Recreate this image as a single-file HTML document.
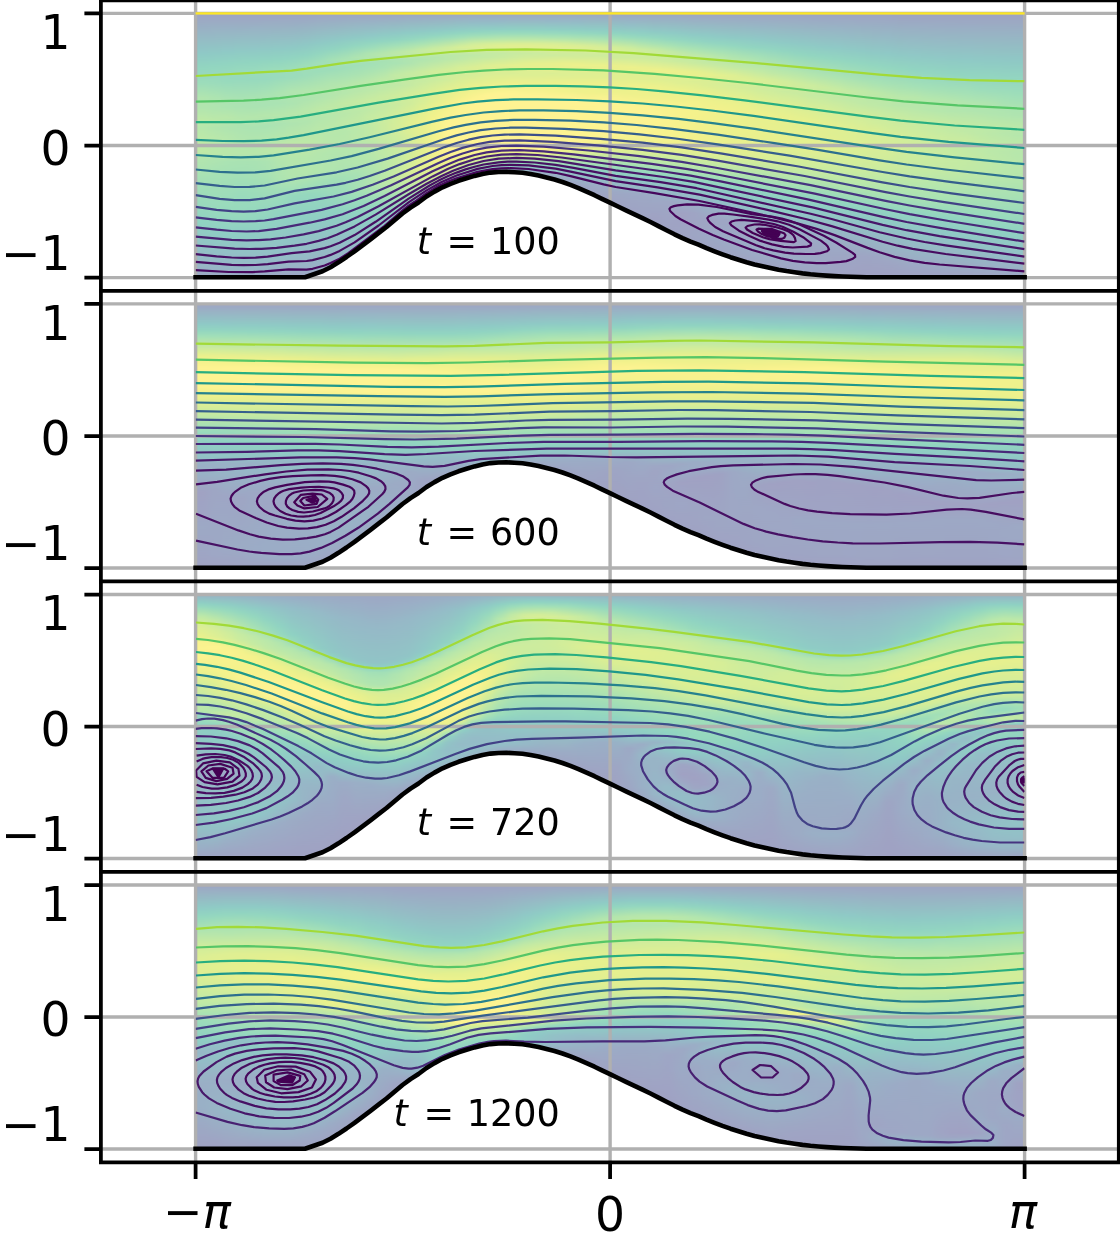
<!DOCTYPE html><html><head><meta charset="utf-8"><title>streamlines</title><style>html,body{margin:0;padding:0;background:#fff}svg{display:block}text{font-family:"DejaVu Sans","Liberation Sans",sans-serif;fill:#000}</style></head><body>
<svg width="1120" height="1240" viewBox="0 0 1120 1240">
<rect width="1120" height="1240" fill="#fff"/>
<defs><clipPath id="c0"><path d="M195.6 13.4 L1024.6 13.4 L1024.6 277.2 L898.5 277.2 L890.5 277.2 L882.5 277.2 L874.5 277.2 L866.5 277.2 L858.5 277 L850.5 276.8 L842.5 276.5 L834.5 276.1 L826.5 275.6 L818.5 275 L810.5 274.3 L802.5 273.4 L794.5 272.3 L786.5 271.1 L778.5 269.7 L770.5 268 L762.5 266.3 L754.5 264.5 L746.5 262.3 L738.5 259.8 L730.5 257.2 L722.5 254.4 L714.5 251.4 L706.5 248.2 L698.5 244.7 L690.5 241.6 L682.5 238.1 L674.5 234.3 L666.5 230.2 L658.5 226.1 L650.5 222 L642.5 218.1 L634.5 214.3 L626.5 210.6 L618.5 206.8 L610.5 202.9 L602.5 199.1 L594.5 195.2 L586.5 191.6 L578.5 188.1 L570.5 184.9 L562.5 182 L554.5 179.5 L546.5 177.6 L538.5 175.6 L530.5 174 L522.5 172.8 L514.5 172.2 L506.5 171.8 L498.5 172 L490.5 172.6 L482.5 173.9 L474.5 175.9 L466.5 178.3 L458.5 180.8 L450.5 183.8 L442.5 187.3 L434.5 191.6 L426.5 196.5 L418.5 202.5 L410.5 207.6 L402.5 213.5 L394.5 220.3 L386.5 227 L378.5 233.2 L370.5 239.3 L362.5 245.3 L354.5 251.3 L346.5 257 L338.5 262.3 L330.5 267.2 L322.5 271.3 L305 277.2 L195.6 277.2Z"/></clipPath><linearGradient id="g0_0" gradientUnits="userSpaceOnUse" x1="0" y1="13.4" x2="0" y2="277.6"><stop offset="0" stop-color="#9fa3c4"/><stop offset=".152" stop-color="#8fc9c6"/><stop offset=".205" stop-color="#92d5c0"/><stop offset=".265" stop-color="#9dddba"/><stop offset=".318" stop-color="#b1e5af"/><stop offset=".356" stop-color="#b1e5af"/><stop offset=".402" stop-color="#bee9a7"/><stop offset=".432" stop-color="#b6e7ac"/><stop offset=".477" stop-color="#bee9a7"/><stop offset=".523" stop-color="#c0e9a6"/><stop offset=".553" stop-color="#b2e5ae"/><stop offset=".591" stop-color="#ade4b1"/><stop offset=".621" stop-color="#a7e1b4"/><stop offset=".788" stop-color="#90d3c2"/><stop offset=".886" stop-color="#92c1c6"/><stop offset=".962" stop-color="#98b4c6"/><stop offset="1" stop-color="#9ea6c4"/></linearGradient><linearGradient id="g0_1" gradientUnits="userSpaceOnUse" x1="0" y1="13.4" x2="0" y2="277.6"><stop offset="0" stop-color="#9fa3c4"/><stop offset=".152" stop-color="#8fc9c6"/><stop offset=".205" stop-color="#92d5c0"/><stop offset=".265" stop-color="#9dddba"/><stop offset=".318" stop-color="#b1e5af"/><stop offset=".356" stop-color="#b1e5af"/><stop offset=".402" stop-color="#bee9a7"/><stop offset=".432" stop-color="#b6e7ac"/><stop offset=".477" stop-color="#bee9a7"/><stop offset=".523" stop-color="#c0e9a6"/><stop offset=".553" stop-color="#b2e5ae"/><stop offset=".591" stop-color="#ade4b1"/><stop offset=".621" stop-color="#a7e1b4"/><stop offset=".788" stop-color="#90d3c2"/><stop offset=".886" stop-color="#92c1c6"/><stop offset=".962" stop-color="#98b4c6"/><stop offset="1" stop-color="#9ea6c4"/></linearGradient><linearGradient id="g0_2" gradientUnits="userSpaceOnUse" x1="0" y1="13.4" x2="0" y2="277.6"><stop offset="0" stop-color="#9fa3c4"/><stop offset=".152" stop-color="#8fc9c6"/><stop offset=".205" stop-color="#92d5c0"/><stop offset=".265" stop-color="#9dddba"/><stop offset=".318" stop-color="#b1e5af"/><stop offset=".356" stop-color="#b1e5af"/><stop offset=".402" stop-color="#bee9a7"/><stop offset=".432" stop-color="#b6e7ac"/><stop offset=".477" stop-color="#bee9a7"/><stop offset=".523" stop-color="#c0e9a6"/><stop offset=".553" stop-color="#b2e5ae"/><stop offset=".591" stop-color="#ade4b1"/><stop offset=".621" stop-color="#a7e1b4"/><stop offset=".788" stop-color="#90d3c2"/><stop offset=".886" stop-color="#92c1c6"/><stop offset=".962" stop-color="#98b4c6"/><stop offset="1" stop-color="#9ea6c4"/></linearGradient><linearGradient id="g0_3" gradientUnits="userSpaceOnUse" x1="0" y1="13.4" x2="0" y2="277.6"><stop offset="0" stop-color="#9fa3c4"/><stop offset=".152" stop-color="#8fcac5"/><stop offset=".197" stop-color="#92d5c1"/><stop offset=".265" stop-color="#9cdcbb"/><stop offset=".318" stop-color="#ade4b1"/><stop offset=".364" stop-color="#b1e5af"/><stop offset=".402" stop-color="#bbe8a9"/><stop offset=".432" stop-color="#b2e5ae"/><stop offset=".477" stop-color="#bae8aa"/><stop offset=".53" stop-color="#bbe8a9"/><stop offset=".553" stop-color="#afe4b0"/><stop offset=".598" stop-color="#a8e2b4"/><stop offset=".735" stop-color="#99dabd"/><stop offset=".826" stop-color="#8fcec4"/><stop offset=".924" stop-color="#94bdc7"/><stop offset=".97" stop-color="#98b3c6"/><stop offset="1" stop-color="#9ea7c5"/></linearGradient><linearGradient id="g0_4" gradientUnits="userSpaceOnUse" x1="0" y1="13.4" x2="0" y2="277.6"><stop offset="0" stop-color="#9fa3c4"/><stop offset=".144" stop-color="#8fc9c6"/><stop offset=".189" stop-color="#91d4c1"/><stop offset=".227" stop-color="#97d9bd"/><stop offset=".258" stop-color="#98dabd"/><stop offset=".326" stop-color="#ace3b2"/><stop offset=".356" stop-color="#ade4b1"/><stop offset=".394" stop-color="#b9e7aa"/><stop offset=".432" stop-color="#afe4b0"/><stop offset=".477" stop-color="#b6e7ac"/><stop offset=".53" stop-color="#b9e7aa"/><stop offset=".561" stop-color="#aae3b3"/><stop offset=".598" stop-color="#a7e1b4"/><stop offset=".705" stop-color="#9bdcbb"/><stop offset=".773" stop-color="#95d8be"/><stop offset=".826" stop-color="#8fcfc4"/><stop offset=".924" stop-color="#94bdc7"/><stop offset=".97" stop-color="#97b5c6"/><stop offset="1" stop-color="#9da8c5"/></linearGradient><linearGradient id="g0_5" gradientUnits="userSpaceOnUse" x1="0" y1="13.4" x2="0" y2="277.6"><stop offset="0" stop-color="#9fa3c4"/><stop offset=".144" stop-color="#8fcac5"/><stop offset=".189" stop-color="#92d5c0"/><stop offset=".22" stop-color="#98dabd"/><stop offset=".25" stop-color="#97d9be"/><stop offset=".326" stop-color="#aae3b3"/><stop offset=".356" stop-color="#ace3b2"/><stop offset=".402" stop-color="#b6e7ac"/><stop offset=".424" stop-color="#ace3b2"/><stop offset=".492" stop-color="#b4e6ad"/><stop offset=".53" stop-color="#b8e7ab"/><stop offset=".561" stop-color="#a9e2b3"/><stop offset=".598" stop-color="#a6e1b5"/><stop offset=".689" stop-color="#9adbbc"/><stop offset=".765" stop-color="#97d9bd"/><stop offset=".818" stop-color="#8fd0c3"/><stop offset=".924" stop-color="#93bec7"/><stop offset=".97" stop-color="#97b6c7"/><stop offset="1" stop-color="#9da9c5"/></linearGradient><linearGradient id="g0_6" gradientUnits="userSpaceOnUse" x1="0" y1="13.4" x2="0" y2="277.6"><stop offset="0" stop-color="#9fa3c4"/><stop offset=".136" stop-color="#90c8c6"/><stop offset=".182" stop-color="#91d4c1"/><stop offset=".22" stop-color="#99dabd"/><stop offset=".25" stop-color="#97d9be"/><stop offset=".318" stop-color="#a9e2b3"/><stop offset=".356" stop-color="#abe3b2"/><stop offset=".394" stop-color="#b5e6ac"/><stop offset=".432" stop-color="#abe3b2"/><stop offset=".53" stop-color="#b8e7ab"/><stop offset=".561" stop-color="#a9e2b3"/><stop offset=".598" stop-color="#a7e1b4"/><stop offset=".689" stop-color="#9bdcbb"/><stop offset=".773" stop-color="#94d7bf"/><stop offset=".833" stop-color="#8fcdc4"/><stop offset=".932" stop-color="#94bdc7"/><stop offset=".97" stop-color="#97b6c7"/><stop offset="1" stop-color="#9da8c5"/></linearGradient><linearGradient id="g0_7" gradientUnits="userSpaceOnUse" x1="0" y1="13.4" x2="0" y2="277.6"><stop offset="0" stop-color="#9fa3c4"/><stop offset=".136" stop-color="#8fc9c5"/><stop offset=".182" stop-color="#92d5c0"/><stop offset=".212" stop-color="#9adbbc"/><stop offset=".25" stop-color="#98dabd"/><stop offset=".311" stop-color="#aae3b3"/><stop offset=".348" stop-color="#aae3b3"/><stop offset=".386" stop-color="#b5e6ac"/><stop offset=".409" stop-color="#b0e4b0"/><stop offset=".424" stop-color="#aae3b3"/><stop offset=".523" stop-color="#bbe8a9"/><stop offset=".561" stop-color="#ace3b2"/><stop offset=".606" stop-color="#a9e2b3"/><stop offset=".788" stop-color="#90d3c2"/><stop offset=".917" stop-color="#93bfc7"/><stop offset=".97" stop-color="#97b4c6"/><stop offset="1" stop-color="#9ea6c5"/></linearGradient><linearGradient id="g0_8" gradientUnits="userSpaceOnUse" x1="0" y1="13.4" x2="0" y2="277.6"><stop offset="0" stop-color="#9fa3c4"/><stop offset=".136" stop-color="#8fcac5"/><stop offset=".174" stop-color="#91d4c1"/><stop offset=".212" stop-color="#9bdcbb"/><stop offset=".242" stop-color="#99dbbc"/><stop offset=".303" stop-color="#ade4b1"/><stop offset=".341" stop-color="#aae3b3"/><stop offset=".386" stop-color="#b6e7ac"/><stop offset=".417" stop-color="#ace3b2"/><stop offset=".455" stop-color="#b2e5ae"/><stop offset=".515" stop-color="#bfe9a7"/><stop offset=".538" stop-color="#b6e7ac"/><stop offset=".561" stop-color="#b2e5ae"/><stop offset=".629" stop-color="#ade4b1"/><stop offset=".689" stop-color="#9cdcbb"/><stop offset=".758" stop-color="#91d4c1"/><stop offset=".871" stop-color="#91c5c6"/><stop offset=".917" stop-color="#93bfc7"/><stop offset=".97" stop-color="#99b1c6"/><stop offset="1" stop-color="#9ea5c4"/></linearGradient><linearGradient id="g0_9" gradientUnits="userSpaceOnUse" x1="0" y1="13.4" x2="0" y2="277.6"><stop offset="0" stop-color="#9fa3c4"/><stop offset=".129" stop-color="#8fc9c5"/><stop offset=".167" stop-color="#91d4c1"/><stop offset=".205" stop-color="#9cdcbb"/><stop offset=".242" stop-color="#9cdcbb"/><stop offset=".295" stop-color="#b1e5af"/><stop offset=".341" stop-color="#ade4b1"/><stop offset=".379" stop-color="#b8e7ab"/><stop offset=".417" stop-color="#afe4b0"/><stop offset=".508" stop-color="#c1e9a5"/><stop offset=".545" stop-color="#b6e7ac"/><stop offset=".621" stop-color="#b2e5ae"/><stop offset=".667" stop-color="#a2dfb8"/><stop offset=".689" stop-color="#96d8be"/><stop offset=".78" stop-color="#8fd0c3"/><stop offset=".856" stop-color="#91c4c6"/><stop offset=".902" stop-color="#92c1c7"/><stop offset=".97" stop-color="#9aafc6"/><stop offset="1" stop-color="#9fa4c4"/></linearGradient><linearGradient id="g0_10" gradientUnits="userSpaceOnUse" x1="0" y1="13.4" x2="0" y2="277.6"><stop offset="0" stop-color="#9fa3c4"/><stop offset=".121" stop-color="#8fc9c5"/><stop offset=".159" stop-color="#91d4c1"/><stop offset=".197" stop-color="#9fdeb9"/><stop offset=".235" stop-color="#9eddba"/><stop offset=".295" stop-color="#b3e6ae"/><stop offset=".326" stop-color="#afe4b0"/><stop offset=".371" stop-color="#bae8aa"/><stop offset=".409" stop-color="#b1e5af"/><stop offset=".5" stop-color="#c0e9a6"/><stop offset=".545" stop-color="#b6e7ac"/><stop offset=".606" stop-color="#b4e6ad"/><stop offset=".659" stop-color="#a1dfb8"/><stop offset=".682" stop-color="#96d8be"/><stop offset=".773" stop-color="#8fd0c3"/><stop offset=".856" stop-color="#92c3c6"/><stop offset=".902" stop-color="#94bdc7"/><stop offset=".97" stop-color="#9aafc6"/><stop offset="1" stop-color="#9fa4c4"/></linearGradient><linearGradient id="g0_11" gradientUnits="userSpaceOnUse" x1="0" y1="13.4" x2="0" y2="277.6"><stop offset="0" stop-color="#9fa4c4"/><stop offset=".114" stop-color="#8fcac5"/><stop offset=".152" stop-color="#93d6c0"/><stop offset=".189" stop-color="#a2dfb8"/><stop offset=".22" stop-color="#9dddba"/><stop offset=".288" stop-color="#b4e6ad"/><stop offset=".318" stop-color="#b1e5af"/><stop offset=".364" stop-color="#bee9a7"/><stop offset=".394" stop-color="#b4e6ad"/><stop offset=".439" stop-color="#bae8aa"/><stop offset=".477" stop-color="#bae8aa"/><stop offset=".5" stop-color="#bce8a8"/><stop offset=".53" stop-color="#b4e6ad"/><stop offset=".598" stop-color="#b3e6ae"/><stop offset=".636" stop-color="#a4e0b6"/><stop offset=".689" stop-color="#95d8be"/><stop offset=".788" stop-color="#8fccc5"/><stop offset=".955" stop-color="#98b2c6"/><stop offset="1" stop-color="#9fa3c4"/></linearGradient><linearGradient id="g0_12" gradientUnits="userSpaceOnUse" x1="0" y1="13.4" x2="0" y2="273.5"><stop offset="0" stop-color="#9fa4c4"/><stop offset=".108" stop-color="#8fcac5"/><stop offset=".138" stop-color="#91d4c1"/><stop offset=".177" stop-color="#a4e0b6"/><stop offset=".2" stop-color="#a2dfb8"/><stop offset=".215" stop-color="#9dddba"/><stop offset=".269" stop-color="#b1e5af"/><stop offset=".292" stop-color="#b5e6ac"/><stop offset=".315" stop-color="#b4e6ad"/><stop offset=".362" stop-color="#c0e9a6"/><stop offset=".392" stop-color="#b6e7ac"/><stop offset=".438" stop-color="#bbe8a9"/><stop offset=".469" stop-color="#b6e7ac"/><stop offset=".5" stop-color="#b9e7aa"/><stop offset=".531" stop-color="#b3e6ae"/><stop offset=".6" stop-color="#b1e5af"/><stop offset=".638" stop-color="#a3e0b7"/><stop offset=".769" stop-color="#8fd1c3"/><stop offset=".954" stop-color="#97b4c6"/><stop offset="1" stop-color="#9ea7c5"/></linearGradient><linearGradient id="g0_13" gradientUnits="userSpaceOnUse" x1="0" y1="13.4" x2="0" y2="265.5"><stop offset="0" stop-color="#9fa4c4"/><stop offset=".103" stop-color="#8fcac5"/><stop offset=".135" stop-color="#92d5c0"/><stop offset=".183" stop-color="#aae3b3"/><stop offset=".214" stop-color="#9fdeb9"/><stop offset=".246" stop-color="#a8e2b4"/><stop offset=".286" stop-color="#b6e7ac"/><stop offset=".317" stop-color="#b6e7ac"/><stop offset=".357" stop-color="#c3eaa4"/><stop offset=".397" stop-color="#b9e7aa"/><stop offset=".437" stop-color="#bfe9a7"/><stop offset=".468" stop-color="#b6e7ac"/><stop offset=".508" stop-color="#b8e7ab"/><stop offset=".54" stop-color="#b4e6ad"/><stop offset=".611" stop-color="#b0e4b0"/><stop offset=".651" stop-color="#a4e0b6"/><stop offset=".738" stop-color="#9adbbc"/><stop offset=".786" stop-color="#90d3c2"/><stop offset=".897" stop-color="#93c0c7"/><stop offset=".96" stop-color="#96b7c7"/><stop offset="1" stop-color="#9badc6"/></linearGradient><linearGradient id="g0_14" gradientUnits="userSpaceOnUse" x1="0" y1="13.4" x2="0" y2="255.5"><stop offset="0" stop-color="#9fa4c4"/><stop offset=".099" stop-color="#8fc9c5"/><stop offset=".132" stop-color="#93d6c0"/><stop offset=".182" stop-color="#afe4b0"/><stop offset=".215" stop-color="#a1dfb8"/><stop offset=".248" stop-color="#a9e2b3"/><stop offset=".289" stop-color="#b9e7aa"/><stop offset=".322" stop-color="#b9e7aa"/><stop offset=".364" stop-color="#c5eaa3"/><stop offset=".405" stop-color="#bce8a8"/><stop offset=".446" stop-color="#c1e9a5"/><stop offset=".479" stop-color="#bae8aa"/><stop offset=".512" stop-color="#bce8a8"/><stop offset=".545" stop-color="#b6e7ac"/><stop offset=".62" stop-color="#b3e6ae"/><stop offset=".669" stop-color="#a7e1b4"/><stop offset=".727" stop-color="#a7e1b4"/><stop offset=".769" stop-color="#9bdcbb"/><stop offset=".826" stop-color="#90d3c2"/><stop offset=".909" stop-color="#91c4c6"/><stop offset=".959" stop-color="#94bcc7"/><stop offset="1" stop-color="#98b2c6"/></linearGradient><linearGradient id="g0_15" gradientUnits="userSpaceOnUse" x1="0" y1="13.4" x2="0" y2="245.5"><stop offset="0" stop-color="#9fa4c4"/><stop offset=".095" stop-color="#90c8c6"/><stop offset=".121" stop-color="#90d3c2"/><stop offset=".147" stop-color="#9cdcbb"/><stop offset=".172" stop-color="#afe4b0"/><stop offset=".19" stop-color="#b2e5ae"/><stop offset=".216" stop-color="#a3e0b7"/><stop offset=".25" stop-color="#abe3b2"/><stop offset=".293" stop-color="#bbe8a9"/><stop offset=".328" stop-color="#bbe8a9"/><stop offset=".371" stop-color="#c8eba1"/><stop offset=".414" stop-color="#c0e9a6"/><stop offset=".448" stop-color="#c6eba2"/><stop offset=".491" stop-color="#c1e9a5"/><stop offset=".526" stop-color="#c1e9a5"/><stop offset=".56" stop-color="#bbe8a9"/><stop offset=".647" stop-color="#b4e6ad"/><stop offset=".69" stop-color="#afe4b0"/><stop offset=".733" stop-color="#b1e5af"/><stop offset=".767" stop-color="#aae3b3"/><stop offset=".81" stop-color="#99dbbc"/><stop offset=".888" stop-color="#8fccc5"/><stop offset=".948" stop-color="#92c2c6"/><stop offset="1" stop-color="#98b3c6"/></linearGradient><linearGradient id="g0_16" gradientUnits="userSpaceOnUse" x1="0" y1="13.4" x2="0" y2="235.5"><stop offset="0" stop-color="#9fa4c4"/><stop offset=".099" stop-color="#8fcbc5"/><stop offset=".126" stop-color="#92d5c0"/><stop offset=".162" stop-color="#a9e2b3"/><stop offset=".18" stop-color="#b5e6ac"/><stop offset=".189" stop-color="#b8e7ab"/><stop offset=".216" stop-color="#a7e1b4"/><stop offset=".243" stop-color="#aae3b3"/><stop offset=".297" stop-color="#bfe9a7"/><stop offset=".333" stop-color="#bee9a7"/><stop offset=".378" stop-color="#caeb9f"/><stop offset=".423" stop-color="#c4eaa3"/><stop offset=".468" stop-color="#cbec9f"/><stop offset=".505" stop-color="#caeb9f"/><stop offset=".532" stop-color="#caeb9f"/><stop offset=".577" stop-color="#c3eaa4"/><stop offset=".703" stop-color="#b9e7aa"/><stop offset=".766" stop-color="#bbe8a9"/><stop offset=".829" stop-color="#a2dfb8"/><stop offset=".901" stop-color="#90d2c2"/><stop offset=".964" stop-color="#93bfc7"/><stop offset="1" stop-color="#97b5c7"/></linearGradient><linearGradient id="g0_17" gradientUnits="userSpaceOnUse" x1="0" y1="13.4" x2="0" y2="225.5"><stop offset="0" stop-color="#9fa4c4"/><stop offset=".094" stop-color="#8fc9c5"/><stop offset=".123" stop-color="#91d4c1"/><stop offset=".151" stop-color="#a2dfb8"/><stop offset=".179" stop-color="#b9e7aa"/><stop offset=".189" stop-color="#bce8a8"/><stop offset=".198" stop-color="#bae8aa"/><stop offset=".217" stop-color="#ace3b2"/><stop offset=".236" stop-color="#aae3b3"/><stop offset=".292" stop-color="#c3eaa4"/><stop offset=".34" stop-color="#c0e9a6"/><stop offset=".387" stop-color="#ceec9d"/><stop offset=".434" stop-color="#c9eba0"/><stop offset=".481" stop-color="#d2ed9a"/><stop offset=".538" stop-color="#d5ed99"/><stop offset=".585" stop-color="#cbec9f"/><stop offset=".708" stop-color="#c5eaa3"/><stop offset=".774" stop-color="#c9eba0"/><stop offset=".811" stop-color="#bbe8a9"/><stop offset=".896" stop-color="#9cdcbb"/><stop offset=".934" stop-color="#8fcfc4"/><stop offset=".991" stop-color="#97b5c7"/><stop offset="1" stop-color="#97b4c6"/></linearGradient><linearGradient id="g0_18" gradientUnits="userSpaceOnUse" x1="0" y1="13.4" x2="0" y2="215.5"><stop offset="0" stop-color="#9ea5c4"/><stop offset=".099" stop-color="#8fccc5"/><stop offset=".129" stop-color="#94d7bf"/><stop offset=".158" stop-color="#a9e2b3"/><stop offset=".188" stop-color="#c0e9a6"/><stop offset=".198" stop-color="#c0e9a6"/><stop offset=".228" stop-color="#afe4b0"/><stop offset=".248" stop-color="#b0e4b0"/><stop offset=".297" stop-color="#c6eba2"/><stop offset=".327" stop-color="#c5eaa3"/><stop offset=".356" stop-color="#c5eaa3"/><stop offset=".396" stop-color="#d2ed9a"/><stop offset=".446" stop-color="#cfec9c"/><stop offset=".505" stop-color="#dbee94"/><stop offset=".545" stop-color="#e1ef91"/><stop offset=".624" stop-color="#d5ed99"/><stop offset=".683" stop-color="#d3ed99"/><stop offset=".762" stop-color="#d6ee98"/><stop offset=".792" stop-color="#d6ee98"/><stop offset=".861" stop-color="#bee9a7"/><stop offset=".891" stop-color="#b3e6ae"/><stop offset=".921" stop-color="#9adbbc"/><stop offset=".941" stop-color="#8fcec4"/><stop offset=".97" stop-color="#94bcc7"/><stop offset="1" stop-color="#96b7c7"/></linearGradient><linearGradient id="g0_19" gradientUnits="userSpaceOnUse" x1="0" y1="13.4" x2="0" y2="207.5"><stop offset="0" stop-color="#9ea5c4"/><stop offset=".093" stop-color="#8fcac5"/><stop offset=".124" stop-color="#93d6c0"/><stop offset=".155" stop-color="#a8e2b4"/><stop offset=".186" stop-color="#c4eaa3"/><stop offset=".196" stop-color="#c6eba2"/><stop offset=".206" stop-color="#c3eaa4"/><stop offset=".227" stop-color="#b4e6ad"/><stop offset=".237" stop-color="#b1e5af"/><stop offset=".268" stop-color="#bbe8a9"/><stop offset=".299" stop-color="#caeb9f"/><stop offset=".32" stop-color="#cbec9f"/><stop offset=".351" stop-color="#c8eba1"/><stop offset=".412" stop-color="#d7ee97"/><stop offset=".454" stop-color="#d7ee97"/><stop offset=".505" stop-color="#e3f08f"/><stop offset=".557" stop-color="#eaf08d"/><stop offset=".608" stop-color="#e5f08f"/><stop offset=".68" stop-color="#e2ef90"/><stop offset=".794" stop-color="#e5f08f"/><stop offset=".825" stop-color="#dbee94"/><stop offset=".887" stop-color="#c6eba2"/><stop offset=".907" stop-color="#b1e5af"/><stop offset=".928" stop-color="#94d7bf"/><stop offset=".938" stop-color="#8fcfc4"/><stop offset=".979" stop-color="#97b5c6"/><stop offset="1" stop-color="#9aafc6"/></linearGradient><linearGradient id="g0_20" gradientUnits="userSpaceOnUse" x1="0" y1="13.4" x2="0" y2="197.5"><stop offset="0" stop-color="#9ea5c4"/><stop offset=".098" stop-color="#8fccc5"/><stop offset=".12" stop-color="#92d5c1"/><stop offset=".152" stop-color="#a7e1b4"/><stop offset=".185" stop-color="#c5eaa3"/><stop offset=".196" stop-color="#cbec9f"/><stop offset=".207" stop-color="#caeb9f"/><stop offset=".228" stop-color="#bae8aa"/><stop offset=".239" stop-color="#b5e6ac"/><stop offset=".261" stop-color="#b9e7aa"/><stop offset=".315" stop-color="#d1ed9b"/><stop offset=".359" stop-color="#cbec9f"/><stop offset=".424" stop-color="#ddef93"/><stop offset=".467" stop-color="#e1ef91"/><stop offset=".522" stop-color="#edf18c"/><stop offset=".576" stop-color="#f3f28c"/><stop offset=".696" stop-color="#f3f28c"/><stop offset=".804" stop-color="#f3f28c"/><stop offset=".848" stop-color="#e3f08f"/><stop offset=".891" stop-color="#d7ee97"/><stop offset=".902" stop-color="#cfec9c"/><stop offset=".913" stop-color="#c3eaa4"/><stop offset=".935" stop-color="#9bdcbb"/><stop offset=".946" stop-color="#8fd1c3"/><stop offset=".967" stop-color="#94bdc7"/><stop offset=".989" stop-color="#97b4c6"/><stop offset="1" stop-color="#98b2c6"/></linearGradient><linearGradient id="g0_21" gradientUnits="userSpaceOnUse" x1="0" y1="13.4" x2="0" y2="191.5"><stop offset="0" stop-color="#9ea5c4"/><stop offset=".09" stop-color="#8fcac5"/><stop offset=".112" stop-color="#91d3c2"/><stop offset=".135" stop-color="#9cdcbb"/><stop offset=".191" stop-color="#ceec9d"/><stop offset=".202" stop-color="#d1ed9b"/><stop offset=".213" stop-color="#cbec9f"/><stop offset=".236" stop-color="#bae8aa"/><stop offset=".258" stop-color="#bbe8a9"/><stop offset=".315" stop-color="#d3ed99"/><stop offset=".337" stop-color="#d3ed99"/><stop offset=".371" stop-color="#d1ed9b"/><stop offset=".427" stop-color="#e2ef90"/><stop offset=".472" stop-color="#e9f08d"/><stop offset=".506" stop-color="#f2f18c"/><stop offset=".629" stop-color="#fef392"/><stop offset=".798" stop-color="#fdf391"/><stop offset=".843" stop-color="#edf18c"/><stop offset=".888" stop-color="#d6ee98"/><stop offset=".899" stop-color="#ceec9d"/><stop offset=".91" stop-color="#c0e9a6"/><stop offset=".933" stop-color="#96d8be"/><stop offset=".944" stop-color="#8fccc5"/><stop offset=".966" stop-color="#96b9c7"/><stop offset="1" stop-color="#9aafc6"/></linearGradient><linearGradient id="g0_22" gradientUnits="userSpaceOnUse" x1="0" y1="13.4" x2="0" y2="187.5"><stop offset="0" stop-color="#9ea5c4"/><stop offset=".092" stop-color="#8fccc5"/><stop offset=".115" stop-color="#93d6c0"/><stop offset=".138" stop-color="#a2dfb8"/><stop offset=".184" stop-color="#cfec9c"/><stop offset=".195" stop-color="#d6ee98"/><stop offset=".207" stop-color="#d3ed99"/><stop offset=".23" stop-color="#c1e9a5"/><stop offset=".241" stop-color="#bce8a8"/><stop offset=".264" stop-color="#c0e9a6"/><stop offset=".31" stop-color="#d6ee98"/><stop offset=".333" stop-color="#d7ee97"/><stop offset=".356" stop-color="#d3ed99"/><stop offset=".402" stop-color="#dfef92"/><stop offset=".46" stop-color="#eef18c"/><stop offset=".506" stop-color="#f8f28e"/><stop offset=".552" stop-color="#fcf390"/><stop offset=".678" stop-color="#fef392"/><stop offset=".805" stop-color="#fef392"/><stop offset=".839" stop-color="#eef18c"/><stop offset=".874" stop-color="#d3ed99"/><stop offset=".897" stop-color="#bee9a7"/><stop offset=".92" stop-color="#9cdcbb"/><stop offset=".931" stop-color="#8fd0c3"/><stop offset=".954" stop-color="#95b9c7"/><stop offset=".977" stop-color="#9badc6"/><stop offset="1" stop-color="#9da9c5"/></linearGradient><linearGradient id="g0_23" gradientUnits="userSpaceOnUse" x1="0" y1="13.4" x2="0" y2="183.5"><stop offset="0" stop-color="#9ea6c4"/><stop offset=".059" stop-color="#93bec7"/><stop offset=".106" stop-color="#90d3c2"/><stop offset=".129" stop-color="#9dddba"/><stop offset=".176" stop-color="#cdec9e"/><stop offset=".188" stop-color="#d6ee98"/><stop offset=".2" stop-color="#daee95"/><stop offset=".212" stop-color="#d5ed99"/><stop offset=".235" stop-color="#c3eaa4"/><stop offset=".247" stop-color="#bfe9a7"/><stop offset=".282" stop-color="#cbec9f"/><stop offset=".318" stop-color="#dbee94"/><stop offset=".365" stop-color="#d6ee98"/><stop offset=".435" stop-color="#edf18c"/><stop offset=".506" stop-color="#fdf391"/><stop offset=".812" stop-color="#fef392"/><stop offset=".835" stop-color="#f0f18c"/><stop offset=".859" stop-color="#ddef93"/><stop offset=".894" stop-color="#b8e7ab"/><stop offset=".918" stop-color="#97d9bd"/><stop offset=".929" stop-color="#8fcec4"/><stop offset=".953" stop-color="#96b8c7"/><stop offset=".988" stop-color="#9cabc5"/><stop offset="1" stop-color="#9da8c5"/></linearGradient><linearGradient id="g0_24" gradientUnits="userSpaceOnUse" x1="0" y1="13.4" x2="0" y2="179.5"><stop offset="0" stop-color="#9ea6c4"/><stop offset=".06" stop-color="#93bec7"/><stop offset=".096" stop-color="#8fcfc4"/><stop offset=".12" stop-color="#97d9bd"/><stop offset=".145" stop-color="#abe3b2"/><stop offset=".181" stop-color="#d3ed99"/><stop offset=".193" stop-color="#dbee94"/><stop offset=".205" stop-color="#ddef93"/><stop offset=".217" stop-color="#d6ee98"/><stop offset=".229" stop-color="#caeb9f"/><stop offset=".241" stop-color="#c4eaa3"/><stop offset=".265" stop-color="#c5eaa3"/><stop offset=".313" stop-color="#ddef93"/><stop offset=".337" stop-color="#deef93"/><stop offset=".361" stop-color="#d9ee96"/><stop offset=".398" stop-color="#e1ef91"/><stop offset=".446" stop-color="#f0f18c"/><stop offset=".494" stop-color="#fef392"/><stop offset=".819" stop-color="#fef392"/><stop offset=".843" stop-color="#f0f18c"/><stop offset=".855" stop-color="#e5f08f"/><stop offset=".904" stop-color="#ade4b1"/><stop offset=".928" stop-color="#91d3c2"/><stop offset=".94" stop-color="#90c7c6"/><stop offset=".964" stop-color="#98b2c6"/><stop offset=".988" stop-color="#9da9c5"/><stop offset="1" stop-color="#9ea7c5"/></linearGradient><linearGradient id="g0_25" gradientUnits="userSpaceOnUse" x1="0" y1="13.4" x2="0" y2="179.5"><stop offset="0" stop-color="#9ea6c4"/><stop offset=".048" stop-color="#95b9c7"/><stop offset=".096" stop-color="#8fcfc4"/><stop offset=".12" stop-color="#99dabd"/><stop offset=".157" stop-color="#bbe8a9"/><stop offset=".181" stop-color="#d6ee98"/><stop offset=".193" stop-color="#dfef92"/><stop offset=".205" stop-color="#dfef92"/><stop offset=".229" stop-color="#cbec9f"/><stop offset=".241" stop-color="#c5eaa3"/><stop offset=".265" stop-color="#c9eba0"/><stop offset=".313" stop-color="#e1ef91"/><stop offset=".337" stop-color="#dfef92"/><stop offset=".361" stop-color="#daee95"/><stop offset=".398" stop-color="#e3f08f"/><stop offset=".446" stop-color="#f3f28c"/><stop offset=".482" stop-color="#fef392"/><stop offset=".819" stop-color="#fef392"/><stop offset=".831" stop-color="#f6f28d"/><stop offset=".843" stop-color="#e9f08d"/><stop offset=".892" stop-color="#ace3b2"/><stop offset=".916" stop-color="#91d4c1"/><stop offset=".928" stop-color="#90c8c6"/><stop offset=".952" stop-color="#99b1c6"/><stop offset=".976" stop-color="#9caac5"/><stop offset=".988" stop-color="#9da8c5"/><stop offset="1" stop-color="#a0a1c3"/></linearGradient><linearGradient id="g0_26" gradientUnits="userSpaceOnUse" x1="0" y1="13.4" x2="0" y2="179.5"><stop offset="0" stop-color="#9ea6c4"/><stop offset=".036" stop-color="#98b4c6"/><stop offset=".096" stop-color="#8fd0c3"/><stop offset=".12" stop-color="#99dbbc"/><stop offset=".157" stop-color="#bce8a8"/><stop offset=".181" stop-color="#d9ee96"/><stop offset=".193" stop-color="#e1ef91"/><stop offset=".205" stop-color="#e1ef91"/><stop offset=".229" stop-color="#cdec9e"/><stop offset=".241" stop-color="#c8eba1"/><stop offset=".265" stop-color="#cdec9e"/><stop offset=".313" stop-color="#e5f08f"/><stop offset=".361" stop-color="#daee95"/><stop offset=".422" stop-color="#eef18c"/><stop offset=".482" stop-color="#fef392"/><stop offset=".819" stop-color="#fef392"/><stop offset=".831" stop-color="#f3f28c"/><stop offset=".843" stop-color="#e5f08f"/><stop offset=".892" stop-color="#a4e0b6"/><stop offset=".904" stop-color="#97d9bd"/><stop offset=".916" stop-color="#8fd0c3"/><stop offset=".952" stop-color="#9aafc6"/><stop offset=".976" stop-color="#9da8c5"/><stop offset="1" stop-color="#a0a1c3"/></linearGradient><linearGradient id="g0_27" gradientUnits="userSpaceOnUse" x1="0" y1="13.4" x2="0" y2="179.5"><stop offset="0" stop-color="#9ea6c4"/><stop offset=".036" stop-color="#98b4c6"/><stop offset=".096" stop-color="#8fd0c3"/><stop offset=".12" stop-color="#99dbbc"/><stop offset=".157" stop-color="#bce8a8"/><stop offset=".181" stop-color="#d9ee96"/><stop offset=".193" stop-color="#e1ef91"/><stop offset=".205" stop-color="#e1ef91"/><stop offset=".229" stop-color="#cfec9c"/><stop offset=".241" stop-color="#caeb9f"/><stop offset=".265" stop-color="#d1ed9b"/><stop offset=".301" stop-color="#e3f08f"/><stop offset=".325" stop-color="#e6f08e"/><stop offset=".349" stop-color="#ddef93"/><stop offset=".373" stop-color="#ddef93"/><stop offset=".434" stop-color="#f0f18c"/><stop offset=".494" stop-color="#fef392"/><stop offset=".819" stop-color="#fef392"/><stop offset=".831" stop-color="#f3f28c"/><stop offset=".843" stop-color="#e5f08f"/><stop offset=".892" stop-color="#a2dfb7"/><stop offset=".904" stop-color="#97d9be"/><stop offset=".916" stop-color="#8fd0c3"/><stop offset=".952" stop-color="#99b0c6"/><stop offset=".976" stop-color="#9ea5c4"/><stop offset="1" stop-color="#9fa2c3"/></linearGradient><linearGradient id="g0_28" gradientUnits="userSpaceOnUse" x1="0" y1="13.4" x2="0" y2="183.5"><stop offset="0" stop-color="#9ea6c4"/><stop offset=".035" stop-color="#98b4c6"/><stop offset=".094" stop-color="#8fd0c3"/><stop offset=".118" stop-color="#99dabd"/><stop offset=".153" stop-color="#bbe8a9"/><stop offset=".176" stop-color="#d7ee97"/><stop offset=".188" stop-color="#dfef92"/><stop offset=".2" stop-color="#e1ef91"/><stop offset=".235" stop-color="#cbec9f"/><stop offset=".259" stop-color="#d2ed9a"/><stop offset=".294" stop-color="#e6f08e"/><stop offset=".318" stop-color="#e7f08e"/><stop offset=".341" stop-color="#ddef93"/><stop offset=".365" stop-color="#ddef93"/><stop offset=".424" stop-color="#eff18c"/><stop offset=".482" stop-color="#fef392"/><stop offset=".8" stop-color="#fdf391"/><stop offset=".812" stop-color="#f3f28c"/><stop offset=".824" stop-color="#e6f08e"/><stop offset=".871" stop-color="#a5e1b6"/><stop offset=".882" stop-color="#99dabd"/><stop offset=".894" stop-color="#90d3c2"/><stop offset=".906" stop-color="#8fcac5"/><stop offset=".941" stop-color="#9aaec6"/><stop offset=".965" stop-color="#9ea5c4"/><stop offset="1" stop-color="#a0a1c3"/></linearGradient><linearGradient id="g0_29" gradientUnits="userSpaceOnUse" x1="0" y1="13.4" x2="0" y2="185.5"><stop offset="0" stop-color="#9ea6c4"/><stop offset=".047" stop-color="#95b9c7"/><stop offset=".093" stop-color="#8fcfc4"/><stop offset=".116" stop-color="#98dabd"/><stop offset=".14" stop-color="#ace3b2"/><stop offset=".174" stop-color="#d5ed99"/><stop offset=".186" stop-color="#deef93"/><stop offset=".198" stop-color="#e1ef91"/><stop offset=".221" stop-color="#d2ed9a"/><stop offset=".244" stop-color="#ceec9d"/><stop offset=".291" stop-color="#e7f08e"/><stop offset=".314" stop-color="#e9f08d"/><stop offset=".349" stop-color="#dbee94"/><stop offset=".384" stop-color="#e5f08f"/><stop offset=".407" stop-color="#edf18c"/><stop offset=".453" stop-color="#f6f28d"/><stop offset=".488" stop-color="#fef392"/><stop offset=".779" stop-color="#fef392"/><stop offset=".802" stop-color="#f0f18c"/><stop offset=".814" stop-color="#e5f08f"/><stop offset=".86" stop-color="#a9e2b3"/><stop offset=".884" stop-color="#94d7bf"/><stop offset=".895" stop-color="#8fcfc4"/><stop offset=".942" stop-color="#9badc6"/><stop offset=".965" stop-color="#9ea5c4"/><stop offset="1" stop-color="#a0a2c3"/></linearGradient><linearGradient id="g0_30" gradientUnits="userSpaceOnUse" x1="0" y1="13.4" x2="0" y2="189.5"><stop offset="0" stop-color="#9ea6c4"/><stop offset=".045" stop-color="#96b9c7"/><stop offset=".091" stop-color="#8fcec4"/><stop offset=".114" stop-color="#97d9be"/><stop offset=".148" stop-color="#b6e7ac"/><stop offset=".17" stop-color="#d2ed9a"/><stop offset=".182" stop-color="#dbee94"/><stop offset=".193" stop-color="#dfef92"/><stop offset=".227" stop-color="#cfec9c"/><stop offset=".239" stop-color="#cfec9c"/><stop offset=".284" stop-color="#e9f08d"/><stop offset=".307" stop-color="#eaf08d"/><stop offset=".33" stop-color="#deef93"/><stop offset=".352" stop-color="#ddef93"/><stop offset=".398" stop-color="#edf18c"/><stop offset=".443" stop-color="#f3f28c"/><stop offset=".477" stop-color="#fef392"/><stop offset=".75" stop-color="#fdf391"/><stop offset=".773" stop-color="#f3f28c"/><stop offset=".795" stop-color="#e1ef91"/><stop offset=".841" stop-color="#ade4b1"/><stop offset=".864" stop-color="#98dabd"/><stop offset=".875" stop-color="#91d4c1"/><stop offset=".898" stop-color="#90c6c6"/><stop offset=".943" stop-color="#9da9c5"/><stop offset="1" stop-color="#a0a2c3"/></linearGradient><linearGradient id="g0_31" gradientUnits="userSpaceOnUse" x1="0" y1="13.4" x2="0" y2="195.5"><stop offset="0" stop-color="#9ea6c4"/><stop offset=".055" stop-color="#93bec7"/><stop offset=".088" stop-color="#8fcec4"/><stop offset=".11" stop-color="#95d8be"/><stop offset=".132" stop-color="#a7e1b4"/><stop offset=".176" stop-color="#d9ee96"/><stop offset=".187" stop-color="#deef93"/><stop offset=".209" stop-color="#d5ed99"/><stop offset=".22" stop-color="#cfec9c"/><stop offset=".242" stop-color="#d3ed99"/><stop offset=".275" stop-color="#e9f08d"/><stop offset=".286" stop-color="#edf18c"/><stop offset=".308" stop-color="#e6f08e"/><stop offset=".33" stop-color="#ddef93"/><stop offset=".352" stop-color="#e1ef91"/><stop offset=".385" stop-color="#edf18c"/><stop offset=".429" stop-color="#f0f18c"/><stop offset=".473" stop-color="#fef392"/><stop offset=".703" stop-color="#fdf391"/><stop offset=".736" stop-color="#f3f28c"/><stop offset=".758" stop-color="#e3f08f"/><stop offset=".802" stop-color="#bbe8a9"/><stop offset=".835" stop-color="#9bdcbb"/><stop offset=".857" stop-color="#90d2c2"/><stop offset=".89" stop-color="#93bfc7"/><stop offset=".923" stop-color="#9cabc6"/><stop offset=".967" stop-color="#9fa2c3"/><stop offset="1" stop-color="#a0a2c3"/></linearGradient><linearGradient id="g0_32" gradientUnits="userSpaceOnUse" x1="0" y1="13.4" x2="0" y2="199.5"><stop offset="0" stop-color="#9ea6c4"/><stop offset=".086" stop-color="#8fccc5"/><stop offset=".108" stop-color="#94d7bf"/><stop offset=".14" stop-color="#b0e4b0"/><stop offset=".172" stop-color="#d5ed99"/><stop offset=".183" stop-color="#dbee94"/><stop offset=".194" stop-color="#dbee94"/><stop offset=".215" stop-color="#d1ed9b"/><stop offset=".226" stop-color="#cfec9c"/><stop offset=".28" stop-color="#ebf18c"/><stop offset=".301" stop-color="#e7f08e"/><stop offset=".323" stop-color="#deef93"/><stop offset=".344" stop-color="#e1ef91"/><stop offset=".376" stop-color="#edf18c"/><stop offset=".43" stop-color="#f2f18c"/><stop offset=".473" stop-color="#fef392"/><stop offset=".677" stop-color="#fcf390"/><stop offset=".72" stop-color="#eef18c"/><stop offset=".763" stop-color="#cdec9e"/><stop offset=".817" stop-color="#9eddba"/><stop offset=".839" stop-color="#91d4c1"/><stop offset=".871" stop-color="#90c6c6"/><stop offset=".925" stop-color="#9caac5"/><stop offset=".978" stop-color="#a0a2c3"/><stop offset="1" stop-color="#a0a1c3"/></linearGradient><linearGradient id="g0_33" gradientUnits="userSpaceOnUse" x1="0" y1="13.4" x2="0" y2="207.5"><stop offset="0" stop-color="#9ea5c4"/><stop offset=".082" stop-color="#8fccc5"/><stop offset=".103" stop-color="#92d5c0"/><stop offset=".134" stop-color="#abe3b2"/><stop offset=".165" stop-color="#cfec9c"/><stop offset=".175" stop-color="#d7ee97"/><stop offset=".186" stop-color="#daee95"/><stop offset=".216" stop-color="#ceec9d"/><stop offset=".237" stop-color="#d7ee97"/><stop offset=".268" stop-color="#ebf18c"/><stop offset=".289" stop-color="#eaf08d"/><stop offset=".309" stop-color="#dfef92"/><stop offset=".33" stop-color="#e1ef91"/><stop offset=".361" stop-color="#edf18c"/><stop offset=".402" stop-color="#eef18c"/><stop offset=".454" stop-color="#fef392"/><stop offset=".619" stop-color="#fef392"/><stop offset=".68" stop-color="#eff18c"/><stop offset=".711" stop-color="#dbee94"/><stop offset=".784" stop-color="#a0deb9"/><stop offset=".814" stop-color="#90d2c2"/><stop offset=".856" stop-color="#92c1c7"/><stop offset=".897" stop-color="#9cabc5"/><stop offset=".959" stop-color="#a0a2c3"/><stop offset="1" stop-color="#a0a1c3"/></linearGradient><linearGradient id="g0_34" gradientUnits="userSpaceOnUse" x1="0" y1="13.4" x2="0" y2="213.5"><stop offset="0" stop-color="#9ea5c4"/><stop offset=".08" stop-color="#8fcac5"/><stop offset=".1" stop-color="#91d4c1"/><stop offset=".13" stop-color="#a6e1b5"/><stop offset=".17" stop-color="#d2ed9a"/><stop offset=".18" stop-color="#d6ee98"/><stop offset=".21" stop-color="#ceec9d"/><stop offset=".22" stop-color="#cfec9c"/><stop offset=".26" stop-color="#eaf08d"/><stop offset=".28" stop-color="#ebf18c"/><stop offset=".3" stop-color="#e1ef91"/><stop offset=".32" stop-color="#e1ef91"/><stop offset=".36" stop-color="#eef18c"/><stop offset=".39" stop-color="#edf18c"/><stop offset=".45" stop-color="#fef392"/><stop offset=".6" stop-color="#fcf390"/><stop offset=".66" stop-color="#edf18c"/><stop offset=".69" stop-color="#daee95"/><stop offset=".76" stop-color="#a2dfb8"/><stop offset=".79" stop-color="#91d4c1"/><stop offset=".82" stop-color="#8fc9c6"/><stop offset=".89" stop-color="#9da9c5"/><stop offset=".98" stop-color="#a0a1c3"/><stop offset="1" stop-color="#a0a1c3"/></linearGradient><linearGradient id="g0_35" gradientUnits="userSpaceOnUse" x1="0" y1="13.4" x2="0" y2="219.5"><stop offset="0" stop-color="#9ea5c4"/><stop offset=".058" stop-color="#93bfc7"/><stop offset=".097" stop-color="#90d2c2"/><stop offset=".117" stop-color="#99dbbc"/><stop offset=".165" stop-color="#cbec9f"/><stop offset=".175" stop-color="#d2ed9a"/><stop offset=".194" stop-color="#d1ed9b"/><stop offset=".214" stop-color="#ceec9d"/><stop offset=".262" stop-color="#edf18c"/><stop offset=".282" stop-color="#e9f08d"/><stop offset=".301" stop-color="#dfef92"/><stop offset=".32" stop-color="#e3f08f"/><stop offset=".35" stop-color="#eef18c"/><stop offset=".388" stop-color="#eef18c"/><stop offset=".447" stop-color="#fdf391"/><stop offset=".573" stop-color="#fdf391"/><stop offset=".641" stop-color="#ebf18c"/><stop offset=".67" stop-color="#dbee94"/><stop offset=".728" stop-color="#abe3b2"/><stop offset=".767" stop-color="#94d7bf"/><stop offset=".796" stop-color="#8fccc5"/><stop offset=".874" stop-color="#9da8c5"/><stop offset="1" stop-color="#a0a1c3"/></linearGradient><linearGradient id="g0_36" gradientUnits="userSpaceOnUse" x1="0" y1="13.4" x2="0" y2="225.5"><stop offset="0" stop-color="#9ea5c4"/><stop offset=".085" stop-color="#8fccc5"/><stop offset=".104" stop-color="#91d4c1"/><stop offset=".132" stop-color="#a4e0b6"/><stop offset=".17" stop-color="#cbec9f"/><stop offset=".189" stop-color="#cfec9c"/><stop offset=".208" stop-color="#cdec9e"/><stop offset=".226" stop-color="#d6ee98"/><stop offset=".255" stop-color="#eaf08d"/><stop offset=".274" stop-color="#ebf18c"/><stop offset=".292" stop-color="#e1ef91"/><stop offset=".311" stop-color="#e1ef91"/><stop offset=".34" stop-color="#edf18c"/><stop offset=".387" stop-color="#eff18c"/><stop offset=".434" stop-color="#fbf38f"/><stop offset=".481" stop-color="#fef392"/><stop offset=".566" stop-color="#fbf38f"/><stop offset=".623" stop-color="#ebf18c"/><stop offset=".66" stop-color="#d5ed99"/><stop offset=".717" stop-color="#a8e2b4"/><stop offset=".755" stop-color="#93d6c0"/><stop offset=".783" stop-color="#8fcbc5"/><stop offset=".83" stop-color="#97b5c6"/><stop offset=".858" stop-color="#9da8c5"/><stop offset="1" stop-color="#a0a1c3"/></linearGradient><linearGradient id="g0_37" gradientUnits="userSpaceOnUse" x1="0" y1="13.4" x2="0" y2="231.5"><stop offset="0" stop-color="#9ea5c4"/><stop offset=".083" stop-color="#8fc9c5"/><stop offset=".11" stop-color="#93d6c0"/><stop offset=".138" stop-color="#a7e1b4"/><stop offset=".165" stop-color="#c4eaa3"/><stop offset=".174" stop-color="#caeb9f"/><stop offset=".211" stop-color="#cdec9e"/><stop offset=".257" stop-color="#edf18c"/><stop offset=".275" stop-color="#e9f08d"/><stop offset=".294" stop-color="#dfef92"/><stop offset=".312" stop-color="#e3f08f"/><stop offset=".339" stop-color="#eef18c"/><stop offset=".376" stop-color="#eef18c"/><stop offset=".413" stop-color="#f8f28e"/><stop offset=".468" stop-color="#fdf391"/><stop offset=".569" stop-color="#f7f28d"/><stop offset=".615" stop-color="#e9f08d"/><stop offset=".661" stop-color="#c9eba0"/><stop offset=".716" stop-color="#a1dfb8"/><stop offset=".752" stop-color="#8fd1c3"/><stop offset=".807" stop-color="#95bac7"/><stop offset=".844" stop-color="#9da9c5"/><stop offset=".936" stop-color="#9fa2c3"/><stop offset="1" stop-color="#a0a1c3"/></linearGradient><linearGradient id="g0_38" gradientUnits="userSpaceOnUse" x1="0" y1="13.4" x2="0" y2="237.5"><stop offset="0" stop-color="#9ea5c4"/><stop offset=".089" stop-color="#8fccc5"/><stop offset=".116" stop-color="#94d7bf"/><stop offset=".143" stop-color="#a9e2b3"/><stop offset=".17" stop-color="#c3eaa4"/><stop offset=".188" stop-color="#c9eba0"/><stop offset=".214" stop-color="#ceec9d"/><stop offset=".25" stop-color="#eaf08d"/><stop offset=".259" stop-color="#edf18c"/><stop offset=".295" stop-color="#deef93"/><stop offset=".339" stop-color="#edf18c"/><stop offset=".375" stop-color="#eff18c"/><stop offset=".402" stop-color="#f7f28d"/><stop offset=".473" stop-color="#f9f28f"/><stop offset=".562" stop-color="#f6f28d"/><stop offset=".598" stop-color="#eaf08d"/><stop offset=".652" stop-color="#c6eba2"/><stop offset=".714" stop-color="#9adbbc"/><stop offset=".741" stop-color="#8fd0c3"/><stop offset=".812" stop-color="#98b3c6"/><stop offset=".839" stop-color="#9ea7c5"/><stop offset="1" stop-color="#a0a1c3"/></linearGradient><linearGradient id="g0_39" gradientUnits="userSpaceOnUse" x1="0" y1="13.4" x2="0" y2="245.5"><stop offset="0" stop-color="#9ea5c4"/><stop offset=".086" stop-color="#8fcac5"/><stop offset=".112" stop-color="#92d5c1"/><stop offset=".138" stop-color="#a2dfb7"/><stop offset=".172" stop-color="#c1e9a5"/><stop offset=".207" stop-color="#caeb9f"/><stop offset=".25" stop-color="#eaf08d"/><stop offset=".259" stop-color="#ebf18c"/><stop offset=".284" stop-color="#deef93"/><stop offset=".302" stop-color="#dfef92"/><stop offset=".328" stop-color="#ebf18c"/><stop offset=".371" stop-color="#f0f18c"/><stop offset=".397" stop-color="#f7f28d"/><stop offset=".543" stop-color="#f4f28c"/><stop offset=".578" stop-color="#ebf18c"/><stop offset=".612" stop-color="#d6ee98"/><stop offset=".681" stop-color="#a4e0b6"/><stop offset=".716" stop-color="#91d4c1"/><stop offset=".75" stop-color="#91c5c6"/><stop offset=".793" stop-color="#97b6c7"/><stop offset=".81" stop-color="#9bacc6"/><stop offset=".862" stop-color="#a0a2c3"/><stop offset=".931" stop-color="#9fa4c4"/><stop offset="1" stop-color="#a0a1c3"/></linearGradient><linearGradient id="g0_40" gradientUnits="userSpaceOnUse" x1="0" y1="13.4" x2="0" y2="249.5"><stop offset="0" stop-color="#9fa4c4"/><stop offset=".093" stop-color="#8fcbc5"/><stop offset=".119" stop-color="#93d6c0"/><stop offset=".153" stop-color="#abe3b2"/><stop offset=".178" stop-color="#c0e9a6"/><stop offset=".212" stop-color="#caeb9f"/><stop offset=".246" stop-color="#e6f08e"/><stop offset=".263" stop-color="#e9f08d"/><stop offset=".288" stop-color="#dbee94"/><stop offset=".339" stop-color="#ebf18c"/><stop offset=".381" stop-color="#f3f28c"/><stop offset=".407" stop-color="#f4f28c"/><stop offset=".542" stop-color="#f2f18c"/><stop offset=".568" stop-color="#edf18c"/><stop offset=".61" stop-color="#d2ed9a"/><stop offset=".661" stop-color="#b1e5af"/><stop offset=".703" stop-color="#95d8bf"/><stop offset=".729" stop-color="#8fcdc4"/><stop offset=".788" stop-color="#96b8c7"/><stop offset=".814" stop-color="#9cabc6"/><stop offset=".847" stop-color="#9fa4c4"/><stop offset=".941" stop-color="#9ea5c4"/><stop offset="1" stop-color="#a0a1c3"/></linearGradient><linearGradient id="g0_41" gradientUnits="userSpaceOnUse" x1="0" y1="13.4" x2="0" y2="255.5"><stop offset="0" stop-color="#9fa4c4"/><stop offset=".091" stop-color="#8fcac5"/><stop offset=".116" stop-color="#91d3c2"/><stop offset=".14" stop-color="#9eddba"/><stop offset=".174" stop-color="#bae8aa"/><stop offset=".207" stop-color="#c5eaa3"/><stop offset=".248" stop-color="#e5f08f"/><stop offset=".256" stop-color="#e7f08e"/><stop offset=".281" stop-color="#daee95"/><stop offset=".298" stop-color="#dbee94"/><stop offset=".331" stop-color="#e9f08d"/><stop offset=".372" stop-color="#f0f18c"/><stop offset=".397" stop-color="#f3f28c"/><stop offset=".421" stop-color="#f2f18c"/><stop offset=".537" stop-color="#eff18c"/><stop offset=".57" stop-color="#e5f08f"/><stop offset=".653" stop-color="#b0e4b0"/><stop offset=".694" stop-color="#95d8bf"/><stop offset=".719" stop-color="#8fcdc4"/><stop offset=".777" stop-color="#95bac7"/><stop offset=".802" stop-color="#9aafc6"/><stop offset=".851" stop-color="#9ea5c4"/><stop offset=".917" stop-color="#9da8c5"/><stop offset="1" stop-color="#a0a1c3"/></linearGradient><linearGradient id="g0_42" gradientUnits="userSpaceOnUse" x1="0" y1="13.4" x2="0" y2="261.5"><stop offset="0" stop-color="#9fa4c4"/><stop offset=".097" stop-color="#8fcbc5"/><stop offset=".121" stop-color="#92d5c1"/><stop offset=".153" stop-color="#a6e1b5"/><stop offset=".177" stop-color="#b8e7ab"/><stop offset=".21" stop-color="#c5eaa3"/><stop offset=".25" stop-color="#e3f08f"/><stop offset=".266" stop-color="#e1ef91"/><stop offset=".282" stop-color="#d7ee97"/><stop offset=".298" stop-color="#daee95"/><stop offset=".339" stop-color="#e9f08d"/><stop offset=".363" stop-color="#edf18c"/><stop offset=".387" stop-color="#f2f18c"/><stop offset=".419" stop-color="#eff18c"/><stop offset=".444" stop-color="#f0f18c"/><stop offset=".548" stop-color="#e9f08d"/><stop offset=".589" stop-color="#d2ed9a"/><stop offset=".661" stop-color="#a3e0b7"/><stop offset=".694" stop-color="#91d4c1"/><stop offset=".726" stop-color="#90c8c6"/><stop offset=".766" stop-color="#94bdc7"/><stop offset=".79" stop-color="#98b3c6"/><stop offset=".831" stop-color="#9ea5c4"/><stop offset=".903" stop-color="#9caac5"/><stop offset=".992" stop-color="#a0a1c3"/><stop offset="1" stop-color="#a0a1c3"/></linearGradient><linearGradient id="g0_43" gradientUnits="userSpaceOnUse" x1="0" y1="13.4" x2="0" y2="265.5"><stop offset="0" stop-color="#9fa4c4"/><stop offset=".095" stop-color="#8fc9c5"/><stop offset=".127" stop-color="#93d6c0"/><stop offset=".167" stop-color="#ace3b2"/><stop offset=".19" stop-color="#b9e7aa"/><stop offset=".214" stop-color="#c4eaa3"/><stop offset=".246" stop-color="#deef93"/><stop offset=".262" stop-color="#dfef92"/><stop offset=".286" stop-color="#d3ed99"/><stop offset=".333" stop-color="#e5f08f"/><stop offset=".365" stop-color="#edf18c"/><stop offset=".389" stop-color="#f0f18c"/><stop offset=".421" stop-color="#edf18c"/><stop offset=".452" stop-color="#eef18c"/><stop offset=".54" stop-color="#e6f08e"/><stop offset=".571" stop-color="#d9ee96"/><stop offset=".659" stop-color="#a2dfb7"/><stop offset=".69" stop-color="#91d4c1"/><stop offset=".73" stop-color="#90c6c6"/><stop offset=".77" stop-color="#94bcc7"/><stop offset=".802" stop-color="#99b1c6"/><stop offset=".825" stop-color="#9ea6c4"/><stop offset=".857" stop-color="#9da8c5"/><stop offset=".905" stop-color="#9cabc5"/><stop offset=".992" stop-color="#a0a1c3"/><stop offset="1" stop-color="#a0a1c3"/></linearGradient><linearGradient id="g0_44" gradientUnits="userSpaceOnUse" x1="0" y1="13.4" x2="0" y2="269.5"><stop offset="0" stop-color="#9fa4c4"/><stop offset=".102" stop-color="#8fcbc5"/><stop offset=".133" stop-color="#93d6c0"/><stop offset=".18" stop-color="#b1e5af"/><stop offset=".211" stop-color="#bee9a7"/><stop offset=".25" stop-color="#dbee94"/><stop offset=".258" stop-color="#deef93"/><stop offset=".289" stop-color="#d2ed9a"/><stop offset=".336" stop-color="#e3f08f"/><stop offset=".367" stop-color="#ebf18c"/><stop offset=".391" stop-color="#eef18c"/><stop offset=".414" stop-color="#eaf08d"/><stop offset=".461" stop-color="#ebf18c"/><stop offset=".492" stop-color="#e9f08d"/><stop offset=".547" stop-color="#e1ef91"/><stop offset=".594" stop-color="#c6eba2"/><stop offset=".664" stop-color="#9dddba"/><stop offset=".688" stop-color="#91d4c1"/><stop offset=".727" stop-color="#90c7c6"/><stop offset=".766" stop-color="#93bec7"/><stop offset=".797" stop-color="#97b6c7"/><stop offset=".82" stop-color="#9da8c5"/><stop offset=".844" stop-color="#9ea5c4"/><stop offset=".898" stop-color="#9badc6"/><stop offset=".992" stop-color="#a0a1c3"/><stop offset="1" stop-color="#a0a1c3"/></linearGradient><linearGradient id="g0_45" gradientUnits="userSpaceOnUse" x1="0" y1="13.4" x2="0" y2="271.5"><stop offset="0" stop-color="#9fa4c4"/><stop offset=".101" stop-color="#8fc9c6"/><stop offset=".132" stop-color="#91d4c1"/><stop offset=".163" stop-color="#a2dfb8"/><stop offset=".194" stop-color="#b3e6ae"/><stop offset=".225" stop-color="#c3eaa4"/><stop offset=".256" stop-color="#d9ee96"/><stop offset=".271" stop-color="#d7ee97"/><stop offset=".287" stop-color="#cfec9c"/><stop offset=".302" stop-color="#d2ed9a"/><stop offset=".341" stop-color="#e1ef91"/><stop offset=".388" stop-color="#edf18c"/><stop offset=".419" stop-color="#e7f08e"/><stop offset=".45" stop-color="#eaf08d"/><stop offset=".496" stop-color="#e7f08e"/><stop offset=".558" stop-color="#daee95"/><stop offset=".659" stop-color="#a1dfb8"/><stop offset=".69" stop-color="#91d4c1"/><stop offset=".729" stop-color="#90c8c6"/><stop offset=".767" stop-color="#92c1c6"/><stop offset=".798" stop-color="#96b9c7"/><stop offset=".829" stop-color="#9fa4c4"/><stop offset=".86" stop-color="#9ea6c4"/><stop offset=".915" stop-color="#9badc6"/><stop offset=".992" stop-color="#a0a1c3"/><stop offset="1" stop-color="#a0a1c3"/></linearGradient><linearGradient id="g0_46" gradientUnits="userSpaceOnUse" x1="0" y1="13.4" x2="0" y2="275.5"><stop offset="0" stop-color="#9fa4c4"/><stop offset=".107" stop-color="#8fcac5"/><stop offset=".137" stop-color="#92d5c1"/><stop offset=".198" stop-color="#b1e5af"/><stop offset=".229" stop-color="#c1e9a5"/><stop offset=".252" stop-color="#d3ed99"/><stop offset=".267" stop-color="#d7ee97"/><stop offset=".29" stop-color="#cdec9e"/><stop offset=".305" stop-color="#d1ed9b"/><stop offset=".344" stop-color="#dfef92"/><stop offset=".389" stop-color="#ebf18c"/><stop offset=".42" stop-color="#e6f08e"/><stop offset=".45" stop-color="#e9f08d"/><stop offset=".489" stop-color="#e7f08e"/><stop offset=".557" stop-color="#d7ee97"/><stop offset=".656" stop-color="#a0deb9"/><stop offset=".695" stop-color="#90d2c2"/><stop offset=".733" stop-color="#90c8c6"/><stop offset=".756" stop-color="#8fc9c6"/><stop offset=".771" stop-color="#95b9c7"/><stop offset=".779" stop-color="#97b6c7"/><stop offset=".794" stop-color="#95b9c7"/><stop offset=".824" stop-color="#9ea6c4"/><stop offset=".855" stop-color="#9ea5c4"/><stop offset=".916" stop-color="#9badc6"/><stop offset=".977" stop-color="#a0a2c3"/><stop offset="1" stop-color="#a0a1c3"/></linearGradient><linearGradient id="g0_47" gradientUnits="userSpaceOnUse" x1="0" y1="13.4" x2="0" y2="277.6"><stop offset="0" stop-color="#9fa4c4"/><stop offset=".114" stop-color="#8fcbc5"/><stop offset=".144" stop-color="#92d5c0"/><stop offset=".197" stop-color="#ace3b2"/><stop offset=".227" stop-color="#bbe8a9"/><stop offset=".258" stop-color="#d1ed9b"/><stop offset=".273" stop-color="#d3ed99"/><stop offset=".295" stop-color="#caeb9f"/><stop offset=".348" stop-color="#deef93"/><stop offset=".394" stop-color="#e9f08d"/><stop offset=".424" stop-color="#e5f08f"/><stop offset=".485" stop-color="#e7f08e"/><stop offset=".568" stop-color="#d2ed9a"/><stop offset=".667" stop-color="#9bdcbb"/><stop offset=".697" stop-color="#90d2c2"/><stop offset=".735" stop-color="#8fc9c6"/><stop offset=".75" stop-color="#8fcdc4"/><stop offset=".758" stop-color="#8fccc5"/><stop offset=".773" stop-color="#96b9c7"/><stop offset=".78" stop-color="#98b3c6"/><stop offset=".803" stop-color="#96b8c7"/><stop offset=".833" stop-color="#9ea5c4"/><stop offset=".856" stop-color="#9fa4c4"/><stop offset=".917" stop-color="#9badc6"/><stop offset=".992" stop-color="#a0a1c3"/><stop offset="1" stop-color="#a0a1c3"/></linearGradient><linearGradient id="g0_48" gradientUnits="userSpaceOnUse" x1="0" y1="13.4" x2="0" y2="277.6"><stop offset="0" stop-color="#9fa4c4"/><stop offset=".114" stop-color="#8fc9c5"/><stop offset=".152" stop-color="#92d5c0"/><stop offset=".212" stop-color="#ade4b1"/><stop offset=".265" stop-color="#ceec9d"/><stop offset=".28" stop-color="#cfec9c"/><stop offset=".303" stop-color="#c9eba0"/><stop offset=".348" stop-color="#daee95"/><stop offset=".402" stop-color="#e7f08e"/><stop offset=".424" stop-color="#e2ef90"/><stop offset=".462" stop-color="#e6f08e"/><stop offset=".5" stop-color="#e3f08f"/><stop offset=".576" stop-color="#cfec9c"/><stop offset=".621" stop-color="#b6e7ac"/><stop offset=".689" stop-color="#94d7bf"/><stop offset=".727" stop-color="#8fcbc5"/><stop offset=".773" stop-color="#91c4c6"/><stop offset=".795" stop-color="#96b8c7"/><stop offset=".818" stop-color="#97b5c6"/><stop offset=".848" stop-color="#9ea6c5"/><stop offset=".879" stop-color="#9ea6c5"/><stop offset=".932" stop-color="#9cabc6"/><stop offset="1" stop-color="#a0a1c3"/></linearGradient><linearGradient id="g0_49" gradientUnits="userSpaceOnUse" x1="0" y1="13.4" x2="0" y2="277.6"><stop offset="0" stop-color="#9fa3c4"/><stop offset=".121" stop-color="#8fcac5"/><stop offset=".159" stop-color="#92d5c0"/><stop offset=".235" stop-color="#b4e6ad"/><stop offset=".273" stop-color="#cdec9e"/><stop offset=".288" stop-color="#cbec9f"/><stop offset=".311" stop-color="#c6eba2"/><stop offset=".364" stop-color="#daee95"/><stop offset=".409" stop-color="#e6f08e"/><stop offset=".432" stop-color="#e1ef91"/><stop offset=".47" stop-color="#e5f08f"/><stop offset=".508" stop-color="#e2ef90"/><stop offset=".583" stop-color="#cdec9e"/><stop offset=".614" stop-color="#bfe9a7"/><stop offset=".689" stop-color="#96d8be"/><stop offset=".727" stop-color="#8fcec4"/><stop offset=".78" stop-color="#93c0c7"/><stop offset=".811" stop-color="#96b8c7"/><stop offset=".856" stop-color="#9caac5"/><stop offset=".879" stop-color="#9ea5c4"/><stop offset=".939" stop-color="#9caac5"/><stop offset="1" stop-color="#a0a2c3"/></linearGradient><linearGradient id="g0_50" gradientUnits="userSpaceOnUse" x1="0" y1="13.4" x2="0" y2="277.6"><stop offset="0" stop-color="#9fa3c4"/><stop offset=".129" stop-color="#8fcac5"/><stop offset=".167" stop-color="#93d6c0"/><stop offset=".235" stop-color="#afe4b0"/><stop offset=".28" stop-color="#caeb9f"/><stop offset=".311" stop-color="#c4eaa3"/><stop offset=".364" stop-color="#d6ee98"/><stop offset=".417" stop-color="#e3f08f"/><stop offset=".447" stop-color="#e1ef91"/><stop offset=".485" stop-color="#e2ef90"/><stop offset=".515" stop-color="#e1ef91"/><stop offset=".606" stop-color="#c5eaa3"/><stop offset=".697" stop-color="#95d8be"/><stop offset=".735" stop-color="#8fcec4"/><stop offset=".841" stop-color="#99b1c6"/><stop offset=".894" stop-color="#9ea5c4"/><stop offset=".955" stop-color="#9da8c5"/><stop offset="1" stop-color="#a0a1c3"/></linearGradient><linearGradient id="g0_51" gradientUnits="userSpaceOnUse" x1="0" y1="13.4" x2="0" y2="277.6"><stop offset="0" stop-color="#9fa3c4"/><stop offset=".129" stop-color="#8fc9c6"/><stop offset=".174" stop-color="#93d6c0"/><stop offset=".242" stop-color="#ade4b1"/><stop offset=".288" stop-color="#c8eba1"/><stop offset=".318" stop-color="#c1e9a5"/><stop offset=".371" stop-color="#d5ed99"/><stop offset=".402" stop-color="#dbee94"/><stop offset=".424" stop-color="#e1ef91"/><stop offset=".455" stop-color="#deef93"/><stop offset=".477" stop-color="#e1ef91"/><stop offset=".523" stop-color="#deef93"/><stop offset=".621" stop-color="#c1e9a5"/><stop offset=".705" stop-color="#95d8be"/><stop offset=".742" stop-color="#8fcec4"/><stop offset=".864" stop-color="#9badc6"/><stop offset=".924" stop-color="#9ea5c4"/><stop offset=".977" stop-color="#9fa4c4"/><stop offset="1" stop-color="#a0a1c3"/></linearGradient><linearGradient id="g0_52" gradientUnits="userSpaceOnUse" x1="0" y1="13.4" x2="0" y2="277.6"><stop offset="0" stop-color="#9fa3c4"/><stop offset=".136" stop-color="#8fc9c5"/><stop offset=".182" stop-color="#93d6c0"/><stop offset=".242" stop-color="#a8e2b4"/><stop offset=".295" stop-color="#c4eaa3"/><stop offset=".326" stop-color="#c0e9a6"/><stop offset=".386" stop-color="#d3ed99"/><stop offset=".432" stop-color="#deef93"/><stop offset=".462" stop-color="#ddef93"/><stop offset=".492" stop-color="#deef93"/><stop offset=".545" stop-color="#d7ee97"/><stop offset=".576" stop-color="#d1ed9b"/><stop offset=".644" stop-color="#b8e7ab"/><stop offset=".72" stop-color="#93d6c0"/><stop offset=".765" stop-color="#8fcac5"/><stop offset=".894" stop-color="#9da8c5"/><stop offset=".939" stop-color="#9ea5c4"/><stop offset="1" stop-color="#a0a2c3"/></linearGradient><linearGradient id="g0_53" gradientUnits="userSpaceOnUse" x1="0" y1="13.4" x2="0" y2="277.6"><stop offset="0" stop-color="#9fa3c4"/><stop offset=".144" stop-color="#8fcac5"/><stop offset=".189" stop-color="#93d6c0"/><stop offset=".25" stop-color="#a7e1b4"/><stop offset=".295" stop-color="#c0e9a6"/><stop offset=".318" stop-color="#bfe9a7"/><stop offset=".341" stop-color="#c0e9a6"/><stop offset=".379" stop-color="#cfec9c"/><stop offset=".417" stop-color="#d6ee98"/><stop offset=".439" stop-color="#dbee94"/><stop offset=".47" stop-color="#daee95"/><stop offset=".492" stop-color="#ddef93"/><stop offset=".53" stop-color="#d7ee97"/><stop offset=".583" stop-color="#ceec9d"/><stop offset=".614" stop-color="#c3eaa4"/><stop offset=".652" stop-color="#b6e7ac"/><stop offset=".727" stop-color="#93d6c0"/><stop offset=".773" stop-color="#8fcac5"/><stop offset=".917" stop-color="#9ea5c4"/><stop offset="1" stop-color="#a0a1c3"/></linearGradient><linearGradient id="g0_54" gradientUnits="userSpaceOnUse" x1="0" y1="13.4" x2="0" y2="277.6"><stop offset="0" stop-color="#9fa3c4"/><stop offset=".152" stop-color="#8fcac5"/><stop offset=".197" stop-color="#93d6c0"/><stop offset=".265" stop-color="#aae3b3"/><stop offset=".303" stop-color="#bee9a7"/><stop offset=".326" stop-color="#bce8a8"/><stop offset=".348" stop-color="#bfe9a7"/><stop offset=".386" stop-color="#cdec9e"/><stop offset=".417" stop-color="#d1ed9b"/><stop offset=".439" stop-color="#d9ee96"/><stop offset=".477" stop-color="#d7ee97"/><stop offset=".5" stop-color="#daee95"/><stop offset=".523" stop-color="#d5ed99"/><stop offset=".568" stop-color="#d1ed9b"/><stop offset=".598" stop-color="#c8eba1"/><stop offset=".667" stop-color="#b1e5af"/><stop offset=".742" stop-color="#91d3c2"/><stop offset=".803" stop-color="#91c4c6"/><stop offset=".924" stop-color="#9ea6c4"/><stop offset="1" stop-color="#a0a1c3"/></linearGradient><linearGradient id="g0_55" gradientUnits="userSpaceOnUse" x1="0" y1="13.4" x2="0" y2="277.6"><stop offset="0" stop-color="#9fa3c4"/><stop offset=".152" stop-color="#8fc9c6"/><stop offset=".205" stop-color="#93d6c0"/><stop offset=".265" stop-color="#a6e1b5"/><stop offset=".311" stop-color="#bce8a8"/><stop offset=".348" stop-color="#bbe8a9"/><stop offset=".394" stop-color="#cbec9f"/><stop offset=".424" stop-color="#cfec9c"/><stop offset=".455" stop-color="#d6ee98"/><stop offset=".485" stop-color="#d5ed99"/><stop offset=".508" stop-color="#d6ee98"/><stop offset=".545" stop-color="#d1ed9b"/><stop offset=".591" stop-color="#caeb9f"/><stop offset=".629" stop-color="#bce8a8"/><stop offset=".674" stop-color="#b0e4b0"/><stop offset=".742" stop-color="#93d6c0"/><stop offset=".788" stop-color="#8fcac5"/><stop offset=".939" stop-color="#9ea6c4"/><stop offset="1" stop-color="#a0a1c3"/></linearGradient><linearGradient id="g0_56" gradientUnits="userSpaceOnUse" x1="0" y1="13.4" x2="0" y2="277.6"><stop offset="0" stop-color="#9fa2c3"/><stop offset=".159" stop-color="#8fc9c5"/><stop offset=".212" stop-color="#93d6c0"/><stop offset=".28" stop-color="#a9e2b3"/><stop offset=".318" stop-color="#bae8aa"/><stop offset=".348" stop-color="#b8e7ab"/><stop offset=".394" stop-color="#c8eba1"/><stop offset=".439" stop-color="#cfec9c"/><stop offset=".462" stop-color="#d3ed99"/><stop offset=".492" stop-color="#d2ed9a"/><stop offset=".515" stop-color="#d3ed99"/><stop offset=".538" stop-color="#ceec9d"/><stop offset=".583" stop-color="#caeb9f"/><stop offset=".614" stop-color="#c1e9a5"/><stop offset=".689" stop-color="#aae3b3"/><stop offset=".758" stop-color="#91d3c2"/><stop offset=".818" stop-color="#91c4c6"/><stop offset=".955" stop-color="#9ea6c4"/><stop offset="1" stop-color="#a0a2c3"/></linearGradient><linearGradient id="g0_57" gradientUnits="userSpaceOnUse" x1="0" y1="13.4" x2="0" y2="277.6"><stop offset="0" stop-color="#9fa2c3"/><stop offset=".159" stop-color="#90c8c6"/><stop offset=".212" stop-color="#91d4c1"/><stop offset=".273" stop-color="#a3e0b7"/><stop offset=".318" stop-color="#b8e7ab"/><stop offset=".356" stop-color="#b8e7ab"/><stop offset=".409" stop-color="#c8eba1"/><stop offset=".439" stop-color="#cbec9f"/><stop offset=".462" stop-color="#d1ed9b"/><stop offset=".492" stop-color="#ceec9d"/><stop offset=".523" stop-color="#cfec9c"/><stop offset=".553" stop-color="#cbec9f"/><stop offset=".614" stop-color="#c1e9a5"/><stop offset=".659" stop-color="#b4e6ad"/><stop offset=".689" stop-color="#ace3b2"/><stop offset=".758" stop-color="#92d5c0"/><stop offset=".811" stop-color="#90c8c6"/><stop offset=".955" stop-color="#9da8c5"/><stop offset="1" stop-color="#a0a2c3"/></linearGradient><linearGradient id="g0_58" gradientUnits="userSpaceOnUse" x1="0" y1="13.4" x2="0" y2="277.6"><stop offset="0" stop-color="#9fa2c3"/><stop offset=".167" stop-color="#8fc9c5"/><stop offset=".22" stop-color="#92d5c1"/><stop offset=".28" stop-color="#a3e0b7"/><stop offset=".326" stop-color="#b6e7ac"/><stop offset=".364" stop-color="#b6e7ac"/><stop offset=".402" stop-color="#c5eaa3"/><stop offset=".439" stop-color="#c8eba1"/><stop offset=".47" stop-color="#ceec9d"/><stop offset=".5" stop-color="#caeb9f"/><stop offset=".53" stop-color="#cbec9f"/><stop offset=".583" stop-color="#c6eba2"/><stop offset=".621" stop-color="#bee9a7"/><stop offset=".659" stop-color="#b3e6ae"/><stop offset=".697" stop-color="#aae3b3"/><stop offset=".765" stop-color="#92d5c1"/><stop offset=".826" stop-color="#90c7c6"/><stop offset=".977" stop-color="#9ea5c4"/><stop offset="1" stop-color="#a0a2c3"/></linearGradient><linearGradient id="g0_59" gradientUnits="userSpaceOnUse" x1="0" y1="13.4" x2="0" y2="277.6"><stop offset="0" stop-color="#9fa2c3"/><stop offset=".167" stop-color="#90c8c6"/><stop offset=".227" stop-color="#92d5c0"/><stop offset=".288" stop-color="#a4e0b6"/><stop offset=".326" stop-color="#b4e6ad"/><stop offset=".371" stop-color="#b6e7ac"/><stop offset=".409" stop-color="#c4eaa3"/><stop offset=".447" stop-color="#c6eba2"/><stop offset=".47" stop-color="#cbec9f"/><stop offset=".508" stop-color="#c8eba1"/><stop offset=".538" stop-color="#c9eba0"/><stop offset=".583" stop-color="#c5eaa3"/><stop offset=".636" stop-color="#b8e7ab"/><stop offset=".705" stop-color="#a8e2b4"/><stop offset=".773" stop-color="#91d4c1"/><stop offset=".833" stop-color="#90c7c6"/><stop offset=".992" stop-color="#9fa3c4"/><stop offset="1" stop-color="#9fa2c3"/></linearGradient><linearGradient id="g0_60" gradientUnits="userSpaceOnUse" x1="0" y1="13.4" x2="0" y2="277.6"><stop offset="0" stop-color="#9fa2c3"/><stop offset=".174" stop-color="#8fc9c5"/><stop offset=".227" stop-color="#91d4c1"/><stop offset=".295" stop-color="#a4e0b6"/><stop offset=".333" stop-color="#b4e6ad"/><stop offset=".371" stop-color="#b4e6ad"/><stop offset=".409" stop-color="#c1e9a5"/><stop offset=".447" stop-color="#c3eaa4"/><stop offset=".477" stop-color="#c9eba0"/><stop offset=".508" stop-color="#c4eaa3"/><stop offset=".538" stop-color="#c6eba2"/><stop offset=".591" stop-color="#c3eaa4"/><stop offset=".689" stop-color="#ace3b2"/><stop offset=".78" stop-color="#91d4c1"/><stop offset=".841" stop-color="#90c8c6"/><stop offset="1" stop-color="#9fa2c3"/></linearGradient><linearGradient id="g0_61" gradientUnits="userSpaceOnUse" x1="0" y1="13.4" x2="0" y2="277.6"><stop offset="0" stop-color="#9fa2c3"/><stop offset=".174" stop-color="#8fc9c6"/><stop offset=".235" stop-color="#92d5c0"/><stop offset=".303" stop-color="#a5e1b6"/><stop offset=".341" stop-color="#b3e6ae"/><stop offset=".364" stop-color="#b1e5af"/><stop offset=".417" stop-color="#c1e9a5"/><stop offset=".447" stop-color="#c0e9a6"/><stop offset=".477" stop-color="#c8eba1"/><stop offset=".508" stop-color="#c0e9a6"/><stop offset=".545" stop-color="#c4eaa3"/><stop offset=".591" stop-color="#c1e9a5"/><stop offset=".727" stop-color="#a2dfb7"/><stop offset=".788" stop-color="#91d4c1"/><stop offset=".856" stop-color="#90c6c6"/><stop offset="1" stop-color="#9fa2c3"/></linearGradient><linearGradient id="g0_62" gradientUnits="userSpaceOnUse" x1="0" y1="13.4" x2="0" y2="277.6"><stop offset="0" stop-color="#9fa2c3"/><stop offset=".182" stop-color="#8fcac5"/><stop offset=".242" stop-color="#93d6c0"/><stop offset=".288" stop-color="#9dddba"/><stop offset=".341" stop-color="#b1e5af"/><stop offset=".371" stop-color="#b1e5af"/><stop offset=".417" stop-color="#bfe9a7"/><stop offset=".455" stop-color="#bee9a7"/><stop offset=".485" stop-color="#c4eaa3"/><stop offset=".515" stop-color="#bee9a7"/><stop offset=".545" stop-color="#c1e9a5"/><stop offset=".598" stop-color="#bfe9a7"/><stop offset=".758" stop-color="#9adbbc"/><stop offset=".803" stop-color="#90d3c2"/><stop offset=".879" stop-color="#92c3c6"/><stop offset="1" stop-color="#9fa3c4"/></linearGradient><linearGradient id="g0_63" gradientUnits="userSpaceOnUse" x1="0" y1="13.4" x2="0" y2="277.6"><stop offset="0" stop-color="#9fa2c3"/><stop offset=".182" stop-color="#8fcac5"/><stop offset=".242" stop-color="#93d6c0"/><stop offset=".295" stop-color="#9eddba"/><stop offset=".341" stop-color="#afe4b0"/><stop offset=".379" stop-color="#b1e5af"/><stop offset=".424" stop-color="#bee9a7"/><stop offset=".455" stop-color="#bbe8a9"/><stop offset=".492" stop-color="#c1e9a5"/><stop offset=".523" stop-color="#bbe8a9"/><stop offset=".561" stop-color="#bee9a7"/><stop offset=".606" stop-color="#bbe8a9"/><stop offset=".765" stop-color="#99dbbc"/><stop offset=".818" stop-color="#90d2c2"/><stop offset=".902" stop-color="#93bfc7"/><stop offset=".977" stop-color="#9caac5"/><stop offset="1" stop-color="#9fa4c4"/></linearGradient><linearGradient id="g0_64" gradientUnits="userSpaceOnUse" x1="0" y1="13.4" x2="0" y2="277.6"><stop offset="0" stop-color="#9fa2c3"/><stop offset=".182" stop-color="#8fc9c5"/><stop offset=".25" stop-color="#93d6c0"/><stop offset=".303" stop-color="#9fdeb9"/><stop offset=".356" stop-color="#ade4b1"/><stop offset=".386" stop-color="#b1e5af"/><stop offset=".424" stop-color="#bce8a8"/><stop offset=".455" stop-color="#b8e7ab"/><stop offset=".492" stop-color="#bfe9a7"/><stop offset=".523" stop-color="#b9e7aa"/><stop offset=".561" stop-color="#bbe8a9"/><stop offset=".614" stop-color="#b8e7ab"/><stop offset=".773" stop-color="#99dabd"/><stop offset=".826" stop-color="#8fd1c3"/><stop offset=".909" stop-color="#93c0c7"/><stop offset=".977" stop-color="#9bacc6"/><stop offset="1" stop-color="#9ea5c4"/></linearGradient><linearGradient id="g0_65" gradientUnits="userSpaceOnUse" x1="0" y1="13.4" x2="0" y2="277.6"><stop offset="0" stop-color="#9fa2c3"/><stop offset=".182" stop-color="#8fc9c5"/><stop offset=".25" stop-color="#93d6c0"/><stop offset=".303" stop-color="#9dddba"/><stop offset=".356" stop-color="#abe3b2"/><stop offset=".386" stop-color="#afe4b0"/><stop offset=".424" stop-color="#bae8aa"/><stop offset=".462" stop-color="#b5e6ac"/><stop offset=".492" stop-color="#bce8a8"/><stop offset=".53" stop-color="#b6e7ac"/><stop offset=".568" stop-color="#b9e7aa"/><stop offset=".621" stop-color="#b5e6ac"/><stop offset=".72" stop-color="#a2dfb7"/><stop offset=".826" stop-color="#90d2c2"/><stop offset=".909" stop-color="#92c2c6"/><stop offset=".977" stop-color="#9aaec6"/><stop offset="1" stop-color="#9ea6c4"/></linearGradient><linearGradient id="g0_66" gradientUnits="userSpaceOnUse" x1="0" y1="13.4" x2="0" y2="277.6"><stop offset="0" stop-color="#9fa2c3"/><stop offset=".182" stop-color="#8fc9c5"/><stop offset=".25" stop-color="#93d6c0"/><stop offset=".303" stop-color="#9dddba"/><stop offset=".356" stop-color="#abe3b2"/><stop offset=".386" stop-color="#afe4b0"/><stop offset=".424" stop-color="#bae8aa"/><stop offset=".462" stop-color="#b5e6ac"/><stop offset=".492" stop-color="#bce8a8"/><stop offset=".53" stop-color="#b6e7ac"/><stop offset=".568" stop-color="#b9e7aa"/><stop offset=".621" stop-color="#b5e6ac"/><stop offset=".72" stop-color="#a2dfb7"/><stop offset=".826" stop-color="#90d2c2"/><stop offset=".909" stop-color="#92c2c6"/><stop offset=".977" stop-color="#9aaec6"/><stop offset="1" stop-color="#9ea6c4"/></linearGradient><linearGradient id="g0_67" gradientUnits="userSpaceOnUse" x1="0" y1="13.4" x2="0" y2="277.6"><stop offset="0" stop-color="#9fa2c3"/><stop offset=".182" stop-color="#8fc9c5"/><stop offset=".25" stop-color="#93d6c0"/><stop offset=".303" stop-color="#9dddba"/><stop offset=".356" stop-color="#abe3b2"/><stop offset=".386" stop-color="#afe4b0"/><stop offset=".424" stop-color="#bae8aa"/><stop offset=".462" stop-color="#b5e6ac"/><stop offset=".492" stop-color="#bce8a8"/><stop offset=".53" stop-color="#b6e7ac"/><stop offset=".568" stop-color="#b9e7aa"/><stop offset=".621" stop-color="#b5e6ac"/><stop offset=".72" stop-color="#a2dfb7"/><stop offset=".826" stop-color="#90d2c2"/><stop offset=".909" stop-color="#92c2c6"/><stop offset=".977" stop-color="#9aaec6"/><stop offset="1" stop-color="#9ea6c4"/></linearGradient><filter id="bl0" filterUnits="userSpaceOnUse" x="156.7" y="8.4" width="906.8" height="284.1" color-interpolation-filters="sRGB"><feGaussianBlur stdDeviation="4.5 0"/></filter><clipPath id="c1"><path d="M195.6 303.9 L1024.6 303.9 L1024.6 567.7 L898.5 567.7 L890.5 567.7 L882.5 567.7 L874.5 567.7 L866.5 567.7 L858.5 567.5 L850.5 567.3 L842.5 567 L834.5 566.6 L826.5 566.1 L818.5 565.5 L810.5 564.8 L802.5 563.9 L794.5 562.8 L786.5 561.6 L778.5 560.2 L770.5 558.5 L762.5 556.8 L754.5 555 L746.5 552.8 L738.5 550.3 L730.5 547.7 L722.5 544.9 L714.5 541.9 L706.5 538.7 L698.5 535.2 L690.5 532.1 L682.5 528.6 L674.5 524.8 L666.5 520.7 L658.5 516.6 L650.5 512.5 L642.5 508.6 L634.5 504.8 L626.5 501.1 L618.5 497.3 L610.5 493.4 L602.5 489.6 L594.5 485.7 L586.5 482.1 L578.5 478.6 L570.5 475.4 L562.5 472.5 L554.5 470 L546.5 468.1 L538.5 466.1 L530.5 464.5 L522.5 463.3 L514.5 462.7 L506.5 462.3 L498.5 462.5 L490.5 463.1 L482.5 464.4 L474.5 466.4 L466.5 468.8 L458.5 471.3 L450.5 474.3 L442.5 477.8 L434.5 482.1 L426.5 487 L418.5 493 L410.5 498.1 L402.5 504 L394.5 510.8 L386.5 517.5 L378.5 523.7 L370.5 529.8 L362.5 535.8 L354.5 541.8 L346.5 547.5 L338.5 552.8 L330.5 557.7 L322.5 561.8 L305 567.7 L195.6 567.7Z"/></clipPath><linearGradient id="g1_0" gradientUnits="userSpaceOnUse" x1="0" y1="303.9" x2="0" y2="568"><stop offset="0" stop-color="#9fa4c4"/><stop offset=".076" stop-color="#8fc9c6"/><stop offset=".098" stop-color="#91d4c1"/><stop offset=".121" stop-color="#a1dfb8"/><stop offset=".174" stop-color="#d3ed99"/><stop offset=".197" stop-color="#ebf18c"/><stop offset=".227" stop-color="#f8f28e"/><stop offset=".242" stop-color="#fef392"/><stop offset=".311" stop-color="#fcf390"/><stop offset=".341" stop-color="#eff18c"/><stop offset=".386" stop-color="#d9ee96"/><stop offset=".47" stop-color="#a1dfb8"/><stop offset=".5" stop-color="#93d6c0"/><stop offset=".545" stop-color="#8fc9c5"/><stop offset=".591" stop-color="#93bec7"/><stop offset=".606" stop-color="#99b1c6"/><stop offset=".614" stop-color="#9aaec6"/><stop offset=".636" stop-color="#98b3c6"/><stop offset=".682" stop-color="#9da9c5"/><stop offset=".712" stop-color="#a0a2c3"/><stop offset=".795" stop-color="#9fa4c4"/><stop offset=".841" stop-color="#9da9c5"/><stop offset=".97" stop-color="#9fa4c4"/><stop offset="1" stop-color="#a0a1c3"/></linearGradient><linearGradient id="g1_1" gradientUnits="userSpaceOnUse" x1="0" y1="303.9" x2="0" y2="568"><stop offset="0" stop-color="#9fa4c4"/><stop offset=".076" stop-color="#8fc9c6"/><stop offset=".098" stop-color="#91d4c1"/><stop offset=".121" stop-color="#a1dfb8"/><stop offset=".174" stop-color="#d3ed99"/><stop offset=".197" stop-color="#ebf18c"/><stop offset=".227" stop-color="#f8f28e"/><stop offset=".242" stop-color="#fef392"/><stop offset=".311" stop-color="#fcf390"/><stop offset=".341" stop-color="#eff18c"/><stop offset=".386" stop-color="#d9ee96"/><stop offset=".47" stop-color="#a1dfb8"/><stop offset=".5" stop-color="#93d6c0"/><stop offset=".545" stop-color="#8fc9c5"/><stop offset=".591" stop-color="#93bec7"/><stop offset=".606" stop-color="#99b1c6"/><stop offset=".614" stop-color="#9aaec6"/><stop offset=".636" stop-color="#98b3c6"/><stop offset=".682" stop-color="#9da9c5"/><stop offset=".712" stop-color="#a0a2c3"/><stop offset=".795" stop-color="#9fa4c4"/><stop offset=".841" stop-color="#9da9c5"/><stop offset=".97" stop-color="#9fa4c4"/><stop offset="1" stop-color="#a0a1c3"/></linearGradient><linearGradient id="g1_2" gradientUnits="userSpaceOnUse" x1="0" y1="303.9" x2="0" y2="568"><stop offset="0" stop-color="#9fa4c4"/><stop offset=".076" stop-color="#8fc9c6"/><stop offset=".098" stop-color="#91d4c1"/><stop offset=".121" stop-color="#a1dfb8"/><stop offset=".174" stop-color="#d3ed99"/><stop offset=".197" stop-color="#ebf18c"/><stop offset=".227" stop-color="#f8f28e"/><stop offset=".242" stop-color="#fef392"/><stop offset=".311" stop-color="#fcf390"/><stop offset=".341" stop-color="#eff18c"/><stop offset=".386" stop-color="#d9ee96"/><stop offset=".47" stop-color="#a1dfb8"/><stop offset=".5" stop-color="#93d6c0"/><stop offset=".545" stop-color="#8fc9c5"/><stop offset=".591" stop-color="#93bec7"/><stop offset=".606" stop-color="#99b1c6"/><stop offset=".614" stop-color="#9aaec6"/><stop offset=".636" stop-color="#98b3c6"/><stop offset=".682" stop-color="#9da9c5"/><stop offset=".712" stop-color="#a0a2c3"/><stop offset=".795" stop-color="#9fa4c4"/><stop offset=".841" stop-color="#9da9c5"/><stop offset=".97" stop-color="#9fa4c4"/><stop offset="1" stop-color="#a0a1c3"/></linearGradient><linearGradient id="g1_3" gradientUnits="userSpaceOnUse" x1="0" y1="303.9" x2="0" y2="568"><stop offset="0" stop-color="#9fa4c4"/><stop offset=".076" stop-color="#8fc9c6"/><stop offset=".098" stop-color="#91d4c1"/><stop offset=".121" stop-color="#a0deb9"/><stop offset=".174" stop-color="#d2ed9a"/><stop offset=".197" stop-color="#eaf08d"/><stop offset=".227" stop-color="#f8f28e"/><stop offset=".25" stop-color="#fef392"/><stop offset=".318" stop-color="#fcf390"/><stop offset=".348" stop-color="#edf18c"/><stop offset=".402" stop-color="#cfec9c"/><stop offset=".477" stop-color="#9cdcbb"/><stop offset=".515" stop-color="#90d3c2"/><stop offset=".583" stop-color="#92c2c6"/><stop offset=".606" stop-color="#99b1c6"/><stop offset=".614" stop-color="#9aafc6"/><stop offset=".636" stop-color="#98b4c6"/><stop offset=".705" stop-color="#9ea6c4"/><stop offset=".818" stop-color="#9da8c5"/><stop offset=".947" stop-color="#9ea7c5"/><stop offset="1" stop-color="#a0a2c3"/></linearGradient><linearGradient id="g1_4" gradientUnits="userSpaceOnUse" x1="0" y1="303.9" x2="0" y2="568"><stop offset="0" stop-color="#9fa4c4"/><stop offset=".076" stop-color="#90c8c6"/><stop offset=".098" stop-color="#91d3c2"/><stop offset=".121" stop-color="#9fdeb9"/><stop offset=".174" stop-color="#cfec9c"/><stop offset=".197" stop-color="#e9f08d"/><stop offset=".227" stop-color="#f7f28d"/><stop offset=".242" stop-color="#fef392"/><stop offset=".318" stop-color="#fdf391"/><stop offset=".348" stop-color="#edf18c"/><stop offset=".402" stop-color="#cfec9c"/><stop offset=".477" stop-color="#9dddba"/><stop offset=".523" stop-color="#8fd1c3"/><stop offset=".583" stop-color="#92c2c6"/><stop offset=".606" stop-color="#99b0c6"/><stop offset=".621" stop-color="#98b3c6"/><stop offset=".636" stop-color="#97b5c6"/><stop offset=".727" stop-color="#9ea6c5"/><stop offset=".924" stop-color="#9caac5"/><stop offset="1" stop-color="#a0a2c3"/></linearGradient><linearGradient id="g1_5" gradientUnits="userSpaceOnUse" x1="0" y1="303.9" x2="0" y2="568"><stop offset="0" stop-color="#9fa4c4"/><stop offset=".083" stop-color="#8fccc5"/><stop offset=".106" stop-color="#94d7bf"/><stop offset=".144" stop-color="#b3e6ae"/><stop offset=".174" stop-color="#ceec9d"/><stop offset=".197" stop-color="#e7f08e"/><stop offset=".227" stop-color="#f7f28d"/><stop offset=".242" stop-color="#fef392"/><stop offset=".326" stop-color="#fdf391"/><stop offset=".348" stop-color="#eef18c"/><stop offset=".402" stop-color="#d1ed9b"/><stop offset=".477" stop-color="#9eddba"/><stop offset=".523" stop-color="#90d2c2"/><stop offset=".583" stop-color="#92c3c6"/><stop offset=".606" stop-color="#99b1c6"/><stop offset=".629" stop-color="#96b7c7"/><stop offset=".735" stop-color="#9ea5c4"/><stop offset=".917" stop-color="#9cabc5"/><stop offset=".977" stop-color="#9ea5c4"/><stop offset="1" stop-color="#a0a2c3"/></linearGradient><linearGradient id="g1_6" gradientUnits="userSpaceOnUse" x1="0" y1="303.9" x2="0" y2="568"><stop offset="0" stop-color="#9fa4c4"/><stop offset=".083" stop-color="#8fccc5"/><stop offset=".106" stop-color="#93d6c0"/><stop offset=".136" stop-color="#abe3b2"/><stop offset=".182" stop-color="#d5ed99"/><stop offset=".197" stop-color="#e6f08e"/><stop offset=".227" stop-color="#f6f28d"/><stop offset=".242" stop-color="#fef392"/><stop offset=".326" stop-color="#fef392"/><stop offset=".348" stop-color="#eef18c"/><stop offset=".402" stop-color="#d1ed9b"/><stop offset=".477" stop-color="#9fdeb9"/><stop offset=".523" stop-color="#90d3c2"/><stop offset=".583" stop-color="#92c3c6"/><stop offset=".598" stop-color="#97b5c6"/><stop offset=".606" stop-color="#98b2c6"/><stop offset=".629" stop-color="#96b9c7"/><stop offset=".674" stop-color="#99b0c6"/><stop offset=".712" stop-color="#9da8c5"/><stop offset=".78" stop-color="#9da9c5"/><stop offset=".947" stop-color="#9bacc6"/><stop offset="1" stop-color="#9fa2c3"/></linearGradient><linearGradient id="g1_7" gradientUnits="userSpaceOnUse" x1="0" y1="303.9" x2="0" y2="568"><stop offset="0" stop-color="#9fa4c4"/><stop offset=".083" stop-color="#8fcbc5"/><stop offset=".106" stop-color="#93d6c0"/><stop offset=".136" stop-color="#a9e2b3"/><stop offset=".189" stop-color="#dbee94"/><stop offset=".212" stop-color="#eff18c"/><stop offset=".242" stop-color="#fef392"/><stop offset=".326" stop-color="#fef392"/><stop offset=".348" stop-color="#eff18c"/><stop offset=".394" stop-color="#d6ee98"/><stop offset=".47" stop-color="#a5e1b6"/><stop offset=".492" stop-color="#99dabd"/><stop offset=".545" stop-color="#8fcec4"/><stop offset=".583" stop-color="#92c2c6"/><stop offset=".598" stop-color="#97b5c6"/><stop offset=".629" stop-color="#95bbc7"/><stop offset=".659" stop-color="#97b5c7"/><stop offset=".689" stop-color="#9cabc6"/><stop offset=".758" stop-color="#9ea6c5"/><stop offset=".826" stop-color="#9cabc6"/><stop offset=".955" stop-color="#9bacc6"/><stop offset="1" stop-color="#9fa2c3"/></linearGradient><linearGradient id="g1_8" gradientUnits="userSpaceOnUse" x1="0" y1="303.9" x2="0" y2="568"><stop offset="0" stop-color="#9fa4c4"/><stop offset=".083" stop-color="#8fcbc5"/><stop offset=".106" stop-color="#92d5c0"/><stop offset=".136" stop-color="#a8e2b4"/><stop offset=".182" stop-color="#d2ed9a"/><stop offset=".205" stop-color="#e9f08d"/><stop offset=".235" stop-color="#f9f28f"/><stop offset=".242" stop-color="#fef392"/><stop offset=".326" stop-color="#fef392"/><stop offset=".348" stop-color="#f0f18c"/><stop offset=".394" stop-color="#d7ee97"/><stop offset=".47" stop-color="#a7e1b4"/><stop offset=".492" stop-color="#99dbbc"/><stop offset=".553" stop-color="#8fcdc4"/><stop offset=".576" stop-color="#90c6c6"/><stop offset=".598" stop-color="#97b6c7"/><stop offset=".621" stop-color="#94bdc7"/><stop offset=".659" stop-color="#98b3c6"/><stop offset=".682" stop-color="#9badc6"/><stop offset=".758" stop-color="#9ea6c4"/><stop offset=".818" stop-color="#9badc6"/><stop offset=".962" stop-color="#9bacc6"/><stop offset="1" stop-color="#9fa2c3"/></linearGradient><linearGradient id="g1_9" gradientUnits="userSpaceOnUse" x1="0" y1="303.9" x2="0" y2="568"><stop offset="0" stop-color="#9fa4c4"/><stop offset=".083" stop-color="#8fcac5"/><stop offset=".106" stop-color="#92d5c1"/><stop offset=".136" stop-color="#a7e1b4"/><stop offset=".182" stop-color="#cfec9c"/><stop offset=".205" stop-color="#e7f08e"/><stop offset=".235" stop-color="#f8f28e"/><stop offset=".25" stop-color="#fef392"/><stop offset=".326" stop-color="#fef392"/><stop offset=".356" stop-color="#ebf18c"/><stop offset=".417" stop-color="#c9eba0"/><stop offset=".462" stop-color="#b0e4b0"/><stop offset=".485" stop-color="#9dddba"/><stop offset=".545" stop-color="#8fd0c3"/><stop offset=".576" stop-color="#90c6c6"/><stop offset=".591" stop-color="#95b9c7"/><stop offset=".598" stop-color="#96b7c7"/><stop offset=".614" stop-color="#93bec7"/><stop offset=".652" stop-color="#97b5c6"/><stop offset=".682" stop-color="#9aafc6"/><stop offset=".75" stop-color="#9fa4c4"/><stop offset=".826" stop-color="#9aaec6"/><stop offset=".962" stop-color="#9bacc6"/><stop offset="1" stop-color="#9fa2c3"/></linearGradient><linearGradient id="g1_10" gradientUnits="userSpaceOnUse" x1="0" y1="303.9" x2="0" y2="568"><stop offset="0" stop-color="#9fa4c4"/><stop offset=".083" stop-color="#8fcac5"/><stop offset=".106" stop-color="#91d4c1"/><stop offset=".144" stop-color="#ace3b2"/><stop offset=".182" stop-color="#ceec9d"/><stop offset=".205" stop-color="#e6f08e"/><stop offset=".227" stop-color="#f3f28c"/><stop offset=".242" stop-color="#fdf391"/><stop offset=".326" stop-color="#fef392"/><stop offset=".356" stop-color="#edf18c"/><stop offset=".409" stop-color="#ceec9d"/><stop offset=".439" stop-color="#bee9a7"/><stop offset=".455" stop-color="#b8e7ab"/><stop offset=".485" stop-color="#9dddba"/><stop offset=".53" stop-color="#93d6c0"/><stop offset=".568" stop-color="#8fcbc5"/><stop offset=".591" stop-color="#95b9c7"/><stop offset=".606" stop-color="#94bdc7"/><stop offset=".621" stop-color="#93bec7"/><stop offset=".674" stop-color="#99b0c6"/><stop offset=".72" stop-color="#9da8c5"/><stop offset=".75" stop-color="#9fa3c4"/><stop offset=".826" stop-color="#9aafc6"/><stop offset=".955" stop-color="#9bacc6"/><stop offset="1" stop-color="#9fa2c3"/></linearGradient><linearGradient id="g1_11" gradientUnits="userSpaceOnUse" x1="0" y1="303.9" x2="0" y2="568"><stop offset="0" stop-color="#9fa4c4"/><stop offset=".083" stop-color="#8fcac5"/><stop offset=".106" stop-color="#91d4c1"/><stop offset=".129" stop-color="#9fdeb9"/><stop offset=".182" stop-color="#cdec9e"/><stop offset=".212" stop-color="#eaf08d"/><stop offset=".235" stop-color="#f7f28d"/><stop offset=".25" stop-color="#fef392"/><stop offset=".326" stop-color="#fdf391"/><stop offset=".356" stop-color="#edf18c"/><stop offset=".409" stop-color="#cfec9c"/><stop offset=".439" stop-color="#bee9a7"/><stop offset=".462" stop-color="#b3e6ae"/><stop offset=".485" stop-color="#9eddba"/><stop offset=".53" stop-color="#94d7bf"/><stop offset=".561" stop-color="#8fcdc4"/><stop offset=".576" stop-color="#90c7c6"/><stop offset=".591" stop-color="#95b9c7"/><stop offset=".614" stop-color="#93c0c7"/><stop offset=".682" stop-color="#9aaec6"/><stop offset=".742" stop-color="#9fa4c4"/><stop offset=".818" stop-color="#9aafc6"/><stop offset=".917" stop-color="#9aafc6"/><stop offset="1" stop-color="#a0a2c3"/></linearGradient><linearGradient id="g1_12" gradientUnits="userSpaceOnUse" x1="0" y1="303.9" x2="0" y2="564"><stop offset="0" stop-color="#9fa4c4"/><stop offset=".085" stop-color="#8fc9c5"/><stop offset=".108" stop-color="#91d3c2"/><stop offset=".138" stop-color="#a4e0b6"/><stop offset=".185" stop-color="#caeb9f"/><stop offset=".215" stop-color="#e9f08d"/><stop offset=".238" stop-color="#f7f28d"/><stop offset=".254" stop-color="#fef392"/><stop offset=".331" stop-color="#fdf391"/><stop offset=".362" stop-color="#eef18c"/><stop offset=".408" stop-color="#d5ed99"/><stop offset=".446" stop-color="#bee9a7"/><stop offset=".469" stop-color="#b3e6ae"/><stop offset=".492" stop-color="#9eddba"/><stop offset=".538" stop-color="#95d8bf"/><stop offset=".569" stop-color="#8fcfc4"/><stop offset=".585" stop-color="#90c8c6"/><stop offset=".6" stop-color="#95bac7"/><stop offset=".623" stop-color="#93c0c7"/><stop offset=".692" stop-color="#9aaec6"/><stop offset=".746" stop-color="#9ea6c4"/><stop offset=".815" stop-color="#9aafc6"/><stop offset=".908" stop-color="#99b1c6"/><stop offset=".985" stop-color="#9fa3c4"/><stop offset="1" stop-color="#a0a2c3"/></linearGradient><linearGradient id="g1_13" gradientUnits="userSpaceOnUse" x1="0" y1="303.9" x2="0" y2="556"><stop offset="0" stop-color="#9fa4c4"/><stop offset=".087" stop-color="#8fc9c5"/><stop offset=".111" stop-color="#90d3c2"/><stop offset=".143" stop-color="#a3e0b7"/><stop offset=".19" stop-color="#c9eba0"/><stop offset=".222" stop-color="#e7f08e"/><stop offset=".246" stop-color="#f6f28d"/><stop offset=".262" stop-color="#fef392"/><stop offset=".349" stop-color="#fcf390"/><stop offset=".373" stop-color="#eef18c"/><stop offset=".421" stop-color="#d5ed99"/><stop offset=".46" stop-color="#bee9a7"/><stop offset=".492" stop-color="#abe3b2"/><stop offset=".516" stop-color="#9bdcbb"/><stop offset=".587" stop-color="#8fd0c3"/><stop offset=".603" stop-color="#8fcbc5"/><stop offset=".619" stop-color="#95bac7"/><stop offset=".627" stop-color="#96b8c7"/><stop offset=".643" stop-color="#93bfc7"/><stop offset=".73" stop-color="#9caac5"/><stop offset=".77" stop-color="#9da9c5"/><stop offset=".865" stop-color="#98b3c6"/><stop offset=".937" stop-color="#9badc6"/><stop offset=".992" stop-color="#9fa3c4"/><stop offset="1" stop-color="#9fa2c3"/></linearGradient><linearGradient id="g1_14" gradientUnits="userSpaceOnUse" x1="0" y1="303.9" x2="0" y2="546"><stop offset="0" stop-color="#9fa4c4"/><stop offset=".091" stop-color="#8fc9c6"/><stop offset=".116" stop-color="#90d3c2"/><stop offset=".14" stop-color="#9cdcbb"/><stop offset=".198" stop-color="#c8eba1"/><stop offset=".231" stop-color="#e6f08e"/><stop offset=".256" stop-color="#f6f28d"/><stop offset=".273" stop-color="#fef392"/><stop offset=".364" stop-color="#fdf391"/><stop offset=".388" stop-color="#eff18c"/><stop offset=".446" stop-color="#d1ed9b"/><stop offset=".512" stop-color="#a9e2b3"/><stop offset=".545" stop-color="#99dabd"/><stop offset=".612" stop-color="#8fd0c3"/><stop offset=".628" stop-color="#8fccc5"/><stop offset=".653" stop-color="#96b7c7"/><stop offset=".678" stop-color="#94bdc7"/><stop offset=".76" stop-color="#9caac5"/><stop offset=".81" stop-color="#9bacc6"/><stop offset=".868" stop-color="#98b3c6"/><stop offset=".942" stop-color="#9aaec6"/><stop offset="1" stop-color="#9fa4c4"/></linearGradient><linearGradient id="g1_15" gradientUnits="userSpaceOnUse" x1="0" y1="303.9" x2="0" y2="536"><stop offset="0" stop-color="#9fa4c4"/><stop offset=".095" stop-color="#8fc9c6"/><stop offset=".129" stop-color="#93d6c0"/><stop offset=".19" stop-color="#b9e7aa"/><stop offset=".241" stop-color="#e5f08f"/><stop offset=".267" stop-color="#f6f28d"/><stop offset=".284" stop-color="#fef392"/><stop offset=".379" stop-color="#fef392"/><stop offset=".405" stop-color="#eff18c"/><stop offset=".466" stop-color="#d1ed9b"/><stop offset=".56" stop-color="#9cdcbb"/><stop offset=".621" stop-color="#8fd1c3"/><stop offset=".655" stop-color="#8fccc5"/><stop offset=".672" stop-color="#92c1c7"/><stop offset=".69" stop-color="#98b4c6"/><stop offset=".716" stop-color="#96b9c7"/><stop offset=".793" stop-color="#9caac5"/><stop offset=".888" stop-color="#98b2c6"/><stop offset=".948" stop-color="#9badc6"/><stop offset="1" stop-color="#9fa4c4"/></linearGradient><linearGradient id="g1_16" gradientUnits="userSpaceOnUse" x1="0" y1="303.9" x2="0" y2="526"><stop offset="0" stop-color="#9fa4c4"/><stop offset=".108" stop-color="#8fccc5"/><stop offset=".135" stop-color="#93d6c0"/><stop offset=".207" stop-color="#bfe9a7"/><stop offset=".252" stop-color="#e5f08f"/><stop offset=".279" stop-color="#f4f28c"/><stop offset=".297" stop-color="#fef392"/><stop offset=".351" stop-color="#fdf391"/><stop offset=".396" stop-color="#fef392"/><stop offset=".414" stop-color="#f6f28d"/><stop offset=".45" stop-color="#e2ef90"/><stop offset=".514" stop-color="#c3eaa4"/><stop offset=".568" stop-color="#a2dfb7"/><stop offset=".622" stop-color="#92d5c0"/><stop offset=".685" stop-color="#8fcac5"/><stop offset=".712" stop-color="#94bdc7"/><stop offset=".73" stop-color="#99b1c6"/><stop offset=".757" stop-color="#97b5c7"/><stop offset=".829" stop-color="#9caac5"/><stop offset=".91" stop-color="#99b1c6"/><stop offset="1" stop-color="#9ea5c4"/></linearGradient><linearGradient id="g1_17" gradientUnits="userSpaceOnUse" x1="0" y1="303.9" x2="0" y2="516"><stop offset="0" stop-color="#9fa4c4"/><stop offset=".113" stop-color="#8fccc5"/><stop offset=".142" stop-color="#92d5c0"/><stop offset=".179" stop-color="#a7e1b4"/><stop offset=".226" stop-color="#c5eaa3"/><stop offset=".274" stop-color="#eaf08d"/><stop offset=".302" stop-color="#f9f28f"/><stop offset=".311" stop-color="#fef392"/><stop offset=".34" stop-color="#fef392"/><stop offset=".358" stop-color="#fbf38f"/><stop offset=".415" stop-color="#fef392"/><stop offset=".434" stop-color="#f7f28d"/><stop offset=".462" stop-color="#e5f08f"/><stop offset=".519" stop-color="#ceec9d"/><stop offset=".585" stop-color="#a6e1b5"/><stop offset=".651" stop-color="#92d5c1"/><stop offset=".708" stop-color="#8fc9c5"/><stop offset=".755" stop-color="#95bac7"/><stop offset=".774" stop-color="#9aafc6"/><stop offset=".811" stop-color="#9aafc6"/><stop offset=".849" stop-color="#9caac5"/><stop offset=".925" stop-color="#9aaec6"/><stop offset="1" stop-color="#9ea5c4"/></linearGradient><linearGradient id="g1_18" gradientUnits="userSpaceOnUse" x1="0" y1="303.9" x2="0" y2="506"><stop offset="0" stop-color="#9fa4c4"/><stop offset=".119" stop-color="#8fcbc5"/><stop offset=".149" stop-color="#92d5c0"/><stop offset=".218" stop-color="#b8e7ab"/><stop offset=".277" stop-color="#e5f08f"/><stop offset=".307" stop-color="#f3f28c"/><stop offset=".327" stop-color="#fdf391"/><stop offset=".356" stop-color="#fcf390"/><stop offset=".386" stop-color="#f9f28f"/><stop offset=".416" stop-color="#fef392"/><stop offset=".446" stop-color="#fdf391"/><stop offset=".465" stop-color="#eff18c"/><stop offset=".495" stop-color="#e1ef91"/><stop offset=".545" stop-color="#ceec9d"/><stop offset=".614" stop-color="#a7e1b4"/><stop offset=".683" stop-color="#92d5c1"/><stop offset=".743" stop-color="#90c7c6"/><stop offset=".812" stop-color="#99b1c6"/><stop offset=".832" stop-color="#9caac5"/><stop offset=".871" stop-color="#9cabc5"/><stop offset=".96" stop-color="#9da8c5"/><stop offset="1" stop-color="#9ea5c4"/></linearGradient><linearGradient id="g1_19" gradientUnits="userSpaceOnUse" x1="0" y1="303.9" x2="0" y2="498"><stop offset="0" stop-color="#9fa4c4"/><stop offset=".124" stop-color="#8fcbc5"/><stop offset=".155" stop-color="#92d5c1"/><stop offset=".196" stop-color="#a6e1b5"/><stop offset=".258" stop-color="#ceec9d"/><stop offset=".278" stop-color="#dfef92"/><stop offset=".32" stop-color="#f2f18c"/><stop offset=".351" stop-color="#fef392"/><stop offset=".392" stop-color="#f7f28d"/><stop offset=".443" stop-color="#fef392"/><stop offset=".464" stop-color="#fdf391"/><stop offset=".485" stop-color="#eef18c"/><stop offset=".515" stop-color="#dfef92"/><stop offset=".557" stop-color="#d5ed99"/><stop offset=".639" stop-color="#a9e2b3"/><stop offset=".711" stop-color="#93d6c0"/><stop offset=".763" stop-color="#8fcac5"/><stop offset=".804" stop-color="#95b9c7"/><stop offset=".907" stop-color="#9ea5c4"/><stop offset="1" stop-color="#9fa3c4"/></linearGradient><linearGradient id="g1_20" gradientUnits="userSpaceOnUse" x1="0" y1="303.9" x2="0" y2="488"><stop offset="0" stop-color="#9fa4c4"/><stop offset=".13" stop-color="#8fcbc5"/><stop offset=".163" stop-color="#92d5c1"/><stop offset=".207" stop-color="#a6e1b5"/><stop offset=".272" stop-color="#cfec9c"/><stop offset=".304" stop-color="#e6f08e"/><stop offset=".348" stop-color="#f4f28c"/><stop offset=".37" stop-color="#fcf390"/><stop offset=".413" stop-color="#f7f28d"/><stop offset=".467" stop-color="#fef392"/><stop offset=".489" stop-color="#fdf391"/><stop offset=".511" stop-color="#eef18c"/><stop offset=".533" stop-color="#e1ef91"/><stop offset=".587" stop-color="#d6ee98"/><stop offset=".674" stop-color="#abe3b2"/><stop offset=".75" stop-color="#94d7bf"/><stop offset=".793" stop-color="#8fcec4"/><stop offset=".837" stop-color="#95bac7"/><stop offset=".967" stop-color="#9fa2c3"/><stop offset="1" stop-color="#a0a2c3"/></linearGradient><linearGradient id="g1_21" gradientUnits="userSpaceOnUse" x1="0" y1="303.9" x2="0" y2="482"><stop offset="0" stop-color="#9fa4c4"/><stop offset=".135" stop-color="#8fcbc5"/><stop offset=".169" stop-color="#92d5c1"/><stop offset=".213" stop-color="#a6e1b5"/><stop offset=".281" stop-color="#d2ed9a"/><stop offset=".315" stop-color="#e7f08e"/><stop offset=".371" stop-color="#f7f28d"/><stop offset=".393" stop-color="#fbf38f"/><stop offset=".427" stop-color="#f7f28d"/><stop offset=".483" stop-color="#fef392"/><stop offset=".506" stop-color="#fdf391"/><stop offset=".528" stop-color="#edf18c"/><stop offset=".551" stop-color="#e1ef91"/><stop offset=".596" stop-color="#daee95"/><stop offset=".697" stop-color="#afe4b0"/><stop offset=".764" stop-color="#97d9bd"/><stop offset=".809" stop-color="#90d2c2"/><stop offset=".865" stop-color="#95bac7"/><stop offset=".933" stop-color="#9badc6"/><stop offset=".978" stop-color="#9fa3c4"/><stop offset="1" stop-color="#a0a2c3"/></linearGradient><linearGradient id="g1_22" gradientUnits="userSpaceOnUse" x1="0" y1="303.9" x2="0" y2="478"><stop offset="0" stop-color="#9fa4c4"/><stop offset=".138" stop-color="#8fccc5"/><stop offset=".172" stop-color="#92d5c0"/><stop offset=".218" stop-color="#a7e1b4"/><stop offset=".287" stop-color="#d3ed99"/><stop offset=".322" stop-color="#e7f08e"/><stop offset=".368" stop-color="#f0f18c"/><stop offset=".402" stop-color="#f9f28f"/><stop offset=".437" stop-color="#f7f28d"/><stop offset=".494" stop-color="#fef392"/><stop offset=".517" stop-color="#fcf390"/><stop offset=".54" stop-color="#ebf18c"/><stop offset=".563" stop-color="#dfef92"/><stop offset=".609" stop-color="#dbee94"/><stop offset=".678" stop-color="#bce8a8"/><stop offset=".724" stop-color="#ace3b2"/><stop offset=".77" stop-color="#9bdcbb"/><stop offset=".828" stop-color="#90d3c2"/><stop offset=".874" stop-color="#93bec7"/><stop offset=".931" stop-color="#99b0c6"/><stop offset=".977" stop-color="#9fa4c4"/><stop offset="1" stop-color="#9fa2c3"/></linearGradient><linearGradient id="g1_23" gradientUnits="userSpaceOnUse" x1="0" y1="303.9" x2="0" y2="474"><stop offset="0" stop-color="#9fa4c4"/><stop offset=".129" stop-color="#8fc9c6"/><stop offset=".165" stop-color="#90d3c2"/><stop offset=".2" stop-color="#9cdcbb"/><stop offset=".282" stop-color="#cbec9f"/><stop offset=".329" stop-color="#e7f08e"/><stop offset=".365" stop-color="#ebf18c"/><stop offset=".412" stop-color="#f8f28e"/><stop offset=".518" stop-color="#fef392"/><stop offset=".541" stop-color="#f3f28c"/><stop offset=".576" stop-color="#e1ef91"/><stop offset=".624" stop-color="#ddef93"/><stop offset=".682" stop-color="#c1e9a5"/><stop offset=".729" stop-color="#b3e6ae"/><stop offset=".776" stop-color="#9eddba"/><stop offset=".847" stop-color="#90d2c2"/><stop offset=".918" stop-color="#95bac7"/><stop offset=".965" stop-color="#9da8c5"/><stop offset="1" stop-color="#9fa3c4"/></linearGradient><linearGradient id="g1_24" gradientUnits="userSpaceOnUse" x1="0" y1="303.9" x2="0" y2="470"><stop offset="0" stop-color="#9fa4c4"/><stop offset=".133" stop-color="#8fcac5"/><stop offset=".169" stop-color="#91d4c1"/><stop offset=".217" stop-color="#a5e1b6"/><stop offset=".289" stop-color="#cbec9f"/><stop offset=".325" stop-color="#e2ef90"/><stop offset=".349" stop-color="#e6f08e"/><stop offset=".386" stop-color="#edf18c"/><stop offset=".422" stop-color="#f8f28e"/><stop offset=".494" stop-color="#fef392"/><stop offset=".53" stop-color="#fef392"/><stop offset=".566" stop-color="#ebf18c"/><stop offset=".602" stop-color="#e1ef91"/><stop offset=".639" stop-color="#ddef93"/><stop offset=".699" stop-color="#c3eaa4"/><stop offset=".735" stop-color="#b9e7aa"/><stop offset=".783" stop-color="#a2dfb8"/><stop offset=".867" stop-color="#8fd1c3"/><stop offset=".94" stop-color="#96b9c7"/><stop offset=".976" stop-color="#9da9c5"/><stop offset="1" stop-color="#9ea5c4"/></linearGradient><linearGradient id="g1_25" gradientUnits="userSpaceOnUse" x1="0" y1="303.9" x2="0" y2="470"><stop offset="0" stop-color="#9fa4c4"/><stop offset=".133" stop-color="#8fcbc5"/><stop offset=".169" stop-color="#92d5c0"/><stop offset=".217" stop-color="#a9e2b3"/><stop offset=".277" stop-color="#c5eaa3"/><stop offset=".325" stop-color="#e1ef91"/><stop offset=".373" stop-color="#e7f08e"/><stop offset=".422" stop-color="#f8f28e"/><stop offset=".47" stop-color="#fef392"/><stop offset=".53" stop-color="#fcf390"/><stop offset=".566" stop-color="#edf18c"/><stop offset=".602" stop-color="#e3f08f"/><stop offset=".627" stop-color="#e1ef91"/><stop offset=".711" stop-color="#bfe9a7"/><stop offset=".735" stop-color="#b6e7ac"/><stop offset=".783" stop-color="#a1dfb8"/><stop offset=".867" stop-color="#8fcfc4"/><stop offset=".928" stop-color="#94bdc7"/><stop offset=".964" stop-color="#9aaec6"/><stop offset=".988" stop-color="#9cabc6"/><stop offset="1" stop-color="#a0a1c3"/></linearGradient><linearGradient id="g1_26" gradientUnits="userSpaceOnUse" x1="0" y1="303.9" x2="0" y2="470"><stop offset="0" stop-color="#9fa4c4"/><stop offset=".12" stop-color="#90c8c6"/><stop offset=".157" stop-color="#91d3c2"/><stop offset=".193" stop-color="#9fdeb9"/><stop offset=".241" stop-color="#b6e7ac"/><stop offset=".289" stop-color="#cbec9f"/><stop offset=".313" stop-color="#dbee94"/><stop offset=".349" stop-color="#e3f08f"/><stop offset=".373" stop-color="#e7f08e"/><stop offset=".41" stop-color="#f6f28d"/><stop offset=".446" stop-color="#fef392"/><stop offset=".518" stop-color="#fdf391"/><stop offset=".566" stop-color="#eef18c"/><stop offset=".627" stop-color="#e1ef91"/><stop offset=".687" stop-color="#c5eaa3"/><stop offset=".723" stop-color="#bae8aa"/><stop offset=".771" stop-color="#a2dfb7"/><stop offset=".855" stop-color="#8fd1c3"/><stop offset=".916" stop-color="#92c1c7"/><stop offset=".952" stop-color="#9badc6"/><stop offset=".988" stop-color="#9da8c5"/><stop offset="1" stop-color="#a0a1c3"/></linearGradient><linearGradient id="g1_27" gradientUnits="userSpaceOnUse" x1="0" y1="303.9" x2="0" y2="470"><stop offset="0" stop-color="#9fa4c4"/><stop offset=".12" stop-color="#8fc9c5"/><stop offset=".157" stop-color="#92d5c1"/><stop offset=".229" stop-color="#b4e6ad"/><stop offset=".277" stop-color="#c5eaa3"/><stop offset=".313" stop-color="#dbee94"/><stop offset=".373" stop-color="#e7f08e"/><stop offset=".41" stop-color="#f6f28d"/><stop offset=".434" stop-color="#fef392"/><stop offset=".506" stop-color="#fdf391"/><stop offset=".578" stop-color="#edf18c"/><stop offset=".627" stop-color="#e1ef91"/><stop offset=".699" stop-color="#c1e9a5"/><stop offset=".771" stop-color="#a1dfb8"/><stop offset=".855" stop-color="#8fd0c3"/><stop offset=".904" stop-color="#91c3c6"/><stop offset=".964" stop-color="#9ea6c5"/><stop offset="1" stop-color="#a0a2c3"/></linearGradient><linearGradient id="g1_28" gradientUnits="userSpaceOnUse" x1="0" y1="303.9" x2="0" y2="474"><stop offset="0" stop-color="#9ea5c4"/><stop offset=".118" stop-color="#8fcac5"/><stop offset=".153" stop-color="#93d6c0"/><stop offset=".188" stop-color="#a4e0b6"/><stop offset=".224" stop-color="#b6e7ac"/><stop offset=".259" stop-color="#c0e9a6"/><stop offset=".306" stop-color="#dbee94"/><stop offset=".376" stop-color="#edf18c"/><stop offset=".424" stop-color="#fef392"/><stop offset=".494" stop-color="#fcf390"/><stop offset=".576" stop-color="#eaf08d"/><stop offset=".624" stop-color="#daee95"/><stop offset=".741" stop-color="#a4e0b6"/><stop offset=".824" stop-color="#90d3c2"/><stop offset=".871" stop-color="#90c6c6"/><stop offset=".929" stop-color="#9cabc5"/><stop offset=".976" stop-color="#a0a2c3"/><stop offset="1" stop-color="#a0a1c3"/></linearGradient><linearGradient id="g1_29" gradientUnits="userSpaceOnUse" x1="0" y1="303.9" x2="0" y2="476"><stop offset="0" stop-color="#9ea5c4"/><stop offset=".116" stop-color="#8fcbc5"/><stop offset=".151" stop-color="#94d7bf"/><stop offset=".186" stop-color="#a6e1b5"/><stop offset=".209" stop-color="#b4e6ad"/><stop offset=".256" stop-color="#c1e9a5"/><stop offset=".302" stop-color="#ddef93"/><stop offset=".349" stop-color="#e6f08e"/><stop offset=".384" stop-color="#f4f28c"/><stop offset=".419" stop-color="#fef392"/><stop offset=".477" stop-color="#fcf390"/><stop offset=".57" stop-color="#eaf08d"/><stop offset=".64" stop-color="#cdec9e"/><stop offset=".756" stop-color="#9cdcbb"/><stop offset=".826" stop-color="#8fd0c3"/><stop offset=".86" stop-color="#91c5c6"/><stop offset=".907" stop-color="#9aaec6"/><stop offset=".965" stop-color="#9fa2c3"/><stop offset="1" stop-color="#a0a1c3"/></linearGradient><linearGradient id="g1_30" gradientUnits="userSpaceOnUse" x1="0" y1="303.9" x2="0" y2="480"><stop offset="0" stop-color="#9ea5c4"/><stop offset=".114" stop-color="#8fcbc5"/><stop offset=".148" stop-color="#94d7bf"/><stop offset=".205" stop-color="#b5e6ac"/><stop offset=".25" stop-color="#c3eaa4"/><stop offset=".295" stop-color="#dfef92"/><stop offset=".352" stop-color="#eef18c"/><stop offset=".398" stop-color="#fdf391"/><stop offset=".455" stop-color="#fef392"/><stop offset=".523" stop-color="#f0f18c"/><stop offset=".568" stop-color="#e5f08f"/><stop offset=".716" stop-color="#a4e0b6"/><stop offset=".784" stop-color="#92d5c1"/><stop offset=".83" stop-color="#8fc9c5"/><stop offset=".886" stop-color="#9badc6"/><stop offset=".966" stop-color="#9fa2c3"/><stop offset="1" stop-color="#a0a1c3"/></linearGradient><linearGradient id="g1_31" gradientUnits="userSpaceOnUse" x1="0" y1="303.9" x2="0" y2="486"><stop offset="0" stop-color="#9ea5c4"/><stop offset=".11" stop-color="#8fccc5"/><stop offset=".143" stop-color="#94d7bf"/><stop offset=".198" stop-color="#b6e7ac"/><stop offset=".242" stop-color="#c5eaa3"/><stop offset=".286" stop-color="#e2ef90"/><stop offset=".341" stop-color="#f2f18c"/><stop offset=".374" stop-color="#fbf38f"/><stop offset=".429" stop-color="#fef392"/><stop offset=".505" stop-color="#eff18c"/><stop offset=".56" stop-color="#deef93"/><stop offset=".626" stop-color="#bfe9a7"/><stop offset=".736" stop-color="#96d8be"/><stop offset=".791" stop-color="#8fccc5"/><stop offset=".824" stop-color="#94bdc7"/><stop offset=".857" stop-color="#9bacc6"/><stop offset=".967" stop-color="#a0a2c3"/><stop offset="1" stop-color="#a0a1c3"/></linearGradient><linearGradient id="g1_32" gradientUnits="userSpaceOnUse" x1="0" y1="303.9" x2="0" y2="490"><stop offset="0" stop-color="#9ea5c4"/><stop offset=".108" stop-color="#8fccc5"/><stop offset=".14" stop-color="#95d8bf"/><stop offset=".194" stop-color="#b8e7ab"/><stop offset=".237" stop-color="#c8eba1"/><stop offset=".28" stop-color="#e5f08f"/><stop offset=".333" stop-color="#f6f28d"/><stop offset=".366" stop-color="#fbf38f"/><stop offset=".43" stop-color="#f9f28f"/><stop offset=".505" stop-color="#eaf08d"/><stop offset=".559" stop-color="#d6ee98"/><stop offset=".613" stop-color="#bce8a8"/><stop offset=".731" stop-color="#93d6c0"/><stop offset=".774" stop-color="#8fccc5"/><stop offset=".817" stop-color="#97b6c7"/><stop offset=".849" stop-color="#9caac5"/><stop offset="1" stop-color="#a0a1c3"/></linearGradient><linearGradient id="g1_33" gradientUnits="userSpaceOnUse" x1="0" y1="303.9" x2="0" y2="498"><stop offset="0" stop-color="#9ea5c4"/><stop offset=".103" stop-color="#8fccc5"/><stop offset=".134" stop-color="#95d8be"/><stop offset=".186" stop-color="#b9e7aa"/><stop offset=".227" stop-color="#caeb9f"/><stop offset=".268" stop-color="#e7f08e"/><stop offset=".32" stop-color="#f8f28e"/><stop offset=".34" stop-color="#fcf390"/><stop offset=".371" stop-color="#f8f28e"/><stop offset=".412" stop-color="#f7f28d"/><stop offset=".474" stop-color="#ebf18c"/><stop offset=".536" stop-color="#d5ed99"/><stop offset=".588" stop-color="#bbe8a9"/><stop offset=".691" stop-color="#96d8be"/><stop offset=".742" stop-color="#8fccc5"/><stop offset=".804" stop-color="#9bacc6"/><stop offset=".866" stop-color="#9ea5c4"/><stop offset="1" stop-color="#a0a1c3"/></linearGradient><linearGradient id="g1_34" gradientUnits="userSpaceOnUse" x1="0" y1="303.9" x2="0" y2="504"><stop offset="0" stop-color="#9ea5c4"/><stop offset=".09" stop-color="#90c8c6"/><stop offset=".12" stop-color="#91d4c1"/><stop offset=".16" stop-color="#abe3b2"/><stop offset=".18" stop-color="#bae8aa"/><stop offset=".22" stop-color="#cbec9f"/><stop offset=".26" stop-color="#e9f08d"/><stop offset=".3" stop-color="#f7f28d"/><stop offset=".32" stop-color="#fdf391"/><stop offset=".36" stop-color="#f7f28d"/><stop offset=".43" stop-color="#f2f18c"/><stop offset=".49" stop-color="#dfef92"/><stop offset=".57" stop-color="#bae8aa"/><stop offset=".64" stop-color="#a1dfb8"/><stop offset=".69" stop-color="#91d4c1"/><stop offset=".73" stop-color="#90c7c6"/><stop offset=".78" stop-color="#9cabc6"/><stop offset=".83" stop-color="#9ea5c4"/><stop offset="1" stop-color="#a0a1c3"/></linearGradient><linearGradient id="g1_35" gradientUnits="userSpaceOnUse" x1="0" y1="303.9" x2="0" y2="510"><stop offset="0" stop-color="#9ea5c4"/><stop offset=".087" stop-color="#8fc9c6"/><stop offset=".117" stop-color="#92d5c0"/><stop offset=".146" stop-color="#a5e1b6"/><stop offset=".175" stop-color="#bbe8a9"/><stop offset=".214" stop-color="#cdec9e"/><stop offset=".243" stop-color="#e5f08f"/><stop offset=".282" stop-color="#f3f28c"/><stop offset=".311" stop-color="#fdf391"/><stop offset=".35" stop-color="#f6f28d"/><stop offset=".388" stop-color="#f4f28c"/><stop offset=".447" stop-color="#e9f08d"/><stop offset=".515" stop-color="#cbec9f"/><stop offset=".544" stop-color="#bbe8a9"/><stop offset=".621" stop-color="#a1dfb8"/><stop offset=".66" stop-color="#93d6c0"/><stop offset=".699" stop-color="#8fcac5"/><stop offset=".767" stop-color="#9da8c5"/><stop offset="1" stop-color="#a0a1c3"/></linearGradient><linearGradient id="g1_36" gradientUnits="userSpaceOnUse" x1="0" y1="303.9" x2="0" y2="516"><stop offset="0" stop-color="#9ea5c4"/><stop offset=".085" stop-color="#8fcac5"/><stop offset=".113" stop-color="#93d6c0"/><stop offset=".142" stop-color="#a8e2b4"/><stop offset=".17" stop-color="#bee9a7"/><stop offset=".198" stop-color="#c8eba1"/><stop offset=".245" stop-color="#eaf08d"/><stop offset=".283" stop-color="#f7f28d"/><stop offset=".302" stop-color="#fcf390"/><stop offset=".34" stop-color="#f6f28d"/><stop offset=".368" stop-color="#f6f28d"/><stop offset=".425" stop-color="#ebf18c"/><stop offset=".472" stop-color="#daee95"/><stop offset=".528" stop-color="#bae8aa"/><stop offset=".575" stop-color="#abe3b2"/><stop offset=".642" stop-color="#92d5c0"/><stop offset=".679" stop-color="#8fcac5"/><stop offset=".745" stop-color="#9cabc6"/><stop offset=".84" stop-color="#9fa4c4"/><stop offset="1" stop-color="#a0a1c3"/></linearGradient><linearGradient id="g1_37" gradientUnits="userSpaceOnUse" x1="0" y1="303.9" x2="0" y2="522"><stop offset="0" stop-color="#9ea5c4"/><stop offset=".083" stop-color="#8fcac5"/><stop offset=".11" stop-color="#94d7bf"/><stop offset=".156" stop-color="#bae8aa"/><stop offset=".193" stop-color="#c8eba1"/><stop offset=".239" stop-color="#eaf08d"/><stop offset=".266" stop-color="#f2f18c"/><stop offset=".294" stop-color="#fbf38f"/><stop offset=".33" stop-color="#f7f28d"/><stop offset=".394" stop-color="#eff18c"/><stop offset=".44" stop-color="#e2ef90"/><stop offset=".486" stop-color="#c9eba0"/><stop offset=".514" stop-color="#b9e7aa"/><stop offset=".56" stop-color="#aae3b3"/><stop offset=".615" stop-color="#94d7bf"/><stop offset=".651" stop-color="#8fcdc4"/><stop offset=".743" stop-color="#9ea7c5"/><stop offset=".771" stop-color="#9fa4c4"/><stop offset=".844" stop-color="#9ea6c5"/><stop offset="1" stop-color="#a0a1c3"/></linearGradient><linearGradient id="g1_38" gradientUnits="userSpaceOnUse" x1="0" y1="303.9" x2="0" y2="528"><stop offset="0" stop-color="#9ea5c4"/><stop offset=".08" stop-color="#8fcbc5"/><stop offset=".107" stop-color="#95d8be"/><stop offset=".152" stop-color="#bce8a8"/><stop offset=".188" stop-color="#c8eba1"/><stop offset=".223" stop-color="#e5f08f"/><stop offset=".259" stop-color="#f0f18c"/><stop offset=".286" stop-color="#fbf38f"/><stop offset=".321" stop-color="#f7f28d"/><stop offset=".357" stop-color="#f3f28c"/><stop offset=".411" stop-color="#e9f08d"/><stop offset=".455" stop-color="#d5ed99"/><stop offset=".491" stop-color="#bce8a8"/><stop offset=".545" stop-color="#aae3b3"/><stop offset=".598" stop-color="#94d7bf"/><stop offset=".643" stop-color="#8fc9c5"/><stop offset=".723" stop-color="#9ea6c5"/><stop offset=".768" stop-color="#9cabc5"/><stop offset=".812" stop-color="#9fa4c4"/><stop offset=".902" stop-color="#9ea5c4"/><stop offset="1" stop-color="#a0a1c3"/></linearGradient><linearGradient id="g1_39" gradientUnits="userSpaceOnUse" x1="0" y1="303.9" x2="0" y2="536"><stop offset="0" stop-color="#9ea5c4"/><stop offset=".078" stop-color="#8fccc5"/><stop offset=".095" stop-color="#91d4c1"/><stop offset=".112" stop-color="#9cdcbb"/><stop offset=".147" stop-color="#bee9a7"/><stop offset=".172" stop-color="#c4eaa3"/><stop offset=".216" stop-color="#e5f08f"/><stop offset=".25" stop-color="#eff18c"/><stop offset=".276" stop-color="#f9f28f"/><stop offset=".336" stop-color="#f6f28d"/><stop offset=".405" stop-color="#e6f08e"/><stop offset=".44" stop-color="#d5ed99"/><stop offset=".474" stop-color="#bbe8a9"/><stop offset=".517" stop-color="#ade4b1"/><stop offset=".578" stop-color="#93d6c0"/><stop offset=".621" stop-color="#8fc9c5"/><stop offset=".672" stop-color="#98b2c6"/><stop offset=".69" stop-color="#9da9c5"/><stop offset=".724" stop-color="#9bacc6"/><stop offset=".767" stop-color="#a0a1c3"/><stop offset=".862" stop-color="#9ea6c5"/><stop offset="1" stop-color="#a0a1c3"/></linearGradient><linearGradient id="g1_40" gradientUnits="userSpaceOnUse" x1="0" y1="303.9" x2="0" y2="540"><stop offset="0" stop-color="#9ea5c4"/><stop offset=".076" stop-color="#8fccc5"/><stop offset=".093" stop-color="#91d4c1"/><stop offset=".119" stop-color="#a5e1b6"/><stop offset=".144" stop-color="#bee9a7"/><stop offset=".169" stop-color="#c4eaa3"/><stop offset=".212" stop-color="#e5f08f"/><stop offset=".246" stop-color="#eef18c"/><stop offset=".271" stop-color="#f8f28e"/><stop offset=".322" stop-color="#f8f28e"/><stop offset=".39" stop-color="#e9f08d"/><stop offset=".432" stop-color="#d6ee98"/><stop offset=".466" stop-color="#bbe8a9"/><stop offset=".508" stop-color="#ade4b1"/><stop offset=".568" stop-color="#93d6c0"/><stop offset=".602" stop-color="#8fccc5"/><stop offset=".653" stop-color="#96b8c7"/><stop offset=".669" stop-color="#9bacc6"/><stop offset=".686" stop-color="#9bacc6"/><stop offset=".703" stop-color="#9badc6"/><stop offset=".737" stop-color="#a0a1c3"/><stop offset=".831" stop-color="#9ea5c4"/><stop offset=".924" stop-color="#9fa4c4"/><stop offset="1" stop-color="#a0a1c3"/></linearGradient><linearGradient id="g1_41" gradientUnits="userSpaceOnUse" x1="0" y1="303.9" x2="0" y2="546"><stop offset="0" stop-color="#9ea5c4"/><stop offset=".074" stop-color="#8fccc5"/><stop offset=".091" stop-color="#91d4c1"/><stop offset=".107" stop-color="#9cdcbb"/><stop offset=".14" stop-color="#bee9a7"/><stop offset=".165" stop-color="#c4eaa3"/><stop offset=".207" stop-color="#e5f08f"/><stop offset=".24" stop-color="#eef18c"/><stop offset=".264" stop-color="#f8f28e"/><stop offset=".322" stop-color="#f7f28d"/><stop offset=".38" stop-color="#e9f08d"/><stop offset=".421" stop-color="#d6ee98"/><stop offset=".455" stop-color="#bce8a8"/><stop offset=".504" stop-color="#aae3b3"/><stop offset=".554" stop-color="#93d6c0"/><stop offset=".595" stop-color="#8fcac5"/><stop offset=".636" stop-color="#96b8c7"/><stop offset=".653" stop-color="#9badc6"/><stop offset=".678" stop-color="#9badc6"/><stop offset=".711" stop-color="#a0a1c3"/><stop offset=".826" stop-color="#9fa4c4"/><stop offset=".884" stop-color="#9ea6c4"/><stop offset="1" stop-color="#a0a1c3"/></linearGradient><linearGradient id="g1_42" gradientUnits="userSpaceOnUse" x1="0" y1="303.9" x2="0" y2="552"><stop offset="0" stop-color="#9ea5c4"/><stop offset=".073" stop-color="#8fcbc5"/><stop offset=".097" stop-color="#95d8be"/><stop offset=".137" stop-color="#bce8a8"/><stop offset=".169" stop-color="#c8eba1"/><stop offset=".202" stop-color="#e3f08f"/><stop offset=".242" stop-color="#f0f18c"/><stop offset=".258" stop-color="#f7f28d"/><stop offset=".306" stop-color="#f9f28f"/><stop offset=".363" stop-color="#eaf08d"/><stop offset=".411" stop-color="#d7ee97"/><stop offset=".444" stop-color="#bee9a7"/><stop offset=".508" stop-color="#a2dfb7"/><stop offset=".548" stop-color="#91d4c1"/><stop offset=".597" stop-color="#91c5c6"/><stop offset=".613" stop-color="#93bfc7"/><stop offset=".629" stop-color="#99b1c6"/><stop offset=".645" stop-color="#9aafc6"/><stop offset=".661" stop-color="#9bacc6"/><stop offset=".685" stop-color="#9fa2c3"/><stop offset=".895" stop-color="#9ea6c4"/><stop offset="1" stop-color="#a0a1c3"/></linearGradient><linearGradient id="g1_43" gradientUnits="userSpaceOnUse" x1="0" y1="303.9" x2="0" y2="556"><stop offset="0" stop-color="#9ea5c4"/><stop offset=".071" stop-color="#8fcbc5"/><stop offset=".095" stop-color="#95d8bf"/><stop offset=".135" stop-color="#bbe8a9"/><stop offset=".167" stop-color="#c8eba1"/><stop offset=".198" stop-color="#e3f08f"/><stop offset=".246" stop-color="#f4f28c"/><stop offset=".294" stop-color="#fbf38f"/><stop offset=".349" stop-color="#eef18c"/><stop offset=".405" stop-color="#d7ee97"/><stop offset=".444" stop-color="#bbe8a9"/><stop offset=".5" stop-color="#a3e0b7"/><stop offset=".54" stop-color="#91d4c1"/><stop offset=".587" stop-color="#90c6c6"/><stop offset=".611" stop-color="#96b8c7"/><stop offset=".619" stop-color="#99b1c6"/><stop offset=".643" stop-color="#99b1c6"/><stop offset=".667" stop-color="#9da8c5"/><stop offset=".857" stop-color="#9ea7c5"/><stop offset="1" stop-color="#a0a1c3"/></linearGradient><linearGradient id="g1_44" gradientUnits="userSpaceOnUse" x1="0" y1="303.9" x2="0" y2="560"><stop offset="0" stop-color="#9ea5c4"/><stop offset=".07" stop-color="#8fcac5"/><stop offset=".086" stop-color="#90d3c2"/><stop offset=".109" stop-color="#a2dfb8"/><stop offset=".133" stop-color="#bae8aa"/><stop offset=".164" stop-color="#c6eba2"/><stop offset=".195" stop-color="#e3f08f"/><stop offset=".242" stop-color="#f4f28c"/><stop offset=".258" stop-color="#f8f28e"/><stop offset=".297" stop-color="#f9f28f"/><stop offset=".359" stop-color="#e9f08d"/><stop offset=".398" stop-color="#d7ee97"/><stop offset=".438" stop-color="#bce8a8"/><stop offset=".5" stop-color="#a0deb9"/><stop offset=".539" stop-color="#90d2c2"/><stop offset=".586" stop-color="#91c4c6"/><stop offset=".609" stop-color="#99b1c6"/><stop offset=".633" stop-color="#98b2c6"/><stop offset=".664" stop-color="#9caac5"/><stop offset=".828" stop-color="#9ea6c4"/><stop offset=".922" stop-color="#9ea5c4"/><stop offset="1" stop-color="#a0a1c3"/></linearGradient><linearGradient id="g1_45" gradientUnits="userSpaceOnUse" x1="0" y1="303.9" x2="0" y2="562"><stop offset="0" stop-color="#9ea5c4"/><stop offset=".07" stop-color="#8fcac5"/><stop offset=".093" stop-color="#93d6c0"/><stop offset=".116" stop-color="#a8e2b4"/><stop offset=".14" stop-color="#bce8a8"/><stop offset=".163" stop-color="#c5eaa3"/><stop offset=".194" stop-color="#e2ef90"/><stop offset=".233" stop-color="#f0f18c"/><stop offset=".256" stop-color="#f9f28f"/><stop offset=".295" stop-color="#fbf38f"/><stop offset=".349" stop-color="#edf18c"/><stop offset=".388" stop-color="#dbee94"/><stop offset=".45" stop-color="#b6e7ac"/><stop offset=".512" stop-color="#99dabd"/><stop offset=".543" stop-color="#8fd0c3"/><stop offset=".581" stop-color="#91c4c6"/><stop offset=".605" stop-color="#99b1c6"/><stop offset=".628" stop-color="#98b4c6"/><stop offset=".705" stop-color="#9fa2c3"/><stop offset=".791" stop-color="#9ea7c5"/><stop offset=".922" stop-color="#9ea6c4"/><stop offset="1" stop-color="#a0a1c3"/></linearGradient><linearGradient id="g1_46" gradientUnits="userSpaceOnUse" x1="0" y1="303.9" x2="0" y2="566"><stop offset="0" stop-color="#9ea5c4"/><stop offset=".069" stop-color="#8fc9c5"/><stop offset=".092" stop-color="#93d6c0"/><stop offset=".115" stop-color="#a7e1b4"/><stop offset=".137" stop-color="#bbe8a9"/><stop offset=".168" stop-color="#c9eba0"/><stop offset=".198" stop-color="#e5f08f"/><stop offset=".229" stop-color="#f2f18c"/><stop offset=".252" stop-color="#fbf38f"/><stop offset=".298" stop-color="#f8f28e"/><stop offset=".359" stop-color="#eaf08d"/><stop offset=".443" stop-color="#b6e7ac"/><stop offset=".504" stop-color="#99dbbc"/><stop offset=".534" stop-color="#8fd1c3"/><stop offset=".573" stop-color="#91c4c6"/><stop offset=".595" stop-color="#99b1c6"/><stop offset=".618" stop-color="#97b5c6"/><stop offset=".656" stop-color="#9cabc5"/><stop offset=".687" stop-color="#a0a1c3"/><stop offset=".802" stop-color="#9ea7c5"/><stop offset=".924" stop-color="#9ea6c4"/><stop offset="1" stop-color="#a0a1c3"/></linearGradient><linearGradient id="g1_47" gradientUnits="userSpaceOnUse" x1="0" y1="303.9" x2="0" y2="568"><stop offset="0" stop-color="#9ea5c4"/><stop offset=".068" stop-color="#8fc9c6"/><stop offset=".091" stop-color="#92d5c0"/><stop offset=".114" stop-color="#a5e1b6"/><stop offset=".129" stop-color="#b5e6ac"/><stop offset=".167" stop-color="#c6eba2"/><stop offset=".197" stop-color="#e2ef90"/><stop offset=".227" stop-color="#f2f18c"/><stop offset=".25" stop-color="#fcf390"/><stop offset=".295" stop-color="#f9f28f"/><stop offset=".318" stop-color="#f2f18c"/><stop offset=".356" stop-color="#ebf18c"/><stop offset=".394" stop-color="#d1ed9b"/><stop offset=".462" stop-color="#ace3b2"/><stop offset=".515" stop-color="#93d6c0"/><stop offset=".553" stop-color="#8fccc5"/><stop offset=".568" stop-color="#91c5c6"/><stop offset=".591" stop-color="#98b2c6"/><stop offset=".614" stop-color="#97b5c7"/><stop offset=".652" stop-color="#9da9c5"/><stop offset=".674" stop-color="#a0a1c3"/><stop offset=".758" stop-color="#9ea5c4"/><stop offset=".841" stop-color="#9ea7c5"/><stop offset=".932" stop-color="#9ea5c4"/><stop offset="1" stop-color="#a0a1c3"/></linearGradient><linearGradient id="g1_48" gradientUnits="userSpaceOnUse" x1="0" y1="303.9" x2="0" y2="568"><stop offset="0" stop-color="#9ea5c4"/><stop offset=".068" stop-color="#90c8c6"/><stop offset=".091" stop-color="#92d5c1"/><stop offset=".114" stop-color="#a4e0b6"/><stop offset=".136" stop-color="#b9e7aa"/><stop offset=".159" stop-color="#bfe9a7"/><stop offset=".205" stop-color="#e6f08e"/><stop offset=".227" stop-color="#f3f28c"/><stop offset=".25" stop-color="#fcf390"/><stop offset=".295" stop-color="#f9f28f"/><stop offset=".318" stop-color="#f2f18c"/><stop offset=".356" stop-color="#eef18c"/><stop offset=".379" stop-color="#daee95"/><stop offset=".402" stop-color="#cbec9f"/><stop offset=".432" stop-color="#bee9a7"/><stop offset=".462" stop-color="#abe3b2"/><stop offset=".492" stop-color="#a0deb9"/><stop offset=".53" stop-color="#90d2c2"/><stop offset=".568" stop-color="#90c6c6"/><stop offset=".591" stop-color="#98b2c6"/><stop offset=".614" stop-color="#97b6c7"/><stop offset=".644" stop-color="#9bacc6"/><stop offset=".667" stop-color="#a0a2c3"/><stop offset=".765" stop-color="#9fa4c4"/><stop offset=".818" stop-color="#9da8c5"/><stop offset=".939" stop-color="#9ea5c4"/><stop offset="1" stop-color="#a0a1c3"/></linearGradient><linearGradient id="g1_49" gradientUnits="userSpaceOnUse" x1="0" y1="303.9" x2="0" y2="568"><stop offset="0" stop-color="#9ea5c4"/><stop offset=".076" stop-color="#8fccc5"/><stop offset=".098" stop-color="#95d8be"/><stop offset=".136" stop-color="#b6e7ac"/><stop offset=".167" stop-color="#c3eaa4"/><stop offset=".205" stop-color="#e3f08f"/><stop offset=".227" stop-color="#f3f28c"/><stop offset=".25" stop-color="#fdf391"/><stop offset=".295" stop-color="#f9f28f"/><stop offset=".326" stop-color="#f0f18c"/><stop offset=".348" stop-color="#f2f18c"/><stop offset=".364" stop-color="#ebf18c"/><stop offset=".394" stop-color="#ceec9d"/><stop offset=".424" stop-color="#c4eaa3"/><stop offset=".462" stop-color="#abe3b2"/><stop offset=".485" stop-color="#a5e1b6"/><stop offset=".523" stop-color="#92d5c0"/><stop offset=".561" stop-color="#8fcac5"/><stop offset=".576" stop-color="#92c1c7"/><stop offset=".591" stop-color="#98b3c6"/><stop offset=".614" stop-color="#96b7c7"/><stop offset=".652" stop-color="#9da8c5"/><stop offset=".674" stop-color="#a0a1c3"/><stop offset=".773" stop-color="#9fa3c4"/><stop offset=".818" stop-color="#9da8c5"/><stop offset=".947" stop-color="#9ea5c4"/><stop offset="1" stop-color="#a0a1c3"/></linearGradient><linearGradient id="g1_50" gradientUnits="userSpaceOnUse" x1="0" y1="303.9" x2="0" y2="568"><stop offset="0" stop-color="#9ea5c4"/><stop offset=".076" stop-color="#8fccc5"/><stop offset=".098" stop-color="#94d7bf"/><stop offset=".136" stop-color="#b5e6ac"/><stop offset=".167" stop-color="#c0e9a6"/><stop offset=".205" stop-color="#e2ef90"/><stop offset=".227" stop-color="#f2f18c"/><stop offset=".242" stop-color="#fcf390"/><stop offset=".265" stop-color="#fbf38f"/><stop offset=".295" stop-color="#f9f28f"/><stop offset=".326" stop-color="#f0f18c"/><stop offset=".348" stop-color="#f2f18c"/><stop offset=".364" stop-color="#ebf18c"/><stop offset=".394" stop-color="#cfec9c"/><stop offset=".432" stop-color="#c0e9a6"/><stop offset=".462" stop-color="#abe3b2"/><stop offset=".492" stop-color="#a2dfb8"/><stop offset=".53" stop-color="#91d3c2"/><stop offset=".568" stop-color="#90c8c6"/><stop offset=".591" stop-color="#98b4c6"/><stop offset=".621" stop-color="#97b6c7"/><stop offset=".667" stop-color="#9fa2c3"/><stop offset=".78" stop-color="#9fa3c4"/><stop offset=".826" stop-color="#9da8c5"/><stop offset=".947" stop-color="#9ea6c4"/><stop offset="1" stop-color="#a0a1c3"/></linearGradient><linearGradient id="g1_51" gradientUnits="userSpaceOnUse" x1="0" y1="303.9" x2="0" y2="568"><stop offset="0" stop-color="#9ea5c4"/><stop offset=".076" stop-color="#8fcbc5"/><stop offset=".098" stop-color="#93d6c0"/><stop offset=".136" stop-color="#b3e6ae"/><stop offset=".167" stop-color="#bfe9a7"/><stop offset=".212" stop-color="#e6f08e"/><stop offset=".235" stop-color="#f7f28d"/><stop offset=".25" stop-color="#fdf391"/><stop offset=".303" stop-color="#f7f28d"/><stop offset=".333" stop-color="#f0f18c"/><stop offset=".356" stop-color="#eff18c"/><stop offset=".371" stop-color="#e6f08e"/><stop offset=".394" stop-color="#d1ed9b"/><stop offset=".432" stop-color="#c0e9a6"/><stop offset=".462" stop-color="#ace3b2"/><stop offset=".508" stop-color="#9adbbc"/><stop offset=".538" stop-color="#8fd1c3"/><stop offset=".576" stop-color="#91c4c6"/><stop offset=".598" stop-color="#98b2c6"/><stop offset=".621" stop-color="#97b6c7"/><stop offset=".674" stop-color="#a0a2c3"/><stop offset=".788" stop-color="#9fa4c4"/><stop offset=".826" stop-color="#9da8c5"/><stop offset=".947" stop-color="#9ea6c4"/><stop offset="1" stop-color="#a0a1c3"/></linearGradient><linearGradient id="g1_52" gradientUnits="userSpaceOnUse" x1="0" y1="303.9" x2="0" y2="568"><stop offset="0" stop-color="#9ea5c4"/><stop offset=".076" stop-color="#8fcac5"/><stop offset=".098" stop-color="#92d5c0"/><stop offset=".136" stop-color="#b1e5af"/><stop offset=".167" stop-color="#bce8a8"/><stop offset=".212" stop-color="#e5f08f"/><stop offset=".235" stop-color="#f4f28c"/><stop offset=".25" stop-color="#fcf390"/><stop offset=".311" stop-color="#f4f28c"/><stop offset=".364" stop-color="#eaf08d"/><stop offset=".402" stop-color="#cfec9c"/><stop offset=".439" stop-color="#bbe8a9"/><stop offset=".47" stop-color="#aae3b3"/><stop offset=".53" stop-color="#91d4c1"/><stop offset=".568" stop-color="#90c8c6"/><stop offset=".583" stop-color="#92c1c6"/><stop offset=".598" stop-color="#98b4c6"/><stop offset=".629" stop-color="#97b4c6"/><stop offset=".682" stop-color="#a0a2c3"/><stop offset=".788" stop-color="#9fa3c4"/><stop offset=".833" stop-color="#9da8c5"/><stop offset=".947" stop-color="#9ea6c5"/><stop offset="1" stop-color="#a0a1c3"/></linearGradient><linearGradient id="g1_53" gradientUnits="userSpaceOnUse" x1="0" y1="303.9" x2="0" y2="568"><stop offset="0" stop-color="#9fa4c4"/><stop offset=".076" stop-color="#8fc9c5"/><stop offset=".098" stop-color="#91d4c1"/><stop offset=".121" stop-color="#a2dfb8"/><stop offset=".144" stop-color="#b4e6ad"/><stop offset=".167" stop-color="#bbe8a9"/><stop offset=".212" stop-color="#e3f08f"/><stop offset=".235" stop-color="#f3f28c"/><stop offset=".258" stop-color="#fcf390"/><stop offset=".28" stop-color="#f6f28d"/><stop offset=".311" stop-color="#f4f28c"/><stop offset=".371" stop-color="#e5f08f"/><stop offset=".47" stop-color="#aae3b3"/><stop offset=".538" stop-color="#90d2c2"/><stop offset=".583" stop-color="#91c3c6"/><stop offset=".606" stop-color="#98b2c6"/><stop offset=".629" stop-color="#97b5c7"/><stop offset=".689" stop-color="#a0a2c3"/><stop offset=".788" stop-color="#9fa3c4"/><stop offset=".833" stop-color="#9da8c5"/><stop offset=".955" stop-color="#9ea6c4"/><stop offset="1" stop-color="#a0a2c3"/></linearGradient><linearGradient id="g1_54" gradientUnits="userSpaceOnUse" x1="0" y1="303.9" x2="0" y2="568"><stop offset="0" stop-color="#9fa4c4"/><stop offset=".076" stop-color="#8fc9c6"/><stop offset=".098" stop-color="#91d3c2"/><stop offset=".129" stop-color="#a6e1b5"/><stop offset=".144" stop-color="#b2e5ae"/><stop offset=".174" stop-color="#c0e9a6"/><stop offset=".212" stop-color="#e2ef90"/><stop offset=".235" stop-color="#f0f18c"/><stop offset=".258" stop-color="#fbf38f"/><stop offset=".28" stop-color="#f6f28d"/><stop offset=".311" stop-color="#f4f28c"/><stop offset=".364" stop-color="#e6f08e"/><stop offset=".417" stop-color="#cbec9f"/><stop offset=".47" stop-color="#abe3b2"/><stop offset=".538" stop-color="#90d2c2"/><stop offset=".591" stop-color="#93c0c7"/><stop offset=".606" stop-color="#98b4c6"/><stop offset=".614" stop-color="#98b2c6"/><stop offset=".636" stop-color="#98b4c6"/><stop offset=".697" stop-color="#a0a1c3"/><stop offset=".788" stop-color="#9fa3c4"/><stop offset=".833" stop-color="#9da8c5"/><stop offset=".955" stop-color="#9ea6c4"/><stop offset="1" stop-color="#a0a2c3"/></linearGradient><linearGradient id="g1_55" gradientUnits="userSpaceOnUse" x1="0" y1="303.9" x2="0" y2="568"><stop offset="0" stop-color="#9fa4c4"/><stop offset=".083" stop-color="#8fccc5"/><stop offset=".106" stop-color="#93d6c0"/><stop offset=".152" stop-color="#b4e6ad"/><stop offset=".174" stop-color="#c0e9a6"/><stop offset=".212" stop-color="#e2ef90"/><stop offset=".242" stop-color="#f3f28c"/><stop offset=".265" stop-color="#f8f28e"/><stop offset=".288" stop-color="#f6f28d"/><stop offset=".341" stop-color="#eef18c"/><stop offset=".402" stop-color="#d7ee97"/><stop offset=".455" stop-color="#b4e6ad"/><stop offset=".53" stop-color="#92d5c1"/><stop offset=".568" stop-color="#90c8c6"/><stop offset=".598" stop-color="#94bdc7"/><stop offset=".614" stop-color="#98b2c6"/><stop offset=".636" stop-color="#97b4c6"/><stop offset=".682" stop-color="#9da8c5"/><stop offset=".705" stop-color="#a0a2c3"/><stop offset=".788" stop-color="#9fa3c4"/><stop offset=".833" stop-color="#9da8c5"/><stop offset=".955" stop-color="#9ea6c4"/><stop offset="1" stop-color="#a0a2c3"/></linearGradient><linearGradient id="g1_56" gradientUnits="userSpaceOnUse" x1="0" y1="303.9" x2="0" y2="568"><stop offset="0" stop-color="#9fa4c4"/><stop offset=".083" stop-color="#8fcbc5"/><stop offset=".106" stop-color="#92d5c0"/><stop offset=".152" stop-color="#b3e6ae"/><stop offset=".174" stop-color="#c0e9a6"/><stop offset=".212" stop-color="#e2ef90"/><stop offset=".25" stop-color="#f4f28c"/><stop offset=".273" stop-color="#f6f28d"/><stop offset=".311" stop-color="#f4f28c"/><stop offset=".356" stop-color="#e6f08e"/><stop offset=".409" stop-color="#d3ed99"/><stop offset=".462" stop-color="#b1e5af"/><stop offset=".53" stop-color="#92d5c0"/><stop offset=".568" stop-color="#90c8c6"/><stop offset=".598" stop-color="#93bfc7"/><stop offset=".621" stop-color="#99b0c6"/><stop offset=".644" stop-color="#98b3c6"/><stop offset=".689" stop-color="#9da9c5"/><stop offset=".72" stop-color="#a0a1c3"/><stop offset=".788" stop-color="#9fa3c4"/><stop offset=".826" stop-color="#9da8c5"/><stop offset=".955" stop-color="#9ea5c4"/><stop offset="1" stop-color="#a0a2c3"/></linearGradient><linearGradient id="g1_57" gradientUnits="userSpaceOnUse" x1="0" y1="303.9" x2="0" y2="568"><stop offset="0" stop-color="#9fa4c4"/><stop offset=".083" stop-color="#8fcac5"/><stop offset=".106" stop-color="#91d4c1"/><stop offset=".152" stop-color="#b2e5ae"/><stop offset=".182" stop-color="#c6eba2"/><stop offset=".212" stop-color="#e2ef90"/><stop offset=".235" stop-color="#e9f08d"/><stop offset=".258" stop-color="#f4f28c"/><stop offset=".311" stop-color="#f4f28c"/><stop offset=".356" stop-color="#e7f08e"/><stop offset=".409" stop-color="#d3ed99"/><stop offset=".462" stop-color="#b1e5af"/><stop offset=".53" stop-color="#92d5c0"/><stop offset=".568" stop-color="#8fc9c5"/><stop offset=".606" stop-color="#95bbc7"/><stop offset=".621" stop-color="#9aafc6"/><stop offset=".644" stop-color="#98b3c6"/><stop offset=".705" stop-color="#9ea6c5"/><stop offset=".735" stop-color="#a0a1c3"/><stop offset=".788" stop-color="#9fa4c4"/><stop offset=".833" stop-color="#9da8c5"/><stop offset=".955" stop-color="#9ea5c4"/><stop offset="1" stop-color="#a0a2c3"/></linearGradient><linearGradient id="g1_58" gradientUnits="userSpaceOnUse" x1="0" y1="303.9" x2="0" y2="568"><stop offset="0" stop-color="#9fa4c4"/><stop offset=".083" stop-color="#8fc9c5"/><stop offset=".106" stop-color="#91d3c2"/><stop offset=".136" stop-color="#a4e0b6"/><stop offset=".182" stop-color="#c6eba2"/><stop offset=".212" stop-color="#e2ef90"/><stop offset=".242" stop-color="#ebf18c"/><stop offset=".265" stop-color="#f4f28c"/><stop offset=".311" stop-color="#f6f28d"/><stop offset=".356" stop-color="#e7f08e"/><stop offset=".417" stop-color="#cfec9c"/><stop offset=".455" stop-color="#b5e6ac"/><stop offset=".53" stop-color="#92d5c0"/><stop offset=".568" stop-color="#8fcac5"/><stop offset=".606" stop-color="#94bdc7"/><stop offset=".621" stop-color="#99b0c6"/><stop offset=".629" stop-color="#9badc6"/><stop offset=".652" stop-color="#99b1c6"/><stop offset=".682" stop-color="#9bacc6"/><stop offset=".75" stop-color="#a0a1c3"/><stop offset=".826" stop-color="#9da8c5"/><stop offset=".947" stop-color="#9ea6c4"/><stop offset="1" stop-color="#a0a1c3"/></linearGradient><linearGradient id="g1_59" gradientUnits="userSpaceOnUse" x1="0" y1="303.9" x2="0" y2="568"><stop offset="0" stop-color="#9fa4c4"/><stop offset=".083" stop-color="#8fc9c6"/><stop offset=".106" stop-color="#90d3c2"/><stop offset=".136" stop-color="#a2dfb7"/><stop offset=".182" stop-color="#c6eba2"/><stop offset=".212" stop-color="#e2ef90"/><stop offset=".242" stop-color="#e9f08d"/><stop offset=".273" stop-color="#f4f28c"/><stop offset=".311" stop-color="#f6f28d"/><stop offset=".364" stop-color="#e5f08f"/><stop offset=".409" stop-color="#d3ed99"/><stop offset=".477" stop-color="#a9e2b3"/><stop offset=".538" stop-color="#90d3c2"/><stop offset=".591" stop-color="#91c3c6"/><stop offset=".614" stop-color="#96b8c7"/><stop offset=".629" stop-color="#9badc6"/><stop offset=".652" stop-color="#99b1c6"/><stop offset=".682" stop-color="#9cabc5"/><stop offset=".72" stop-color="#9da8c5"/><stop offset=".758" stop-color="#a0a1c3"/><stop offset=".818" stop-color="#9da8c5"/><stop offset=".955" stop-color="#9ea5c4"/><stop offset="1" stop-color="#a0a1c3"/></linearGradient><linearGradient id="g1_60" gradientUnits="userSpaceOnUse" x1="0" y1="303.9" x2="0" y2="568"><stop offset="0" stop-color="#9fa4c4"/><stop offset=".091" stop-color="#8fccc5"/><stop offset=".114" stop-color="#92d5c0"/><stop offset=".144" stop-color="#a7e1b4"/><stop offset=".182" stop-color="#c6eba2"/><stop offset=".212" stop-color="#e2ef90"/><stop offset=".242" stop-color="#e7f08e"/><stop offset=".273" stop-color="#f3f28c"/><stop offset=".303" stop-color="#f7f28d"/><stop offset=".364" stop-color="#e6f08e"/><stop offset=".409" stop-color="#d2ed9a"/><stop offset=".485" stop-color="#a6e1b5"/><stop offset=".538" stop-color="#90d3c2"/><stop offset=".591" stop-color="#91c4c6"/><stop offset=".614" stop-color="#95bac7"/><stop offset=".629" stop-color="#9badc6"/><stop offset=".636" stop-color="#9cabc6"/><stop offset=".659" stop-color="#99b0c6"/><stop offset=".689" stop-color="#9caac5"/><stop offset=".727" stop-color="#9da8c5"/><stop offset=".758" stop-color="#a0a2c3"/><stop offset=".818" stop-color="#9da8c5"/><stop offset=".955" stop-color="#9ea5c4"/><stop offset="1" stop-color="#a0a1c3"/></linearGradient><linearGradient id="g1_61" gradientUnits="userSpaceOnUse" x1="0" y1="303.9" x2="0" y2="568"><stop offset="0" stop-color="#9fa4c4"/><stop offset=".091" stop-color="#8fcbc5"/><stop offset=".114" stop-color="#92d5c1"/><stop offset=".152" stop-color="#abe3b2"/><stop offset=".189" stop-color="#cdec9e"/><stop offset=".212" stop-color="#e1ef91"/><stop offset=".242" stop-color="#e6f08e"/><stop offset=".273" stop-color="#f3f28c"/><stop offset=".311" stop-color="#f6f28d"/><stop offset=".364" stop-color="#e6f08e"/><stop offset=".409" stop-color="#d2ed9a"/><stop offset=".492" stop-color="#a2dfb7"/><stop offset=".538" stop-color="#91d3c2"/><stop offset=".591" stop-color="#91c4c6"/><stop offset=".621" stop-color="#97b6c7"/><stop offset=".636" stop-color="#9cabc5"/><stop offset=".667" stop-color="#99b0c6"/><stop offset=".697" stop-color="#9cabc5"/><stop offset=".735" stop-color="#9da8c5"/><stop offset=".758" stop-color="#a0a2c3"/><stop offset=".818" stop-color="#9da8c5"/><stop offset=".955" stop-color="#9ea5c4"/><stop offset="1" stop-color="#a0a1c3"/></linearGradient><linearGradient id="g1_62" gradientUnits="userSpaceOnUse" x1="0" y1="303.9" x2="0" y2="568"><stop offset="0" stop-color="#9fa4c4"/><stop offset=".091" stop-color="#8fcbc5"/><stop offset=".114" stop-color="#91d4c1"/><stop offset=".136" stop-color="#9eddba"/><stop offset=".189" stop-color="#caeb9f"/><stop offset=".212" stop-color="#dfef92"/><stop offset=".242" stop-color="#e6f08e"/><stop offset=".273" stop-color="#f2f18c"/><stop offset=".311" stop-color="#f4f28c"/><stop offset=".371" stop-color="#e5f08f"/><stop offset=".477" stop-color="#aae3b3"/><stop offset=".53" stop-color="#93d6c0"/><stop offset=".576" stop-color="#8fcac5"/><stop offset=".621" stop-color="#96b8c7"/><stop offset=".636" stop-color="#9bacc6"/><stop offset=".652" stop-color="#9bacc6"/><stop offset=".667" stop-color="#99b1c6"/><stop offset=".705" stop-color="#9bacc6"/><stop offset=".735" stop-color="#9ea7c5"/><stop offset=".765" stop-color="#a0a2c3"/><stop offset=".818" stop-color="#9da8c5"/><stop offset=".955" stop-color="#9ea5c4"/><stop offset="1" stop-color="#a0a1c3"/></linearGradient><linearGradient id="g1_63" gradientUnits="userSpaceOnUse" x1="0" y1="303.9" x2="0" y2="568"><stop offset="0" stop-color="#9fa4c4"/><stop offset=".091" stop-color="#8fcac5"/><stop offset=".114" stop-color="#91d4c1"/><stop offset=".136" stop-color="#9dddba"/><stop offset=".189" stop-color="#c8eba1"/><stop offset=".212" stop-color="#ddef93"/><stop offset=".25" stop-color="#e9f08d"/><stop offset=".265" stop-color="#f0f18c"/><stop offset=".318" stop-color="#f2f18c"/><stop offset=".379" stop-color="#e2ef90"/><stop offset=".485" stop-color="#a6e1b5"/><stop offset=".538" stop-color="#91d3c2"/><stop offset=".598" stop-color="#91c4c6"/><stop offset=".629" stop-color="#97b5c6"/><stop offset=".644" stop-color="#9cabc5"/><stop offset=".667" stop-color="#99b1c6"/><stop offset=".727" stop-color="#9da8c5"/><stop offset=".758" stop-color="#a0a1c3"/><stop offset=".833" stop-color="#9da8c5"/><stop offset=".955" stop-color="#9ea5c4"/><stop offset="1" stop-color="#a0a1c3"/></linearGradient><linearGradient id="g1_64" gradientUnits="userSpaceOnUse" x1="0" y1="303.9" x2="0" y2="568"><stop offset="0" stop-color="#9fa4c4"/><stop offset=".091" stop-color="#8fcac5"/><stop offset=".114" stop-color="#91d3c2"/><stop offset=".144" stop-color="#a2dfb7"/><stop offset=".189" stop-color="#c5eaa3"/><stop offset=".212" stop-color="#daee95"/><stop offset=".265" stop-color="#f0f18c"/><stop offset=".318" stop-color="#f0f18c"/><stop offset=".356" stop-color="#ebf18c"/><stop offset=".402" stop-color="#d5ed99"/><stop offset=".5" stop-color="#9fdeb9"/><stop offset=".538" stop-color="#91d4c1"/><stop offset=".591" stop-color="#90c6c6"/><stop offset=".629" stop-color="#96b8c7"/><stop offset=".644" stop-color="#9badc6"/><stop offset=".667" stop-color="#98b3c6"/><stop offset=".72" stop-color="#9da9c5"/><stop offset=".75" stop-color="#a0a1c3"/><stop offset=".803" stop-color="#9ea6c4"/><stop offset=".871" stop-color="#9da8c5"/><stop offset=".947" stop-color="#9ea6c5"/><stop offset="1" stop-color="#a0a2c3"/></linearGradient><linearGradient id="g1_65" gradientUnits="userSpaceOnUse" x1="0" y1="303.9" x2="0" y2="568"><stop offset="0" stop-color="#9fa4c4"/><stop offset=".091" stop-color="#8fcac5"/><stop offset=".121" stop-color="#93d6c0"/><stop offset=".174" stop-color="#b5e6ac"/><stop offset=".22" stop-color="#ddef93"/><stop offset=".265" stop-color="#f2f18c"/><stop offset=".303" stop-color="#eef18c"/><stop offset=".348" stop-color="#eef18c"/><stop offset=".394" stop-color="#daee95"/><stop offset=".477" stop-color="#abe3b2"/><stop offset=".53" stop-color="#93d6c0"/><stop offset=".576" stop-color="#8fcac5"/><stop offset=".629" stop-color="#95bbc7"/><stop offset=".644" stop-color="#9aafc6"/><stop offset=".674" stop-color="#98b3c6"/><stop offset=".712" stop-color="#9caac5"/><stop offset=".742" stop-color="#a0a1c3"/><stop offset=".803" stop-color="#9fa4c4"/><stop offset=".841" stop-color="#9da9c5"/><stop offset=".955" stop-color="#9ea6c4"/><stop offset="1" stop-color="#a0a2c3"/></linearGradient><linearGradient id="g1_66" gradientUnits="userSpaceOnUse" x1="0" y1="303.9" x2="0" y2="568"><stop offset="0" stop-color="#9fa4c4"/><stop offset=".091" stop-color="#8fcac5"/><stop offset=".121" stop-color="#93d6c0"/><stop offset=".174" stop-color="#b5e6ac"/><stop offset=".22" stop-color="#ddef93"/><stop offset=".265" stop-color="#f2f18c"/><stop offset=".303" stop-color="#eef18c"/><stop offset=".348" stop-color="#eef18c"/><stop offset=".394" stop-color="#daee95"/><stop offset=".477" stop-color="#abe3b2"/><stop offset=".53" stop-color="#93d6c0"/><stop offset=".576" stop-color="#8fcac5"/><stop offset=".629" stop-color="#95bbc7"/><stop offset=".644" stop-color="#9aafc6"/><stop offset=".674" stop-color="#98b3c6"/><stop offset=".712" stop-color="#9caac5"/><stop offset=".742" stop-color="#a0a1c3"/><stop offset=".803" stop-color="#9fa4c4"/><stop offset=".841" stop-color="#9da9c5"/><stop offset=".955" stop-color="#9ea6c4"/><stop offset="1" stop-color="#a0a2c3"/></linearGradient><linearGradient id="g1_67" gradientUnits="userSpaceOnUse" x1="0" y1="303.9" x2="0" y2="568"><stop offset="0" stop-color="#9fa4c4"/><stop offset=".091" stop-color="#8fcac5"/><stop offset=".121" stop-color="#93d6c0"/><stop offset=".174" stop-color="#b5e6ac"/><stop offset=".22" stop-color="#ddef93"/><stop offset=".265" stop-color="#f2f18c"/><stop offset=".303" stop-color="#eef18c"/><stop offset=".348" stop-color="#eef18c"/><stop offset=".394" stop-color="#daee95"/><stop offset=".477" stop-color="#abe3b2"/><stop offset=".53" stop-color="#93d6c0"/><stop offset=".576" stop-color="#8fcac5"/><stop offset=".629" stop-color="#95bbc7"/><stop offset=".644" stop-color="#9aafc6"/><stop offset=".674" stop-color="#98b3c6"/><stop offset=".712" stop-color="#9caac5"/><stop offset=".742" stop-color="#a0a1c3"/><stop offset=".803" stop-color="#9fa4c4"/><stop offset=".841" stop-color="#9da9c5"/><stop offset=".955" stop-color="#9ea6c4"/><stop offset="1" stop-color="#a0a2c3"/></linearGradient><filter id="bl1" filterUnits="userSpaceOnUse" x="156.7" y="298.9" width="906.8" height="284.1" color-interpolation-filters="sRGB"><feGaussianBlur stdDeviation="4.5 0"/></filter><clipPath id="c2"><path d="M195.6 594.5 L1024.6 594.5 L1024.6 858.2 L898.5 858.2 L890.5 858.2 L882.5 858.2 L874.5 858.2 L866.5 858.2 L858.5 858 L850.5 857.8 L842.5 857.5 L834.5 857.1 L826.5 856.6 L818.5 856 L810.5 855.3 L802.5 854.4 L794.5 853.3 L786.5 852.1 L778.5 850.7 L770.5 849 L762.5 847.3 L754.5 845.5 L746.5 843.3 L738.5 840.8 L730.5 838.2 L722.5 835.4 L714.5 832.4 L706.5 829.2 L698.5 825.7 L690.5 822.6 L682.5 819.1 L674.5 815.3 L666.5 811.2 L658.5 807.1 L650.5 803 L642.5 799.1 L634.5 795.3 L626.5 791.6 L618.5 787.8 L610.5 783.9 L602.5 780.1 L594.5 776.2 L586.5 772.6 L578.5 769.1 L570.5 765.9 L562.5 763 L554.5 760.5 L546.5 758.6 L538.5 756.6 L530.5 755 L522.5 753.8 L514.5 753.2 L506.5 752.8 L498.5 753 L490.5 753.6 L482.5 754.9 L474.5 756.9 L466.5 759.3 L458.5 761.8 L450.5 764.8 L442.5 768.3 L434.5 772.6 L426.5 777.5 L418.5 783.5 L410.5 788.6 L402.5 794.5 L394.5 801.3 L386.5 808 L378.5 814.2 L370.5 820.3 L362.5 826.3 L354.5 832.3 L346.5 838 L338.5 843.3 L330.5 848.2 L322.5 852.3 L305 858.2 L195.6 858.2Z"/></clipPath><linearGradient id="g2_0" gradientUnits="userSpaceOnUse" x1="0" y1="594.5" x2="0" y2="858.5"><stop offset="0" stop-color="#98b3c6"/><stop offset=".03" stop-color="#8fcdc4"/><stop offset=".045" stop-color="#95d8bf"/><stop offset=".083" stop-color="#bee9a7"/><stop offset=".114" stop-color="#d7ee97"/><stop offset=".159" stop-color="#e9f08d"/><stop offset=".182" stop-color="#f9f28f"/><stop offset=".235" stop-color="#fcf390"/><stop offset=".288" stop-color="#eff18c"/><stop offset=".341" stop-color="#d3ed99"/><stop offset=".364" stop-color="#ceec9d"/><stop offset=".402" stop-color="#bee9a7"/><stop offset=".439" stop-color="#b9e7aa"/><stop offset=".447" stop-color="#ade4b1"/><stop offset=".455" stop-color="#99dabd"/><stop offset=".462" stop-color="#90d3c2"/><stop offset=".477" stop-color="#9adbbc"/><stop offset=".5" stop-color="#90d2c2"/><stop offset=".553" stop-color="#8fc9c5"/><stop offset=".583" stop-color="#91c4c6"/><stop offset=".674" stop-color="#9badc6"/><stop offset=".773" stop-color="#93c0c7"/><stop offset=".871" stop-color="#91c3c6"/><stop offset=".962" stop-color="#9aaec6"/><stop offset="1" stop-color="#9fa3c4"/></linearGradient><linearGradient id="g2_1" gradientUnits="userSpaceOnUse" x1="0" y1="594.5" x2="0" y2="858.5"><stop offset="0" stop-color="#98b3c6"/><stop offset=".03" stop-color="#8fcdc4"/><stop offset=".045" stop-color="#95d8bf"/><stop offset=".083" stop-color="#bee9a7"/><stop offset=".114" stop-color="#d7ee97"/><stop offset=".159" stop-color="#e9f08d"/><stop offset=".182" stop-color="#f9f28f"/><stop offset=".235" stop-color="#fcf390"/><stop offset=".288" stop-color="#eff18c"/><stop offset=".341" stop-color="#d3ed99"/><stop offset=".364" stop-color="#ceec9d"/><stop offset=".402" stop-color="#bee9a7"/><stop offset=".439" stop-color="#b9e7aa"/><stop offset=".447" stop-color="#ade4b1"/><stop offset=".455" stop-color="#99dabd"/><stop offset=".462" stop-color="#90d3c2"/><stop offset=".477" stop-color="#9adbbc"/><stop offset=".5" stop-color="#90d2c2"/><stop offset=".553" stop-color="#8fc9c5"/><stop offset=".583" stop-color="#91c4c6"/><stop offset=".674" stop-color="#9badc6"/><stop offset=".773" stop-color="#93c0c7"/><stop offset=".871" stop-color="#91c3c6"/><stop offset=".962" stop-color="#9aaec6"/><stop offset="1" stop-color="#9fa3c4"/></linearGradient><linearGradient id="g2_2" gradientUnits="userSpaceOnUse" x1="0" y1="594.5" x2="0" y2="858.5"><stop offset="0" stop-color="#98b3c6"/><stop offset=".03" stop-color="#8fcdc4"/><stop offset=".045" stop-color="#95d8bf"/><stop offset=".083" stop-color="#bee9a7"/><stop offset=".114" stop-color="#d7ee97"/><stop offset=".159" stop-color="#e9f08d"/><stop offset=".182" stop-color="#f9f28f"/><stop offset=".235" stop-color="#fcf390"/><stop offset=".288" stop-color="#eff18c"/><stop offset=".341" stop-color="#d3ed99"/><stop offset=".364" stop-color="#ceec9d"/><stop offset=".402" stop-color="#bee9a7"/><stop offset=".439" stop-color="#b9e7aa"/><stop offset=".447" stop-color="#ade4b1"/><stop offset=".455" stop-color="#99dabd"/><stop offset=".462" stop-color="#90d3c2"/><stop offset=".477" stop-color="#9adbbc"/><stop offset=".5" stop-color="#90d2c2"/><stop offset=".553" stop-color="#8fc9c5"/><stop offset=".583" stop-color="#91c4c6"/><stop offset=".674" stop-color="#9badc6"/><stop offset=".773" stop-color="#93c0c7"/><stop offset=".871" stop-color="#91c3c6"/><stop offset=".962" stop-color="#9aaec6"/><stop offset="1" stop-color="#9fa3c4"/></linearGradient><linearGradient id="g2_3" gradientUnits="userSpaceOnUse" x1="0" y1="594.5" x2="0" y2="858.5"><stop offset="0" stop-color="#98b2c6"/><stop offset=".038" stop-color="#8fd0c3"/><stop offset=".053" stop-color="#97d9bd"/><stop offset=".098" stop-color="#c1e9a5"/><stop offset=".129" stop-color="#d5ed99"/><stop offset=".159" stop-color="#deef93"/><stop offset=".182" stop-color="#f3f28c"/><stop offset=".197" stop-color="#fcf390"/><stop offset=".242" stop-color="#f8f28e"/><stop offset=".265" stop-color="#f3f28c"/><stop offset=".288" stop-color="#f3f28c"/><stop offset=".326" stop-color="#e2ef90"/><stop offset=".341" stop-color="#dbee94"/><stop offset=".364" stop-color="#dbee94"/><stop offset=".402" stop-color="#c5eaa3"/><stop offset=".424" stop-color="#b2e5ae"/><stop offset=".432" stop-color="#b1e5af"/><stop offset=".447" stop-color="#c1e9a5"/><stop offset=".455" stop-color="#b9e7aa"/><stop offset=".462" stop-color="#a3e0b7"/><stop offset=".47" stop-color="#9fdeb9"/><stop offset=".477" stop-color="#a2dfb7"/><stop offset=".492" stop-color="#93d6c0"/><stop offset=".515" stop-color="#8fccc5"/><stop offset=".561" stop-color="#8fcbc5"/><stop offset=".583" stop-color="#8fcac5"/><stop offset=".621" stop-color="#93bec7"/><stop offset=".674" stop-color="#9ea7c5"/><stop offset=".765" stop-color="#91c5c6"/><stop offset=".818" stop-color="#92c3c6"/><stop offset=".856" stop-color="#90c6c6"/><stop offset=".902" stop-color="#94bdc7"/><stop offset="1" stop-color="#9fa2c3"/></linearGradient><linearGradient id="g2_4" gradientUnits="userSpaceOnUse" x1="0" y1="594.5" x2="0" y2="858.5"><stop offset="0" stop-color="#99b1c6"/><stop offset=".038" stop-color="#8fcdc4"/><stop offset=".061" stop-color="#97d9be"/><stop offset=".114" stop-color="#bfe9a7"/><stop offset=".144" stop-color="#cfec9c"/><stop offset=".167" stop-color="#d6ee98"/><stop offset=".189" stop-color="#edf18c"/><stop offset=".197" stop-color="#f6f28d"/><stop offset=".22" stop-color="#fbf38f"/><stop offset=".28" stop-color="#f4f28c"/><stop offset=".303" stop-color="#f4f28c"/><stop offset=".364" stop-color="#e2ef90"/><stop offset=".409" stop-color="#cbec9f"/><stop offset=".432" stop-color="#bae8aa"/><stop offset=".439" stop-color="#bae8aa"/><stop offset=".455" stop-color="#c5eaa3"/><stop offset=".462" stop-color="#b9e7aa"/><stop offset=".47" stop-color="#a4e0b6"/><stop offset=".477" stop-color="#9dddba"/><stop offset=".492" stop-color="#a2dfb8"/><stop offset=".508" stop-color="#93d6c0"/><stop offset=".538" stop-color="#8fcbc5"/><stop offset=".568" stop-color="#8fccc5"/><stop offset=".591" stop-color="#8fcbc5"/><stop offset=".621" stop-color="#91c3c6"/><stop offset=".667" stop-color="#9cabc5"/><stop offset=".689" stop-color="#9badc6"/><stop offset=".758" stop-color="#90c6c6"/><stop offset=".811" stop-color="#91c4c6"/><stop offset=".856" stop-color="#90c8c6"/><stop offset=".894" stop-color="#94bcc7"/><stop offset=".932" stop-color="#9aafc6"/><stop offset="1" stop-color="#9fa2c3"/></linearGradient><linearGradient id="g2_5" gradientUnits="userSpaceOnUse" x1="0" y1="594.5" x2="0" y2="858.5"><stop offset="0" stop-color="#99b0c6"/><stop offset=".045" stop-color="#8fcdc4"/><stop offset=".068" stop-color="#94d7bf"/><stop offset=".129" stop-color="#bae8aa"/><stop offset=".152" stop-color="#c6eba2"/><stop offset=".174" stop-color="#cbec9f"/><stop offset=".189" stop-color="#d7ee97"/><stop offset=".205" stop-color="#edf18c"/><stop offset=".212" stop-color="#f4f28c"/><stop offset=".235" stop-color="#f7f28d"/><stop offset=".288" stop-color="#f4f28c"/><stop offset=".311" stop-color="#fbf38f"/><stop offset=".356" stop-color="#f0f18c"/><stop offset=".379" stop-color="#e2ef90"/><stop offset=".402" stop-color="#d2ed9a"/><stop offset=".447" stop-color="#c0e9a6"/><stop offset=".462" stop-color="#c3eaa4"/><stop offset=".47" stop-color="#bce8a8"/><stop offset=".485" stop-color="#99dbbc"/><stop offset=".492" stop-color="#97d9be"/><stop offset=".508" stop-color="#a3e0b7"/><stop offset=".515" stop-color="#a2dfb7"/><stop offset=".538" stop-color="#90d3c2"/><stop offset=".568" stop-color="#8fc9c5"/><stop offset=".621" stop-color="#90c6c6"/><stop offset=".674" stop-color="#99b1c6"/><stop offset=".705" stop-color="#97b5c6"/><stop offset=".758" stop-color="#91c5c6"/><stop offset=".811" stop-color="#90c8c6"/><stop offset=".856" stop-color="#90c7c6"/><stop offset=".902" stop-color="#98b2c6"/><stop offset="1" stop-color="#a0a2c3"/></linearGradient><linearGradient id="g2_6" gradientUnits="userSpaceOnUse" x1="0" y1="594.5" x2="0" y2="858.5"><stop offset="0" stop-color="#9aafc6"/><stop offset=".053" stop-color="#8fccc5"/><stop offset=".083" stop-color="#94d7bf"/><stop offset=".129" stop-color="#a9e2b3"/><stop offset=".159" stop-color="#bfe9a7"/><stop offset=".189" stop-color="#c6eba2"/><stop offset=".205" stop-color="#d5ed99"/><stop offset=".22" stop-color="#eaf08d"/><stop offset=".235" stop-color="#f4f28c"/><stop offset=".303" stop-color="#f7f28d"/><stop offset=".318" stop-color="#fef392"/><stop offset=".364" stop-color="#fdf391"/><stop offset=".379" stop-color="#f2f18c"/><stop offset=".394" stop-color="#dfef92"/><stop offset=".409" stop-color="#cfec9c"/><stop offset=".477" stop-color="#bae8aa"/><stop offset=".485" stop-color="#b4e6ad"/><stop offset=".5" stop-color="#99dabd"/><stop offset=".508" stop-color="#93d6c0"/><stop offset=".515" stop-color="#96d8be"/><stop offset=".53" stop-color="#a7e1b4"/><stop offset=".538" stop-color="#a4e0b6"/><stop offset=".553" stop-color="#94d7bf"/><stop offset=".576" stop-color="#8fccc5"/><stop offset=".606" stop-color="#90c6c6"/><stop offset=".644" stop-color="#92c3c6"/><stop offset=".682" stop-color="#97b6c7"/><stop offset=".72" stop-color="#94bcc7"/><stop offset=".765" stop-color="#91c4c6"/><stop offset=".833" stop-color="#8fc9c6"/><stop offset=".864" stop-color="#94bdc7"/><stop offset=".894" stop-color="#9aafc6"/><stop offset="1" stop-color="#a0a2c3"/></linearGradient><linearGradient id="g2_7" gradientUnits="userSpaceOnUse" x1="0" y1="594.5" x2="0" y2="858.5"><stop offset="0" stop-color="#9badc6"/><stop offset=".053" stop-color="#90c7c6"/><stop offset=".098" stop-color="#91d4c1"/><stop offset=".136" stop-color="#9eddba"/><stop offset=".174" stop-color="#bae8aa"/><stop offset=".205" stop-color="#c1e9a5"/><stop offset=".22" stop-color="#cfec9c"/><stop offset=".235" stop-color="#e6f08e"/><stop offset=".25" stop-color="#f0f18c"/><stop offset=".28" stop-color="#f4f28c"/><stop offset=".318" stop-color="#f9f28f"/><stop offset=".341" stop-color="#fef392"/><stop offset=".386" stop-color="#fef392"/><stop offset=".402" stop-color="#ebf18c"/><stop offset=".417" stop-color="#d2ed9a"/><stop offset=".432" stop-color="#c6eba2"/><stop offset=".462" stop-color="#bfe9a7"/><stop offset=".508" stop-color="#a8e2b4"/><stop offset=".523" stop-color="#95d8be"/><stop offset=".53" stop-color="#92d5c1"/><stop offset=".553" stop-color="#9fdeb9"/><stop offset=".583" stop-color="#8fd0c3"/><stop offset=".629" stop-color="#91c4c6"/><stop offset=".697" stop-color="#96b9c7"/><stop offset=".803" stop-color="#90c7c6"/><stop offset=".841" stop-color="#93bfc7"/><stop offset=".879" stop-color="#9aaec6"/><stop offset="1" stop-color="#a0a2c3"/></linearGradient><linearGradient id="g2_8" gradientUnits="userSpaceOnUse" x1="0" y1="594.5" x2="0" y2="858.5"><stop offset="0" stop-color="#9bacc6"/><stop offset=".053" stop-color="#92c2c6"/><stop offset=".121" stop-color="#90d3c2"/><stop offset=".152" stop-color="#97d9bd"/><stop offset=".182" stop-color="#b2e5ae"/><stop offset=".212" stop-color="#bce8a8"/><stop offset=".227" stop-color="#c3eaa4"/><stop offset=".258" stop-color="#e7f08e"/><stop offset=".273" stop-color="#eef18c"/><stop offset=".348" stop-color="#fef392"/><stop offset=".402" stop-color="#fef392"/><stop offset=".409" stop-color="#fbf38f"/><stop offset=".417" stop-color="#eff18c"/><stop offset=".432" stop-color="#d6ee98"/><stop offset=".447" stop-color="#c8eba1"/><stop offset=".477" stop-color="#bee9a7"/><stop offset=".515" stop-color="#a2dfb7"/><stop offset=".53" stop-color="#9fdeb9"/><stop offset=".545" stop-color="#92d5c0"/><stop offset=".561" stop-color="#8fd1c3"/><stop offset=".583" stop-color="#92d5c1"/><stop offset=".629" stop-color="#8fc9c6"/><stop offset=".697" stop-color="#96b9c7"/><stop offset=".78" stop-color="#91c3c6"/><stop offset=".826" stop-color="#95bbc7"/><stop offset=".864" stop-color="#9badc6"/><stop offset="1" stop-color="#a0a1c3"/></linearGradient><linearGradient id="g2_9" gradientUnits="userSpaceOnUse" x1="0" y1="594.5" x2="0" y2="858.5"><stop offset="0" stop-color="#9cabc6"/><stop offset=".053" stop-color="#93bec7"/><stop offset=".152" stop-color="#8fd1c3"/><stop offset=".174" stop-color="#96d8be"/><stop offset=".205" stop-color="#b3e6ae"/><stop offset=".242" stop-color="#c0e9a6"/><stop offset=".258" stop-color="#cfec9c"/><stop offset=".273" stop-color="#e3f08f"/><stop offset=".288" stop-color="#ebf18c"/><stop offset=".311" stop-color="#f2f18c"/><stop offset=".341" stop-color="#fdf391"/><stop offset=".417" stop-color="#fef392"/><stop offset=".432" stop-color="#f0f18c"/><stop offset=".455" stop-color="#d6ee98"/><stop offset=".5" stop-color="#bee9a7"/><stop offset=".53" stop-color="#9dddba"/><stop offset=".561" stop-color="#94d7bf"/><stop offset=".576" stop-color="#8fccc5"/><stop offset=".591" stop-color="#8fc9c6"/><stop offset=".621" stop-color="#8fccc5"/><stop offset=".712" stop-color="#96b9c7"/><stop offset=".78" stop-color="#94bdc7"/><stop offset=".856" stop-color="#9cabc5"/><stop offset="1" stop-color="#a0a1c3"/></linearGradient><linearGradient id="g2_10" gradientUnits="userSpaceOnUse" x1="0" y1="594.5" x2="0" y2="858.5"><stop offset="0" stop-color="#9caac5"/><stop offset=".061" stop-color="#94bdc7"/><stop offset=".182" stop-color="#8fd0c3"/><stop offset=".197" stop-color="#95d8bf"/><stop offset=".22" stop-color="#b0e4b0"/><stop offset=".25" stop-color="#bee9a7"/><stop offset=".265" stop-color="#c4eaa3"/><stop offset=".295" stop-color="#e6f08e"/><stop offset=".333" stop-color="#f4f28c"/><stop offset=".348" stop-color="#fef392"/><stop offset=".417" stop-color="#fcf390"/><stop offset=".439" stop-color="#f0f18c"/><stop offset=".477" stop-color="#d7ee97"/><stop offset=".508" stop-color="#caeb9f"/><stop offset=".53" stop-color="#b3e6ae"/><stop offset=".553" stop-color="#99dbbc"/><stop offset=".591" stop-color="#8fcfc4"/><stop offset=".614" stop-color="#93c0c7"/><stop offset=".652" stop-color="#91c5c6"/><stop offset=".72" stop-color="#97b6c7"/><stop offset=".78" stop-color="#98b4c6"/><stop offset=".833" stop-color="#9caac5"/><stop offset="1" stop-color="#a0a1c3"/></linearGradient><linearGradient id="g2_11" gradientUnits="userSpaceOnUse" x1="0" y1="594.5" x2="0" y2="858.5"><stop offset="0" stop-color="#9da9c5"/><stop offset=".068" stop-color="#95bbc7"/><stop offset=".205" stop-color="#8fcdc4"/><stop offset=".22" stop-color="#95d8bf"/><stop offset=".242" stop-color="#b2e5ae"/><stop offset=".258" stop-color="#bbe8a9"/><stop offset=".28" stop-color="#c1e9a5"/><stop offset=".303" stop-color="#d9ee96"/><stop offset=".318" stop-color="#e9f08d"/><stop offset=".348" stop-color="#f3f28c"/><stop offset=".364" stop-color="#fef392"/><stop offset=".417" stop-color="#fef392"/><stop offset=".439" stop-color="#f0f18c"/><stop offset=".477" stop-color="#d6ee98"/><stop offset=".515" stop-color="#c8eba1"/><stop offset=".545" stop-color="#b2e5ae"/><stop offset=".576" stop-color="#97d9bd"/><stop offset=".606" stop-color="#8fd0c3"/><stop offset=".629" stop-color="#91c5c6"/><stop offset=".652" stop-color="#95b9c7"/><stop offset=".689" stop-color="#94bdc7"/><stop offset=".795" stop-color="#9caac5"/><stop offset="1" stop-color="#a0a1c3"/></linearGradient><linearGradient id="g2_12" gradientUnits="userSpaceOnUse" x1="0" y1="594.5" x2="0" y2="854.5"><stop offset="0" stop-color="#9da9c5"/><stop offset=".085" stop-color="#95bac7"/><stop offset=".223" stop-color="#8fc9c5"/><stop offset=".238" stop-color="#90d3c2"/><stop offset=".254" stop-color="#a2dfb7"/><stop offset=".269" stop-color="#b5e6ac"/><stop offset=".308" stop-color="#c3eaa4"/><stop offset=".323" stop-color="#d3ed99"/><stop offset=".338" stop-color="#e6f08e"/><stop offset=".377" stop-color="#f6f28d"/><stop offset=".392" stop-color="#fef392"/><stop offset=".438" stop-color="#fdf391"/><stop offset=".462" stop-color="#eff18c"/><stop offset=".492" stop-color="#d6ee98"/><stop offset=".531" stop-color="#bfe9a7"/><stop offset=".6" stop-color="#94d7bf"/><stop offset=".631" stop-color="#8fcdc4"/><stop offset=".662" stop-color="#90c6c6"/><stop offset=".7" stop-color="#9aaec6"/><stop offset=".785" stop-color="#9bacc6"/><stop offset=".892" stop-color="#9ea5c4"/><stop offset="1" stop-color="#a0a1c3"/></linearGradient><linearGradient id="g2_13" gradientUnits="userSpaceOnUse" x1="0" y1="594.5" x2="0" y2="846.5"><stop offset="0" stop-color="#9da8c5"/><stop offset=".095" stop-color="#96b8c7"/><stop offset=".246" stop-color="#90c6c6"/><stop offset=".262" stop-color="#8fcfc4"/><stop offset=".27" stop-color="#93d6c0"/><stop offset=".294" stop-color="#b1e5af"/><stop offset=".317" stop-color="#b9e7aa"/><stop offset=".333" stop-color="#bce8a8"/><stop offset=".349" stop-color="#cdec9e"/><stop offset=".365" stop-color="#e2ef90"/><stop offset=".381" stop-color="#ebf18c"/><stop offset=".397" stop-color="#eef18c"/><stop offset=".421" stop-color="#fdf391"/><stop offset=".476" stop-color="#fbf38f"/><stop offset=".5" stop-color="#edf18c"/><stop offset=".532" stop-color="#d6ee98"/><stop offset=".563" stop-color="#b5e6ac"/><stop offset=".619" stop-color="#96d8be"/><stop offset=".659" stop-color="#8fcec4"/><stop offset=".706" stop-color="#92c1c7"/><stop offset=".746" stop-color="#9bacc6"/><stop offset=".802" stop-color="#9ea7c5"/><stop offset="1" stop-color="#a0a1c3"/></linearGradient><linearGradient id="g2_14" gradientUnits="userSpaceOnUse" x1="0" y1="594.5" x2="0" y2="836.5"><stop offset="0" stop-color="#9da8c5"/><stop offset=".107" stop-color="#96b7c7"/><stop offset=".273" stop-color="#91c5c6"/><stop offset=".289" stop-color="#8fcfc4"/><stop offset=".298" stop-color="#93d6c0"/><stop offset=".314" stop-color="#a7e1b4"/><stop offset=".331" stop-color="#b0e4b0"/><stop offset=".364" stop-color="#b6e7ac"/><stop offset=".38" stop-color="#c8eba1"/><stop offset=".397" stop-color="#dfef92"/><stop offset=".413" stop-color="#e7f08e"/><stop offset=".438" stop-color="#edf18c"/><stop offset=".463" stop-color="#f7f28d"/><stop offset=".488" stop-color="#f4f28c"/><stop offset=".512" stop-color="#f7f28d"/><stop offset=".545" stop-color="#e6f08e"/><stop offset=".57" stop-color="#d2ed9a"/><stop offset=".603" stop-color="#b2e5ae"/><stop offset=".653" stop-color="#96d8be"/><stop offset=".694" stop-color="#8fcfc4"/><stop offset=".744" stop-color="#94bdc7"/><stop offset=".777" stop-color="#9aafc6"/><stop offset=".95" stop-color="#a0a2c3"/><stop offset="1" stop-color="#a0a1c3"/></linearGradient><linearGradient id="g2_15" gradientUnits="userSpaceOnUse" x1="0" y1="594.5" x2="0" y2="826.5"><stop offset="0" stop-color="#9ea7c5"/><stop offset=".147" stop-color="#95b9c7"/><stop offset=".293" stop-color="#91c4c6"/><stop offset=".31" stop-color="#8fcdc4"/><stop offset=".319" stop-color="#92d5c1"/><stop offset=".336" stop-color="#a3e0b7"/><stop offset=".362" stop-color="#ace3b2"/><stop offset=".388" stop-color="#b1e5af"/><stop offset=".397" stop-color="#b6e7ac"/><stop offset=".422" stop-color="#d9ee96"/><stop offset=".44" stop-color="#e2ef90"/><stop offset=".466" stop-color="#e5f08f"/><stop offset=".491" stop-color="#edf18c"/><stop offset=".517" stop-color="#ebf18c"/><stop offset=".543" stop-color="#f0f18c"/><stop offset=".578" stop-color="#dfef92"/><stop offset=".655" stop-color="#a8e2b4"/><stop offset=".698" stop-color="#94d7bf"/><stop offset=".741" stop-color="#8fcbc5"/><stop offset=".819" stop-color="#9aaec6"/><stop offset=".983" stop-color="#a0a1c3"/><stop offset="1" stop-color="#a0a1c3"/></linearGradient><linearGradient id="g2_16" gradientUnits="userSpaceOnUse" x1="0" y1="594.5" x2="0" y2="816.5"><stop offset="0" stop-color="#9ea7c5"/><stop offset=".144" stop-color="#96b8c7"/><stop offset=".306" stop-color="#91c4c6"/><stop offset=".324" stop-color="#8fccc5"/><stop offset=".333" stop-color="#91d4c1"/><stop offset=".351" stop-color="#a2dfb7"/><stop offset=".378" stop-color="#abe3b2"/><stop offset=".405" stop-color="#b0e4b0"/><stop offset=".414" stop-color="#b4e6ad"/><stop offset=".441" stop-color="#d5ed99"/><stop offset=".45" stop-color="#dbee94"/><stop offset=".486" stop-color="#dfef92"/><stop offset=".514" stop-color="#e9f08d"/><stop offset=".541" stop-color="#e6f08e"/><stop offset=".568" stop-color="#eef18c"/><stop offset=".604" stop-color="#ddef93"/><stop offset=".694" stop-color="#a7e1b4"/><stop offset=".748" stop-color="#91d3c2"/><stop offset=".793" stop-color="#91c5c6"/><stop offset=".865" stop-color="#9aafc6"/><stop offset=".982" stop-color="#a0a2c3"/><stop offset="1" stop-color="#a0a2c3"/></linearGradient><linearGradient id="g2_17" gradientUnits="userSpaceOnUse" x1="0" y1="594.5" x2="0" y2="806.5"><stop offset="0" stop-color="#9da8c5"/><stop offset=".142" stop-color="#96b9c7"/><stop offset=".311" stop-color="#91c4c6"/><stop offset=".33" stop-color="#8fcdc4"/><stop offset=".34" stop-color="#92d5c1"/><stop offset=".358" stop-color="#a5e1b6"/><stop offset=".377" stop-color="#afe4b0"/><stop offset=".415" stop-color="#b4e6ad"/><stop offset=".434" stop-color="#c0e9a6"/><stop offset=".453" stop-color="#d3ed99"/><stop offset=".472" stop-color="#dbee94"/><stop offset=".5" stop-color="#dfef92"/><stop offset=".528" stop-color="#ebf18c"/><stop offset=".557" stop-color="#eaf08d"/><stop offset=".585" stop-color="#f0f18c"/><stop offset=".613" stop-color="#e7f08e"/><stop offset=".708" stop-color="#b1e5af"/><stop offset=".755" stop-color="#9cdcbb"/><stop offset=".783" stop-color="#90d3c2"/><stop offset=".849" stop-color="#93bfc7"/><stop offset=".934" stop-color="#9da8c5"/><stop offset="1" stop-color="#a0a2c3"/></linearGradient><linearGradient id="g2_18" gradientUnits="userSpaceOnUse" x1="0" y1="594.5" x2="0" y2="796.5"><stop offset="0" stop-color="#9da8c5"/><stop offset=".119" stop-color="#96b8c7"/><stop offset=".307" stop-color="#91c5c6"/><stop offset=".327" stop-color="#8fcdc4"/><stop offset=".337" stop-color="#91d4c1"/><stop offset=".366" stop-color="#afe4b0"/><stop offset=".386" stop-color="#b6e7ac"/><stop offset=".426" stop-color="#bee9a7"/><stop offset=".465" stop-color="#d9ee96"/><stop offset=".505" stop-color="#dfef92"/><stop offset=".535" stop-color="#f2f18c"/><stop offset=".604" stop-color="#f6f28d"/><stop offset=".644" stop-color="#e9f08d"/><stop offset=".723" stop-color="#b9e7aa"/><stop offset=".762" stop-color="#abe3b2"/><stop offset=".802" stop-color="#92d5c0"/><stop offset=".842" stop-color="#90c8c6"/><stop offset=".911" stop-color="#97b5c7"/><stop offset=".96" stop-color="#9ea6c4"/><stop offset="1" stop-color="#9fa2c3"/></linearGradient><linearGradient id="g2_19" gradientUnits="userSpaceOnUse" x1="0" y1="594.5" x2="0" y2="788.5"><stop offset="0" stop-color="#9da9c5"/><stop offset=".113" stop-color="#95bac7"/><stop offset=".299" stop-color="#8fc9c6"/><stop offset=".32" stop-color="#90d2c2"/><stop offset=".33" stop-color="#95d8be"/><stop offset=".351" stop-color="#ace3b2"/><stop offset=".371" stop-color="#b9e7aa"/><stop offset=".423" stop-color="#c5eaa3"/><stop offset=".464" stop-color="#daee95"/><stop offset=".505" stop-color="#e3f08f"/><stop offset=".526" stop-color="#f3f28c"/><stop offset=".557" stop-color="#fcf390"/><stop offset=".608" stop-color="#fef392"/><stop offset=".66" stop-color="#eff18c"/><stop offset=".691" stop-color="#dbee94"/><stop offset=".732" stop-color="#c6eba2"/><stop offset=".753" stop-color="#c1e9a5"/><stop offset=".773" stop-color="#b3e6ae"/><stop offset=".794" stop-color="#9cdcbb"/><stop offset=".814" stop-color="#90d2c2"/><stop offset=".866" stop-color="#91c5c6"/><stop offset=".907" stop-color="#94bdc7"/><stop offset=".959" stop-color="#9da9c5"/><stop offset="1" stop-color="#9fa3c4"/></linearGradient><linearGradient id="g2_20" gradientUnits="userSpaceOnUse" x1="0" y1="594.5" x2="0" y2="778.5"><stop offset="0" stop-color="#9caac5"/><stop offset=".098" stop-color="#95bbc7"/><stop offset=".293" stop-color="#8fcec4"/><stop offset=".315" stop-color="#95d8be"/><stop offset=".348" stop-color="#b4e6ad"/><stop offset=".37" stop-color="#bee9a7"/><stop offset=".413" stop-color="#c6eba2"/><stop offset=".457" stop-color="#dbee94"/><stop offset=".5" stop-color="#e5f08f"/><stop offset=".522" stop-color="#f4f28c"/><stop offset=".533" stop-color="#fcf390"/><stop offset=".652" stop-color="#fef392"/><stop offset=".685" stop-color="#f4f28c"/><stop offset=".717" stop-color="#e2ef90"/><stop offset=".761" stop-color="#d2ed9a"/><stop offset=".772" stop-color="#c8eba1"/><stop offset=".804" stop-color="#98dabd"/><stop offset=".815" stop-color="#90d3c2"/><stop offset=".848" stop-color="#90c6c6"/><stop offset=".891" stop-color="#91c4c6"/><stop offset=".924" stop-color="#92c1c6"/><stop offset=".978" stop-color="#9da8c5"/><stop offset="1" stop-color="#9ea5c4"/></linearGradient><linearGradient id="g2_21" gradientUnits="userSpaceOnUse" x1="0" y1="594.5" x2="0" y2="772.5"><stop offset="0" stop-color="#9cabc5"/><stop offset=".079" stop-color="#94bcc7"/><stop offset=".27" stop-color="#90d2c2"/><stop offset=".292" stop-color="#99dabd"/><stop offset=".326" stop-color="#b4e6ad"/><stop offset=".36" stop-color="#c0e9a6"/><stop offset=".393" stop-color="#c8eba1"/><stop offset=".438" stop-color="#dfef92"/><stop offset=".483" stop-color="#e9f08d"/><stop offset=".506" stop-color="#f7f28d"/><stop offset=".517" stop-color="#fef392"/><stop offset=".674" stop-color="#fdf391"/><stop offset=".719" stop-color="#edf18c"/><stop offset=".742" stop-color="#e2ef90"/><stop offset=".753" stop-color="#d9ee96"/><stop offset=".775" stop-color="#b1e5af"/><stop offset=".787" stop-color="#9cdcbb"/><stop offset=".798" stop-color="#91d3c2"/><stop offset=".831" stop-color="#91c3c6"/><stop offset=".876" stop-color="#93bec7"/><stop offset=".921" stop-color="#92c3c6"/><stop offset=".978" stop-color="#9caac5"/><stop offset="1" stop-color="#9ea6c5"/></linearGradient><linearGradient id="g2_22" gradientUnits="userSpaceOnUse" x1="0" y1="594.5" x2="0" y2="768.5"><stop offset="0" stop-color="#9bacc6"/><stop offset=".092" stop-color="#91c3c6"/><stop offset=".218" stop-color="#90d3c2"/><stop offset=".253" stop-color="#98dabd"/><stop offset=".299" stop-color="#b5e6ac"/><stop offset=".333" stop-color="#bfe9a7"/><stop offset=".368" stop-color="#c8eba1"/><stop offset=".414" stop-color="#e1ef91"/><stop offset=".46" stop-color="#eaf08d"/><stop offset=".483" stop-color="#f8f28e"/><stop offset=".494" stop-color="#fef392"/><stop offset=".644" stop-color="#fef392"/><stop offset=".69" stop-color="#eff18c"/><stop offset=".724" stop-color="#dfef92"/><stop offset=".736" stop-color="#d3ed99"/><stop offset=".747" stop-color="#c1e9a5"/><stop offset=".77" stop-color="#97d9be"/><stop offset=".782" stop-color="#8fcfc4"/><stop offset=".805" stop-color="#92c3c6"/><stop offset=".862" stop-color="#95bbc7"/><stop offset=".908" stop-color="#92c2c6"/><stop offset=".931" stop-color="#94bcc7"/><stop offset=".966" stop-color="#9cabc5"/><stop offset="1" stop-color="#9ea5c4"/></linearGradient><linearGradient id="g2_23" gradientUnits="userSpaceOnUse" x1="0" y1="594.5" x2="0" y2="764.5"><stop offset="0" stop-color="#9aaec6"/><stop offset=".082" stop-color="#90c8c6"/><stop offset=".165" stop-color="#93d6c0"/><stop offset=".224" stop-color="#a0deb9"/><stop offset=".282" stop-color="#bbe8a9"/><stop offset=".329" stop-color="#c3eaa4"/><stop offset=".388" stop-color="#e1ef91"/><stop offset=".435" stop-color="#e9f08d"/><stop offset=".471" stop-color="#f9f28f"/><stop offset=".506" stop-color="#fef392"/><stop offset=".576" stop-color="#fcf390"/><stop offset=".624" stop-color="#edf18c"/><stop offset=".682" stop-color="#d9ee96"/><stop offset=".718" stop-color="#c8eba1"/><stop offset=".729" stop-color="#bee9a7"/><stop offset=".753" stop-color="#9dddba"/><stop offset=".765" stop-color="#91d4c1"/><stop offset=".788" stop-color="#91c4c6"/><stop offset=".847" stop-color="#95bbc7"/><stop offset=".882" stop-color="#94bdc7"/><stop offset=".906" stop-color="#92c1c6"/><stop offset=".929" stop-color="#95bac7"/><stop offset=".965" stop-color="#9caac5"/><stop offset="1" stop-color="#9fa4c4"/></linearGradient><linearGradient id="g2_24" gradientUnits="userSpaceOnUse" x1="0" y1="594.5" x2="0" y2="760.5"><stop offset="0" stop-color="#99b0c6"/><stop offset=".072" stop-color="#8fccc5"/><stop offset=".12" stop-color="#96d8be"/><stop offset=".241" stop-color="#b9e7aa"/><stop offset=".313" stop-color="#c5eaa3"/><stop offset=".361" stop-color="#dbee94"/><stop offset=".41" stop-color="#e2ef90"/><stop offset=".458" stop-color="#f2f18c"/><stop offset=".542" stop-color="#eff18c"/><stop offset=".59" stop-color="#ddef93"/><stop offset=".711" stop-color="#b2e5ae"/><stop offset=".747" stop-color="#9dddba"/><stop offset=".771" stop-color="#8fd0c3"/><stop offset=".807" stop-color="#92c1c6"/><stop offset=".88" stop-color="#94bcc7"/><stop offset=".916" stop-color="#93c0c7"/><stop offset=".976" stop-color="#9ea6c4"/><stop offset="1" stop-color="#9fa3c4"/></linearGradient><linearGradient id="g2_25" gradientUnits="userSpaceOnUse" x1="0" y1="594.5" x2="0" y2="760.5"><stop offset="0" stop-color="#98b2c6"/><stop offset=".06" stop-color="#8fd0c3"/><stop offset=".096" stop-color="#9cdcbb"/><stop offset=".145" stop-color="#b6e7ac"/><stop offset=".169" stop-color="#bbe8a9"/><stop offset=".217" stop-color="#bae8aa"/><stop offset=".289" stop-color="#c4eaa3"/><stop offset=".337" stop-color="#d5ed99"/><stop offset=".386" stop-color="#d7ee97"/><stop offset=".434" stop-color="#e3f08f"/><stop offset=".518" stop-color="#dbee94"/><stop offset=".614" stop-color="#b9e7aa"/><stop offset=".723" stop-color="#9bdcbb"/><stop offset=".759" stop-color="#8fd1c3"/><stop offset=".807" stop-color="#92c3c6"/><stop offset=".867" stop-color="#94bdc7"/><stop offset=".904" stop-color="#93bfc7"/><stop offset=".952" stop-color="#9da8c5"/><stop offset="1" stop-color="#a0a1c3"/></linearGradient><linearGradient id="g2_26" gradientUnits="userSpaceOnUse" x1="0" y1="594.5" x2="0" y2="760.5"><stop offset="0" stop-color="#98b4c6"/><stop offset=".048" stop-color="#8fd0c3"/><stop offset=".072" stop-color="#9bdcbb"/><stop offset=".12" stop-color="#c1e9a5"/><stop offset=".145" stop-color="#caeb9f"/><stop offset=".169" stop-color="#c4eaa3"/><stop offset=".193" stop-color="#bce8a8"/><stop offset=".265" stop-color="#c3eaa4"/><stop offset=".313" stop-color="#ceec9d"/><stop offset=".373" stop-color="#d1ed9b"/><stop offset=".41" stop-color="#d7ee97"/><stop offset=".494" stop-color="#ceec9d"/><stop offset=".602" stop-color="#ade4b1"/><stop offset=".723" stop-color="#94d7bf"/><stop offset=".771" stop-color="#8fccc5"/><stop offset=".855" stop-color="#93bec7"/><stop offset=".892" stop-color="#93bec7"/><stop offset=".964" stop-color="#9fa4c4"/><stop offset="1" stop-color="#a0a1c3"/></linearGradient><linearGradient id="g2_27" gradientUnits="userSpaceOnUse" x1="0" y1="594.5" x2="0" y2="760.5"><stop offset="0" stop-color="#97b5c6"/><stop offset=".036" stop-color="#8fccc5"/><stop offset=".048" stop-color="#91d3c2"/><stop offset=".072" stop-color="#a2dfb7"/><stop offset=".12" stop-color="#cfec9c"/><stop offset=".133" stop-color="#d5ed99"/><stop offset=".157" stop-color="#ceec9d"/><stop offset=".181" stop-color="#c3eaa4"/><stop offset=".229" stop-color="#c4eaa3"/><stop offset=".313" stop-color="#cdec9e"/><stop offset=".361" stop-color="#cbec9f"/><stop offset=".398" stop-color="#cfec9c"/><stop offset=".494" stop-color="#c1e9a5"/><stop offset=".602" stop-color="#a7e1b4"/><stop offset=".663" stop-color="#9dddba"/><stop offset=".759" stop-color="#8fcec4"/><stop offset=".855" stop-color="#93bec7"/><stop offset=".904" stop-color="#96b8c7"/><stop offset=".964" stop-color="#9fa4c4"/><stop offset="1" stop-color="#a0a2c3"/></linearGradient><linearGradient id="g2_28" gradientUnits="userSpaceOnUse" x1="0" y1="594.5" x2="0" y2="764.5"><stop offset="0" stop-color="#97b5c7"/><stop offset=".035" stop-color="#8fcdc4"/><stop offset=".047" stop-color="#91d4c1"/><stop offset=".071" stop-color="#a4e0b6"/><stop offset=".118" stop-color="#d3ed99"/><stop offset=".129" stop-color="#d7ee97"/><stop offset=".153" stop-color="#d1ed9b"/><stop offset=".176" stop-color="#c6eba2"/><stop offset=".294" stop-color="#cdec9e"/><stop offset=".353" stop-color="#cbec9f"/><stop offset=".388" stop-color="#caeb9f"/><stop offset=".482" stop-color="#bae8aa"/><stop offset=".588" stop-color="#a6e1b5"/><stop offset=".647" stop-color="#9cdcbb"/><stop offset=".741" stop-color="#8fcec4"/><stop offset=".894" stop-color="#98b2c6"/><stop offset=".965" stop-color="#9fa2c3"/><stop offset="1" stop-color="#a0a1c3"/></linearGradient><linearGradient id="g2_29" gradientUnits="userSpaceOnUse" x1="0" y1="594.5" x2="0" y2="766.5"><stop offset="0" stop-color="#97b5c6"/><stop offset=".035" stop-color="#8fccc5"/><stop offset=".047" stop-color="#91d3c2"/><stop offset=".07" stop-color="#a2dfb7"/><stop offset=".105" stop-color="#c6eba2"/><stop offset=".128" stop-color="#d6ee98"/><stop offset=".151" stop-color="#d2ed9a"/><stop offset=".174" stop-color="#caeb9f"/><stop offset=".291" stop-color="#cfec9c"/><stop offset=".384" stop-color="#caeb9f"/><stop offset=".43" stop-color="#c1e9a5"/><stop offset=".581" stop-color="#a6e1b5"/><stop offset=".64" stop-color="#9cdcbb"/><stop offset=".733" stop-color="#8fcec4"/><stop offset=".919" stop-color="#9caac5"/><stop offset=".988" stop-color="#a0a2c3"/><stop offset="1" stop-color="#a0a1c3"/></linearGradient><linearGradient id="g2_30" gradientUnits="userSpaceOnUse" x1="0" y1="594.5" x2="0" y2="770.5"><stop offset="0" stop-color="#97b4c6"/><stop offset=".034" stop-color="#8fcbc5"/><stop offset=".045" stop-color="#90d2c2"/><stop offset=".068" stop-color="#9fdeb9"/><stop offset=".125" stop-color="#d1ed9b"/><stop offset=".148" stop-color="#d2ed9a"/><stop offset=".182" stop-color="#cbec9f"/><stop offset=".284" stop-color="#d3ed99"/><stop offset=".375" stop-color="#cbec9f"/><stop offset=".5" stop-color="#b2e5ae"/><stop offset=".625" stop-color="#9cdcbb"/><stop offset=".716" stop-color="#8fcfc4"/><stop offset=".898" stop-color="#9cabc5"/><stop offset=".989" stop-color="#a0a1c3"/><stop offset="1" stop-color="#a0a1c3"/></linearGradient><linearGradient id="g2_31" gradientUnits="userSpaceOnUse" x1="0" y1="594.5" x2="0" y2="776.5"><stop offset="0" stop-color="#98b4c6"/><stop offset=".044" stop-color="#8fd0c3"/><stop offset=".066" stop-color="#99dbbc"/><stop offset=".121" stop-color="#c8eba1"/><stop offset=".143" stop-color="#ceec9d"/><stop offset=".176" stop-color="#caeb9f"/><stop offset=".286" stop-color="#d9ee96"/><stop offset=".363" stop-color="#cfec9c"/><stop offset=".495" stop-color="#b2e5ae"/><stop offset=".648" stop-color="#95d8bf"/><stop offset=".714" stop-color="#8fccc5"/><stop offset=".824" stop-color="#99b0c6"/><stop offset=".978" stop-color="#a0a1c3"/><stop offset="1" stop-color="#a0a1c3"/></linearGradient><linearGradient id="g2_32" gradientUnits="userSpaceOnUse" x1="0" y1="594.5" x2="0" y2="780.5"><stop offset="0" stop-color="#98b3c6"/><stop offset=".043" stop-color="#8fcdc4"/><stop offset=".065" stop-color="#95d8bf"/><stop offset=".118" stop-color="#bee9a7"/><stop offset=".14" stop-color="#c8eba1"/><stop offset=".204" stop-color="#cbec9f"/><stop offset=".247" stop-color="#d5ed99"/><stop offset=".28" stop-color="#ddef93"/><stop offset=".366" stop-color="#d2ed9a"/><stop offset=".484" stop-color="#b5e6ac"/><stop offset=".645" stop-color="#93d6c0"/><stop offset=".71" stop-color="#8fcbc5"/><stop offset=".796" stop-color="#99b0c6"/><stop offset=".989" stop-color="#a0a1c3"/><stop offset="1" stop-color="#a0a1c3"/></linearGradient><linearGradient id="g2_33" gradientUnits="userSpaceOnUse" x1="0" y1="594.5" x2="0" y2="788.5"><stop offset="0" stop-color="#98b2c6"/><stop offset=".052" stop-color="#8fd0c3"/><stop offset=".072" stop-color="#97d9be"/><stop offset=".134" stop-color="#bfe9a7"/><stop offset=".237" stop-color="#d2ed9a"/><stop offset=".268" stop-color="#dfef92"/><stop offset=".34" stop-color="#daee95"/><stop offset=".464" stop-color="#b9e7aa"/><stop offset=".608" stop-color="#96d8be"/><stop offset=".68" stop-color="#8fcdc4"/><stop offset=".732" stop-color="#95b9c7"/><stop offset=".763" stop-color="#9aaec6"/><stop offset=".979" stop-color="#a0a1c3"/><stop offset="1" stop-color="#a0a1c3"/></linearGradient><linearGradient id="g2_34" gradientUnits="userSpaceOnUse" x1="0" y1="594.5" x2="0" y2="794.5"><stop offset="0" stop-color="#99b1c6"/><stop offset=".05" stop-color="#8fcdc4"/><stop offset=".08" stop-color="#97d9bd"/><stop offset=".14" stop-color="#bae8aa"/><stop offset=".24" stop-color="#d3ed99"/><stop offset=".26" stop-color="#dfef92"/><stop offset=".28" stop-color="#e2ef90"/><stop offset=".35" stop-color="#daee95"/><stop offset=".52" stop-color="#a9e2b3"/><stop offset=".62" stop-color="#91d4c1"/><stop offset=".67" stop-color="#8fccc5"/><stop offset=".74" stop-color="#98b2c6"/><stop offset=".86" stop-color="#9ea6c4"/><stop offset="1" stop-color="#a0a2c3"/></linearGradient><linearGradient id="g2_35" gradientUnits="userSpaceOnUse" x1="0" y1="594.5" x2="0" y2="800.5"><stop offset="0" stop-color="#99b0c6"/><stop offset=".058" stop-color="#8fcfc4"/><stop offset=".087" stop-color="#97d9bd"/><stop offset=".155" stop-color="#bbe8a9"/><stop offset=".204" stop-color="#caeb9f"/><stop offset=".233" stop-color="#d1ed9b"/><stop offset=".262" stop-color="#e1ef91"/><stop offset=".33" stop-color="#deef93"/><stop offset=".408" stop-color="#cbec9f"/><stop offset=".505" stop-color="#ade4b1"/><stop offset=".612" stop-color="#92d5c1"/><stop offset=".67" stop-color="#90c8c6"/><stop offset=".699" stop-color="#93bfc7"/><stop offset=".748" stop-color="#9da8c5"/><stop offset=".845" stop-color="#9badc6"/><stop offset="1" stop-color="#9fa2c3"/></linearGradient><linearGradient id="g2_36" gradientUnits="userSpaceOnUse" x1="0" y1="594.5" x2="0" y2="806.5"><stop offset="0" stop-color="#99b0c6"/><stop offset=".057" stop-color="#8fccc5"/><stop offset=".085" stop-color="#93d6c0"/><stop offset=".151" stop-color="#b3e6ae"/><stop offset=".189" stop-color="#c8eba1"/><stop offset=".236" stop-color="#d3ed99"/><stop offset=".264" stop-color="#e1ef91"/><stop offset=".34" stop-color="#ddef93"/><stop offset=".406" stop-color="#ceec9d"/><stop offset=".491" stop-color="#b1e5af"/><stop offset=".594" stop-color="#94d7bf"/><stop offset=".66" stop-color="#8fcbc5"/><stop offset=".679" stop-color="#92c2c6"/><stop offset=".708" stop-color="#9badc6"/><stop offset=".755" stop-color="#96b8c7"/><stop offset=".821" stop-color="#99b0c6"/><stop offset=".906" stop-color="#99b0c6"/><stop offset=".991" stop-color="#9fa3c4"/><stop offset="1" stop-color="#9fa2c3"/></linearGradient><linearGradient id="g2_37" gradientUnits="userSpaceOnUse" x1="0" y1="594.5" x2="0" y2="812.5"><stop offset="0" stop-color="#9aafc6"/><stop offset=".064" stop-color="#8fcdc4"/><stop offset=".101" stop-color="#96d8be"/><stop offset=".147" stop-color="#aae3b3"/><stop offset=".183" stop-color="#c5eaa3"/><stop offset=".239" stop-color="#d5ed99"/><stop offset=".266" stop-color="#dfef92"/><stop offset=".339" stop-color="#ddef93"/><stop offset=".367" stop-color="#d7ee97"/><stop offset=".394" stop-color="#d5ed99"/><stop offset=".523" stop-color="#a6e1b5"/><stop offset=".596" stop-color="#94d7bf"/><stop offset=".651" stop-color="#8fccc5"/><stop offset=".67" stop-color="#95bac7"/><stop offset=".679" stop-color="#97b4c6"/><stop offset=".706" stop-color="#92c2c6"/><stop offset=".752" stop-color="#98b4c6"/><stop offset=".835" stop-color="#97b6c7"/><stop offset=".917" stop-color="#97b6c7"/><stop offset=".982" stop-color="#9fa4c4"/><stop offset="1" stop-color="#9fa3c4"/></linearGradient><linearGradient id="g2_38" gradientUnits="userSpaceOnUse" x1="0" y1="594.5" x2="0" y2="818.5"><stop offset="0" stop-color="#9aaec6"/><stop offset=".071" stop-color="#8fcdc4"/><stop offset=".116" stop-color="#97d9bd"/><stop offset=".152" stop-color="#a7e1b4"/><stop offset=".188" stop-color="#c6eba2"/><stop offset=".241" stop-color="#d5ed99"/><stop offset=".259" stop-color="#ddef93"/><stop offset=".33" stop-color="#ddef93"/><stop offset=".357" stop-color="#d7ee97"/><stop offset=".393" stop-color="#d9ee96"/><stop offset=".482" stop-color="#b4e6ad"/><stop offset=".58" stop-color="#97d9be"/><stop offset=".616" stop-color="#90d3c2"/><stop offset=".634" stop-color="#8fd1c3"/><stop offset=".652" stop-color="#93bec7"/><stop offset=".661" stop-color="#95bac7"/><stop offset=".679" stop-color="#90c7c6"/><stop offset=".687" stop-color="#90c8c6"/><stop offset=".714" stop-color="#94bdc7"/><stop offset=".75" stop-color="#98b4c6"/><stop offset=".777" stop-color="#9cabc6"/><stop offset=".812" stop-color="#99b0c6"/><stop offset=".857" stop-color="#95bbc7"/><stop offset=".92" stop-color="#95b9c7"/><stop offset=".973" stop-color="#9ea6c5"/><stop offset="1" stop-color="#9fa3c4"/></linearGradient><linearGradient id="g2_39" gradientUnits="userSpaceOnUse" x1="0" y1="594.5" x2="0" y2="826.5"><stop offset="0" stop-color="#9aaec6"/><stop offset=".069" stop-color="#8fcac5"/><stop offset=".112" stop-color="#93d6c0"/><stop offset=".147" stop-color="#9fdeb9"/><stop offset=".164" stop-color="#ade4b1"/><stop offset=".181" stop-color="#c0e9a6"/><stop offset=".207" stop-color="#cbec9f"/><stop offset=".241" stop-color="#d5ed99"/><stop offset=".267" stop-color="#deef93"/><stop offset=".336" stop-color="#daee95"/><stop offset=".353" stop-color="#d7ee97"/><stop offset=".379" stop-color="#deef93"/><stop offset=".414" stop-color="#d2ed9a"/><stop offset=".5" stop-color="#a8e2b4"/><stop offset=".595" stop-color="#92d5c0"/><stop offset=".612" stop-color="#93d6c0"/><stop offset=".621" stop-color="#90d2c2"/><stop offset=".638" stop-color="#93bfc7"/><stop offset=".647" stop-color="#92c3c6"/><stop offset=".655" stop-color="#8fcbc5"/><stop offset=".664" stop-color="#8fcec4"/><stop offset=".698" stop-color="#92c1c7"/><stop offset=".733" stop-color="#9ea5c4"/><stop offset=".776" stop-color="#a0a1c3"/><stop offset=".81" stop-color="#9da8c5"/><stop offset=".853" stop-color="#94bdc7"/><stop offset=".905" stop-color="#94bcc7"/><stop offset=".974" stop-color="#9fa4c4"/><stop offset="1" stop-color="#9fa2c3"/></linearGradient><linearGradient id="g2_40" gradientUnits="userSpaceOnUse" x1="0" y1="594.5" x2="0" y2="830.5"><stop offset="0" stop-color="#9badc6"/><stop offset=".059" stop-color="#91c5c6"/><stop offset=".11" stop-color="#90d3c2"/><stop offset=".144" stop-color="#97d9bd"/><stop offset=".161" stop-color="#a2dfb8"/><stop offset=".186" stop-color="#bee9a7"/><stop offset=".203" stop-color="#c8eba1"/><stop offset=".237" stop-color="#ceec9d"/><stop offset=".263" stop-color="#dbee94"/><stop offset=".339" stop-color="#daee95"/><stop offset=".356" stop-color="#d7ee97"/><stop offset=".381" stop-color="#dfef92"/><stop offset=".398" stop-color="#ddef93"/><stop offset=".449" stop-color="#c3eaa4"/><stop offset=".492" stop-color="#a8e2b4"/><stop offset=".593" stop-color="#94d7bf"/><stop offset=".61" stop-color="#95d8be"/><stop offset=".619" stop-color="#91d4c1"/><stop offset=".636" stop-color="#91c4c6"/><stop offset=".653" stop-color="#8fcec4"/><stop offset=".669" stop-color="#8fcbc5"/><stop offset=".703" stop-color="#96b8c7"/><stop offset=".729" stop-color="#9ea5c4"/><stop offset=".78" stop-color="#a0a1c3"/><stop offset=".822" stop-color="#9ea6c4"/><stop offset=".856" stop-color="#94bcc7"/><stop offset=".924" stop-color="#96b8c7"/><stop offset=".975" stop-color="#9ea5c4"/><stop offset="1" stop-color="#9fa2c3"/></linearGradient><linearGradient id="g2_41" gradientUnits="userSpaceOnUse" x1="0" y1="594.5" x2="0" y2="836.5"><stop offset="0" stop-color="#9bacc6"/><stop offset=".066" stop-color="#91c5c6"/><stop offset=".124" stop-color="#90d3c2"/><stop offset=".157" stop-color="#99dabd"/><stop offset=".174" stop-color="#a8e2b4"/><stop offset=".19" stop-color="#bce8a8"/><stop offset=".215" stop-color="#c6eba2"/><stop offset=".24" stop-color="#cbec9f"/><stop offset=".264" stop-color="#d9ee96"/><stop offset=".339" stop-color="#d9ee96"/><stop offset=".355" stop-color="#d7ee97"/><stop offset=".38" stop-color="#e1ef91"/><stop offset=".397" stop-color="#deef93"/><stop offset=".438" stop-color="#c9eba0"/><stop offset=".488" stop-color="#a4e0b6"/><stop offset=".512" stop-color="#a0deb9"/><stop offset=".537" stop-color="#9dddba"/><stop offset=".595" stop-color="#94d7bf"/><stop offset=".612" stop-color="#93d6c0"/><stop offset=".62" stop-color="#8fcfc4"/><stop offset=".628" stop-color="#90c7c6"/><stop offset=".636" stop-color="#91c5c6"/><stop offset=".653" stop-color="#8fcbc5"/><stop offset=".711" stop-color="#97b5c7"/><stop offset=".744" stop-color="#9ea6c4"/><stop offset=".785" stop-color="#9fa3c4"/><stop offset=".81" stop-color="#9bacc6"/><stop offset=".835" stop-color="#96b8c7"/><stop offset=".909" stop-color="#97b6c7"/><stop offset=".975" stop-color="#9fa3c4"/><stop offset="1" stop-color="#a0a1c3"/></linearGradient><linearGradient id="g2_42" gradientUnits="userSpaceOnUse" x1="0" y1="594.5" x2="0" y2="842.5"><stop offset="0" stop-color="#9bacc6"/><stop offset=".056" stop-color="#92c1c6"/><stop offset=".129" stop-color="#90d2c2"/><stop offset=".161" stop-color="#97d9be"/><stop offset=".177" stop-color="#a7e1b4"/><stop offset=".194" stop-color="#bae8aa"/><stop offset=".21" stop-color="#c3eaa4"/><stop offset=".25" stop-color="#ceec9d"/><stop offset=".274" stop-color="#d7ee97"/><stop offset=".306" stop-color="#d6ee98"/><stop offset=".339" stop-color="#d9ee96"/><stop offset=".355" stop-color="#d6ee98"/><stop offset=".387" stop-color="#deef93"/><stop offset=".435" stop-color="#c9eba0"/><stop offset=".476" stop-color="#a6e1b5"/><stop offset=".5" stop-color="#9cdcbb"/><stop offset=".532" stop-color="#9cdcbb"/><stop offset=".597" stop-color="#92d5c0"/><stop offset=".613" stop-color="#90d3c2"/><stop offset=".629" stop-color="#91c4c6"/><stop offset=".637" stop-color="#93c0c7"/><stop offset=".661" stop-color="#91c5c6"/><stop offset=".702" stop-color="#96b9c7"/><stop offset=".766" stop-color="#9aaec6"/><stop offset=".823" stop-color="#98b3c6"/><stop offset=".895" stop-color="#99b1c6"/><stop offset=".976" stop-color="#a0a2c3"/><stop offset="1" stop-color="#a0a1c3"/></linearGradient><linearGradient id="g2_43" gradientUnits="userSpaceOnUse" x1="0" y1="594.5" x2="0" y2="846.5"><stop offset="0" stop-color="#9cabc6"/><stop offset=".071" stop-color="#91c4c6"/><stop offset=".151" stop-color="#90d3c2"/><stop offset=".167" stop-color="#95d8be"/><stop offset=".183" stop-color="#a6e1b5"/><stop offset=".198" stop-color="#bae8aa"/><stop offset=".222" stop-color="#c4eaa3"/><stop offset=".254" stop-color="#cbec9f"/><stop offset=".278" stop-color="#d2ed9a"/><stop offset=".31" stop-color="#d2ed9a"/><stop offset=".333" stop-color="#d9ee96"/><stop offset=".365" stop-color="#d6ee98"/><stop offset=".389" stop-color="#daee95"/><stop offset=".444" stop-color="#c1e9a5"/><stop offset=".484" stop-color="#a0deb9"/><stop offset=".508" stop-color="#99dabd"/><stop offset=".54" stop-color="#99dabd"/><stop offset=".619" stop-color="#8fcfc4"/><stop offset=".643" stop-color="#95bbc7"/><stop offset=".659" stop-color="#94bcc7"/><stop offset=".675" stop-color="#93c0c7"/><stop offset=".73" stop-color="#99b1c6"/><stop offset=".889" stop-color="#9bacc6"/><stop offset=".992" stop-color="#a0a1c3"/><stop offset="1" stop-color="#a0a1c3"/></linearGradient><linearGradient id="g2_44" gradientUnits="userSpaceOnUse" x1="0" y1="594.5" x2="0" y2="850.5"><stop offset="0" stop-color="#9cabc6"/><stop offset=".07" stop-color="#92c2c6"/><stop offset=".156" stop-color="#90d2c2"/><stop offset=".172" stop-color="#94d7bf"/><stop offset=".18" stop-color="#9bdcbb"/><stop offset=".203" stop-color="#bae8aa"/><stop offset=".227" stop-color="#c3eaa4"/><stop offset=".281" stop-color="#ceec9d"/><stop offset=".305" stop-color="#cdec9e"/><stop offset=".336" stop-color="#d9ee96"/><stop offset=".375" stop-color="#d5ed99"/><stop offset=".391" stop-color="#d5ed99"/><stop offset=".445" stop-color="#bee9a7"/><stop offset=".484" stop-color="#9fdeb9"/><stop offset=".516" stop-color="#97d9be"/><stop offset=".602" stop-color="#8fd0c3"/><stop offset=".633" stop-color="#90c8c6"/><stop offset=".656" stop-color="#97b6c7"/><stop offset=".672" stop-color="#98b3c6"/><stop offset=".703" stop-color="#95b9c7"/><stop offset=".758" stop-color="#9badc6"/><stop offset=".852" stop-color="#9cabc5"/><stop offset="1" stop-color="#a0a1c3"/></linearGradient><linearGradient id="g2_45" gradientUnits="userSpaceOnUse" x1="0" y1="594.5" x2="0" y2="852.5"><stop offset="0" stop-color="#9cabc5"/><stop offset=".078" stop-color="#92c2c6"/><stop offset=".171" stop-color="#90d2c2"/><stop offset=".186" stop-color="#99dabd"/><stop offset=".209" stop-color="#b8e7ab"/><stop offset=".225" stop-color="#c0e9a6"/><stop offset=".271" stop-color="#caeb9f"/><stop offset=".295" stop-color="#ceec9d"/><stop offset=".318" stop-color="#ceec9d"/><stop offset=".341" stop-color="#d9ee96"/><stop offset=".403" stop-color="#cfec9c"/><stop offset=".457" stop-color="#b3e6ae"/><stop offset=".496" stop-color="#9cdcbb"/><stop offset=".574" stop-color="#8fd1c3"/><stop offset=".612" stop-color="#8fcdc4"/><stop offset=".659" stop-color="#93bfc7"/><stop offset=".69" stop-color="#9badc6"/><stop offset=".791" stop-color="#9bacc6"/><stop offset="1" stop-color="#a0a1c3"/></linearGradient><linearGradient id="g2_46" gradientUnits="userSpaceOnUse" x1="0" y1="594.5" x2="0" y2="856.5"><stop offset="0" stop-color="#9caac5"/><stop offset=".069" stop-color="#93bec7"/><stop offset=".176" stop-color="#8fd0c3"/><stop offset=".191" stop-color="#95d8bf"/><stop offset=".214" stop-color="#b5e6ac"/><stop offset=".229" stop-color="#bee9a7"/><stop offset=".275" stop-color="#caeb9f"/><stop offset=".298" stop-color="#cfec9c"/><stop offset=".328" stop-color="#d2ed9a"/><stop offset=".351" stop-color="#daee95"/><stop offset=".405" stop-color="#cfec9c"/><stop offset=".473" stop-color="#a6e1b5"/><stop offset=".534" stop-color="#93d6c0"/><stop offset=".595" stop-color="#8fccc5"/><stop offset=".687" stop-color="#96b8c7"/><stop offset=".74" stop-color="#9da9c5"/><stop offset=".847" stop-color="#9ea6c4"/><stop offset="1" stop-color="#a0a1c3"/></linearGradient><linearGradient id="g2_47" gradientUnits="userSpaceOnUse" x1="0" y1="594.5" x2="0" y2="858.5"><stop offset="0" stop-color="#9caac5"/><stop offset=".083" stop-color="#93bfc7"/><stop offset=".189" stop-color="#8fd0c3"/><stop offset=".197" stop-color="#92d5c1"/><stop offset=".205" stop-color="#99dbbc"/><stop offset=".22" stop-color="#b1e5af"/><stop offset=".235" stop-color="#bbe8a9"/><stop offset=".273" stop-color="#c5eaa3"/><stop offset=".295" stop-color="#d1ed9b"/><stop offset=".333" stop-color="#d3ed99"/><stop offset=".356" stop-color="#daee95"/><stop offset=".394" stop-color="#d3ed99"/><stop offset=".417" stop-color="#cdec9e"/><stop offset=".462" stop-color="#a9e2b3"/><stop offset=".545" stop-color="#90d3c2"/><stop offset=".606" stop-color="#90c7c6"/><stop offset=".697" stop-color="#96b8c7"/><stop offset="1" stop-color="#a0a1c3"/></linearGradient><linearGradient id="g2_48" gradientUnits="userSpaceOnUse" x1="0" y1="594.5" x2="0" y2="858.5"><stop offset="0" stop-color="#9da9c5"/><stop offset=".076" stop-color="#94bcc7"/><stop offset=".197" stop-color="#8fcec4"/><stop offset=".205" stop-color="#90d2c2"/><stop offset=".212" stop-color="#96d8be"/><stop offset=".227" stop-color="#ace3b2"/><stop offset=".242" stop-color="#b9e7aa"/><stop offset=".28" stop-color="#c3eaa4"/><stop offset=".303" stop-color="#d2ed9a"/><stop offset=".341" stop-color="#d3ed99"/><stop offset=".364" stop-color="#d9ee96"/><stop offset=".417" stop-color="#d2ed9a"/><stop offset=".439" stop-color="#c1e9a5"/><stop offset=".462" stop-color="#abe3b2"/><stop offset=".492" stop-color="#9fdeb9"/><stop offset=".553" stop-color="#8fd1c3"/><stop offset=".674" stop-color="#96b7c7"/><stop offset=".765" stop-color="#9aafc6"/><stop offset=".848" stop-color="#9cabc5"/><stop offset=".909" stop-color="#9cabc5"/><stop offset="1" stop-color="#a0a1c3"/></linearGradient><linearGradient id="g2_49" gradientUnits="userSpaceOnUse" x1="0" y1="594.5" x2="0" y2="858.5"><stop offset="0" stop-color="#9da9c5"/><stop offset=".083" stop-color="#94bcc7"/><stop offset=".205" stop-color="#8fccc5"/><stop offset=".22" stop-color="#94d7bf"/><stop offset=".242" stop-color="#b3e6ae"/><stop offset=".265" stop-color="#bbe8a9"/><stop offset=".288" stop-color="#c1e9a5"/><stop offset=".311" stop-color="#d1ed9b"/><stop offset=".326" stop-color="#d3ed99"/><stop offset=".356" stop-color="#d5ed99"/><stop offset=".371" stop-color="#d9ee96"/><stop offset=".402" stop-color="#d2ed9a"/><stop offset=".424" stop-color="#d2ed9a"/><stop offset=".447" stop-color="#c1e9a5"/><stop offset=".47" stop-color="#abe3b2"/><stop offset=".53" stop-color="#94d7bf"/><stop offset=".576" stop-color="#8fcac5"/><stop offset=".712" stop-color="#99b0c6"/><stop offset=".864" stop-color="#9caac5"/><stop offset=".902" stop-color="#9aafc6"/><stop offset="1" stop-color="#a0a1c3"/></linearGradient><linearGradient id="g2_50" gradientUnits="userSpaceOnUse" x1="0" y1="594.5" x2="0" y2="858.5"><stop offset="0" stop-color="#9da9c5"/><stop offset=".098" stop-color="#94bdc7"/><stop offset=".212" stop-color="#8fccc5"/><stop offset=".22" stop-color="#8fd1c3"/><stop offset=".227" stop-color="#95d8bf"/><stop offset=".25" stop-color="#b4e6ad"/><stop offset=".295" stop-color="#c3eaa4"/><stop offset=".318" stop-color="#d1ed9b"/><stop offset=".356" stop-color="#d2ed9a"/><stop offset=".379" stop-color="#d7ee97"/><stop offset=".409" stop-color="#d1ed9b"/><stop offset=".432" stop-color="#d1ed9b"/><stop offset=".455" stop-color="#c0e9a6"/><stop offset=".477" stop-color="#ace3b2"/><stop offset=".53" stop-color="#92d5c1"/><stop offset=".583" stop-color="#90c7c6"/><stop offset=".652" stop-color="#95bbc7"/><stop offset=".689" stop-color="#99b0c6"/><stop offset=".871" stop-color="#9cabc5"/><stop offset=".909" stop-color="#99b0c6"/><stop offset="1" stop-color="#a0a1c3"/></linearGradient><linearGradient id="g2_51" gradientUnits="userSpaceOnUse" x1="0" y1="594.5" x2="0" y2="858.5"><stop offset="0" stop-color="#9da9c5"/><stop offset=".106" stop-color="#94bdc7"/><stop offset=".212" stop-color="#8fcac5"/><stop offset=".227" stop-color="#91d4c1"/><stop offset=".25" stop-color="#b1e5af"/><stop offset=".265" stop-color="#bae8aa"/><stop offset=".295" stop-color="#c0e9a6"/><stop offset=".326" stop-color="#d1ed9b"/><stop offset=".356" stop-color="#cfec9c"/><stop offset=".379" stop-color="#d6ee98"/><stop offset=".417" stop-color="#d1ed9b"/><stop offset=".439" stop-color="#ceec9d"/><stop offset=".508" stop-color="#9eddba"/><stop offset=".53" stop-color="#91d3c2"/><stop offset=".598" stop-color="#91c4c6"/><stop offset=".659" stop-color="#95b9c7"/><stop offset=".697" stop-color="#99b0c6"/><stop offset=".879" stop-color="#9caac5"/><stop offset=".909" stop-color="#99b0c6"/><stop offset="1" stop-color="#a0a2c3"/></linearGradient><linearGradient id="g2_52" gradientUnits="userSpaceOnUse" x1="0" y1="594.5" x2="0" y2="858.5"><stop offset="0" stop-color="#9da9c5"/><stop offset=".106" stop-color="#94bdc7"/><stop offset=".212" stop-color="#8fcac5"/><stop offset=".227" stop-color="#91d4c1"/><stop offset=".25" stop-color="#b2e5ae"/><stop offset=".265" stop-color="#bae8aa"/><stop offset=".295" stop-color="#c1e9a5"/><stop offset=".326" stop-color="#d2ed9a"/><stop offset=".364" stop-color="#d3ed99"/><stop offset=".386" stop-color="#d6ee98"/><stop offset=".409" stop-color="#d1ed9b"/><stop offset=".432" stop-color="#d1ed9b"/><stop offset=".492" stop-color="#ace3b2"/><stop offset=".515" stop-color="#96d8be"/><stop offset=".53" stop-color="#90d2c2"/><stop offset=".674" stop-color="#96b8c7"/><stop offset=".78" stop-color="#9badc6"/><stop offset=".864" stop-color="#9da8c5"/><stop offset=".902" stop-color="#9aaec6"/><stop offset="1" stop-color="#a0a2c3"/></linearGradient><linearGradient id="g2_53" gradientUnits="userSpaceOnUse" x1="0" y1="594.5" x2="0" y2="858.5"><stop offset="0" stop-color="#9da9c5"/><stop offset=".083" stop-color="#95bbc7"/><stop offset=".212" stop-color="#8fccc5"/><stop offset=".22" stop-color="#90d2c2"/><stop offset=".227" stop-color="#97d9be"/><stop offset=".242" stop-color="#afe4b0"/><stop offset=".258" stop-color="#bae8aa"/><stop offset=".288" stop-color="#c0e9a6"/><stop offset=".318" stop-color="#d6ee98"/><stop offset=".356" stop-color="#d6ee98"/><stop offset=".379" stop-color="#d9ee96"/><stop offset=".409" stop-color="#d2ed9a"/><stop offset=".432" stop-color="#cfec9c"/><stop offset=".477" stop-color="#bae8aa"/><stop offset=".492" stop-color="#ace3b2"/><stop offset=".508" stop-color="#99dabd"/><stop offset=".523" stop-color="#90d2c2"/><stop offset=".682" stop-color="#95bac7"/><stop offset=".765" stop-color="#98b2c6"/><stop offset="1" stop-color="#a0a2c3"/></linearGradient><linearGradient id="g2_54" gradientUnits="userSpaceOnUse" x1="0" y1="594.5" x2="0" y2="858.5"><stop offset="0" stop-color="#9da9c5"/><stop offset=".083" stop-color="#94bcc7"/><stop offset=".197" stop-color="#8fcbc5"/><stop offset=".212" stop-color="#90d3c2"/><stop offset=".22" stop-color="#97d9bd"/><stop offset=".235" stop-color="#afe4b0"/><stop offset=".25" stop-color="#bae8aa"/><stop offset=".28" stop-color="#c3eaa4"/><stop offset=".311" stop-color="#daee95"/><stop offset=".326" stop-color="#dbee94"/><stop offset=".379" stop-color="#d9ee96"/><stop offset=".424" stop-color="#d2ed9a"/><stop offset=".47" stop-color="#c0e9a6"/><stop offset=".492" stop-color="#a4e0b6"/><stop offset=".508" stop-color="#93d6c0"/><stop offset=".545" stop-color="#8fcdc4"/><stop offset=".667" stop-color="#93bfc7"/><stop offset=".833" stop-color="#9da9c5"/><stop offset="1" stop-color="#a0a2c3"/></linearGradient><linearGradient id="g2_55" gradientUnits="userSpaceOnUse" x1="0" y1="594.5" x2="0" y2="858.5"><stop offset="0" stop-color="#9caac5"/><stop offset=".076" stop-color="#94bdc7"/><stop offset=".189" stop-color="#8fcdc4"/><stop offset=".205" stop-color="#93d6c0"/><stop offset=".227" stop-color="#b2e5ae"/><stop offset=".235" stop-color="#b9e7aa"/><stop offset=".273" stop-color="#c5eaa3"/><stop offset=".295" stop-color="#ddef93"/><stop offset=".311" stop-color="#e2ef90"/><stop offset=".386" stop-color="#d6ee98"/><stop offset=".409" stop-color="#d6ee98"/><stop offset=".455" stop-color="#c8eba1"/><stop offset=".47" stop-color="#bbe8a9"/><stop offset=".492" stop-color="#9cdcbb"/><stop offset=".508" stop-color="#92d5c1"/><stop offset=".636" stop-color="#90c7c6"/><stop offset=".735" stop-color="#9aafc6"/><stop offset=".788" stop-color="#9ea5c4"/><stop offset="1" stop-color="#a0a1c3"/></linearGradient><linearGradient id="g2_56" gradientUnits="userSpaceOnUse" x1="0" y1="594.5" x2="0" y2="858.5"><stop offset="0" stop-color="#9caac5"/><stop offset=".068" stop-color="#93bec7"/><stop offset=".182" stop-color="#90d2c2"/><stop offset=".189" stop-color="#93d6c0"/><stop offset=".212" stop-color="#b0e4b0"/><stop offset=".227" stop-color="#bbe8a9"/><stop offset=".258" stop-color="#c5eaa3"/><stop offset=".273" stop-color="#d3ed99"/><stop offset=".288" stop-color="#e2ef90"/><stop offset=".303" stop-color="#e5f08f"/><stop offset=".356" stop-color="#dbee94"/><stop offset=".379" stop-color="#d9ee96"/><stop offset=".394" stop-color="#daee95"/><stop offset=".447" stop-color="#caeb9f"/><stop offset=".462" stop-color="#b9e7aa"/><stop offset=".477" stop-color="#a2dfb7"/><stop offset=".492" stop-color="#97d9be"/><stop offset=".523" stop-color="#93d6c0"/><stop offset=".561" stop-color="#91d3c2"/><stop offset=".621" stop-color="#8fc9c6"/><stop offset=".682" stop-color="#97b4c6"/><stop offset=".72" stop-color="#9da9c5"/><stop offset=".818" stop-color="#9cabc6"/><stop offset="1" stop-color="#a0a1c3"/></linearGradient><linearGradient id="g2_57" gradientUnits="userSpaceOnUse" x1="0" y1="594.5" x2="0" y2="858.5"><stop offset="0" stop-color="#9cabc5"/><stop offset=".068" stop-color="#92c1c6"/><stop offset=".159" stop-color="#8fd1c3"/><stop offset=".174" stop-color="#94d7bf"/><stop offset=".205" stop-color="#b8e7ab"/><stop offset=".227" stop-color="#c0e9a6"/><stop offset=".25" stop-color="#caeb9f"/><stop offset=".273" stop-color="#e2ef90"/><stop offset=".288" stop-color="#e6f08e"/><stop offset=".356" stop-color="#daee95"/><stop offset=".386" stop-color="#ddef93"/><stop offset=".432" stop-color="#cfec9c"/><stop offset=".47" stop-color="#a0deb9"/><stop offset=".492" stop-color="#97d9bd"/><stop offset=".523" stop-color="#a2dfb7"/><stop offset=".568" stop-color="#90d3c2"/><stop offset=".621" stop-color="#92c2c6"/><stop offset=".667" stop-color="#9bacc6"/><stop offset=".727" stop-color="#97b6c7"/><stop offset="1" stop-color="#a0a2c3"/></linearGradient><linearGradient id="g2_58" gradientUnits="userSpaceOnUse" x1="0" y1="594.5" x2="0" y2="858.5"><stop offset="0" stop-color="#9bacc6"/><stop offset=".061" stop-color="#91c3c6"/><stop offset=".136" stop-color="#90d3c2"/><stop offset=".159" stop-color="#97d9bd"/><stop offset=".189" stop-color="#b8e7ab"/><stop offset=".235" stop-color="#caeb9f"/><stop offset=".258" stop-color="#e1ef91"/><stop offset=".273" stop-color="#e6f08e"/><stop offset=".341" stop-color="#dbee94"/><stop offset=".371" stop-color="#dfef92"/><stop offset=".417" stop-color="#d3ed99"/><stop offset=".432" stop-color="#c3eaa4"/><stop offset=".455" stop-color="#a4e0b6"/><stop offset=".47" stop-color="#9cdcbb"/><stop offset=".485" stop-color="#a1dfb8"/><stop offset=".5" stop-color="#b0e4b0"/><stop offset=".508" stop-color="#b3e6ae"/><stop offset=".515" stop-color="#b0e4b0"/><stop offset=".538" stop-color="#97d9bd"/><stop offset=".553" stop-color="#90d2c2"/><stop offset=".598" stop-color="#93c0c7"/><stop offset=".629" stop-color="#9aaec6"/><stop offset=".652" stop-color="#98b3c6"/><stop offset=".682" stop-color="#95bbc7"/><stop offset=".765" stop-color="#99b0c6"/><stop offset=".917" stop-color="#9cabc6"/><stop offset="1" stop-color="#a0a2c3"/></linearGradient><linearGradient id="g2_59" gradientUnits="userSpaceOnUse" x1="0" y1="594.5" x2="0" y2="858.5"><stop offset="0" stop-color="#9badc6"/><stop offset=".053" stop-color="#91c5c6"/><stop offset=".106" stop-color="#91d3c2"/><stop offset=".144" stop-color="#9cdcbb"/><stop offset=".174" stop-color="#b8e7ab"/><stop offset=".197" stop-color="#c0e9a6"/><stop offset=".22" stop-color="#c9eba0"/><stop offset=".242" stop-color="#dfef92"/><stop offset=".258" stop-color="#e5f08f"/><stop offset=".311" stop-color="#dfef92"/><stop offset=".333" stop-color="#ddef93"/><stop offset=".356" stop-color="#e1ef91"/><stop offset=".394" stop-color="#daee95"/><stop offset=".409" stop-color="#cfec9c"/><stop offset=".439" stop-color="#a8e2b4"/><stop offset=".455" stop-color="#a1dfb8"/><stop offset=".47" stop-color="#a9e2b3"/><stop offset=".485" stop-color="#bce8a8"/><stop offset=".492" stop-color="#bee9a7"/><stop offset=".5" stop-color="#b8e7ab"/><stop offset=".523" stop-color="#97d9bd"/><stop offset=".538" stop-color="#90d2c2"/><stop offset=".568" stop-color="#91c5c6"/><stop offset=".591" stop-color="#98b4c6"/><stop offset=".606" stop-color="#98b2c6"/><stop offset=".644" stop-color="#92c1c7"/><stop offset=".78" stop-color="#98b2c6"/><stop offset=".886" stop-color="#98b2c6"/><stop offset="1" stop-color="#a0a2c3"/></linearGradient><linearGradient id="g2_60" gradientUnits="userSpaceOnUse" x1="0" y1="594.5" x2="0" y2="858.5"><stop offset="0" stop-color="#9aaec6"/><stop offset=".053" stop-color="#8fcac5"/><stop offset=".091" stop-color="#93d6c0"/><stop offset=".136" stop-color="#a6e1b5"/><stop offset=".167" stop-color="#bbe8a9"/><stop offset=".205" stop-color="#c6eba2"/><stop offset=".235" stop-color="#e1ef91"/><stop offset=".288" stop-color="#e3f08f"/><stop offset=".318" stop-color="#deef93"/><stop offset=".348" stop-color="#dfef92"/><stop offset=".379" stop-color="#ddef93"/><stop offset=".402" stop-color="#cbec9f"/><stop offset=".424" stop-color="#afe4b0"/><stop offset=".439" stop-color="#a6e1b5"/><stop offset=".455" stop-color="#afe4b0"/><stop offset=".47" stop-color="#bfe9a7"/><stop offset=".477" stop-color="#bfe9a7"/><stop offset=".485" stop-color="#b9e7aa"/><stop offset=".508" stop-color="#99dbbc"/><stop offset=".523" stop-color="#91d3c2"/><stop offset=".545" stop-color="#90c8c6"/><stop offset=".568" stop-color="#97b6c7"/><stop offset=".583" stop-color="#95bac7"/><stop offset=".606" stop-color="#90c7c6"/><stop offset=".636" stop-color="#91c5c6"/><stop offset=".697" stop-color="#97b5c6"/><stop offset=".788" stop-color="#98b2c6"/><stop offset=".864" stop-color="#96b8c7"/><stop offset=".947" stop-color="#9aaec6"/><stop offset="1" stop-color="#9fa2c3"/></linearGradient><linearGradient id="g2_61" gradientUnits="userSpaceOnUse" x1="0" y1="594.5" x2="0" y2="858.5"><stop offset="0" stop-color="#9aafc6"/><stop offset=".045" stop-color="#8fcbc5"/><stop offset=".076" stop-color="#95d8bf"/><stop offset=".144" stop-color="#b8e7ab"/><stop offset=".189" stop-color="#c4eaa3"/><stop offset=".22" stop-color="#deef93"/><stop offset=".235" stop-color="#e1ef91"/><stop offset=".265" stop-color="#e3f08f"/><stop offset=".288" stop-color="#e2ef90"/><stop offset=".311" stop-color="#dfef92"/><stop offset=".371" stop-color="#dbee94"/><stop offset=".386" stop-color="#d1ed9b"/><stop offset=".417" stop-color="#b1e5af"/><stop offset=".432" stop-color="#ace3b2"/><stop offset=".455" stop-color="#b5e6ac"/><stop offset=".477" stop-color="#abe3b2"/><stop offset=".5" stop-color="#99dbbc"/><stop offset=".523" stop-color="#8fd0c3"/><stop offset=".538" stop-color="#93bfc7"/><stop offset=".545" stop-color="#95bbc7"/><stop offset=".553" stop-color="#94bdc7"/><stop offset=".576" stop-color="#8fcec4"/><stop offset=".598" stop-color="#8fccc5"/><stop offset=".644" stop-color="#96b8c7"/><stop offset=".765" stop-color="#98b2c6"/><stop offset=".879" stop-color="#95bbc7"/><stop offset=".947" stop-color="#98b3c6"/><stop offset="1" stop-color="#9fa3c4"/></linearGradient><linearGradient id="g2_62" gradientUnits="userSpaceOnUse" x1="0" y1="594.5" x2="0" y2="858.5"><stop offset="0" stop-color="#99b1c6"/><stop offset=".038" stop-color="#8fccc5"/><stop offset=".061" stop-color="#94d7bf"/><stop offset=".106" stop-color="#b2e5ae"/><stop offset=".182" stop-color="#c5eaa3"/><stop offset=".212" stop-color="#deef93"/><stop offset=".242" stop-color="#dfef92"/><stop offset=".265" stop-color="#e5f08f"/><stop offset=".341" stop-color="#daee95"/><stop offset=".364" stop-color="#daee95"/><stop offset=".417" stop-color="#b1e5af"/><stop offset=".455" stop-color="#a4e0b6"/><stop offset=".477" stop-color="#a7e1b4"/><stop offset=".5" stop-color="#9cdcbb"/><stop offset=".508" stop-color="#93d6c0"/><stop offset=".515" stop-color="#8fccc5"/><stop offset=".523" stop-color="#91c3c6"/><stop offset=".53" stop-color="#92c3c6"/><stop offset=".545" stop-color="#8fd1c3"/><stop offset=".561" stop-color="#93d6c0"/><stop offset=".583" stop-color="#8fc9c6"/><stop offset=".606" stop-color="#94bdc7"/><stop offset=".765" stop-color="#98b2c6"/><stop offset=".871" stop-color="#94bdc7"/><stop offset=".947" stop-color="#97b6c7"/><stop offset="1" stop-color="#9fa4c4"/></linearGradient><linearGradient id="g2_63" gradientUnits="userSpaceOnUse" x1="0" y1="594.5" x2="0" y2="858.5"><stop offset="0" stop-color="#98b2c6"/><stop offset=".038" stop-color="#8fcfc4"/><stop offset=".061" stop-color="#9bdcbb"/><stop offset=".098" stop-color="#bae8aa"/><stop offset=".159" stop-color="#c1e9a5"/><stop offset=".182" stop-color="#cbec9f"/><stop offset=".205" stop-color="#ddef93"/><stop offset=".242" stop-color="#e2ef90"/><stop offset=".258" stop-color="#e6f08e"/><stop offset=".333" stop-color="#d7ee97"/><stop offset=".348" stop-color="#daee95"/><stop offset=".386" stop-color="#c9eba0"/><stop offset=".424" stop-color="#a2dfb8"/><stop offset=".439" stop-color="#9adbbc"/><stop offset=".447" stop-color="#9bdcbb"/><stop offset=".462" stop-color="#aae3b3"/><stop offset=".47" stop-color="#b4e6ad"/><stop offset=".477" stop-color="#b6e7ac"/><stop offset=".485" stop-color="#b2e5ae"/><stop offset=".492" stop-color="#a2dfb7"/><stop offset=".5" stop-color="#91d4c1"/><stop offset=".508" stop-color="#8fc9c5"/><stop offset=".515" stop-color="#90c8c6"/><stop offset=".523" stop-color="#8fd0c3"/><stop offset=".53" stop-color="#94d7bf"/><stop offset=".538" stop-color="#96d8be"/><stop offset=".561" stop-color="#8fcdc4"/><stop offset=".583" stop-color="#92c1c7"/><stop offset=".75" stop-color="#98b2c6"/><stop offset=".871" stop-color="#93c0c7"/><stop offset=".917" stop-color="#94bdc7"/><stop offset=".955" stop-color="#97b6c7"/><stop offset="1" stop-color="#9fa4c4"/></linearGradient><linearGradient id="g2_64" gradientUnits="userSpaceOnUse" x1="0" y1="594.5" x2="0" y2="858.5"><stop offset="0" stop-color="#98b2c6"/><stop offset=".038" stop-color="#8fd1c3"/><stop offset=".053" stop-color="#98dabd"/><stop offset=".091" stop-color="#bbe8a9"/><stop offset=".106" stop-color="#c1e9a5"/><stop offset=".144" stop-color="#c3eaa4"/><stop offset=".174" stop-color="#cbec9f"/><stop offset=".197" stop-color="#deef93"/><stop offset=".235" stop-color="#e1ef91"/><stop offset=".25" stop-color="#e6f08e"/><stop offset=".326" stop-color="#d6ee98"/><stop offset=".348" stop-color="#d7ee97"/><stop offset=".386" stop-color="#c8eba1"/><stop offset=".417" stop-color="#a2dfb8"/><stop offset=".432" stop-color="#98dabd"/><stop offset=".439" stop-color="#99dbbc"/><stop offset=".447" stop-color="#a1dfb8"/><stop offset=".462" stop-color="#c0e9a6"/><stop offset=".47" stop-color="#c8eba1"/><stop offset=".477" stop-color="#bfe9a7"/><stop offset=".485" stop-color="#a4e0b6"/><stop offset=".492" stop-color="#8fd1c3"/><stop offset=".5" stop-color="#90c7c6"/><stop offset=".508" stop-color="#8fcac5"/><stop offset=".523" stop-color="#96d8be"/><stop offset=".553" stop-color="#8fcdc4"/><stop offset=".576" stop-color="#90c6c6"/><stop offset=".727" stop-color="#99b1c6"/><stop offset=".818" stop-color="#93bec7"/><stop offset=".886" stop-color="#92c3c6"/><stop offset=".955" stop-color="#96b8c7"/><stop offset="1" stop-color="#9fa4c4"/></linearGradient><linearGradient id="g2_65" gradientUnits="userSpaceOnUse" x1="0" y1="594.5" x2="0" y2="858.5"><stop offset="0" stop-color="#98b2c6"/><stop offset=".038" stop-color="#8fd0c3"/><stop offset=".061" stop-color="#9dddba"/><stop offset=".098" stop-color="#bfe9a7"/><stop offset=".167" stop-color="#ceec9d"/><stop offset=".197" stop-color="#e1ef91"/><stop offset=".235" stop-color="#e2ef90"/><stop offset=".25" stop-color="#e5f08f"/><stop offset=".288" stop-color="#deef93"/><stop offset=".326" stop-color="#d6ee98"/><stop offset=".341" stop-color="#d6ee98"/><stop offset=".379" stop-color="#cbec9f"/><stop offset=".402" stop-color="#b8e7ab"/><stop offset=".424" stop-color="#a2dfb7"/><stop offset=".432" stop-color="#a0deb9"/><stop offset=".439" stop-color="#a3e0b7"/><stop offset=".462" stop-color="#c1e9a5"/><stop offset=".47" stop-color="#bfe9a7"/><stop offset=".477" stop-color="#ace3b2"/><stop offset=".485" stop-color="#93d6c0"/><stop offset=".492" stop-color="#90c7c6"/><stop offset=".5" stop-color="#91c5c6"/><stop offset=".508" stop-color="#8fcec4"/><stop offset=".515" stop-color="#93d6c0"/><stop offset=".538" stop-color="#91d4c1"/><stop offset=".598" stop-color="#90c6c6"/><stop offset=".667" stop-color="#96b7c7"/><stop offset=".75" stop-color="#97b4c6"/><stop offset=".848" stop-color="#91c5c6"/><stop offset=".917" stop-color="#93bfc7"/><stop offset=".962" stop-color="#97b5c6"/><stop offset=".992" stop-color="#9ea5c4"/><stop offset="1" stop-color="#9fa4c4"/></linearGradient><linearGradient id="g2_66" gradientUnits="userSpaceOnUse" x1="0" y1="594.5" x2="0" y2="858.5"><stop offset="0" stop-color="#98b2c6"/><stop offset=".038" stop-color="#8fd0c3"/><stop offset=".061" stop-color="#9dddba"/><stop offset=".098" stop-color="#bfe9a7"/><stop offset=".167" stop-color="#ceec9d"/><stop offset=".197" stop-color="#e1ef91"/><stop offset=".235" stop-color="#e2ef90"/><stop offset=".25" stop-color="#e5f08f"/><stop offset=".288" stop-color="#deef93"/><stop offset=".326" stop-color="#d6ee98"/><stop offset=".341" stop-color="#d6ee98"/><stop offset=".379" stop-color="#cbec9f"/><stop offset=".402" stop-color="#b8e7ab"/><stop offset=".424" stop-color="#a2dfb7"/><stop offset=".432" stop-color="#a0deb9"/><stop offset=".439" stop-color="#a3e0b7"/><stop offset=".462" stop-color="#c1e9a5"/><stop offset=".47" stop-color="#bfe9a7"/><stop offset=".477" stop-color="#ace3b2"/><stop offset=".485" stop-color="#93d6c0"/><stop offset=".492" stop-color="#90c7c6"/><stop offset=".5" stop-color="#91c5c6"/><stop offset=".508" stop-color="#8fcec4"/><stop offset=".515" stop-color="#93d6c0"/><stop offset=".538" stop-color="#91d4c1"/><stop offset=".598" stop-color="#90c6c6"/><stop offset=".667" stop-color="#96b7c7"/><stop offset=".75" stop-color="#97b4c6"/><stop offset=".848" stop-color="#91c5c6"/><stop offset=".917" stop-color="#93bfc7"/><stop offset=".962" stop-color="#97b5c6"/><stop offset=".992" stop-color="#9ea5c4"/><stop offset="1" stop-color="#9fa4c4"/></linearGradient><linearGradient id="g2_67" gradientUnits="userSpaceOnUse" x1="0" y1="594.5" x2="0" y2="858.5"><stop offset="0" stop-color="#98b2c6"/><stop offset=".038" stop-color="#8fd0c3"/><stop offset=".061" stop-color="#9dddba"/><stop offset=".098" stop-color="#bfe9a7"/><stop offset=".167" stop-color="#ceec9d"/><stop offset=".197" stop-color="#e1ef91"/><stop offset=".235" stop-color="#e2ef90"/><stop offset=".25" stop-color="#e5f08f"/><stop offset=".288" stop-color="#deef93"/><stop offset=".326" stop-color="#d6ee98"/><stop offset=".341" stop-color="#d6ee98"/><stop offset=".379" stop-color="#cbec9f"/><stop offset=".402" stop-color="#b8e7ab"/><stop offset=".424" stop-color="#a2dfb7"/><stop offset=".432" stop-color="#a0deb9"/><stop offset=".439" stop-color="#a3e0b7"/><stop offset=".462" stop-color="#c1e9a5"/><stop offset=".47" stop-color="#bfe9a7"/><stop offset=".477" stop-color="#ace3b2"/><stop offset=".485" stop-color="#93d6c0"/><stop offset=".492" stop-color="#90c7c6"/><stop offset=".5" stop-color="#91c5c6"/><stop offset=".508" stop-color="#8fcec4"/><stop offset=".515" stop-color="#93d6c0"/><stop offset=".538" stop-color="#91d4c1"/><stop offset=".598" stop-color="#90c6c6"/><stop offset=".667" stop-color="#96b7c7"/><stop offset=".75" stop-color="#97b4c6"/><stop offset=".848" stop-color="#91c5c6"/><stop offset=".917" stop-color="#93bfc7"/><stop offset=".962" stop-color="#97b5c6"/><stop offset=".992" stop-color="#9ea5c4"/><stop offset="1" stop-color="#9fa4c4"/></linearGradient><filter id="bl2" filterUnits="userSpaceOnUse" x="156.7" y="589.5" width="906.8" height="284.1" color-interpolation-filters="sRGB"><feGaussianBlur stdDeviation="4.5 0"/></filter><clipPath id="c3"><path d="M195.6 885 L1024.6 885 L1024.6 1148.7 L898.5 1148.7 L890.5 1148.7 L882.5 1148.7 L874.5 1148.7 L866.5 1148.7 L858.5 1148.5 L850.5 1148.3 L842.5 1148 L834.5 1147.6 L826.5 1147.1 L818.5 1146.5 L810.5 1145.8 L802.5 1144.9 L794.5 1143.8 L786.5 1142.6 L778.5 1141.2 L770.5 1139.5 L762.5 1137.8 L754.5 1136 L746.5 1133.8 L738.5 1131.3 L730.5 1128.7 L722.5 1125.9 L714.5 1122.9 L706.5 1119.7 L698.5 1116.2 L690.5 1113.1 L682.5 1109.6 L674.5 1105.8 L666.5 1101.7 L658.5 1097.6 L650.5 1093.5 L642.5 1089.6 L634.5 1085.8 L626.5 1082.1 L618.5 1078.3 L610.5 1074.4 L602.5 1070.6 L594.5 1066.7 L586.5 1063.1 L578.5 1059.6 L570.5 1056.4 L562.5 1053.5 L554.5 1051 L546.5 1049.1 L538.5 1047.1 L530.5 1045.5 L522.5 1044.3 L514.5 1043.7 L506.5 1043.3 L498.5 1043.5 L490.5 1044.1 L482.5 1045.4 L474.5 1047.4 L466.5 1049.8 L458.5 1052.3 L450.5 1055.3 L442.5 1058.8 L434.5 1063.1 L426.5 1068 L418.5 1074 L410.5 1079.1 L402.5 1085 L394.5 1091.8 L386.5 1098.5 L378.5 1104.7 L370.5 1110.8 L362.5 1116.8 L354.5 1122.8 L346.5 1128.5 L338.5 1133.8 L330.5 1138.7 L322.5 1142.8 L305 1148.7 L195.6 1148.7Z"/></clipPath><linearGradient id="g3_0" gradientUnits="userSpaceOnUse" x1="0" y1="885" x2="0" y2="1149"><stop offset="0" stop-color="#9ea5c4"/><stop offset=".091" stop-color="#8fccc5"/><stop offset=".121" stop-color="#94d7bf"/><stop offset=".182" stop-color="#b4e6ad"/><stop offset=".235" stop-color="#d1ed9b"/><stop offset=".28" stop-color="#deef93"/><stop offset=".326" stop-color="#dfef92"/><stop offset=".386" stop-color="#cfec9c"/><stop offset=".424" stop-color="#c5eaa3"/><stop offset=".447" stop-color="#bfe9a7"/><stop offset=".515" stop-color="#9cdcbb"/><stop offset=".583" stop-color="#8fd0c3"/><stop offset=".614" stop-color="#91c5c6"/><stop offset=".629" stop-color="#96b8c7"/><stop offset=".636" stop-color="#96b7c7"/><stop offset=".659" stop-color="#93bec7"/><stop offset=".705" stop-color="#97b6c7"/><stop offset=".758" stop-color="#9aaec6"/><stop offset=".833" stop-color="#99b0c6"/><stop offset="1" stop-color="#a0a1c3"/></linearGradient><linearGradient id="g3_1" gradientUnits="userSpaceOnUse" x1="0" y1="885" x2="0" y2="1149"><stop offset="0" stop-color="#9ea5c4"/><stop offset=".091" stop-color="#8fccc5"/><stop offset=".121" stop-color="#94d7bf"/><stop offset=".182" stop-color="#b4e6ad"/><stop offset=".235" stop-color="#d1ed9b"/><stop offset=".28" stop-color="#deef93"/><stop offset=".326" stop-color="#dfef92"/><stop offset=".386" stop-color="#cfec9c"/><stop offset=".424" stop-color="#c5eaa3"/><stop offset=".447" stop-color="#bfe9a7"/><stop offset=".515" stop-color="#9cdcbb"/><stop offset=".583" stop-color="#8fd0c3"/><stop offset=".614" stop-color="#91c5c6"/><stop offset=".629" stop-color="#96b8c7"/><stop offset=".636" stop-color="#96b7c7"/><stop offset=".659" stop-color="#93bec7"/><stop offset=".705" stop-color="#97b6c7"/><stop offset=".758" stop-color="#9aaec6"/><stop offset=".833" stop-color="#99b0c6"/><stop offset="1" stop-color="#a0a1c3"/></linearGradient><linearGradient id="g3_2" gradientUnits="userSpaceOnUse" x1="0" y1="885" x2="0" y2="1149"><stop offset="0" stop-color="#9ea5c4"/><stop offset=".091" stop-color="#8fccc5"/><stop offset=".121" stop-color="#94d7bf"/><stop offset=".182" stop-color="#b4e6ad"/><stop offset=".235" stop-color="#d1ed9b"/><stop offset=".28" stop-color="#deef93"/><stop offset=".326" stop-color="#dfef92"/><stop offset=".386" stop-color="#cfec9c"/><stop offset=".424" stop-color="#c5eaa3"/><stop offset=".447" stop-color="#bfe9a7"/><stop offset=".515" stop-color="#9cdcbb"/><stop offset=".583" stop-color="#8fd0c3"/><stop offset=".614" stop-color="#91c5c6"/><stop offset=".629" stop-color="#96b8c7"/><stop offset=".636" stop-color="#96b7c7"/><stop offset=".659" stop-color="#93bec7"/><stop offset=".705" stop-color="#97b6c7"/><stop offset=".758" stop-color="#9aaec6"/><stop offset=".833" stop-color="#99b0c6"/><stop offset="1" stop-color="#a0a1c3"/></linearGradient><linearGradient id="g3_3" gradientUnits="userSpaceOnUse" x1="0" y1="885" x2="0" y2="1149"><stop offset="0" stop-color="#9ea5c4"/><stop offset=".083" stop-color="#8fcac5"/><stop offset=".114" stop-color="#93d6c0"/><stop offset=".159" stop-color="#aae3b3"/><stop offset=".197" stop-color="#bce8a8"/><stop offset=".265" stop-color="#deef93"/><stop offset=".311" stop-color="#e3f08f"/><stop offset=".364" stop-color="#daee95"/><stop offset=".424" stop-color="#c8eba1"/><stop offset=".439" stop-color="#c4eaa3"/><stop offset=".5" stop-color="#a3e0b7"/><stop offset=".576" stop-color="#91d4c1"/><stop offset=".598" stop-color="#8fcac5"/><stop offset=".614" stop-color="#94bcc7"/><stop offset=".621" stop-color="#95bbc7"/><stop offset=".644" stop-color="#91c3c6"/><stop offset=".735" stop-color="#9aafc6"/><stop offset=".856" stop-color="#98b4c6"/><stop offset=".985" stop-color="#9fa2c3"/><stop offset="1" stop-color="#a0a2c3"/></linearGradient><linearGradient id="g3_4" gradientUnits="userSpaceOnUse" x1="0" y1="885" x2="0" y2="1149"><stop offset="0" stop-color="#9ea5c4"/><stop offset=".083" stop-color="#8fcbc5"/><stop offset=".114" stop-color="#94d7bf"/><stop offset=".152" stop-color="#a9e2b3"/><stop offset=".182" stop-color="#b3e6ae"/><stop offset=".258" stop-color="#deef93"/><stop offset=".311" stop-color="#e5f08f"/><stop offset=".356" stop-color="#e1ef91"/><stop offset=".417" stop-color="#cbec9f"/><stop offset=".439" stop-color="#c5eaa3"/><stop offset=".485" stop-color="#abe3b2"/><stop offset=".576" stop-color="#92d5c1"/><stop offset=".591" stop-color="#8fc9c6"/><stop offset=".598" stop-color="#93c0c7"/><stop offset=".606" stop-color="#94bdc7"/><stop offset=".621" stop-color="#90c8c6"/><stop offset=".636" stop-color="#90c7c6"/><stop offset=".682" stop-color="#96b8c7"/><stop offset=".742" stop-color="#9badc6"/><stop offset=".856" stop-color="#96b7c7"/><stop offset="1" stop-color="#a0a2c3"/></linearGradient><linearGradient id="g3_5" gradientUnits="userSpaceOnUse" x1="0" y1="885" x2="0" y2="1149"><stop offset="0" stop-color="#9ea5c4"/><stop offset=".083" stop-color="#8fcbc5"/><stop offset=".106" stop-color="#91d4c1"/><stop offset=".152" stop-color="#a9e2b3"/><stop offset=".182" stop-color="#b4e6ad"/><stop offset=".258" stop-color="#dfef92"/><stop offset=".311" stop-color="#e6f08e"/><stop offset=".356" stop-color="#e5f08f"/><stop offset=".417" stop-color="#cfec9c"/><stop offset=".462" stop-color="#bbe8a9"/><stop offset=".515" stop-color="#a4e0b6"/><stop offset=".568" stop-color="#95d8bf"/><stop offset=".583" stop-color="#8fc9c5"/><stop offset=".591" stop-color="#92c1c7"/><stop offset=".598" stop-color="#92c1c7"/><stop offset=".614" stop-color="#8fccc5"/><stop offset=".629" stop-color="#8fc9c5"/><stop offset=".659" stop-color="#94bdc7"/><stop offset=".735" stop-color="#9bacc6"/><stop offset=".864" stop-color="#95b9c7"/><stop offset=".902" stop-color="#98b4c6"/><stop offset="1" stop-color="#a0a2c3"/></linearGradient><linearGradient id="g3_6" gradientUnits="userSpaceOnUse" x1="0" y1="885" x2="0" y2="1149"><stop offset="0" stop-color="#9ea5c4"/><stop offset=".083" stop-color="#8fcbc5"/><stop offset=".114" stop-color="#94d7bf"/><stop offset=".159" stop-color="#abe3b2"/><stop offset=".205" stop-color="#c1e9a5"/><stop offset=".258" stop-color="#dfef92"/><stop offset=".303" stop-color="#e7f08e"/><stop offset=".356" stop-color="#e7f08e"/><stop offset=".432" stop-color="#cdec9e"/><stop offset=".538" stop-color="#9dddba"/><stop offset=".561" stop-color="#99dabd"/><stop offset=".568" stop-color="#93d6c0"/><stop offset=".576" stop-color="#8fcdc4"/><stop offset=".583" stop-color="#91c3c6"/><stop offset=".591" stop-color="#92c2c6"/><stop offset=".606" stop-color="#8fcec4"/><stop offset=".621" stop-color="#8fcbc5"/><stop offset=".652" stop-color="#92c1c6"/><stop offset=".727" stop-color="#9bacc6"/><stop offset=".765" stop-color="#9aafc6"/><stop offset=".826" stop-color="#96b8c7"/><stop offset=".894" stop-color="#95bac7"/><stop offset=".992" stop-color="#9fa2c3"/><stop offset="1" stop-color="#a0a2c3"/></linearGradient><linearGradient id="g3_7" gradientUnits="userSpaceOnUse" x1="0" y1="885" x2="0" y2="1149"><stop offset="0" stop-color="#9ea5c4"/><stop offset=".083" stop-color="#8fcac5"/><stop offset=".114" stop-color="#93d6c0"/><stop offset=".167" stop-color="#ade4b1"/><stop offset=".258" stop-color="#dfef92"/><stop offset=".311" stop-color="#e9f08d"/><stop offset=".356" stop-color="#eaf08d"/><stop offset=".432" stop-color="#d1ed9b"/><stop offset=".53" stop-color="#9fdeb9"/><stop offset=".561" stop-color="#99dbbc"/><stop offset=".568" stop-color="#92d5c0"/><stop offset=".576" stop-color="#8fcbc5"/><stop offset=".583" stop-color="#91c3c6"/><stop offset=".591" stop-color="#90c6c6"/><stop offset=".606" stop-color="#8fd1c3"/><stop offset=".674" stop-color="#94bcc7"/><stop offset=".735" stop-color="#9da9c5"/><stop offset=".818" stop-color="#96b9c7"/><stop offset=".902" stop-color="#95bac7"/><stop offset=".992" stop-color="#9fa3c4"/><stop offset="1" stop-color="#9fa2c3"/></linearGradient><linearGradient id="g3_8" gradientUnits="userSpaceOnUse" x1="0" y1="885" x2="0" y2="1149"><stop offset="0" stop-color="#9ea5c4"/><stop offset=".091" stop-color="#8fccc5"/><stop offset=".121" stop-color="#94d7bf"/><stop offset=".189" stop-color="#b9e7aa"/><stop offset=".258" stop-color="#dfef92"/><stop offset=".311" stop-color="#eaf08d"/><stop offset=".356" stop-color="#edf18c"/><stop offset=".432" stop-color="#d6ee98"/><stop offset=".485" stop-color="#b8e7ab"/><stop offset=".53" stop-color="#9eddba"/><stop offset=".561" stop-color="#9bdcbb"/><stop offset=".568" stop-color="#93d6c0"/><stop offset=".576" stop-color="#8fccc5"/><stop offset=".583" stop-color="#91c4c6"/><stop offset=".606" stop-color="#90d3c2"/><stop offset=".636" stop-color="#8fc9c5"/><stop offset=".659" stop-color="#91c4c6"/><stop offset=".727" stop-color="#9ea7c5"/><stop offset=".758" stop-color="#9cabc6"/><stop offset=".811" stop-color="#95bac7"/><stop offset=".902" stop-color="#95bbc7"/><stop offset=".992" stop-color="#9fa3c4"/><stop offset="1" stop-color="#9fa2c3"/></linearGradient><linearGradient id="g3_9" gradientUnits="userSpaceOnUse" x1="0" y1="885" x2="0" y2="1149"><stop offset="0" stop-color="#9fa4c4"/><stop offset=".091" stop-color="#8fcac5"/><stop offset=".121" stop-color="#92d5c1"/><stop offset=".174" stop-color="#ade4b1"/><stop offset=".227" stop-color="#cfec9c"/><stop offset=".273" stop-color="#e3f08f"/><stop offset=".318" stop-color="#ebf18c"/><stop offset=".364" stop-color="#eef18c"/><stop offset=".409" stop-color="#e1ef91"/><stop offset=".432" stop-color="#ddef93"/><stop offset=".477" stop-color="#bbe8a9"/><stop offset=".53" stop-color="#9eddba"/><stop offset=".561" stop-color="#9cdcbb"/><stop offset=".568" stop-color="#96d8be"/><stop offset=".576" stop-color="#8fcfc4"/><stop offset=".583" stop-color="#91c5c6"/><stop offset=".591" stop-color="#90c6c6"/><stop offset=".606" stop-color="#91d4c1"/><stop offset=".636" stop-color="#8fc9c5"/><stop offset=".659" stop-color="#91c5c6"/><stop offset=".697" stop-color="#98b3c6"/><stop offset=".735" stop-color="#9ea6c5"/><stop offset=".811" stop-color="#94bcc7"/><stop offset=".864" stop-color="#94bcc7"/><stop offset=".902" stop-color="#95bbc7"/><stop offset=".977" stop-color="#9ea6c4"/><stop offset="1" stop-color="#9fa2c3"/></linearGradient><linearGradient id="g3_10" gradientUnits="userSpaceOnUse" x1="0" y1="885" x2="0" y2="1149"><stop offset="0" stop-color="#9fa4c4"/><stop offset=".098" stop-color="#8fcbc5"/><stop offset=".129" stop-color="#92d5c0"/><stop offset=".167" stop-color="#a5e1b6"/><stop offset=".235" stop-color="#d2ed9a"/><stop offset=".295" stop-color="#e9f08d"/><stop offset=".364" stop-color="#eff18c"/><stop offset=".409" stop-color="#e2ef90"/><stop offset=".432" stop-color="#e5f08f"/><stop offset=".447" stop-color="#dbee94"/><stop offset=".477" stop-color="#bce8a8"/><stop offset=".53" stop-color="#a0deb9"/><stop offset=".561" stop-color="#9dddba"/><stop offset=".568" stop-color="#99dabd"/><stop offset=".576" stop-color="#90d3c2"/><stop offset=".583" stop-color="#90c8c6"/><stop offset=".591" stop-color="#91c3c6"/><stop offset=".606" stop-color="#90d3c2"/><stop offset=".614" stop-color="#92d5c1"/><stop offset=".636" stop-color="#90c8c6"/><stop offset=".659" stop-color="#90c6c6"/><stop offset=".697" stop-color="#98b2c6"/><stop offset=".742" stop-color="#9caac5"/><stop offset=".811" stop-color="#95bbc7"/><stop offset=".848" stop-color="#94bcc7"/><stop offset=".886" stop-color="#94bdc7"/><stop offset=".947" stop-color="#9cabc5"/><stop offset="1" stop-color="#a0a2c3"/></linearGradient><linearGradient id="g3_11" gradientUnits="userSpaceOnUse" x1="0" y1="885" x2="0" y2="1149"><stop offset="0" stop-color="#9fa4c4"/><stop offset=".098" stop-color="#8fc9c6"/><stop offset=".136" stop-color="#92d5c0"/><stop offset=".174" stop-color="#a5e1b6"/><stop offset=".235" stop-color="#cfec9c"/><stop offset=".288" stop-color="#e6f08e"/><stop offset=".326" stop-color="#eef18c"/><stop offset=".364" stop-color="#eff18c"/><stop offset=".409" stop-color="#e2ef90"/><stop offset=".424" stop-color="#e5f08f"/><stop offset=".439" stop-color="#e9f08d"/><stop offset=".455" stop-color="#ddef93"/><stop offset=".477" stop-color="#c0e9a6"/><stop offset=".523" stop-color="#a4e0b6"/><stop offset=".553" stop-color="#9dddba"/><stop offset=".568" stop-color="#9bdcbb"/><stop offset=".576" stop-color="#95d8bf"/><stop offset=".583" stop-color="#8fcec4"/><stop offset=".591" stop-color="#91c4c6"/><stop offset=".598" stop-color="#92c1c6"/><stop offset=".614" stop-color="#8fd0c3"/><stop offset=".621" stop-color="#90d2c2"/><stop offset=".652" stop-color="#90c6c6"/><stop offset=".682" stop-color="#94bdc7"/><stop offset=".712" stop-color="#9aaec6"/><stop offset=".75" stop-color="#9aaec6"/><stop offset=".803" stop-color="#95bbc7"/><stop offset=".864" stop-color="#92c1c6"/><stop offset=".924" stop-color="#9bacc6"/><stop offset="1" stop-color="#a0a1c3"/></linearGradient><linearGradient id="g3_12" gradientUnits="userSpaceOnUse" x1="0" y1="885" x2="0" y2="1145"><stop offset="0" stop-color="#9fa4c4"/><stop offset=".108" stop-color="#8fcac5"/><stop offset=".146" stop-color="#92d5c1"/><stop offset=".185" stop-color="#a4e0b6"/><stop offset=".223" stop-color="#c1e9a5"/><stop offset=".285" stop-color="#e2ef90"/><stop offset=".338" stop-color="#f0f18c"/><stop offset=".377" stop-color="#eef18c"/><stop offset=".423" stop-color="#deef93"/><stop offset=".438" stop-color="#e5f08f"/><stop offset=".454" stop-color="#ebf18c"/><stop offset=".469" stop-color="#ddef93"/><stop offset=".492" stop-color="#bee9a7"/><stop offset=".531" stop-color="#a4e0b6"/><stop offset=".592" stop-color="#94d7bf"/><stop offset=".6" stop-color="#8fd1c3"/><stop offset=".608" stop-color="#90c7c6"/><stop offset=".615" stop-color="#92c3c6"/><stop offset=".638" stop-color="#8fcec4"/><stop offset=".731" stop-color="#99b1c6"/><stop offset=".769" stop-color="#97b4c6"/><stop offset=".846" stop-color="#92c3c6"/><stop offset=".869" stop-color="#94bdc7"/><stop offset=".915" stop-color="#9bacc6"/><stop offset=".985" stop-color="#a0a2c3"/><stop offset="1" stop-color="#a0a2c3"/></linearGradient><linearGradient id="g3_13" gradientUnits="userSpaceOnUse" x1="0" y1="885" x2="0" y2="1137"><stop offset="0" stop-color="#9fa4c4"/><stop offset=".119" stop-color="#8fcac5"/><stop offset=".159" stop-color="#91d4c1"/><stop offset=".19" stop-color="#9eddba"/><stop offset=".246" stop-color="#c4eaa3"/><stop offset=".302" stop-color="#e2ef90"/><stop offset=".349" stop-color="#f3f28c"/><stop offset=".397" stop-color="#edf18c"/><stop offset=".444" stop-color="#d9ee96"/><stop offset=".46" stop-color="#e1ef91"/><stop offset=".468" stop-color="#e7f08e"/><stop offset=".476" stop-color="#e9f08d"/><stop offset=".492" stop-color="#daee95"/><stop offset=".516" stop-color="#bbe8a9"/><stop offset=".548" stop-color="#a3e0b7"/><stop offset=".611" stop-color="#94d7bf"/><stop offset=".635" stop-color="#8fd1c3"/><stop offset=".651" stop-color="#90c8c6"/><stop offset=".675" stop-color="#8fcbc5"/><stop offset=".714" stop-color="#95bac7"/><stop offset=".762" stop-color="#98b2c6"/><stop offset=".841" stop-color="#92c1c7"/><stop offset=".929" stop-color="#9da9c5"/><stop offset="1" stop-color="#a0a2c3"/></linearGradient><linearGradient id="g3_14" gradientUnits="userSpaceOnUse" x1="0" y1="885" x2="0" y2="1127"><stop offset="0" stop-color="#9fa4c4"/><stop offset=".132" stop-color="#8fcac5"/><stop offset=".182" stop-color="#93d6c0"/><stop offset=".207" stop-color="#9cdcbb"/><stop offset=".256" stop-color="#bee9a7"/><stop offset=".289" stop-color="#cfec9c"/><stop offset=".322" stop-color="#e3f08f"/><stop offset=".364" stop-color="#f3f28c"/><stop offset=".388" stop-color="#f4f28c"/><stop offset=".43" stop-color="#e6f08e"/><stop offset=".463" stop-color="#d5ed99"/><stop offset=".479" stop-color="#d5ed99"/><stop offset=".504" stop-color="#e2ef90"/><stop offset=".521" stop-color="#d6ee98"/><stop offset=".545" stop-color="#b9e7aa"/><stop offset=".579" stop-color="#a0deb9"/><stop offset=".636" stop-color="#91d3c2"/><stop offset=".678" stop-color="#8fd1c3"/><stop offset=".702" stop-color="#90c8c6"/><stop offset=".727" stop-color="#91c4c6"/><stop offset=".769" stop-color="#97b5c7"/><stop offset=".802" stop-color="#97b4c6"/><stop offset=".851" stop-color="#95bbc7"/><stop offset=".95" stop-color="#9ea5c4"/><stop offset="1" stop-color="#a0a2c3"/></linearGradient><linearGradient id="g3_15" gradientUnits="userSpaceOnUse" x1="0" y1="885" x2="0" y2="1117"><stop offset="0" stop-color="#9fa4c4"/><stop offset=".147" stop-color="#8fc9c5"/><stop offset=".198" stop-color="#91d4c1"/><stop offset=".224" stop-color="#9bdcbb"/><stop offset=".267" stop-color="#b6e7ac"/><stop offset=".319" stop-color="#d5ed99"/><stop offset=".345" stop-color="#e3f08f"/><stop offset=".388" stop-color="#f6f28d"/><stop offset=".414" stop-color="#f6f28d"/><stop offset=".448" stop-color="#e7f08e"/><stop offset=".5" stop-color="#ceec9d"/><stop offset=".517" stop-color="#d2ed9a"/><stop offset=".534" stop-color="#d9ee96"/><stop offset=".543" stop-color="#d7ee97"/><stop offset=".595" stop-color="#aae3b3"/><stop offset=".629" stop-color="#97d9bd"/><stop offset=".681" stop-color="#8fcec4"/><stop offset=".733" stop-color="#8fcac5"/><stop offset=".767" stop-color="#94bdc7"/><stop offset=".836" stop-color="#98b2c6"/><stop offset=".897" stop-color="#9aafc6"/><stop offset=".983" stop-color="#9fa3c4"/><stop offset="1" stop-color="#a0a2c3"/></linearGradient><linearGradient id="g3_16" gradientUnits="userSpaceOnUse" x1="0" y1="885" x2="0" y2="1107"><stop offset="0" stop-color="#9fa4c4"/><stop offset=".171" stop-color="#8fcbc5"/><stop offset=".225" stop-color="#92d5c1"/><stop offset=".252" stop-color="#9fdeb9"/><stop offset=".288" stop-color="#b6e7ac"/><stop offset=".333" stop-color="#ceec9d"/><stop offset=".369" stop-color="#e5f08f"/><stop offset=".414" stop-color="#f7f28d"/><stop offset=".432" stop-color="#f9f28f"/><stop offset=".468" stop-color="#eaf08d"/><stop offset=".532" stop-color="#cbec9f"/><stop offset=".55" stop-color="#cdec9e"/><stop offset=".568" stop-color="#d2ed9a"/><stop offset=".586" stop-color="#cbec9f"/><stop offset=".658" stop-color="#9bdcbb"/><stop offset=".703" stop-color="#8fd0c3"/><stop offset=".802" stop-color="#94bdc7"/><stop offset=".829" stop-color="#99b0c6"/><stop offset="1" stop-color="#9fa2c3"/></linearGradient><linearGradient id="g3_17" gradientUnits="userSpaceOnUse" x1="0" y1="885" x2="0" y2="1097"><stop offset="0" stop-color="#9fa3c4"/><stop offset=".189" stop-color="#8fc9c5"/><stop offset=".245" stop-color="#91d3c2"/><stop offset=".274" stop-color="#9dddba"/><stop offset=".311" stop-color="#b5e6ac"/><stop offset=".358" stop-color="#ceec9d"/><stop offset=".396" stop-color="#e5f08f"/><stop offset=".434" stop-color="#f3f28c"/><stop offset=".453" stop-color="#f9f28f"/><stop offset=".472" stop-color="#f7f28d"/><stop offset=".5" stop-color="#e9f08d"/><stop offset=".566" stop-color="#caeb9f"/><stop offset=".594" stop-color="#cdec9e"/><stop offset=".613" stop-color="#ceec9d"/><stop offset=".67" stop-color="#ace3b2"/><stop offset=".708" stop-color="#97d9be"/><stop offset=".755" stop-color="#8fcdc4"/><stop offset=".83" stop-color="#95bbc7"/><stop offset=".887" stop-color="#9aafc6"/><stop offset=".943" stop-color="#9fa4c4"/><stop offset="1" stop-color="#a0a2c3"/></linearGradient><linearGradient id="g3_18" gradientUnits="userSpaceOnUse" x1="0" y1="885" x2="0" y2="1087"><stop offset="0" stop-color="#9fa3c4"/><stop offset=".208" stop-color="#90c8c6"/><stop offset=".277" stop-color="#91d4c1"/><stop offset=".297" stop-color="#9cdcbb"/><stop offset=".337" stop-color="#b6e7ac"/><stop offset=".386" stop-color="#ceec9d"/><stop offset=".416" stop-color="#e1ef91"/><stop offset=".465" stop-color="#f4f28c"/><stop offset=".495" stop-color="#f9f28f"/><stop offset=".525" stop-color="#ebf18c"/><stop offset=".604" stop-color="#caeb9f"/><stop offset=".624" stop-color="#cbec9f"/><stop offset=".653" stop-color="#d1ed9b"/><stop offset=".693" stop-color="#bce8a8"/><stop offset=".743" stop-color="#99dbbc"/><stop offset=".782" stop-color="#90d2c2"/><stop offset=".871" stop-color="#95bac7"/><stop offset=".921" stop-color="#96b7c7"/><stop offset=".97" stop-color="#9fa4c4"/><stop offset="1" stop-color="#a0a2c3"/></linearGradient><linearGradient id="g3_19" gradientUnits="userSpaceOnUse" x1="0" y1="885" x2="0" y2="1079"><stop offset="0" stop-color="#9fa3c4"/><stop offset=".237" stop-color="#8fc9c5"/><stop offset=".299" stop-color="#91d4c1"/><stop offset=".33" stop-color="#a4e0b6"/><stop offset=".371" stop-color="#bce8a8"/><stop offset=".412" stop-color="#d1ed9b"/><stop offset=".443" stop-color="#e2ef90"/><stop offset=".495" stop-color="#f4f28c"/><stop offset=".526" stop-color="#f7f28d"/><stop offset=".546" stop-color="#eef18c"/><stop offset=".598" stop-color="#d9ee96"/><stop offset=".639" stop-color="#cfec9c"/><stop offset=".68" stop-color="#d9ee96"/><stop offset=".701" stop-color="#d2ed9a"/><stop offset=".742" stop-color="#b6e7ac"/><stop offset=".784" stop-color="#9adbbc"/><stop offset=".814" stop-color="#90d3c2"/><stop offset=".897" stop-color="#92c1c6"/><stop offset=".938" stop-color="#93c0c7"/><stop offset=".99" stop-color="#9ea7c5"/><stop offset="1" stop-color="#9ea5c4"/></linearGradient><linearGradient id="g3_20" gradientUnits="userSpaceOnUse" x1="0" y1="885" x2="0" y2="1069"><stop offset="0" stop-color="#9fa3c4"/><stop offset=".261" stop-color="#8fc9c5"/><stop offset=".326" stop-color="#91d4c1"/><stop offset=".348" stop-color="#9fdeb9"/><stop offset=".38" stop-color="#b5e6ac"/><stop offset=".446" stop-color="#d3ed99"/><stop offset=".489" stop-color="#e7f08e"/><stop offset=".543" stop-color="#f7f28d"/><stop offset=".576" stop-color="#f0f18c"/><stop offset=".62" stop-color="#dfef92"/><stop offset=".641" stop-color="#ddef93"/><stop offset=".696" stop-color="#e2ef90"/><stop offset=".717" stop-color="#eaf08d"/><stop offset=".739" stop-color="#e2ef90"/><stop offset=".783" stop-color="#c1e9a5"/><stop offset=".826" stop-color="#a2dfb8"/><stop offset=".859" stop-color="#93d6c0"/><stop offset=".946" stop-color="#8fccc5"/><stop offset="1" stop-color="#94bdc7"/></linearGradient><linearGradient id="g3_21" gradientUnits="userSpaceOnUse" x1="0" y1="885" x2="0" y2="1063"><stop offset="0" stop-color="#9fa3c4"/><stop offset=".281" stop-color="#8fcac5"/><stop offset=".337" stop-color="#90d3c2"/><stop offset=".36" stop-color="#9cdcbb"/><stop offset=".382" stop-color="#afe4b0"/><stop offset=".494" stop-color="#e3f08f"/><stop offset=".562" stop-color="#f4f28c"/><stop offset=".596" stop-color="#f0f18c"/><stop offset=".64" stop-color="#e3f08f"/><stop offset=".663" stop-color="#e7f08e"/><stop offset=".708" stop-color="#f7f28d"/><stop offset=".719" stop-color="#fdf391"/><stop offset=".753" stop-color="#fef392"/><stop offset=".764" stop-color="#fbf38f"/><stop offset=".775" stop-color="#eff18c"/><stop offset=".787" stop-color="#e2ef90"/><stop offset=".82" stop-color="#bbe8a9"/><stop offset=".876" stop-color="#9dddba"/><stop offset=".921" stop-color="#94d7bf"/><stop offset=".966" stop-color="#8fccc5"/><stop offset="1" stop-color="#90c7c6"/></linearGradient><linearGradient id="g3_22" gradientUnits="userSpaceOnUse" x1="0" y1="885" x2="0" y2="1059"><stop offset="0" stop-color="#9fa3c4"/><stop offset=".287" stop-color="#8fcac5"/><stop offset=".345" stop-color="#91d3c2"/><stop offset=".368" stop-color="#9eddba"/><stop offset=".402" stop-color="#b6e7ac"/><stop offset=".506" stop-color="#e3f08f"/><stop offset=".575" stop-color="#f3f28c"/><stop offset=".655" stop-color="#eaf08d"/><stop offset=".678" stop-color="#f4f28c"/><stop offset=".69" stop-color="#fdf391"/><stop offset=".793" stop-color="#fdf391"/><stop offset=".805" stop-color="#e7f08e"/><stop offset=".828" stop-color="#c6eba2"/><stop offset=".874" stop-color="#ace3b2"/><stop offset=".897" stop-color="#9bdcbb"/><stop offset=".943" stop-color="#90d2c2"/><stop offset="1" stop-color="#91c4c6"/></linearGradient><linearGradient id="g3_23" gradientUnits="userSpaceOnUse" x1="0" y1="885" x2="0" y2="1055"><stop offset="0" stop-color="#9fa3c4"/><stop offset=".282" stop-color="#8fcac5"/><stop offset=".341" stop-color="#90d3c2"/><stop offset=".365" stop-color="#9bdcbb"/><stop offset=".4" stop-color="#b5e6ac"/><stop offset=".518" stop-color="#e7f08e"/><stop offset=".588" stop-color="#f2f18c"/><stop offset=".659" stop-color="#f0f18c"/><stop offset=".671" stop-color="#f3f28c"/><stop offset=".694" stop-color="#fef392"/><stop offset=".8" stop-color="#fef392"/><stop offset=".812" stop-color="#f6f28d"/><stop offset=".824" stop-color="#deef93"/><stop offset=".835" stop-color="#cfec9c"/><stop offset=".871" stop-color="#b8e7ab"/><stop offset=".894" stop-color="#9eddba"/><stop offset=".918" stop-color="#93d6c0"/><stop offset=".965" stop-color="#8fcbc5"/><stop offset="1" stop-color="#91c4c6"/></linearGradient><linearGradient id="g3_24" gradientUnits="userSpaceOnUse" x1="0" y1="885" x2="0" y2="1051"><stop offset="0" stop-color="#9fa3c4"/><stop offset=".265" stop-color="#8fc9c5"/><stop offset=".337" stop-color="#91d4c1"/><stop offset=".361" stop-color="#9dddba"/><stop offset=".398" stop-color="#b8e7ab"/><stop offset=".506" stop-color="#e6f08e"/><stop offset=".578" stop-color="#f2f18c"/><stop offset=".675" stop-color="#f6f28d"/><stop offset=".687" stop-color="#fdf391"/><stop offset=".807" stop-color="#fef392"/><stop offset=".819" stop-color="#fbf38f"/><stop offset=".831" stop-color="#e6f08e"/><stop offset=".843" stop-color="#d6ee98"/><stop offset=".88" stop-color="#bae8aa"/><stop offset=".904" stop-color="#a1dfb8"/><stop offset=".928" stop-color="#95d8be"/><stop offset=".952" stop-color="#8fcfc4"/><stop offset=".988" stop-color="#91c3c6"/><stop offset="1" stop-color="#92c1c6"/></linearGradient><linearGradient id="g3_25" gradientUnits="userSpaceOnUse" x1="0" y1="885" x2="0" y2="1051"><stop offset="0" stop-color="#9fa3c4"/><stop offset=".241" stop-color="#8fcac5"/><stop offset=".313" stop-color="#91d4c1"/><stop offset=".337" stop-color="#99dbbc"/><stop offset=".386" stop-color="#bbe8a9"/><stop offset=".494" stop-color="#eaf08d"/><stop offset=".578" stop-color="#f3f28c"/><stop offset=".651" stop-color="#f3f28c"/><stop offset=".675" stop-color="#fdf391"/><stop offset=".795" stop-color="#fef392"/><stop offset=".807" stop-color="#f8f28e"/><stop offset=".819" stop-color="#eaf08d"/><stop offset=".88" stop-color="#b0e4b0"/><stop offset=".892" stop-color="#a3e0b7"/><stop offset=".916" stop-color="#97d9bd"/><stop offset=".952" stop-color="#8fcdc4"/><stop offset=".988" stop-color="#90c7c6"/><stop offset="1" stop-color="#a0a1c3"/></linearGradient><linearGradient id="g3_26" gradientUnits="userSpaceOnUse" x1="0" y1="885" x2="0" y2="1051"><stop offset="0" stop-color="#9fa4c4"/><stop offset=".217" stop-color="#8fcac5"/><stop offset=".289" stop-color="#92d5c1"/><stop offset=".313" stop-color="#99dbbc"/><stop offset=".373" stop-color="#bfe9a7"/><stop offset=".47" stop-color="#eaf08d"/><stop offset=".53" stop-color="#f2f18c"/><stop offset=".639" stop-color="#f0f18c"/><stop offset=".675" stop-color="#fdf391"/><stop offset=".747" stop-color="#fef392"/><stop offset=".795" stop-color="#eff18c"/><stop offset=".819" stop-color="#e5f08f"/><stop offset=".843" stop-color="#cbec9f"/><stop offset=".88" stop-color="#a1dfb8"/><stop offset=".892" stop-color="#97d9be"/><stop offset=".928" stop-color="#90d2c2"/><stop offset=".988" stop-color="#90c8c6"/><stop offset="1" stop-color="#a0a1c3"/></linearGradient><linearGradient id="g3_27" gradientUnits="userSpaceOnUse" x1="0" y1="885" x2="0" y2="1051"><stop offset="0" stop-color="#9fa4c4"/><stop offset=".181" stop-color="#8fc9c6"/><stop offset=".253" stop-color="#92d5c1"/><stop offset=".289" stop-color="#9bdcbb"/><stop offset=".361" stop-color="#c3eaa4"/><stop offset=".458" stop-color="#ebf18c"/><stop offset=".518" stop-color="#f0f18c"/><stop offset=".639" stop-color="#eef18c"/><stop offset=".687" stop-color="#f0f18c"/><stop offset=".723" stop-color="#eef18c"/><stop offset=".771" stop-color="#e3f08f"/><stop offset=".807" stop-color="#e7f08e"/><stop offset=".819" stop-color="#e1ef91"/><stop offset=".831" stop-color="#d2ed9a"/><stop offset=".867" stop-color="#9cdcbb"/><stop offset=".88" stop-color="#93d6c0"/><stop offset=".904" stop-color="#8fccc5"/><stop offset=".94" stop-color="#8fccc5"/><stop offset="1" stop-color="#96b7c7"/></linearGradient><linearGradient id="g3_28" gradientUnits="userSpaceOnUse" x1="0" y1="885" x2="0" y2="1055"><stop offset="0" stop-color="#9fa4c4"/><stop offset=".165" stop-color="#8fcbc5"/><stop offset=".224" stop-color="#94d7bf"/><stop offset=".271" stop-color="#a2dfb8"/><stop offset=".353" stop-color="#c9eba0"/><stop offset=".424" stop-color="#e7f08e"/><stop offset=".459" stop-color="#eef18c"/><stop offset=".576" stop-color="#e9f08d"/><stop offset=".659" stop-color="#e2ef90"/><stop offset=".729" stop-color="#d7ee97"/><stop offset=".753" stop-color="#dbee94"/><stop offset=".776" stop-color="#e6f08e"/><stop offset=".788" stop-color="#e2ef90"/><stop offset=".8" stop-color="#d5ed99"/><stop offset=".824" stop-color="#ace3b2"/><stop offset=".835" stop-color="#9cdcbb"/><stop offset=".847" stop-color="#92d5c0"/><stop offset=".871" stop-color="#8fc9c6"/><stop offset=".906" stop-color="#91c4c6"/><stop offset=".929" stop-color="#92c2c6"/><stop offset=".976" stop-color="#9caac5"/><stop offset="1" stop-color="#9fa4c4"/></linearGradient><linearGradient id="g3_29" gradientUnits="userSpaceOnUse" x1="0" y1="885" x2="0" y2="1057"><stop offset="0" stop-color="#9ea5c4"/><stop offset=".14" stop-color="#8fcac5"/><stop offset=".186" stop-color="#92d5c1"/><stop offset=".279" stop-color="#b0e4b0"/><stop offset=".407" stop-color="#e6f08e"/><stop offset=".465" stop-color="#ebf18c"/><stop offset=".558" stop-color="#e6f08e"/><stop offset=".709" stop-color="#ceec9d"/><stop offset=".733" stop-color="#d1ed9b"/><stop offset=".756" stop-color="#dbee94"/><stop offset=".767" stop-color="#ddef93"/><stop offset=".779" stop-color="#d3ed99"/><stop offset=".814" stop-color="#9dddba"/><stop offset=".826" stop-color="#93d6c0"/><stop offset=".837" stop-color="#8fcfc4"/><stop offset=".872" stop-color="#92c2c6"/><stop offset=".919" stop-color="#94bdc7"/><stop offset=".965" stop-color="#9da8c5"/><stop offset="1" stop-color="#9fa2c3"/></linearGradient><linearGradient id="g3_30" gradientUnits="userSpaceOnUse" x1="0" y1="885" x2="0" y2="1061"><stop offset="0" stop-color="#9ea5c4"/><stop offset=".125" stop-color="#8fcbc5"/><stop offset=".17" stop-color="#94d7bf"/><stop offset=".239" stop-color="#abe3b2"/><stop offset=".284" stop-color="#bae8aa"/><stop offset=".386" stop-color="#e2ef90"/><stop offset=".466" stop-color="#eaf08d"/><stop offset=".545" stop-color="#e2ef90"/><stop offset=".602" stop-color="#d7ee97"/><stop offset=".693" stop-color="#c6eba2"/><stop offset=".716" stop-color="#c9eba0"/><stop offset=".739" stop-color="#d1ed9b"/><stop offset=".75" stop-color="#caeb9f"/><stop offset=".784" stop-color="#9fdeb9"/><stop offset=".795" stop-color="#95d8bf"/><stop offset=".807" stop-color="#8fd1c3"/><stop offset=".852" stop-color="#93c0c7"/><stop offset=".909" stop-color="#97b6c7"/><stop offset=".966" stop-color="#9fa4c4"/><stop offset="1" stop-color="#a0a2c3"/></linearGradient><linearGradient id="g3_31" gradientUnits="userSpaceOnUse" x1="0" y1="885" x2="0" y2="1067"><stop offset="0" stop-color="#9ea5c4"/><stop offset=".11" stop-color="#8fcbc5"/><stop offset=".143" stop-color="#92d5c1"/><stop offset=".209" stop-color="#ade4b1"/><stop offset=".253" stop-color="#b5e6ac"/><stop offset=".363" stop-color="#dfef92"/><stop offset=".44" stop-color="#e9f08d"/><stop offset=".549" stop-color="#ddef93"/><stop offset=".67" stop-color="#bfe9a7"/><stop offset=".703" stop-color="#c1e9a5"/><stop offset=".714" stop-color="#bfe9a7"/><stop offset=".758" stop-color="#97d9be"/><stop offset=".78" stop-color="#8fcec4"/><stop offset=".824" stop-color="#93bec7"/><stop offset=".956" stop-color="#9fa3c4"/><stop offset="1" stop-color="#a0a1c3"/></linearGradient><linearGradient id="g3_32" gradientUnits="userSpaceOnUse" x1="0" y1="885" x2="0" y2="1071"><stop offset="0" stop-color="#9ea5c4"/><stop offset=".097" stop-color="#8fcac5"/><stop offset=".129" stop-color="#92d5c1"/><stop offset=".194" stop-color="#b1e5af"/><stop offset=".237" stop-color="#b4e6ad"/><stop offset=".355" stop-color="#deef93"/><stop offset=".419" stop-color="#e7f08e"/><stop offset=".505" stop-color="#e1ef91"/><stop offset=".548" stop-color="#daee95"/><stop offset=".602" stop-color="#cbec9f"/><stop offset=".656" stop-color="#b8e7ab"/><stop offset=".688" stop-color="#b3e6ae"/><stop offset=".742" stop-color="#93d6c0"/><stop offset=".763" stop-color="#8fccc5"/><stop offset=".839" stop-color="#97b5c7"/><stop offset=".946" stop-color="#9fa4c4"/><stop offset="1" stop-color="#a0a1c3"/></linearGradient><linearGradient id="g3_33" gradientUnits="userSpaceOnUse" x1="0" y1="885" x2="0" y2="1079"><stop offset="0" stop-color="#9ea6c4"/><stop offset=".093" stop-color="#8fccc5"/><stop offset=".124" stop-color="#95d8be"/><stop offset=".175" stop-color="#b4e6ad"/><stop offset=".216" stop-color="#b3e6ae"/><stop offset=".32" stop-color="#d7ee97"/><stop offset=".392" stop-color="#e7f08e"/><stop offset=".474" stop-color="#e2ef90"/><stop offset=".515" stop-color="#deef93"/><stop offset=".567" stop-color="#cfec9c"/><stop offset=".639" stop-color="#ade4b1"/><stop offset=".701" stop-color="#94d7bf"/><stop offset=".732" stop-color="#8fcbc5"/><stop offset=".835" stop-color="#9bacc6"/><stop offset=".99" stop-color="#a0a1c3"/><stop offset="1" stop-color="#a0a1c3"/></linearGradient><linearGradient id="g3_34" gradientUnits="userSpaceOnUse" x1="0" y1="885" x2="0" y2="1085"><stop offset="0" stop-color="#9ea6c4"/><stop offset=".08" stop-color="#8fc9c5"/><stop offset=".11" stop-color="#93d6c0"/><stop offset=".16" stop-color="#b5e6ac"/><stop offset=".18" stop-color="#b8e7ab"/><stop offset=".2" stop-color="#b3e6ae"/><stop offset=".23" stop-color="#bce8a8"/><stop offset=".3" stop-color="#d3ed99"/><stop offset=".38" stop-color="#e7f08e"/><stop offset=".44" stop-color="#e5f08f"/><stop offset=".5" stop-color="#dfef92"/><stop offset=".54" stop-color="#d3ed99"/><stop offset=".62" stop-color="#a6e1b5"/><stop offset=".68" stop-color="#91d4c1"/><stop offset=".72" stop-color="#91c5c6"/><stop offset=".81" stop-color="#9cabc6"/><stop offset="1" stop-color="#a0a1c3"/></linearGradient><linearGradient id="g3_35" gradientUnits="userSpaceOnUse" x1="0" y1="885" x2="0" y2="1091"><stop offset="0" stop-color="#9ea6c4"/><stop offset=".078" stop-color="#8fcbc5"/><stop offset=".107" stop-color="#95d8bf"/><stop offset=".155" stop-color="#b9e7aa"/><stop offset=".175" stop-color="#b9e7aa"/><stop offset=".194" stop-color="#b4e6ad"/><stop offset=".272" stop-color="#ceec9d"/><stop offset=".34" stop-color="#e1ef91"/><stop offset=".369" stop-color="#e9f08d"/><stop offset=".456" stop-color="#e2ef90"/><stop offset=".485" stop-color="#e1ef91"/><stop offset=".524" stop-color="#d5ed99"/><stop offset=".602" stop-color="#a1dfb8"/><stop offset=".65" stop-color="#91d4c1"/><stop offset=".689" stop-color="#90c8c6"/><stop offset=".786" stop-color="#9caac5"/><stop offset="1" stop-color="#a0a1c3"/></linearGradient><linearGradient id="g3_36" gradientUnits="userSpaceOnUse" x1="0" y1="885" x2="0" y2="1097"><stop offset="0" stop-color="#9ea6c4"/><stop offset=".075" stop-color="#8fcbc5"/><stop offset=".094" stop-color="#91d4c1"/><stop offset=".123" stop-color="#a4e0b6"/><stop offset=".142" stop-color="#b5e6ac"/><stop offset=".16" stop-color="#bbe8a9"/><stop offset=".189" stop-color="#b5e6ac"/><stop offset=".264" stop-color="#cfec9c"/><stop offset=".33" stop-color="#e1ef91"/><stop offset=".358" stop-color="#e9f08d"/><stop offset=".434" stop-color="#e2ef90"/><stop offset=".472" stop-color="#e1ef91"/><stop offset=".509" stop-color="#d6ee98"/><stop offset=".575" stop-color="#a3e0b7"/><stop offset=".604" stop-color="#96d8be"/><stop offset=".66" stop-color="#8fcbc5"/><stop offset=".764" stop-color="#9caac5"/><stop offset="1" stop-color="#a0a1c3"/></linearGradient><linearGradient id="g3_37" gradientUnits="userSpaceOnUse" x1="0" y1="885" x2="0" y2="1103"><stop offset="0" stop-color="#9ea6c4"/><stop offset=".073" stop-color="#8fcbc5"/><stop offset=".092" stop-color="#91d4c1"/><stop offset=".119" stop-color="#a4e0b6"/><stop offset=".147" stop-color="#bbe8a9"/><stop offset=".165" stop-color="#bae8aa"/><stop offset=".183" stop-color="#b5e6ac"/><stop offset=".248" stop-color="#ceec9d"/><stop offset=".312" stop-color="#deef93"/><stop offset=".349" stop-color="#e9f08d"/><stop offset=".422" stop-color="#e2ef90"/><stop offset=".459" stop-color="#e1ef91"/><stop offset=".495" stop-color="#d7ee97"/><stop offset=".569" stop-color="#9cdcbb"/><stop offset=".606" stop-color="#91d4c1"/><stop offset=".661" stop-color="#91c5c6"/><stop offset=".743" stop-color="#9cabc5"/><stop offset=".982" stop-color="#a0a1c3"/><stop offset="1" stop-color="#a0a1c3"/></linearGradient><linearGradient id="g3_38" gradientUnits="userSpaceOnUse" x1="0" y1="885" x2="0" y2="1109"><stop offset="0" stop-color="#9ea6c4"/><stop offset=".071" stop-color="#8fcbc5"/><stop offset=".089" stop-color="#91d4c1"/><stop offset=".116" stop-color="#a3e0b7"/><stop offset=".143" stop-color="#bae8aa"/><stop offset=".179" stop-color="#b6e7ac"/><stop offset=".232" stop-color="#cdec9e"/><stop offset=".304" stop-color="#deef93"/><stop offset=".339" stop-color="#e9f08d"/><stop offset=".411" stop-color="#e1ef91"/><stop offset=".446" stop-color="#dfef92"/><stop offset=".473" stop-color="#ddef93"/><stop offset=".491" stop-color="#d2ed9a"/><stop offset=".536" stop-color="#a9e2b3"/><stop offset=".571" stop-color="#95d8be"/><stop offset=".616" stop-color="#8fcdc4"/><stop offset=".714" stop-color="#99b1c6"/><stop offset=".759" stop-color="#9ea6c5"/><stop offset="1" stop-color="#a0a1c3"/></linearGradient><linearGradient id="g3_39" gradientUnits="userSpaceOnUse" x1="0" y1="885" x2="0" y2="1117"><stop offset="0" stop-color="#9ea6c4"/><stop offset=".069" stop-color="#8fcac5"/><stop offset=".095" stop-color="#94d7bf"/><stop offset=".138" stop-color="#b8e7ab"/><stop offset=".155" stop-color="#bae8aa"/><stop offset=".172" stop-color="#b8e7ab"/><stop offset=".224" stop-color="#ceec9d"/><stop offset=".328" stop-color="#e7f08e"/><stop offset=".457" stop-color="#deef93"/><stop offset=".474" stop-color="#d3ed99"/><stop offset=".517" stop-color="#aae3b3"/><stop offset=".56" stop-color="#94d7bf"/><stop offset=".603" stop-color="#8fccc5"/><stop offset=".672" stop-color="#95b9c7"/><stop offset=".707" stop-color="#9da8c5"/><stop offset=".793" stop-color="#9caac5"/><stop offset="1" stop-color="#a0a1c3"/></linearGradient><linearGradient id="g3_40" gradientUnits="userSpaceOnUse" x1="0" y1="885" x2="0" y2="1121"><stop offset="0" stop-color="#9ea6c4"/><stop offset=".068" stop-color="#8fc9c6"/><stop offset=".093" stop-color="#92d5c0"/><stop offset=".136" stop-color="#b3e6ae"/><stop offset=".153" stop-color="#b9e7aa"/><stop offset=".178" stop-color="#bae8aa"/><stop offset=".229" stop-color="#d2ed9a"/><stop offset=".322" stop-color="#e6f08e"/><stop offset=".373" stop-color="#e5f08f"/><stop offset=".432" stop-color="#dbee94"/><stop offset=".458" stop-color="#dbee94"/><stop offset=".483" stop-color="#c1e9a5"/><stop offset=".5" stop-color="#b1e5af"/><stop offset=".568" stop-color="#91d3c2"/><stop offset=".636" stop-color="#90c6c6"/><stop offset=".661" stop-color="#96b9c7"/><stop offset=".678" stop-color="#9bacc6"/><stop offset=".695" stop-color="#9badc6"/><stop offset=".72" stop-color="#98b2c6"/><stop offset=".771" stop-color="#9da8c5"/><stop offset=".881" stop-color="#9da8c5"/><stop offset="1" stop-color="#a0a1c3"/></linearGradient><linearGradient id="g3_41" gradientUnits="userSpaceOnUse" x1="0" y1="885" x2="0" y2="1127"><stop offset="0" stop-color="#9ea5c4"/><stop offset=".074" stop-color="#8fcbc5"/><stop offset=".099" stop-color="#94d7bf"/><stop offset=".14" stop-color="#b3e6ae"/><stop offset=".182" stop-color="#bee9a7"/><stop offset=".223" stop-color="#d3ed99"/><stop offset=".281" stop-color="#e1ef91"/><stop offset=".372" stop-color="#e5f08f"/><stop offset=".421" stop-color="#daee95"/><stop offset=".446" stop-color="#dbee94"/><stop offset=".463" stop-color="#cdec9e"/><stop offset=".488" stop-color="#b0e4b0"/><stop offset=".529" stop-color="#a2dfb7"/><stop offset=".562" stop-color="#90d3c2"/><stop offset=".612" stop-color="#8fcdc4"/><stop offset=".628" stop-color="#90c6c6"/><stop offset=".653" stop-color="#99b1c6"/><stop offset=".678" stop-color="#96b9c7"/><stop offset=".727" stop-color="#9badc6"/><stop offset=".86" stop-color="#9cabc5"/><stop offset="1" stop-color="#a0a1c3"/></linearGradient><linearGradient id="g3_42" gradientUnits="userSpaceOnUse" x1="0" y1="885" x2="0" y2="1133"><stop offset="0" stop-color="#9ea5c4"/><stop offset=".073" stop-color="#8fcac5"/><stop offset=".097" stop-color="#92d5c1"/><stop offset=".121" stop-color="#a2dfb8"/><stop offset=".145" stop-color="#b3e6ae"/><stop offset=".177" stop-color="#bce8a8"/><stop offset=".218" stop-color="#d3ed99"/><stop offset=".274" stop-color="#e3f08f"/><stop offset=".331" stop-color="#e2ef90"/><stop offset=".355" stop-color="#e7f08e"/><stop offset=".411" stop-color="#d7ee97"/><stop offset=".435" stop-color="#daee95"/><stop offset=".444" stop-color="#d7ee97"/><stop offset=".476" stop-color="#b2e5ae"/><stop offset=".492" stop-color="#aae3b3"/><stop offset=".516" stop-color="#aae3b3"/><stop offset=".548" stop-color="#92d5c0"/><stop offset=".573" stop-color="#90d3c2"/><stop offset=".597" stop-color="#90d3c2"/><stop offset=".613" stop-color="#90c8c6"/><stop offset=".629" stop-color="#96b7c7"/><stop offset=".653" stop-color="#94bdc7"/><stop offset=".734" stop-color="#9da9c5"/><stop offset=".806" stop-color="#99b1c6"/><stop offset=".992" stop-color="#a0a1c3"/><stop offset="1" stop-color="#a0a1c3"/></linearGradient><linearGradient id="g3_43" gradientUnits="userSpaceOnUse" x1="0" y1="885" x2="0" y2="1137"><stop offset="0" stop-color="#9ea5c4"/><stop offset=".079" stop-color="#8fcbc5"/><stop offset=".103" stop-color="#93d6c0"/><stop offset=".151" stop-color="#b2e5ae"/><stop offset=".183" stop-color="#c0e9a6"/><stop offset=".222" stop-color="#d6ee98"/><stop offset=".262" stop-color="#e3f08f"/><stop offset=".286" stop-color="#e3f08f"/><stop offset=".317" stop-color="#deef93"/><stop offset=".357" stop-color="#e7f08e"/><stop offset=".389" stop-color="#dbee94"/><stop offset=".413" stop-color="#d3ed99"/><stop offset=".437" stop-color="#d6ee98"/><stop offset=".444" stop-color="#d2ed9a"/><stop offset=".468" stop-color="#b5e6ac"/><stop offset=".484" stop-color="#ace3b2"/><stop offset=".508" stop-color="#b3e6ae"/><stop offset=".516" stop-color="#b0e4b0"/><stop offset=".54" stop-color="#96d8be"/><stop offset=".563" stop-color="#93d6c0"/><stop offset=".587" stop-color="#95d8be"/><stop offset=".595" stop-color="#90d3c2"/><stop offset=".603" stop-color="#8fc9c6"/><stop offset=".611" stop-color="#93bec7"/><stop offset=".619" stop-color="#94bcc7"/><stop offset=".635" stop-color="#92c1c6"/><stop offset=".683" stop-color="#9aafc6"/><stop offset=".706" stop-color="#9da8c5"/><stop offset=".77" stop-color="#9badc6"/><stop offset=".81" stop-color="#97b5c6"/><stop offset=".968" stop-color="#a0a2c3"/><stop offset="1" stop-color="#a0a1c3"/></linearGradient><linearGradient id="g3_44" gradientUnits="userSpaceOnUse" x1="0" y1="885" x2="0" y2="1141"><stop offset="0" stop-color="#9ea5c4"/><stop offset=".078" stop-color="#8fc9c5"/><stop offset=".102" stop-color="#91d3c2"/><stop offset=".133" stop-color="#a2dfb8"/><stop offset=".227" stop-color="#d9ee96"/><stop offset=".266" stop-color="#e6f08e"/><stop offset=".281" stop-color="#e5f08f"/><stop offset=".305" stop-color="#ddef93"/><stop offset=".328" stop-color="#deef93"/><stop offset=".352" stop-color="#e7f08e"/><stop offset=".367" stop-color="#e5f08f"/><stop offset=".406" stop-color="#d1ed9b"/><stop offset=".438" stop-color="#d2ed9a"/><stop offset=".477" stop-color="#b3e6ae"/><stop offset=".492" stop-color="#b6e7ac"/><stop offset=".5" stop-color="#bae8aa"/><stop offset=".508" stop-color="#b9e7aa"/><stop offset=".523" stop-color="#a7e1b4"/><stop offset=".531" stop-color="#9cdcbb"/><stop offset=".547" stop-color="#95d8bf"/><stop offset=".57" stop-color="#9fdeb9"/><stop offset=".578" stop-color="#9dddba"/><stop offset=".586" stop-color="#93d6c0"/><stop offset=".594" stop-color="#8fc9c5"/><stop offset=".602" stop-color="#93c0c7"/><stop offset=".625" stop-color="#91c4c6"/><stop offset=".68" stop-color="#9aaec6"/><stop offset=".766" stop-color="#9badc6"/><stop offset=".82" stop-color="#97b6c7"/><stop offset=".969" stop-color="#a0a2c3"/><stop offset="1" stop-color="#a0a1c3"/></linearGradient><linearGradient id="g3_45" gradientUnits="userSpaceOnUse" x1="0" y1="885" x2="0" y2="1143"><stop offset="0" stop-color="#9ea5c4"/><stop offset=".085" stop-color="#8fcbc5"/><stop offset=".109" stop-color="#91d4c1"/><stop offset=".171" stop-color="#b4e6ad"/><stop offset=".225" stop-color="#d6ee98"/><stop offset=".271" stop-color="#e7f08e"/><stop offset=".31" stop-color="#daee95"/><stop offset=".333" stop-color="#deef93"/><stop offset=".357" stop-color="#e7f08e"/><stop offset=".372" stop-color="#e3f08f"/><stop offset=".403" stop-color="#cfec9c"/><stop offset=".426" stop-color="#ceec9d"/><stop offset=".45" stop-color="#c9eba0"/><stop offset=".481" stop-color="#bee9a7"/><stop offset=".504" stop-color="#c3eaa4"/><stop offset=".519" stop-color="#b2e5ae"/><stop offset=".535" stop-color="#9cdcbb"/><stop offset=".543" stop-color="#99dabd"/><stop offset=".558" stop-color="#a1dfb8"/><stop offset=".566" stop-color="#a7e1b4"/><stop offset=".574" stop-color="#a4e0b6"/><stop offset=".581" stop-color="#96d8be"/><stop offset=".589" stop-color="#8fcbc5"/><stop offset=".597" stop-color="#93c0c7"/><stop offset=".62" stop-color="#91c4c6"/><stop offset=".674" stop-color="#98b2c6"/><stop offset=".705" stop-color="#9caac5"/><stop offset=".729" stop-color="#9ea6c4"/><stop offset=".767" stop-color="#9aafc6"/><stop offset=".829" stop-color="#97b5c6"/><stop offset=".984" stop-color="#a0a1c3"/><stop offset="1" stop-color="#a0a1c3"/></linearGradient><linearGradient id="g3_46" gradientUnits="userSpaceOnUse" x1="0" y1="885" x2="0" y2="1147"><stop offset="0" stop-color="#9ea5c4"/><stop offset=".092" stop-color="#8fccc5"/><stop offset=".122" stop-color="#94d7bf"/><stop offset=".198" stop-color="#c4eaa3"/><stop offset=".26" stop-color="#e5f08f"/><stop offset=".275" stop-color="#e6f08e"/><stop offset=".313" stop-color="#d9ee96"/><stop offset=".336" stop-color="#ddef93"/><stop offset=".351" stop-color="#e5f08f"/><stop offset=".366" stop-color="#e5f08f"/><stop offset=".405" stop-color="#cdec9e"/><stop offset=".45" stop-color="#c8eba1"/><stop offset=".481" stop-color="#cfec9c"/><stop offset=".496" stop-color="#cdec9e"/><stop offset=".504" stop-color="#c8eba1"/><stop offset=".527" stop-color="#a3e0b7"/><stop offset=".534" stop-color="#9dddba"/><stop offset=".542" stop-color="#9cdcbb"/><stop offset=".557" stop-color="#a7e1b4"/><stop offset=".565" stop-color="#a7e1b4"/><stop offset=".573" stop-color="#9cdcbb"/><stop offset=".58" stop-color="#8fd0c3"/><stop offset=".588" stop-color="#91c3c6"/><stop offset=".595" stop-color="#93bfc7"/><stop offset=".611" stop-color="#91c3c6"/><stop offset=".695" stop-color="#9bacc6"/><stop offset=".718" stop-color="#9ea5c4"/><stop offset=".763" stop-color="#9aaec6"/><stop offset=".824" stop-color="#98b4c6"/><stop offset=".985" stop-color="#a0a1c3"/><stop offset="1" stop-color="#a0a1c3"/></linearGradient><linearGradient id="g3_47" gradientUnits="userSpaceOnUse" x1="0" y1="885" x2="0" y2="1149"><stop offset="0" stop-color="#9fa4c4"/><stop offset=".091" stop-color="#8fcac5"/><stop offset=".121" stop-color="#92d5c1"/><stop offset=".167" stop-color="#a9e2b3"/><stop offset=".227" stop-color="#d1ed9b"/><stop offset=".265" stop-color="#e3f08f"/><stop offset=".288" stop-color="#e2ef90"/><stop offset=".311" stop-color="#d9ee96"/><stop offset=".333" stop-color="#d9ee96"/><stop offset=".364" stop-color="#e5f08f"/><stop offset=".409" stop-color="#c9eba0"/><stop offset=".447" stop-color="#c4eaa3"/><stop offset=".455" stop-color="#c6eba2"/><stop offset=".477" stop-color="#e1ef91"/><stop offset=".485" stop-color="#e3f08f"/><stop offset=".5" stop-color="#d5ed99"/><stop offset=".523" stop-color="#abe3b2"/><stop offset=".53" stop-color="#a2dfb8"/><stop offset=".545" stop-color="#9cdcbb"/><stop offset=".561" stop-color="#a0deb9"/><stop offset=".568" stop-color="#9dddba"/><stop offset=".576" stop-color="#95d8bf"/><stop offset=".583" stop-color="#8fcdc4"/><stop offset=".591" stop-color="#92c3c6"/><stop offset=".598" stop-color="#93bec7"/><stop offset=".621" stop-color="#93c0c7"/><stop offset=".697" stop-color="#9badc6"/><stop offset=".773" stop-color="#9bacc6"/><stop offset=".818" stop-color="#98b4c6"/><stop offset=".924" stop-color="#9ea6c4"/><stop offset="1" stop-color="#a0a1c3"/></linearGradient><linearGradient id="g3_48" gradientUnits="userSpaceOnUse" x1="0" y1="885" x2="0" y2="1149"><stop offset="0" stop-color="#9fa4c4"/><stop offset=".098" stop-color="#8fcbc5"/><stop offset=".136" stop-color="#94d7bf"/><stop offset=".182" stop-color="#ade4b1"/><stop offset=".242" stop-color="#d3ed99"/><stop offset=".28" stop-color="#e2ef90"/><stop offset=".326" stop-color="#d6ee98"/><stop offset=".341" stop-color="#d7ee97"/><stop offset=".364" stop-color="#e2ef90"/><stop offset=".386" stop-color="#daee95"/><stop offset=".424" stop-color="#c3eaa4"/><stop offset=".455" stop-color="#bfe9a7"/><stop offset=".462" stop-color="#c4eaa3"/><stop offset=".47" stop-color="#cfec9c"/><stop offset=".477" stop-color="#e1ef91"/><stop offset=".485" stop-color="#eef18c"/><stop offset=".492" stop-color="#f0f18c"/><stop offset=".5" stop-color="#e6f08e"/><stop offset=".515" stop-color="#c3eaa4"/><stop offset=".53" stop-color="#a7e1b4"/><stop offset=".545" stop-color="#99dbbc"/><stop offset=".583" stop-color="#91d3c2"/><stop offset=".598" stop-color="#90c7c6"/><stop offset=".606" stop-color="#93c0c7"/><stop offset=".621" stop-color="#93bec7"/><stop offset=".644" stop-color="#94bcc7"/><stop offset=".72" stop-color="#9da9c5"/><stop offset=".765" stop-color="#9cabc5"/><stop offset=".803" stop-color="#98b2c6"/><stop offset=".939" stop-color="#9fa4c4"/><stop offset="1" stop-color="#a0a1c3"/></linearGradient><linearGradient id="g3_49" gradientUnits="userSpaceOnUse" x1="0" y1="885" x2="0" y2="1149"><stop offset="0" stop-color="#9fa4c4"/><stop offset=".106" stop-color="#8fcbc5"/><stop offset=".144" stop-color="#94d7bf"/><stop offset=".189" stop-color="#ade4b1"/><stop offset=".25" stop-color="#d1ed9b"/><stop offset=".28" stop-color="#deef93"/><stop offset=".295" stop-color="#deef93"/><stop offset=".326" stop-color="#d5ed99"/><stop offset=".348" stop-color="#d6ee98"/><stop offset=".371" stop-color="#deef93"/><stop offset=".386" stop-color="#daee95"/><stop offset=".439" stop-color="#bee9a7"/><stop offset=".462" stop-color="#b9e7aa"/><stop offset=".47" stop-color="#bfe9a7"/><stop offset=".477" stop-color="#cdec9e"/><stop offset=".485" stop-color="#e1ef91"/><stop offset=".492" stop-color="#f0f18c"/><stop offset=".5" stop-color="#f3f28c"/><stop offset=".508" stop-color="#e6f08e"/><stop offset=".523" stop-color="#bee9a7"/><stop offset=".53" stop-color="#afe4b0"/><stop offset=".545" stop-color="#9cdcbb"/><stop offset=".568" stop-color="#91d4c1"/><stop offset=".614" stop-color="#90c6c6"/><stop offset=".629" stop-color="#95bbc7"/><stop offset=".667" stop-color="#95b9c7"/><stop offset=".742" stop-color="#9bacc6"/><stop offset=".811" stop-color="#9aaec6"/><stop offset=".932" stop-color="#9fa4c4"/><stop offset="1" stop-color="#a0a1c3"/></linearGradient><linearGradient id="g3_50" gradientUnits="userSpaceOnUse" x1="0" y1="885" x2="0" y2="1149"><stop offset="0" stop-color="#9fa4c4"/><stop offset=".106" stop-color="#8fcac5"/><stop offset=".144" stop-color="#92d5c0"/><stop offset=".174" stop-color="#9eddba"/><stop offset=".235" stop-color="#c4eaa3"/><stop offset=".288" stop-color="#dbee94"/><stop offset=".348" stop-color="#d3ed99"/><stop offset=".379" stop-color="#daee95"/><stop offset=".394" stop-color="#d6ee98"/><stop offset=".462" stop-color="#b4e6ad"/><stop offset=".477" stop-color="#b8e7ab"/><stop offset=".485" stop-color="#c4eaa3"/><stop offset=".5" stop-color="#e7f08e"/><stop offset=".508" stop-color="#ebf18c"/><stop offset=".515" stop-color="#dfef92"/><stop offset=".53" stop-color="#b9e7aa"/><stop offset=".538" stop-color="#aae3b3"/><stop offset=".553" stop-color="#9adbbc"/><stop offset=".576" stop-color="#90d3c2"/><stop offset=".636" stop-color="#92c1c7"/><stop offset=".659" stop-color="#97b5c6"/><stop offset=".697" stop-color="#97b5c7"/><stop offset=".758" stop-color="#9badc6"/><stop offset=".848" stop-color="#9da9c5"/><stop offset="1" stop-color="#a0a1c3"/></linearGradient><linearGradient id="g3_51" gradientUnits="userSpaceOnUse" x1="0" y1="885" x2="0" y2="1149"><stop offset="0" stop-color="#9fa4c4"/><stop offset=".114" stop-color="#8fcac5"/><stop offset=".152" stop-color="#92d5c0"/><stop offset=".182" stop-color="#9eddba"/><stop offset=".242" stop-color="#c3eaa4"/><stop offset=".288" stop-color="#d6ee98"/><stop offset=".311" stop-color="#d7ee97"/><stop offset=".348" stop-color="#d2ed9a"/><stop offset=".386" stop-color="#d6ee98"/><stop offset=".432" stop-color="#c4eaa3"/><stop offset=".477" stop-color="#afe4b0"/><stop offset=".485" stop-color="#b1e5af"/><stop offset=".492" stop-color="#b9e7aa"/><stop offset=".508" stop-color="#d6ee98"/><stop offset=".515" stop-color="#daee95"/><stop offset=".523" stop-color="#d3ed99"/><stop offset=".538" stop-color="#b2e5ae"/><stop offset=".545" stop-color="#a5e1b6"/><stop offset=".561" stop-color="#98dabd"/><stop offset=".591" stop-color="#8fcfc4"/><stop offset=".659" stop-color="#94bdc7"/><stop offset=".689" stop-color="#9aafc6"/><stop offset=".803" stop-color="#9cabc5"/><stop offset="1" stop-color="#a0a1c3"/></linearGradient><linearGradient id="g3_52" gradientUnits="userSpaceOnUse" x1="0" y1="885" x2="0" y2="1149"><stop offset="0" stop-color="#9fa4c4"/><stop offset=".114" stop-color="#8fc9c6"/><stop offset=".159" stop-color="#92d5c0"/><stop offset=".189" stop-color="#9fdeb9"/><stop offset=".242" stop-color="#bfe9a7"/><stop offset=".295" stop-color="#d2ed9a"/><stop offset=".318" stop-color="#d3ed99"/><stop offset=".379" stop-color="#d2ed9a"/><stop offset=".402" stop-color="#cfec9c"/><stop offset=".447" stop-color="#bfe9a7"/><stop offset=".485" stop-color="#a9e2b3"/><stop offset=".5" stop-color="#ade4b1"/><stop offset=".515" stop-color="#bfe9a7"/><stop offset=".523" stop-color="#c4eaa3"/><stop offset=".53" stop-color="#c0e9a6"/><stop offset=".553" stop-color="#a1dfb8"/><stop offset=".576" stop-color="#93d6c0"/><stop offset=".614" stop-color="#8fcac5"/><stop offset=".758" stop-color="#9da8c5"/><stop offset=".879" stop-color="#9ea5c4"/><stop offset="1" stop-color="#a0a2c3"/></linearGradient><linearGradient id="g3_53" gradientUnits="userSpaceOnUse" x1="0" y1="885" x2="0" y2="1149"><stop offset="0" stop-color="#9fa4c4"/><stop offset=".121" stop-color="#8fcac5"/><stop offset=".167" stop-color="#93d6c0"/><stop offset=".197" stop-color="#a1dfb8"/><stop offset=".242" stop-color="#bbe8a9"/><stop offset=".311" stop-color="#d1ed9b"/><stop offset=".409" stop-color="#cbec9f"/><stop offset=".447" stop-color="#c1e9a5"/><stop offset=".492" stop-color="#a4e0b6"/><stop offset=".508" stop-color="#a3e0b7"/><stop offset=".53" stop-color="#ade4b1"/><stop offset=".553" stop-color="#a1dfb8"/><stop offset=".576" stop-color="#93d6c0"/><stop offset=".614" stop-color="#8fcbc5"/><stop offset=".712" stop-color="#97b5c6"/><stop offset=".848" stop-color="#9cabc6"/><stop offset=".97" stop-color="#9ea7c5"/><stop offset="1" stop-color="#9fa2c3"/></linearGradient><linearGradient id="g3_54" gradientUnits="userSpaceOnUse" x1="0" y1="885" x2="0" y2="1149"><stop offset="0" stop-color="#9fa4c4"/><stop offset=".129" stop-color="#8fcbc5"/><stop offset=".174" stop-color="#93d6c0"/><stop offset=".227" stop-color="#b0e4b0"/><stop offset=".273" stop-color="#c3eaa4"/><stop offset=".318" stop-color="#ceec9d"/><stop offset=".402" stop-color="#caeb9f"/><stop offset=".455" stop-color="#bfe9a7"/><stop offset=".492" stop-color="#a2dfb8"/><stop offset=".515" stop-color="#9dddba"/><stop offset=".545" stop-color="#9dddba"/><stop offset=".591" stop-color="#8fd1c3"/><stop offset=".712" stop-color="#98b3c6"/><stop offset=".909" stop-color="#9fa4c4"/><stop offset=".955" stop-color="#9aafc6"/><stop offset="1" stop-color="#9fa4c4"/></linearGradient><linearGradient id="g3_55" gradientUnits="userSpaceOnUse" x1="0" y1="885" x2="0" y2="1149"><stop offset="0" stop-color="#9fa4c4"/><stop offset=".129" stop-color="#8fcac5"/><stop offset=".174" stop-color="#92d5c0"/><stop offset=".205" stop-color="#a0deb9"/><stop offset=".25" stop-color="#b9e7aa"/><stop offset=".318" stop-color="#cbec9f"/><stop offset=".371" stop-color="#cdec9e"/><stop offset=".432" stop-color="#c3eaa4"/><stop offset=".455" stop-color="#c0e9a6"/><stop offset=".477" stop-color="#afe4b0"/><stop offset=".492" stop-color="#a1dfb8"/><stop offset=".515" stop-color="#99dabd"/><stop offset=".561" stop-color="#95d8bf"/><stop offset=".606" stop-color="#8fccc5"/><stop offset=".667" stop-color="#94bdc7"/><stop offset=".758" stop-color="#9bacc6"/><stop offset=".939" stop-color="#9ea6c5"/><stop offset=".962" stop-color="#98b2c6"/><stop offset=".977" stop-color="#99b0c6"/><stop offset="1" stop-color="#9ea6c4"/></linearGradient><linearGradient id="g3_56" gradientUnits="userSpaceOnUse" x1="0" y1="885" x2="0" y2="1149"><stop offset="0" stop-color="#9fa4c4"/><stop offset=".129" stop-color="#8fc9c5"/><stop offset=".174" stop-color="#92d5c1"/><stop offset=".205" stop-color="#9eddba"/><stop offset=".25" stop-color="#b6e7ac"/><stop offset=".326" stop-color="#caeb9f"/><stop offset=".379" stop-color="#cbec9f"/><stop offset=".439" stop-color="#c0e9a6"/><stop offset=".462" stop-color="#bee9a7"/><stop offset=".5" stop-color="#9cdcbb"/><stop offset=".538" stop-color="#95d8be"/><stop offset=".591" stop-color="#8fcfc4"/><stop offset=".674" stop-color="#95bbc7"/><stop offset=".75" stop-color="#9cabc6"/><stop offset=".939" stop-color="#9ea7c5"/><stop offset=".97" stop-color="#97b5c6"/><stop offset="1" stop-color="#9caac5"/></linearGradient><linearGradient id="g3_57" gradientUnits="userSpaceOnUse" x1="0" y1="885" x2="0" y2="1149"><stop offset="0" stop-color="#9fa4c4"/><stop offset=".129" stop-color="#8fc9c5"/><stop offset=".174" stop-color="#91d4c1"/><stop offset=".205" stop-color="#9eddba"/><stop offset=".258" stop-color="#b9e7aa"/><stop offset=".341" stop-color="#cbec9f"/><stop offset=".379" stop-color="#cbec9f"/><stop offset=".432" stop-color="#bfe9a7"/><stop offset=".462" stop-color="#bbe8a9"/><stop offset=".485" stop-color="#a7e1b4"/><stop offset=".5" stop-color="#9bdcbb"/><stop offset=".53" stop-color="#94d7bf"/><stop offset=".583" stop-color="#8fd0c3"/><stop offset=".674" stop-color="#94bcc7"/><stop offset=".712" stop-color="#98b2c6"/><stop offset=".742" stop-color="#9caac5"/><stop offset=".947" stop-color="#9da8c5"/><stop offset=".97" stop-color="#97b4c6"/><stop offset=".985" stop-color="#98b3c6"/><stop offset="1" stop-color="#9aaec6"/></linearGradient><linearGradient id="g3_58" gradientUnits="userSpaceOnUse" x1="0" y1="885" x2="0" y2="1149"><stop offset="0" stop-color="#9fa4c4"/><stop offset=".129" stop-color="#8fcac5"/><stop offset=".174" stop-color="#92d5c1"/><stop offset=".205" stop-color="#9eddba"/><stop offset=".265" stop-color="#bbe8a9"/><stop offset=".356" stop-color="#ceec9d"/><stop offset=".402" stop-color="#c5eaa3"/><stop offset=".462" stop-color="#b9e7aa"/><stop offset=".485" stop-color="#a6e1b5"/><stop offset=".508" stop-color="#98dabd"/><stop offset=".583" stop-color="#8fd0c3"/><stop offset=".682" stop-color="#94bcc7"/><stop offset=".742" stop-color="#9cabc6"/><stop offset=".947" stop-color="#9da8c5"/><stop offset=".977" stop-color="#97b5c7"/><stop offset="1" stop-color="#99b0c6"/></linearGradient><linearGradient id="g3_59" gradientUnits="userSpaceOnUse" x1="0" y1="885" x2="0" y2="1149"><stop offset="0" stop-color="#9fa4c4"/><stop offset=".129" stop-color="#8fcac5"/><stop offset=".174" stop-color="#92d5c0"/><stop offset=".235" stop-color="#afe4b0"/><stop offset=".28" stop-color="#bfe9a7"/><stop offset=".364" stop-color="#cfec9c"/><stop offset=".439" stop-color="#bce8a8"/><stop offset=".47" stop-color="#b2e5ae"/><stop offset=".5" stop-color="#9cdcbb"/><stop offset=".538" stop-color="#95d8bf"/><stop offset=".606" stop-color="#8fccc5"/><stop offset=".765" stop-color="#9bacc6"/><stop offset=".932" stop-color="#9fa4c4"/><stop offset=".955" stop-color="#9ea6c4"/><stop offset=".977" stop-color="#97b4c6"/><stop offset="1" stop-color="#98b2c6"/></linearGradient><linearGradient id="g3_60" gradientUnits="userSpaceOnUse" x1="0" y1="885" x2="0" y2="1149"><stop offset="0" stop-color="#9fa4c4"/><stop offset=".129" stop-color="#8fcbc5"/><stop offset=".174" stop-color="#93d6c0"/><stop offset=".212" stop-color="#a4e0b6"/><stop offset=".265" stop-color="#bbe8a9"/><stop offset=".356" stop-color="#d1ed9b"/><stop offset=".386" stop-color="#caeb9f"/><stop offset=".47" stop-color="#b0e4b0"/><stop offset=".515" stop-color="#9bdcbb"/><stop offset=".598" stop-color="#8fcec4"/><stop offset=".765" stop-color="#9badc6"/><stop offset=".939" stop-color="#a0a1c3"/><stop offset=".955" stop-color="#9ea5c4"/><stop offset=".977" stop-color="#98b4c6"/><stop offset="1" stop-color="#98b2c6"/></linearGradient><linearGradient id="g3_61" gradientUnits="userSpaceOnUse" x1="0" y1="885" x2="0" y2="1149"><stop offset="0" stop-color="#9fa4c4"/><stop offset=".121" stop-color="#8fc9c5"/><stop offset=".167" stop-color="#92d5c0"/><stop offset=".212" stop-color="#a5e1b6"/><stop offset=".265" stop-color="#bce8a8"/><stop offset=".348" stop-color="#d1ed9b"/><stop offset=".371" stop-color="#cfec9c"/><stop offset=".508" stop-color="#a2dfb8"/><stop offset=".591" stop-color="#8fd0c3"/><stop offset=".742" stop-color="#98b2c6"/><stop offset=".871" stop-color="#9ea6c4"/><stop offset=".939" stop-color="#a0a1c3"/><stop offset=".955" stop-color="#9ea6c4"/><stop offset=".97" stop-color="#98b2c6"/><stop offset=".985" stop-color="#98b3c6"/><stop offset="1" stop-color="#9aafc6"/></linearGradient><linearGradient id="g3_62" gradientUnits="userSpaceOnUse" x1="0" y1="885" x2="0" y2="1149"><stop offset="0" stop-color="#9fa4c4"/><stop offset=".121" stop-color="#8fcbc5"/><stop offset=".167" stop-color="#94d7bf"/><stop offset=".212" stop-color="#a7e1b4"/><stop offset=".273" stop-color="#c0e9a6"/><stop offset=".326" stop-color="#ceec9d"/><stop offset=".356" stop-color="#d2ed9a"/><stop offset=".424" stop-color="#bfe9a7"/><stop offset=".477" stop-color="#b0e4b0"/><stop offset=".576" stop-color="#92d5c1"/><stop offset=".636" stop-color="#8fc9c6"/><stop offset=".788" stop-color="#9da9c5"/><stop offset=".848" stop-color="#9caac5"/><stop offset=".894" stop-color="#9badc6"/><stop offset=".939" stop-color="#9fa3c4"/><stop offset=".955" stop-color="#9da8c5"/><stop offset=".97" stop-color="#98b3c6"/><stop offset=".985" stop-color="#99b1c6"/><stop offset="1" stop-color="#9bacc6"/></linearGradient><linearGradient id="g3_63" gradientUnits="userSpaceOnUse" x1="0" y1="885" x2="0" y2="1149"><stop offset="0" stop-color="#9fa4c4"/><stop offset=".114" stop-color="#8fc9c5"/><stop offset=".152" stop-color="#91d4c1"/><stop offset=".205" stop-color="#a5e1b6"/><stop offset=".273" stop-color="#c3eaa4"/><stop offset=".326" stop-color="#cfec9c"/><stop offset=".356" stop-color="#d2ed9a"/><stop offset=".439" stop-color="#bae8aa"/><stop offset=".47" stop-color="#b4e6ad"/><stop offset=".492" stop-color="#b2e5ae"/><stop offset=".538" stop-color="#9cdcbb"/><stop offset=".614" stop-color="#8fcfc4"/><stop offset=".705" stop-color="#96b7c7"/><stop offset=".742" stop-color="#9da9c5"/><stop offset=".879" stop-color="#9ea7c5"/><stop offset=".924" stop-color="#9aaec6"/><stop offset=".955" stop-color="#9bacc6"/><stop offset=".977" stop-color="#99b0c6"/><stop offset="1" stop-color="#9da9c5"/></linearGradient><linearGradient id="g3_64" gradientUnits="userSpaceOnUse" x1="0" y1="885" x2="0" y2="1149"><stop offset="0" stop-color="#9fa4c4"/><stop offset=".114" stop-color="#8fcbc5"/><stop offset=".152" stop-color="#93d6c0"/><stop offset=".205" stop-color="#a7e1b4"/><stop offset=".273" stop-color="#c5eaa3"/><stop offset=".318" stop-color="#d1ed9b"/><stop offset=".356" stop-color="#d2ed9a"/><stop offset=".447" stop-color="#bae8aa"/><stop offset=".485" stop-color="#b8e7ab"/><stop offset=".53" stop-color="#9eddba"/><stop offset=".614" stop-color="#8fcfc4"/><stop offset=".674" stop-color="#93bec7"/><stop offset=".705" stop-color="#9badc6"/><stop offset=".75" stop-color="#9aaec6"/><stop offset=".803" stop-color="#9ea7c5"/><stop offset=".856" stop-color="#9badc6"/><stop offset=".909" stop-color="#9ea6c5"/><stop offset=".977" stop-color="#9ea6c5"/><stop offset="1" stop-color="#9fa4c4"/></linearGradient><linearGradient id="g3_65" gradientUnits="userSpaceOnUse" x1="0" y1="885" x2="0" y2="1149"><stop offset="0" stop-color="#9fa4c4"/><stop offset=".106" stop-color="#8fc9c5"/><stop offset=".144" stop-color="#92d5c1"/><stop offset=".205" stop-color="#a9e2b3"/><stop offset=".288" stop-color="#cdec9e"/><stop offset=".348" stop-color="#d2ed9a"/><stop offset=".447" stop-color="#bfe9a7"/><stop offset=".485" stop-color="#b4e6ad"/><stop offset=".53" stop-color="#a0deb9"/><stop offset=".606" stop-color="#8fd0c3"/><stop offset=".652" stop-color="#90c7c6"/><stop offset=".682" stop-color="#99b0c6"/><stop offset=".712" stop-color="#99b1c6"/><stop offset=".75" stop-color="#9fa2c3"/><stop offset=".841" stop-color="#9fa3c4"/><stop offset=".879" stop-color="#9cabc6"/><stop offset="1" stop-color="#a0a2c3"/></linearGradient><linearGradient id="g3_66" gradientUnits="userSpaceOnUse" x1="0" y1="885" x2="0" y2="1149"><stop offset="0" stop-color="#9fa4c4"/><stop offset=".106" stop-color="#8fc9c5"/><stop offset=".144" stop-color="#92d5c1"/><stop offset=".205" stop-color="#a9e2b3"/><stop offset=".288" stop-color="#cdec9e"/><stop offset=".348" stop-color="#d2ed9a"/><stop offset=".447" stop-color="#bfe9a7"/><stop offset=".485" stop-color="#b4e6ad"/><stop offset=".53" stop-color="#a0deb9"/><stop offset=".606" stop-color="#8fd0c3"/><stop offset=".652" stop-color="#90c7c6"/><stop offset=".682" stop-color="#99b0c6"/><stop offset=".712" stop-color="#99b1c6"/><stop offset=".75" stop-color="#9fa2c3"/><stop offset=".841" stop-color="#9fa3c4"/><stop offset=".879" stop-color="#9cabc6"/><stop offset="1" stop-color="#a0a2c3"/></linearGradient><linearGradient id="g3_67" gradientUnits="userSpaceOnUse" x1="0" y1="885" x2="0" y2="1149"><stop offset="0" stop-color="#9fa4c4"/><stop offset=".106" stop-color="#8fc9c5"/><stop offset=".144" stop-color="#92d5c1"/><stop offset=".205" stop-color="#a9e2b3"/><stop offset=".288" stop-color="#cdec9e"/><stop offset=".348" stop-color="#d2ed9a"/><stop offset=".447" stop-color="#bfe9a7"/><stop offset=".485" stop-color="#b4e6ad"/><stop offset=".53" stop-color="#a0deb9"/><stop offset=".606" stop-color="#8fd0c3"/><stop offset=".652" stop-color="#90c7c6"/><stop offset=".682" stop-color="#99b0c6"/><stop offset=".712" stop-color="#99b1c6"/><stop offset=".75" stop-color="#9fa2c3"/><stop offset=".841" stop-color="#9fa3c4"/><stop offset=".879" stop-color="#9cabc6"/><stop offset="1" stop-color="#a0a2c3"/></linearGradient><filter id="bl3" filterUnits="userSpaceOnUse" x="156.7" y="880" width="906.8" height="284.1" color-interpolation-filters="sRGB"><feGaussianBlur stdDeviation="4.5 0"/></filter></defs>
<g clip-path="url(#c0)"><g filter="url(#bl0)"><rect x="169.7" y="13.4" width="13.7" height="264.1" fill="url(#g0_0)"/><rect x="182.6" y="13.4" width="13.7" height="264.1" fill="url(#g0_1)"/><rect x="195.6" y="13.4" width="13.7" height="264.1" fill="url(#g0_2)"/><rect x="208.5" y="13.4" width="13.7" height="264.1" fill="url(#g0_3)"/><rect x="221.5" y="13.4" width="13.7" height="264.1" fill="url(#g0_4)"/><rect x="234.4" y="13.4" width="13.7" height="264.1" fill="url(#g0_5)"/><rect x="247.4" y="13.4" width="13.7" height="264.1" fill="url(#g0_6)"/><rect x="260.3" y="13.4" width="13.7" height="264.1" fill="url(#g0_7)"/><rect x="273.3" y="13.4" width="13.7" height="264.1" fill="url(#g0_8)"/><rect x="286.2" y="13.4" width="13.7" height="264.1" fill="url(#g0_9)"/><rect x="299.2" y="13.4" width="13.7" height="264.1" fill="url(#g0_10)"/><rect x="312.2" y="13.4" width="13.7" height="264.1" fill="url(#g0_11)"/><rect x="325.1" y="13.4" width="13.7" height="260.1" fill="url(#g0_12)"/><rect x="338.1" y="13.4" width="13.7" height="252.1" fill="url(#g0_13)"/><rect x="351" y="13.4" width="13.7" height="242.1" fill="url(#g0_14)"/><rect x="364" y="13.4" width="13.7" height="232.1" fill="url(#g0_15)"/><rect x="376.9" y="13.4" width="13.7" height="222.1" fill="url(#g0_16)"/><rect x="389.9" y="13.4" width="13.7" height="212.1" fill="url(#g0_17)"/><rect x="402.8" y="13.4" width="13.7" height="202.1" fill="url(#g0_18)"/><rect x="415.8" y="13.4" width="13.7" height="194.1" fill="url(#g0_19)"/><rect x="428.7" y="13.4" width="13.7" height="184.1" fill="url(#g0_20)"/><rect x="441.7" y="13.4" width="13.7" height="178.1" fill="url(#g0_21)"/><rect x="454.7" y="13.4" width="13.7" height="174.1" fill="url(#g0_22)"/><rect x="467.6" y="13.4" width="13.7" height="170.1" fill="url(#g0_23)"/><rect x="480.6" y="13.4" width="13.7" height="166.1" fill="url(#g0_24)"/><rect x="493.5" y="13.4" width="13.7" height="166.1" fill="url(#g0_25)"/><rect x="506.5" y="13.4" width="13.7" height="166.1" fill="url(#g0_26)"/><rect x="519.4" y="13.4" width="13.7" height="166.1" fill="url(#g0_27)"/><rect x="532.4" y="13.4" width="13.7" height="170.1" fill="url(#g0_28)"/><rect x="545.3" y="13.4" width="13.7" height="172.1" fill="url(#g0_29)"/><rect x="558.3" y="13.4" width="13.7" height="176.1" fill="url(#g0_30)"/><rect x="571.2" y="13.4" width="13.7" height="182.1" fill="url(#g0_31)"/><rect x="584.2" y="13.4" width="13.7" height="186.1" fill="url(#g0_32)"/><rect x="597.1" y="13.4" width="13.7" height="194.1" fill="url(#g0_33)"/><rect x="610.1" y="13.4" width="13.7" height="200.1" fill="url(#g0_34)"/><rect x="623.1" y="13.4" width="13.7" height="206.1" fill="url(#g0_35)"/><rect x="636" y="13.4" width="13.7" height="212.1" fill="url(#g0_36)"/><rect x="649" y="13.4" width="13.7" height="218.1" fill="url(#g0_37)"/><rect x="661.9" y="13.4" width="13.7" height="224.1" fill="url(#g0_38)"/><rect x="674.9" y="13.4" width="13.7" height="232.1" fill="url(#g0_39)"/><rect x="687.8" y="13.4" width="13.7" height="236.1" fill="url(#g0_40)"/><rect x="700.8" y="13.4" width="13.7" height="242.1" fill="url(#g0_41)"/><rect x="713.7" y="13.4" width="13.7" height="248.1" fill="url(#g0_42)"/><rect x="726.7" y="13.4" width="13.7" height="252.1" fill="url(#g0_43)"/><rect x="739.6" y="13.4" width="13.7" height="256.1" fill="url(#g0_44)"/><rect x="752.6" y="13.4" width="13.7" height="258.1" fill="url(#g0_45)"/><rect x="765.5" y="13.4" width="13.7" height="262.1" fill="url(#g0_46)"/><rect x="778.5" y="13.4" width="13.7" height="264.1" fill="url(#g0_47)"/><rect x="791.5" y="13.4" width="13.7" height="264.1" fill="url(#g0_48)"/><rect x="804.4" y="13.4" width="13.7" height="264.1" fill="url(#g0_49)"/><rect x="817.4" y="13.4" width="13.7" height="264.1" fill="url(#g0_50)"/><rect x="830.3" y="13.4" width="13.7" height="264.1" fill="url(#g0_51)"/><rect x="843.3" y="13.4" width="13.7" height="264.1" fill="url(#g0_52)"/><rect x="856.2" y="13.4" width="13.7" height="264.1" fill="url(#g0_53)"/><rect x="869.2" y="13.4" width="13.7" height="264.1" fill="url(#g0_54)"/><rect x="882.1" y="13.4" width="13.7" height="264.1" fill="url(#g0_55)"/><rect x="895.1" y="13.4" width="13.7" height="264.1" fill="url(#g0_56)"/><rect x="908" y="13.4" width="13.7" height="264.1" fill="url(#g0_57)"/><rect x="921" y="13.4" width="13.7" height="264.1" fill="url(#g0_58)"/><rect x="934" y="13.4" width="13.7" height="264.1" fill="url(#g0_59)"/><rect x="946.9" y="13.4" width="13.7" height="264.1" fill="url(#g0_60)"/><rect x="959.9" y="13.4" width="13.7" height="264.1" fill="url(#g0_61)"/><rect x="972.8" y="13.4" width="13.7" height="264.1" fill="url(#g0_62)"/><rect x="985.8" y="13.4" width="13.7" height="264.1" fill="url(#g0_63)"/><rect x="998.7" y="13.4" width="13.7" height="264.1" fill="url(#g0_64)"/><rect x="1011.7" y="13.4" width="13.7" height="264.1" fill="url(#g0_65)"/><rect x="1024.6" y="13.4" width="13.7" height="264.1" fill="url(#g0_66)"/><rect x="1037.6" y="13.4" width="13.7" height="264.1" fill="url(#g0_67)"/></g></g>
<path d="M100.9 277.6H1118.8M100.9 145.5H1118.8M100.9 13.4H1118.8M195.6 0.4V290.9M610.1 0.4V290.9M1024.6 0.4V290.9" stroke="#b0b0b0" stroke-width="3.4" fill="none"/>
<g fill="none" stroke-width="2.2" stroke-linejoin="round" clip-path="url(#c0)"><path d="M195.6 270.1 228.6 272 252.6 272.1 264.6 271.4 288.6 269.4 306.6 269.7 312.6 268.8 324.6 265.5 330.6 263.1 339.6 258.7 348.6 253 384.6 225.9 402.6 210.3 408.6 205.6 414.6 201.8 426.6 193.1 438.6 186 447.6 181.8 456.6 178.3 477.6 171.9 492.6 169.2 501.6 168.4 510.6 168.2 528.6 169 555.6 172.8 570.6 176.1 603.6 184.4 615.6 187 654.6 193.2 699.6 201 771.6 216.9 795.6 222.9 816.6 228.9 834.6 235.1 867.6 247.9 879.6 252.2 894.6 256.9 909.6 260.4 924.6 262.8 939.6 264.5 1024.6 271.3" stroke="#46085c"/><path d="M195.6 261.9 231.6 264.8 243.6 265.2 255.6 265 267.6 264.1 288.6 261.7 306.6 261 312.6 260.1 324.6 257 330.6 254.9 339.6 250.9 354.6 242.4 378.6 225.5 408.6 202.4 426.6 190.4 441.6 182 456.6 175.5 477.6 168.9 492.6 166 501.6 165.2 510.6 164.8 528.6 165.4 555.6 168.7 570.6 171.6 615.6 181.2 657.6 187.4 699.6 194.6 771.6 210.9 807.6 219.5 831.6 226.1 882.6 241.8 897.6 245.7 912.6 248.9 945.6 254 1024.6 263.6" stroke="#470d60"/><path d="M195.6 254.2 216.6 256.4 231.6 257.5 243.6 257.9 255.6 257.7 267.6 256.6 291.6 253.1 309.6 251.4 324.6 248.1 330.6 246.2 339.6 242.7 354.6 235.1 375.6 221.8 408.6 198.6 429.6 185.5 438.6 180.6 447.6 176.3 456.6 172.6 465.6 169.4 474.6 166.7 483.6 164.5 498.6 162.3 507.6 161.7 516.6 161.6 534.6 162.5 555.6 164.9 573.6 167.9 615.6 175.8 660.6 182.2 696.6 188.2 810.6 213.7 831.6 219 879.6 232.2 906.6 238.5 924.6 242 945.6 245.4 1024.6 256.6" stroke="#471164"/><path d="M195.6 245.5 234.6 248.6 249.6 249 261.6 248.8 276.6 247.8 294.6 245.6 306.6 243.8 318.6 240.9 327.6 238.2 336.6 234.8 354.6 226.4 375.6 214.6 408.6 194.2 426.6 183.7 441.6 175.9 453.6 170.5 468.6 165 483.6 161 498.6 158.7 516.6 157.9 534.6 158.6 558.6 161.2 615.6 170.4 663.6 177 693.6 181.9 813.6 207.6 882.6 224.9 906.6 230.2 939.6 236.1 1024.6 249.1" stroke="#48186a"/><path d="M195.6 236.6 231.6 239.8 246.6 240.3 258.6 240.1 270.6 239.3 285.6 237.5 303.6 234.4 318.6 231.1 336.6 225.7 345.6 222.3 357.6 217 378.6 206.3 432.6 176.4 447.6 169.1 459.6 164.1 474.6 159.2 486.6 156.5 501.6 154.6 516.6 154.1 537.6 155 561.6 157.5 663.6 171.5 690.6 175.7 720.6 181.4 807.6 199.4 882.6 216.9 906.6 222 942.6 228.4 1024.6 241.6" stroke="#482071"/><path d="M195.6 227.3 216.6 229.7 231.6 231 246.6 231.5 258.6 231.1 276.6 228.8 309.6 222.7 324.6 219.4 342.6 214.2 363.6 205.9 384.6 196 432.6 171.3 447.6 164.4 459.6 159.6 474.6 155 486.6 152.4 501.6 150.6 519.6 150.1 543.6 151.3 573.6 154.3 651.6 163.9 687.6 169.1 714.6 174 813.6 193.4 885.6 209.2 909.6 214.1 948.6 221 1024.6 233.2" stroke="#482979"/><path d="M195.6 217.4 216.6 219.9 231.6 221.1 243.6 221.5 255.6 221.2 264.6 220.5 273.6 219.2 321.6 209.9 342.6 204.3 354.6 200.3 366.6 195.8 390.6 185.4 438.6 162.9 450.6 157.8 462.6 153.5 474.6 150 486.6 147.6 501.6 146 516.6 145.6 543.6 146.7 588.6 150.5 639.6 156.1 681.6 161.8 714.6 167.5 810.6 185.2 885.6 200.9 909.6 205.5 939.6 210.6 1024.6 223.8" stroke="#463480"/><path d="M195.6 206.9 216.6 209.8 231.6 211.2 243.6 211.6 255.6 211.1 267.6 209.5 294.6 203.4 333.6 196.5 351.6 191.9 372.6 184.8 393.6 176.4 438.6 156.7 450.6 152 462.6 147.9 477.6 144 489.6 141.9 504.6 140.6 519.6 140.4 552.6 141.9 597.6 145.4 642.6 149.9 681.6 154.9 717.6 160.7 804.6 176 885.6 192.1 909.6 196.5 942.6 201.8 1024.6 214" stroke="#424186"/><path d="M195.6 195.2 219.6 198.8 234.6 200.1 249.6 200.2 264.6 198.4 294.6 190.9 336.6 184.7 345.6 182.8 357.6 179.7 369.6 176 384.6 170.7 444.6 147.1 456.6 143 468.6 139.7 480.6 137.1 492.6 135.5 504.6 134.6 519.6 134.3 555.6 135.7 600.6 138.8 642.6 142.7 681.6 147.4 720.6 153.3 798.6 166.5 882.6 182.3 909.6 187 951.6 193.3 1024.6 203" stroke="#3c4f8a"/><path d="M195.6 183.1 219.6 185.9 234.6 187 249.6 186.9 264.6 185.5 297.6 178.5 336.6 172.3 357.6 167.5 387.6 158.6 444.6 139 456.6 135.4 468.6 132.5 480.6 130.2 495.6 128.5 510.6 127.7 525.6 127.6 564.6 128.9 603.6 131.2 639.6 134.3 675.6 138.5 717.6 144.4 789.6 155.7 882.6 172 909.6 176.4 951.6 182.2 1024.6 191.3" stroke="#355f8d"/><path d="M195.6 169.5 219.6 171.8 237.6 172.7 255.6 172.4 270.6 170.8 330.6 160.5 351.6 156.1 378.6 148.9 438.6 131.2 453.6 127.4 465.6 124.8 480.6 122.4 495.6 120.8 513.6 119.9 534.6 119.8 570.6 120.7 603.6 122.4 636.6 125 672.6 128.8 717.6 134.7 774.6 143.1 816.6 149.7 879.6 160.4 906.6 164.5 945.6 169.5 1024.6 178.4" stroke="#2d708e"/><path d="M195.6 155 222.6 156.8 240.6 157.3 258.6 156.8 273.6 155.4 309.6 149.7 339.6 144 369.6 137.2 432.6 121.6 450.6 117.7 465.6 115 483.6 112.5 501.6 111.1 519.6 110.4 543.6 110.4 576.6 111.1 609.6 112.8 642.6 115.3 678.6 118.9 714.6 123.3 756.6 129.2 876.6 147.6 906.6 151.8 954.6 157.4 1024.6 164.2" stroke="#26828e"/><path d="M195.6 139.8 222.6 141 243.6 141.2 261.6 140.6 276.6 139.3 288.6 137.7 303.6 135.1 435.6 108.3 462.6 103.5 477.6 101.6 495.6 100.1 513.6 99.4 537.6 99.3 576.6 100 609.6 101.4 642.6 103.5 675.6 106.5 711.6 110.5 753.6 115.9 870.6 132.9 900.6 136.9 948.6 141.9 1024.6 148" stroke="#1f978b"/><path d="M195.6 122.1 240.6 122.1 258.6 121.4 273.6 120.2 300.6 116.7 378.6 102.7 432.6 93.8 459.6 89.9 480.6 87.8 501.6 86.5 525.6 85.9 555.6 85.9 582.6 86.4 609.6 87.4 636.6 89 663.6 91.3 702.6 95.3 744.6 100.3 867.6 116.7 900.6 120.7 954.6 125.5 1024.6 129.8" stroke="#28ae80"/><path d="M195.6 101.7 243.6 100.7 261.6 99.7 279.6 98.1 303.6 95 360.6 85.9 405.6 79.3 438.6 74.9 465.6 72 483.6 70.6 504.6 69.5 528.6 69 552.6 69 603.6 70.4 654.6 73.9 699.6 78 747.6 83 867.6 97.5 903.6 101.3 957.6 105.4 1024.6 108.8" stroke="#56c667"/><path d="M195.6 76 291.6 70.6 306.6 68.7 339.6 63.6 360.6 60.8 450.6 52 486.6 49.8 525.6 49.4 585.6 50.5 633.6 53.1 756.6 63.2 879.6 74.7 921.6 77.8 969.6 80.1 1024.6 81.2" stroke="#a2da37"/><path d="M669.4 208.9 670.8 207.2 673.9 206.1 677.6 205.4 687.1 204.4 698.5 204.7 716.8 207 752.1 214.1 773 216.8 781.9 218.5 790.6 221 799 224.2 823.8 235.8 836.5 242.8 852.6 252.9 855 254.9 855.2 256.9 852.9 258.7 846.4 261.1 840.7 261.9 825.7 263.1 816.7 263.1 804.7 262.4 792.8 260.8 781 258.4 752.1 250 723.8 239.5 712.7 235 699 228.7 680.5 219.2 675.4 216 670.4 211.3Z" stroke="#450559"/><path d="M707.3 218.1 708.9 216.2 712.1 214.9 718.6 213.7 724.3 213.7 733 214.5 751 216.9 768.7 219.6 777.5 221.3 789 224.7 800 229.5 820.9 240.6 825.7 244.3 827.9 246.8 829 249.5 826.9 251.3 820.5 253.1 814.9 253.8 806 254 793.9 253.6 785 252.6 773.3 250.4 764.6 248.2 756.1 245.2 723 231.2 715.2 227 710.6 223.2 708.4 220.6Z" stroke="#450457"/><path d="M729.8 223.1 731.6 221.5 735.3 220.5 741.5 219.9 759.1 221.4 773.8 224 782.5 226.7 793.4 231.7 803.1 237.2 811.1 243.4 810.8 245.4 807.5 246.6 792.7 247.5 783.7 246.8 772 244.4 760.6 240.9 749.5 236.1 739 230.7 731.4 225.4Z" stroke="#440256"/><path d="M745.6 227.5 747.5 226 754.3 224.5 759.9 224.4 765.7 225 774.6 226.8 783.1 229.3 788.7 231.6 791.2 233.2 793.4 235.3 795 238.1 795.6 241.1 793.5 242.2 780.8 240.9 769.4 239.1 763.5 237.5 752.8 233 747 229.5ZM756.5 229.5 758.2 228.7 771.3 228.9 784 233.2 785.5 235.2 784.3 237.8 781.6 238.9 778.5 238.6 766.5 235.9 761.1 233.7 758.1 231.6ZM762 231 763 230 766.5 230.1 774.9 231 777.9 231.9 779 233.5 777.9 236.1 775.5 236.7 766.6 234.2 764 233ZM765.5 232 766.9 231.1 770.7 231.5 774.4 232.7 775.5 233.8 773 234.4 770 234.5 767.5 233.8Z" stroke="#440154"/><path d="M762 231 770 230.3 779.5 233.8 778 236.2 770 235.2 764 233.2Z" fill="#440154" stroke="#440154"/></g><path d="M195.6 13.4H1024.6" stroke="#fde725" stroke-width="2.2" fill="none"/>
<path d="M195.6 277.2 L305 277.2 L322.5 271.3 L330.5 267.2 L338.5 262.3 L346.5 257 L354.5 251.3 L362.5 245.3 L370.5 239.3 L378.5 233.2 L386.5 227 L394.5 220.3 L402.5 213.5 L410.5 207.6 L418.5 202.5 L426.5 196.5 L434.5 191.6 L442.5 187.3 L450.5 183.8 L458.5 180.8 L466.5 178.3 L474.5 175.9 L482.5 173.9 L490.5 172.6 L498.5 172 L506.5 171.8 L514.5 172.2 L522.5 172.8 L530.5 174 L538.5 175.6 L546.5 177.6 L554.5 179.5 L562.5 182 L570.5 184.9 L578.5 188.1 L586.5 191.6 L594.5 195.2 L602.5 199.1 L610.5 202.9 L618.5 206.8 L626.5 210.6 L634.5 214.3 L642.5 218.1 L650.5 222 L658.5 226.1 L666.5 230.2 L674.5 234.3 L682.5 238.1 L690.5 241.6 L698.5 244.7 L706.5 248.2 L714.5 251.4 L722.5 254.4 L730.5 257.2 L738.5 259.8 L746.5 262.3 L754.5 264.5 L762.5 266.3 L770.5 268 L778.5 269.7 L786.5 271.1 L794.5 272.3 L802.5 273.4 L810.5 274.3 L818.5 275 L826.5 275.6 L834.5 276.1 L842.5 276.5 L850.5 276.8 L858.5 277 L866.5 277.2 L874.5 277.2 L882.5 277.2 L890.5 277.2 L898.5 277.2 L1024.6 277.2" stroke="#000" stroke-width="4.6" fill="none" stroke-linecap="square" stroke-linejoin="round"/>
<g clip-path="url(#c1)"><g filter="url(#bl1)"><rect x="169.7" y="303.9" width="13.7" height="264.1" fill="url(#g1_0)"/><rect x="182.6" y="303.9" width="13.7" height="264.1" fill="url(#g1_1)"/><rect x="195.6" y="303.9" width="13.7" height="264.1" fill="url(#g1_2)"/><rect x="208.5" y="303.9" width="13.7" height="264.1" fill="url(#g1_3)"/><rect x="221.5" y="303.9" width="13.7" height="264.1" fill="url(#g1_4)"/><rect x="234.4" y="303.9" width="13.7" height="264.1" fill="url(#g1_5)"/><rect x="247.4" y="303.9" width="13.7" height="264.1" fill="url(#g1_6)"/><rect x="260.3" y="303.9" width="13.7" height="264.1" fill="url(#g1_7)"/><rect x="273.3" y="303.9" width="13.7" height="264.1" fill="url(#g1_8)"/><rect x="286.2" y="303.9" width="13.7" height="264.1" fill="url(#g1_9)"/><rect x="299.2" y="303.9" width="13.7" height="264.1" fill="url(#g1_10)"/><rect x="312.2" y="303.9" width="13.7" height="264.1" fill="url(#g1_11)"/><rect x="325.1" y="303.9" width="13.7" height="260.1" fill="url(#g1_12)"/><rect x="338.1" y="303.9" width="13.7" height="252.1" fill="url(#g1_13)"/><rect x="351" y="303.9" width="13.7" height="242.1" fill="url(#g1_14)"/><rect x="364" y="303.9" width="13.7" height="232.1" fill="url(#g1_15)"/><rect x="376.9" y="303.9" width="13.7" height="222.1" fill="url(#g1_16)"/><rect x="389.9" y="303.9" width="13.7" height="212.1" fill="url(#g1_17)"/><rect x="402.8" y="303.9" width="13.7" height="202.1" fill="url(#g1_18)"/><rect x="415.8" y="303.9" width="13.7" height="194.1" fill="url(#g1_19)"/><rect x="428.7" y="303.9" width="13.7" height="184.1" fill="url(#g1_20)"/><rect x="441.7" y="303.9" width="13.7" height="178.1" fill="url(#g1_21)"/><rect x="454.7" y="303.9" width="13.7" height="174.1" fill="url(#g1_22)"/><rect x="467.6" y="303.9" width="13.7" height="170.1" fill="url(#g1_23)"/><rect x="480.6" y="303.9" width="13.7" height="166.1" fill="url(#g1_24)"/><rect x="493.5" y="303.9" width="13.7" height="166.1" fill="url(#g1_25)"/><rect x="506.5" y="303.9" width="13.7" height="166.1" fill="url(#g1_26)"/><rect x="519.4" y="303.9" width="13.7" height="166.1" fill="url(#g1_27)"/><rect x="532.4" y="303.9" width="13.7" height="170.1" fill="url(#g1_28)"/><rect x="545.3" y="303.9" width="13.7" height="172.1" fill="url(#g1_29)"/><rect x="558.3" y="303.9" width="13.7" height="176.1" fill="url(#g1_30)"/><rect x="571.2" y="303.9" width="13.7" height="182.1" fill="url(#g1_31)"/><rect x="584.2" y="303.9" width="13.7" height="186.1" fill="url(#g1_32)"/><rect x="597.1" y="303.9" width="13.7" height="194.1" fill="url(#g1_33)"/><rect x="610.1" y="303.9" width="13.7" height="200.1" fill="url(#g1_34)"/><rect x="623.1" y="303.9" width="13.7" height="206.1" fill="url(#g1_35)"/><rect x="636" y="303.9" width="13.7" height="212.1" fill="url(#g1_36)"/><rect x="649" y="303.9" width="13.7" height="218.1" fill="url(#g1_37)"/><rect x="661.9" y="303.9" width="13.7" height="224.1" fill="url(#g1_38)"/><rect x="674.9" y="303.9" width="13.7" height="232.1" fill="url(#g1_39)"/><rect x="687.8" y="303.9" width="13.7" height="236.1" fill="url(#g1_40)"/><rect x="700.8" y="303.9" width="13.7" height="242.1" fill="url(#g1_41)"/><rect x="713.7" y="303.9" width="13.7" height="248.1" fill="url(#g1_42)"/><rect x="726.7" y="303.9" width="13.7" height="252.1" fill="url(#g1_43)"/><rect x="739.6" y="303.9" width="13.7" height="256.1" fill="url(#g1_44)"/><rect x="752.6" y="303.9" width="13.7" height="258.1" fill="url(#g1_45)"/><rect x="765.5" y="303.9" width="13.7" height="262.1" fill="url(#g1_46)"/><rect x="778.5" y="303.9" width="13.7" height="264.1" fill="url(#g1_47)"/><rect x="791.5" y="303.9" width="13.7" height="264.1" fill="url(#g1_48)"/><rect x="804.4" y="303.9" width="13.7" height="264.1" fill="url(#g1_49)"/><rect x="817.4" y="303.9" width="13.7" height="264.1" fill="url(#g1_50)"/><rect x="830.3" y="303.9" width="13.7" height="264.1" fill="url(#g1_51)"/><rect x="843.3" y="303.9" width="13.7" height="264.1" fill="url(#g1_52)"/><rect x="856.2" y="303.9" width="13.7" height="264.1" fill="url(#g1_53)"/><rect x="869.2" y="303.9" width="13.7" height="264.1" fill="url(#g1_54)"/><rect x="882.1" y="303.9" width="13.7" height="264.1" fill="url(#g1_55)"/><rect x="895.1" y="303.9" width="13.7" height="264.1" fill="url(#g1_56)"/><rect x="908" y="303.9" width="13.7" height="264.1" fill="url(#g1_57)"/><rect x="921" y="303.9" width="13.7" height="264.1" fill="url(#g1_58)"/><rect x="934" y="303.9" width="13.7" height="264.1" fill="url(#g1_59)"/><rect x="946.9" y="303.9" width="13.7" height="264.1" fill="url(#g1_60)"/><rect x="959.9" y="303.9" width="13.7" height="264.1" fill="url(#g1_61)"/><rect x="972.8" y="303.9" width="13.7" height="264.1" fill="url(#g1_62)"/><rect x="985.8" y="303.9" width="13.7" height="264.1" fill="url(#g1_63)"/><rect x="998.7" y="303.9" width="13.7" height="264.1" fill="url(#g1_64)"/><rect x="1011.7" y="303.9" width="13.7" height="264.1" fill="url(#g1_65)"/><rect x="1024.6" y="303.9" width="13.7" height="264.1" fill="url(#g1_66)"/><rect x="1037.6" y="303.9" width="13.7" height="264.1" fill="url(#g1_67)"/></g></g>
<path d="M100.9 568H1118.8M100.9 436H1118.8M100.9 303.9H1118.8M195.6 290.9V581.4M610.1 290.9V581.4M1024.6 290.9V581.4" stroke="#b0b0b0" stroke-width="3.4" fill="none"/>
<g fill="none" stroke-width="2.2" stroke-linejoin="round" clip-path="url(#c1)"><path d="M195.6 460.6 300.6 457.4 336.6 457.3 354.6 458.1 369.6 459.4 423.6 466.4 432.6 466.9 444.6 465.8 468.6 460.9 480.6 459.1 540.6 455.6 564.6 455.5 609.6 457 636.6 457.3 795.6 455.5 828.6 456.7 894.6 462.2 969.6 466 1024.6 470" stroke="#48186a"/><path d="M195.6 452.5 246.6 451.8 297.6 450.4 318.6 450.3 339.6 451.1 384.6 454.2 405.6 454.8 426.6 454 474.6 451 546.6 448.6 786.6 448.6 810.6 449.1 834.6 450.1 894.6 453.9 969.6 457.8 1024.6 461.3" stroke="#482071"/><path d="M195.6 444 315.6 443.8 339.6 444.5 387.6 446.9 411.6 447.3 438.6 446.6 507.6 443 543.6 441.8 618.6 441.9 702.6 441.1 771.6 441.4 801.6 441.9 828.6 442.9 1024.6 453" stroke="#482979"/><path d="M195.6 436 303.6 437 384.6 439.1 414.6 439.5 456.6 438.6 522.6 435.6 549.6 434.8 618.6 434.7 696.6 433.9 753.6 434.1 789.6 434.7 822.6 435.7 894.6 439.2 1024.6 444.8" stroke="#463480"/><path d="M195.6 427.7 315.6 429.1 390.6 431.3 420.6 431.7 459.6 431 519.6 428.2 543.6 427.4 612.6 427.5 681.6 426.5 726.6 426.6 816.6 428.4 897.6 431.8 1024.6 436.5" stroke="#424186"/><path d="M195.6 419.7 441.6 423.5 474.6 422.9 525.6 420.5 549.6 419.8 615.6 419.7 687.6 418.7 729.6 418.9 816.6 420.3 897.6 423.8 1024.6 428.2" stroke="#3c4f8a"/><path d="M195.6 411.2 396.6 414.7 441.6 415.1 474.6 414.6 549.6 411.7 612.6 411.2 678.6 410 714.6 410.1 810.6 412 897.6 415.3 1024.6 419.4" stroke="#355f8d"/><path d="M195.6 402.5 411.6 406.2 447.6 406.5 477.6 406 552.6 403.2 669.6 401.3 705.6 401.3 813.6 402.9 900.6 406.6 1024.6 410.1" stroke="#2d708e"/><path d="M195.6 393.1 378.6 396.2 444.6 396.8 480.6 396.3 552.6 394.1 651.6 392.3 711.6 392 804.6 393.7 903.6 397 1024.6 400.4" stroke="#26828e"/><path d="M195.6 383.1 390.6 386.8 444.6 387.2 477.6 386.7 564.6 383.8 663.6 381.8 708.6 381.7 807.6 383.4 897.6 386.5 1024.6 390" stroke="#1f978b"/><path d="M195.6 372.2 351.6 375.1 450.6 375.8 501.6 374.9 636.6 370.8 699.6 370.3 804.6 372.1 930.6 375.9 1024.6 378.1" stroke="#28ae80"/><path d="M195.6 359.7 354.6 362.6 426.6 363.1 468.6 362.5 546.6 360.1 657.6 357.6 705.6 357.2 762.6 358.2 885.6 361.6 1024.6 364.8" stroke="#56c667"/><path d="M195.6 343.7 339.6 345.7 444.6 346.4 474.6 345.9 546.6 342.9 609.6 342.3 669.6 340.8 699.6 340.5 813.6 342.4 948.6 346.2 1024.6 347.3" stroke="#a2da37"/><path d="M196 470.6 226.1 469.6 280.5 465.2 301.7 463.8 322.8 463.3 340.9 463.9 352.9 464.9 364.9 466.5 377 468.7 391.6 472.3 397.2 473.9 402.8 476.2 408.3 480 409.9 482.4 409.6 484.9 407.8 487.4 389.5 503.9 377.8 513.6 358.3 527.8 345.4 535.8 332.1 543 321 547.9 309.5 551.6 300.6 553.4 291.6 554.1 279.4 554.1 261.3 552.9 249.3 551.5 237.4 549.5 196 540.6M1024.4 479.7 991.2 480.5 976.2 480.2 853.4 466.8 820.3 464.5 793.2 464 733.1 465.4 720.9 466.2 711.8 467.2 688.7 471.2 676.9 474.4 669.8 477 666.7 478.6 664.5 480.4 663.7 482.4 664.8 484.7 667.1 486.9 672.8 490.7 699.7 502.6 743.5 523.9 754.7 528.2 766.2 531.6 778 534.4 792.8 537.2 807.7 539.5 822.7 541.3 837.7 542.5 852.7 543.3 879.9 543.5 940.1 542.1 970.2 541.9 997.3 542.6 1024.4 544.4" stroke="#471164"/><path d="M196 484.4 217.1 481.8 265.1 474.3 286.2 471.5 307.3 469.7 328.6 469.4 340.8 470 349.8 471 358.7 472.7 370.4 476.2 376.1 478.4 381.4 481.5 383.6 483.6 385.3 486.3 385.5 489 384.3 491.7 382.2 494.2 368.4 506.8 338.6 527.6 330.6 531.9 324.9 534.2 316.2 536.6 307.1 538.2 294.9 539.4 282.8 539.7 270.7 538.7 258.7 536.6 249.9 534.3 238.4 530.4 196 513.8M1024.4 491.9 1012.4 493 979.5 497.9 967.4 498.4 958.3 498 943.4 495.7 908.1 487.1 884.4 482.5 839.5 476.1 827.5 474.8 815.4 474.1 806.2 474 793.9 474.5 767.6 476.9 761.7 478.3 755.2 480.8 752.3 482.7 751 484.9 752 487.3 754.5 489.7 757.3 491.4 784.6 503.9 790.3 506 799.1 508.5 808 510.4 817 511.7 832.1 513.1 850.2 514.1 886.4 514.6 910.6 513.5 946.7 509.6 961.8 509 970.8 509.7 985.8 511.9 1024.4 519.4" stroke="#470d60"/><path d="M230.6 498.7 231.5 496 233.3 493.5 235.7 491.3 240.7 487.8 248.9 484.3 260.3 480.9 269.1 478.9 280.9 477.1 292.9 476.1 310.8 475.3 322.7 475.2 334.7 475.9 343.7 477.1 352.4 479.2 360.7 482.4 365.7 485.8 368 488.1 369.3 490.7 369.1 493.4 367.5 496 362.9 500.8 353.9 508.3 341.6 516.8 333.8 521.3 325.6 524.8 316.9 527.1 308 528.4 299 528.7 287 527.7 278.2 526 266.7 522.5 255.7 518 239.3 510.4 234.5 506.8 232.6 504.4 231.1 501.6Z" stroke="#46085c"/><path d="M256.9 501.2 257.6 498.4 259.3 495.8 261.5 493.6 263.9 491.7 269.4 489.1 275.2 487.4 287 484.9 304.8 482.2 319.9 481.3 328.8 481.6 334.4 482.4 343.1 484.6 349.4 486.8 352.2 488.4 354.1 490.4 354.5 493.2 353.7 496.3 352.3 499 350.4 501.3 345.8 505.2 335.8 512 327.9 516.3 322.3 518.5 313.4 520.6 304.4 521.3 295.4 520.6 286.7 518.8 275 515.5 269.2 513.6 263.9 510.8 259.3 506.7 257.6 504.1Z" stroke="#450559"/><path d="M273.5 501.3 274.2 498.5 276 495.9 278.3 493.7 280.8 492 283.5 490.7 289.2 489.1 301.2 487.6 310 487 318.9 486.9 327.7 487.5 333.7 488.4 336.5 489.2 339.2 490.6 341.5 492.8 343 495.4 342.8 498.1 341.2 500.6 338.7 502.8 333.6 506.3 320.6 513 314.9 515 309.1 516.2 303.2 516.6 297.2 516.3 291.2 515.5 285.5 513.8 280.2 511 277.8 509 275.6 506.7 274.1 504Z" stroke="#450457"/><path d="M285.8 503.8 285.9 500.9 287.1 498 289.1 495.6 291.5 493.8 294.3 492.5 303.3 490.5 315.2 489.9 321.1 490.2 324 490.7 329.9 493.1 332.4 495.1 333.7 497.5 333.5 500.4 332 503.3 329.8 505.6 327.3 507.2 324.6 508.4 312.9 511.5 304 512.5 298.2 511.9 292.3 510 289.5 508.4 287.1 506.3Z" stroke="#440256"/><path d="M294.2 502.3 300.9 494.8 312.5 493.6 321.8 494.5 327.3 498.9 317.7 507 304.4 508.4 297.4 505.5ZM300.3 500.9 303.2 498 314.8 495.7 318.3 499.7 316.6 503.8 304.4 505.5Z" stroke="#440154"/><path d="M306.5 499.8 314.5 497.5 316.3 501.2 312 502.6Z" fill="#440154" stroke="#440154"/></g>
<path d="M195.6 567.7 L305 567.7 L322.5 561.8 L330.5 557.7 L338.5 552.8 L346.5 547.5 L354.5 541.8 L362.5 535.8 L370.5 529.8 L378.5 523.7 L386.5 517.5 L394.5 510.8 L402.5 504 L410.5 498.1 L418.5 493 L426.5 487 L434.5 482.1 L442.5 477.8 L450.5 474.3 L458.5 471.3 L466.5 468.8 L474.5 466.4 L482.5 464.4 L490.5 463.1 L498.5 462.5 L506.5 462.3 L514.5 462.7 L522.5 463.3 L530.5 464.5 L538.5 466.1 L546.5 468.1 L554.5 470 L562.5 472.5 L570.5 475.4 L578.5 478.6 L586.5 482.1 L594.5 485.7 L602.5 489.6 L610.5 493.4 L618.5 497.3 L626.5 501.1 L634.5 504.8 L642.5 508.6 L650.5 512.5 L658.5 516.6 L666.5 520.7 L674.5 524.8 L682.5 528.6 L690.5 532.1 L698.5 535.2 L706.5 538.7 L714.5 541.9 L722.5 544.9 L730.5 547.7 L738.5 550.3 L746.5 552.8 L754.5 555 L762.5 556.8 L770.5 558.5 L778.5 560.2 L786.5 561.6 L794.5 562.8 L802.5 563.9 L810.5 564.8 L818.5 565.5 L826.5 566.1 L834.5 566.6 L842.5 567 L850.5 567.3 L858.5 567.5 L866.5 567.7 L874.5 567.7 L882.5 567.7 L890.5 567.7 L898.5 567.7 L1024.6 567.7" stroke="#000" stroke-width="4.6" fill="none" stroke-linecap="square" stroke-linejoin="round"/>
<g clip-path="url(#c2)"><g filter="url(#bl2)"><rect x="169.7" y="594.5" width="13.7" height="264.1" fill="url(#g2_0)"/><rect x="182.6" y="594.5" width="13.7" height="264.1" fill="url(#g2_1)"/><rect x="195.6" y="594.5" width="13.7" height="264.1" fill="url(#g2_2)"/><rect x="208.5" y="594.5" width="13.7" height="264.1" fill="url(#g2_3)"/><rect x="221.5" y="594.5" width="13.7" height="264.1" fill="url(#g2_4)"/><rect x="234.4" y="594.5" width="13.7" height="264.1" fill="url(#g2_5)"/><rect x="247.4" y="594.5" width="13.7" height="264.1" fill="url(#g2_6)"/><rect x="260.3" y="594.5" width="13.7" height="264.1" fill="url(#g2_7)"/><rect x="273.3" y="594.5" width="13.7" height="264.1" fill="url(#g2_8)"/><rect x="286.2" y="594.5" width="13.7" height="264.1" fill="url(#g2_9)"/><rect x="299.2" y="594.5" width="13.7" height="264.1" fill="url(#g2_10)"/><rect x="312.2" y="594.5" width="13.7" height="264.1" fill="url(#g2_11)"/><rect x="325.1" y="594.5" width="13.7" height="260.1" fill="url(#g2_12)"/><rect x="338.1" y="594.5" width="13.7" height="252.1" fill="url(#g2_13)"/><rect x="351" y="594.5" width="13.7" height="242.1" fill="url(#g2_14)"/><rect x="364" y="594.5" width="13.7" height="232.1" fill="url(#g2_15)"/><rect x="376.9" y="594.5" width="13.7" height="222.1" fill="url(#g2_16)"/><rect x="389.9" y="594.5" width="13.7" height="212.1" fill="url(#g2_17)"/><rect x="402.8" y="594.5" width="13.7" height="202.1" fill="url(#g2_18)"/><rect x="415.8" y="594.5" width="13.7" height="194.1" fill="url(#g2_19)"/><rect x="428.7" y="594.5" width="13.7" height="184.1" fill="url(#g2_20)"/><rect x="441.7" y="594.5" width="13.7" height="178.1" fill="url(#g2_21)"/><rect x="454.7" y="594.5" width="13.7" height="174.1" fill="url(#g2_22)"/><rect x="467.6" y="594.5" width="13.7" height="170.1" fill="url(#g2_23)"/><rect x="480.6" y="594.5" width="13.7" height="166.1" fill="url(#g2_24)"/><rect x="493.5" y="594.5" width="13.7" height="166.1" fill="url(#g2_25)"/><rect x="506.5" y="594.5" width="13.7" height="166.1" fill="url(#g2_26)"/><rect x="519.4" y="594.5" width="13.7" height="166.1" fill="url(#g2_27)"/><rect x="532.4" y="594.5" width="13.7" height="170.1" fill="url(#g2_28)"/><rect x="545.3" y="594.5" width="13.7" height="172.1" fill="url(#g2_29)"/><rect x="558.3" y="594.5" width="13.7" height="176.1" fill="url(#g2_30)"/><rect x="571.2" y="594.5" width="13.7" height="182.1" fill="url(#g2_31)"/><rect x="584.2" y="594.5" width="13.7" height="186.1" fill="url(#g2_32)"/><rect x="597.1" y="594.5" width="13.7" height="194.1" fill="url(#g2_33)"/><rect x="610.1" y="594.5" width="13.7" height="200.1" fill="url(#g2_34)"/><rect x="623.1" y="594.5" width="13.7" height="206.1" fill="url(#g2_35)"/><rect x="636" y="594.5" width="13.7" height="212.1" fill="url(#g2_36)"/><rect x="649" y="594.5" width="13.7" height="218.1" fill="url(#g2_37)"/><rect x="661.9" y="594.5" width="13.7" height="224.1" fill="url(#g2_38)"/><rect x="674.9" y="594.5" width="13.7" height="232.1" fill="url(#g2_39)"/><rect x="687.8" y="594.5" width="13.7" height="236.1" fill="url(#g2_40)"/><rect x="700.8" y="594.5" width="13.7" height="242.1" fill="url(#g2_41)"/><rect x="713.7" y="594.5" width="13.7" height="248.1" fill="url(#g2_42)"/><rect x="726.7" y="594.5" width="13.7" height="252.1" fill="url(#g2_43)"/><rect x="739.6" y="594.5" width="13.7" height="256.1" fill="url(#g2_44)"/><rect x="752.6" y="594.5" width="13.7" height="258.1" fill="url(#g2_45)"/><rect x="765.5" y="594.5" width="13.7" height="262.1" fill="url(#g2_46)"/><rect x="778.5" y="594.5" width="13.7" height="264.1" fill="url(#g2_47)"/><rect x="791.5" y="594.5" width="13.7" height="264.1" fill="url(#g2_48)"/><rect x="804.4" y="594.5" width="13.7" height="264.1" fill="url(#g2_49)"/><rect x="817.4" y="594.5" width="13.7" height="264.1" fill="url(#g2_50)"/><rect x="830.3" y="594.5" width="13.7" height="264.1" fill="url(#g2_51)"/><rect x="843.3" y="594.5" width="13.7" height="264.1" fill="url(#g2_52)"/><rect x="856.2" y="594.5" width="13.7" height="264.1" fill="url(#g2_53)"/><rect x="869.2" y="594.5" width="13.7" height="264.1" fill="url(#g2_54)"/><rect x="882.1" y="594.5" width="13.7" height="264.1" fill="url(#g2_55)"/><rect x="895.1" y="594.5" width="13.7" height="264.1" fill="url(#g2_56)"/><rect x="908" y="594.5" width="13.7" height="264.1" fill="url(#g2_57)"/><rect x="921" y="594.5" width="13.7" height="264.1" fill="url(#g2_58)"/><rect x="934" y="594.5" width="13.7" height="264.1" fill="url(#g2_59)"/><rect x="946.9" y="594.5" width="13.7" height="264.1" fill="url(#g2_60)"/><rect x="959.9" y="594.5" width="13.7" height="264.1" fill="url(#g2_61)"/><rect x="972.8" y="594.5" width="13.7" height="264.1" fill="url(#g2_62)"/><rect x="985.8" y="594.5" width="13.7" height="264.1" fill="url(#g2_63)"/><rect x="998.7" y="594.5" width="13.7" height="264.1" fill="url(#g2_64)"/><rect x="1011.7" y="594.5" width="13.7" height="264.1" fill="url(#g2_65)"/><rect x="1024.6" y="594.5" width="13.7" height="264.1" fill="url(#g2_66)"/><rect x="1037.6" y="594.5" width="13.7" height="264.1" fill="url(#g2_67)"/></g></g>
<path d="M100.9 858.5H1118.8M100.9 726.5H1118.8M100.9 594.5H1118.8M195.6 581.4V871.9M610.1 581.4V871.9M1024.6 581.4V871.9" stroke="#b0b0b0" stroke-width="3.4" fill="none"/>
<g fill="none" stroke-width="2.2" stroke-linejoin="round" clip-path="url(#c2)"><path d="M196 713 228.9 717.4 237.7 719.4 246.3 722.1 263 729.1 298.3 746.1 311.5 753.3 326.7 763.1 334.7 767.3 348.7 772.9 357.3 775.7 366.1 777.7 375.1 778.7 381.2 778.6 387.2 778 398.9 775.3 410.3 771.4 455.3 754 469.5 748.9 486.9 744.1 504.7 741 516.7 739.7 531.8 738.8 580 737.7 643.2 735.5 667.3 736 676.3 736.9 688.2 738.7 708.8 743.3 734.7 751.2 754.4 758.9 762.6 762.8 767.8 765.8 772.8 769.2 777.4 773.1 783.6 779.8 787.1 784.7 791.1 792.7 795 807.4 797 813.1 798.4 815.7 802.3 820.3 807.2 823.9 812.8 826.3 821.6 828.4 830.6 829 836.7 828.8 842.8 828 845.7 827.1 848.3 825.8 850.5 823.8 854.2 818.9 861 805.3 864 800.2 867.6 795.4 873.8 788.7 882.8 780.7 904.1 763.9 914 757 924.3 750.9 948.6 738.7 959.7 734 968.3 731.1 982.8 727.2 1003.3 722.3 1015.3 720.8 1024.4 721" stroke="#424186"/><path d="M196 704.5 208.2 704.9 220.2 706.5 231.9 709 246.4 713.3 263.3 719.4 296.9 732.9 307.7 738.1 329 749.5 339.9 754.5 354.3 759.3 363.2 761.3 369.2 762.2 378.2 762.6 387.2 762 396.1 760.3 407.7 756.8 421.7 750.4 447.9 734.7 455.8 730.5 464 726.9 472.4 724.4 481.2 722.9 493.3 722.2 544.7 721.3 565.7 721.3 650.1 723 668.1 724.3 685.9 726.8 709.6 731.7 735.7 738.9 761.5 747.2 804.1 762.3 815.6 765.9 827.4 768.5 839.4 769.5 848.4 769 857.3 767.5 866.1 765.2 877.5 761.3 891.2 755 914.6 741.4 925.3 735.9 941.9 728.7 956.2 723.7 967.8 720.6 979.6 718.4 1024.4 712.5" stroke="#3c4f8a"/><path d="M196 695 208.1 696 220.1 697.8 231.8 700.3 246.3 704.4 263.4 710.1 283.2 717.7 299.8 724.8 324.4 736.2 335.6 740.5 350 745.2 361.7 748.4 370.6 750 379.6 750.6 385.6 750.5 394.6 749.3 403.5 747.2 412.2 744.3 426.2 738.2 458.1 721.1 469.1 716.5 477.7 714 489.5 711.5 504.6 709.7 522.7 708.6 540.8 708.3 573.9 708.6 628.1 710.2 652.2 711.5 670.2 713.3 688.1 715.9 708.8 720 764.4 733.5 814.4 744.8 826.3 746.7 835.3 747.4 844.3 747.7 853.4 747.3 868.4 745.3 880 742.2 959.5 713.8 982.5 706.7 994.2 704.1 1003.1 702.8 1015.2 702.1 1024.4 702.5" stroke="#355f8d"/><path d="M196 685 210.9 687.1 225.7 689.8 240.4 693.1 254.9 697.1 269.3 701.7 280.6 706 291.6 710.7 316.3 722.2 327.4 726.6 362.2 737 371.1 738.7 379.9 739.5 385.9 739.3 394.9 738.1 403.8 735.9 412.5 733.1 426.6 727.3 461.8 710.4 478.7 703.9 487.4 701.4 496.2 699.4 505.1 697.8 517.1 696.5 541.2 695.8 589.3 696.4 631.4 698.4 664.4 701.1 691.3 704.6 721 709.7 744.5 714.7 782.6 723.9 800.3 727.4 818.3 729.8 836.3 730.7 845.3 730.3 857.3 729.1 869.2 727.2 881 724.6 904.3 718.3 956.1 702.4 979.5 696.5 991.3 694.4 1003.2 692.9 1015.3 692.3 1024.4 692.5" stroke="#2d708e"/><path d="M196 674.5 208 676.2 219.8 678.3 231.5 681 246 685 271.7 693.5 322.1 713.4 347.7 722.3 356.5 724.9 365.3 727 374.2 728.3 380.1 728.5 386.1 728.3 395.1 727.1 409.8 723.4 426.9 716.9 467.7 698 484.6 691.2 496.1 687.6 504.8 685.5 513.7 684 522.7 683.1 534.7 682.6 549.8 682.5 585.9 683.3 621.9 685.3 654.9 688.2 678.8 691.2 705.5 695.4 782.3 710.1 806 714.2 827 716.9 842 717.5 851 717.2 863 715.9 883.7 712.1 907.1 706.1 956.1 691.6 970.7 687.9 982.5 685.4 1003.3 682.4 1015.3 681.7 1024.4 681.8" stroke="#26828e"/><path d="M196 663.8 205 664.8 216.9 666.8 228.6 669.4 240.3 672.6 268.8 682 322.2 702.3 347.9 711.5 356.6 714.1 365.5 716.2 374.3 717.4 380.3 717.6 386.3 717.3 395.2 716.1 409.9 712.3 421.4 708.2 432.6 703.6 473.5 684.6 490.3 677.7 498.8 674.8 507.5 672.5 516.4 670.8 528.3 669.5 549.5 668.7 576.6 669.2 609.6 671.4 645.5 674.8 678.3 679.3 740.7 689.6 808.8 702.2 826.7 704.4 841.7 705 850.8 704.7 862.7 703.4 883.5 699.6 906.9 693.8 959 678.9 982.5 673.4 994.3 671.5 1003.2 670.5 1015.3 669.8 1024.4 670" stroke="#1f978b"/><path d="M196 652 208 653.3 219.9 655.2 231.7 657.8 243.3 660.9 257.7 665.5 271.9 670.5 322.2 690.3 345 698.5 353.8 701.1 362.6 703.2 371.5 704.5 377.5 704.9 386.4 704.6 395.4 703.3 404.3 701.3 413 698.7 424.5 694.6 435.6 690 479.2 669.4 495.9 662.4 504.4 659.6 513.2 657.4 522.1 655.9 534.1 654.7 555.2 654.2 576.3 655 606.3 657.4 651.2 662.1 681 666.1 740.4 675.8 808.5 688.4 826.5 690.6 841.5 691.3 850.5 690.9 862.5 689.7 883.3 686 903.8 680.9 953.1 667 979.5 660.9 991.3 658.9 1003.3 657.6 1015.3 656.9 1024.4 657" stroke="#28ae80"/><path d="M196 638.8 208 640 222.9 642.4 234.6 644.9 249.2 648.7 263.6 653.1 280.7 659 328.2 677.7 345.4 683.8 354.1 686.5 363 688.6 371.9 689.8 377.8 690.1 383.8 689.8 392.7 688.6 401.5 686.5 410.3 683.8 421.7 679.6 435.7 673.8 482 652.1 495.9 646.2 504.4 643.4 513.1 641.2 522 639.7 531 638.8 549.2 638.3 570.2 639.2 660.1 648.2 749.4 661.1 796.6 670.6 811.5 673.1 826.4 674.9 841.5 675.5 850.5 675.3 862.5 674.3 874.4 672.6 886.3 670.3 906.7 665.2 956 651.1 979.4 645.9 991.3 644 1003.3 642.7 1015.3 642.3 1024.4 642.5" stroke="#56c667"/><path d="M196 622.5 214 623.8 229 625.7 243.8 628.2 258.6 631.5 273.1 635.6 287.4 640.3 329.3 657.1 346.5 663.1 355.3 665.4 364.2 667.2 373.1 668.2 379.1 668.3 385.1 668 394.1 666.8 403 664.8 411.7 662.2 423.1 658 434.2 653.3 472.3 635.2 489 628 497.6 625.1 506.3 622.8 515.1 621.2 524.1 620.3 542.3 619.9 569.4 621.1 599.4 623.7 647.3 628.6 674.2 631.8 748.9 641.8 814.1 653.5 829.1 655.2 841.1 655.7 850.2 655.5 862.2 654.5 883 651 903.5 646 955.8 631.3 979.3 626.2 991.2 624.6 1003.2 623.7 1015.3 623.8 1024.4 624.5" stroke="#a2da37"/><path d="M195.6 720.6 202 719.1 208.2 718.5 214.3 718.6 223.1 720.1 228.8 721.7 237.3 724.8 270.5 739.8 278.5 744.1 286.2 749 295.9 756.2 305.1 764 314.3 772.1 318.7 776.5 320.4 779 321.5 781.8 322 784.8 321.6 787.8 320.5 790.6 318.9 793.3 316.9 795.7 312.4 799.8 307.5 803.3 302.2 806.4 288.6 813.1 280.2 816.5 271.6 819.5 225.1 833.2 210.5 837.1 195.6 840M1024.4 729.8 1006.1 730.7 1000 731.6 994.1 733.1 988.3 735.1 979.9 738.8 969.1 744.5 961.2 749.2 951.2 756.2 939.2 765.6 927.4 775.3 920.8 781.7 917 786.5 914.2 791.9 912.7 797.9 912.5 801 912.7 804.1 914.4 810 917.5 815.2 921.8 819.7 926.7 823.4 932 826.4 946.1 832.4 954.8 835.3 963.6 837.8 972.6 839.7 981.7 841 1000 842.5 1024.4 842.5M641.2 762.5 642.1 759.7 643.7 757.1 645.9 754.8 651 751.2 656.6 749 665.6 747.6 674.6 747.4 689.7 748.1 698.6 749.4 707.3 751.9 715.7 755.4 726.4 761 734 765.9 741.1 771.4 745.3 775.8 748.7 780.9 749.9 783.7 750.6 786.6 750.4 789.6 749.6 792.6 748.1 795.3 746.3 797.8 741.8 801.7 733.8 806.2 725.4 809.5 716.5 811.4 710.5 811.6 701.5 810.7 692.8 808.2 684.5 804.6 668 796.7 662.8 793.7 657.9 790.3 653.5 786.4 647.8 779.4 643 771.2 641.2 765.4Z" stroke="#463480"/><path d="M195.6 728.8 201.7 728.1 210.9 728 217 728.4 226 729.7 232 731 240.7 733.7 254.8 739.6 262.8 744 270.4 748.9 277.7 754.5 284.6 760.4 291.3 766.6 295.3 771.2 298.5 776.5 299.3 779.4 299.2 782.4 298.3 785.4 296.7 788.1 292.6 792.7 287.7 796.3 282.5 799.5 266.4 808.1 252.2 813.5 231.6 819 213.7 822.7 195.6 825M1024.4 738.1 1009.1 738.5 997 740.5 991.1 742.1 985.3 744.3 979.8 747 974.6 750.2 969.6 753.7 962.5 759.7 956 766.2 952.1 770.9 948.6 775.9 945.6 781.3 943.3 787 941.9 792.9 942 796 942.5 799.1 943.5 802 946.8 807.2 948.9 809.4 953.7 813.3 958.9 816.6 964.4 819.3 970.1 821.6 978.8 824.4 993.8 827.5 1009.1 828.9 1024.4 828.8M666.2 770 667 767.3 668.8 764.8 671.2 762.6 673.8 760.9 679.4 758.9 682.3 758.5 688.3 759 697 761.7 704.7 766.1 711.7 771.6 715.8 776.3 717.1 779 717.5 781.9 716.5 784.7 714.7 787.2 712.3 789.3 709.8 790.8 704.1 792.7 698.1 793.6 695.1 793.5 692.2 793 686.6 791 679 786.1 674.4 782.4 670.1 778 668.1 775.4 666.7 772.7Z" stroke="#482979"/><path d="M195.6 736.2 210.9 736.5 226.2 738.3 238.1 741.1 249.7 745.4 257.8 749.8 262.7 753.3 279.1 767.4 282.9 772.1 284 775 284.4 778 283.9 781 282.7 783.9 281 786.6 276.9 791.2 269.4 796.6 258.4 802.1 243.9 807.2 229.1 810.9 213.9 813.4 195.6 815M1024.4 745.6 1015.1 746.3 1006 748.4 997.3 751.9 989.3 756.7 982.3 762.9 976.2 770 966.2 785.8 964.8 788.6 964.2 791.5 964.6 794.6 965.6 797.7 969.2 803 973.8 807.1 981.9 811.8 990.6 815.2 999.6 817.4 1012 819 1024.4 819.4" stroke="#482071"/><path d="M195.6 743.1 210.8 743.8 223 745.1 234.9 747.9 243.5 751.2 248.9 754 254 757.3 265.9 767 270 771.5 271.4 774.2 271.9 777.2 271.1 780.1 269.4 782.9 265.2 787.6 258 793 249.7 796.9 238 800.5 226 803 210.8 804.8 195.6 805.6M1024.4 752.5 1018.1 752.7 1012.1 754.2 1006.4 756.8 1001.3 760.3 994.7 766.8 985.4 779.3 982.3 784.7 981.8 787.6 982.2 790.7 983.4 793.7 985.2 796.5 989.5 800.9 994.7 804.3 1000.2 807.1 1009 810.1 1018.2 811.7 1024.4 811.9" stroke="#48186a"/><path d="M195.6 749 211 748.3 220.3 748.8 229.4 750.4 235.2 752.4 243.5 756.7 253.5 763.7 258 768.1 260.1 770.6 261.5 773.3 261.9 776.2 261.2 779.3 259.7 782.1 257.7 784.6 252.8 788.4 244.4 792.3 235.5 794.7 223.3 796.7 211 797.8 195.6 798.1M1024.4 758.8 1020.8 758.9 1017.6 759.7 1014.8 761 1009.8 764.8 998.7 776.7 997.1 779.5 996.3 782.6 996.5 785.8 997.6 788.8 999.4 791.7 1003.8 796.5 1006.3 798.5 1011.9 801.6 1018 803.8 1024.4 805" stroke="#471164"/><path d="M196.6 755.6 205.8 754.3 215.3 754 224.6 755 230.5 756.6 239.1 760.5 247.1 765.6 249.4 767.8 251.2 770.3 252.5 773.2 252.9 776.3 252.1 779.2 250.3 781.8 247.8 784.1 242.4 787.6 233.8 790.9 224.6 792.8 215.3 793.4 205.8 793.1 196.6 791.8M1024.4 765 1018.1 767.2 1012.5 771 1010.3 773.5 1008.6 776.4 1007.6 779.6 1007.6 782.9 1008.6 786.1 1010.4 789 1012.8 791.6 1018.7 795.8 1024.4 798.1" stroke="#470d60"/><path d="M196.6 761.5 202.4 758.9 205.3 758.1 211.5 757.1 221 757.1 227.3 758 233.2 759.8 238.7 762.9 243.1 767.4 244.7 770.2 245.8 773.3 245.8 776.3 244.2 779 241.8 781.2 236.1 784.6 227.3 787.4 218.1 788.7 211.8 788.7 202.5 787 196.6 784.8M1024.4 771.9 1020.7 772.5 1018.2 774.6 1017 777.7 1017 781.1 1018 784.3 1019.8 787.1 1024.4 791.9" stroke="#46085c"/><path d="M196.1 770.4 203 763.4 216.4 760.7 229.8 762.3 238.4 768.8 239.5 775.7 232.5 781.6 217.5 784.3 204.6 782.1 196.6 776.8ZM1024.4 776 1022.7 777.3 1021.6 778.6 1021 780 1021 781.4 1021.6 782.9 1024.4 786" stroke="#450559"/><path d="M201.4 771.4 208.4 765.5 220.2 763.9 232.5 767.7 233.6 773.6 227.1 778.9 216.4 781.1 205.7 777.9Z" stroke="#450457"/><path d="M206.5 771.2 212.1 768.8 225 768.8 228.2 771.4 223.9 777.9 212.7 777.9Z" stroke="#440256"/><path d="M212.7 768.3 223.4 768.3 218.5 777.3Z" fill="#440154" stroke="#440154"/><path d="M1021.5 778.5 1024.4 778.5 1024.4 782.5 1021.5 782.5Z" fill="#440154" stroke="#440154"/></g>
<path d="M195.6 858.2 L305 858.2 L322.5 852.3 L330.5 848.2 L338.5 843.3 L346.5 838 L354.5 832.3 L362.5 826.3 L370.5 820.3 L378.5 814.2 L386.5 808 L394.5 801.3 L402.5 794.5 L410.5 788.6 L418.5 783.5 L426.5 777.5 L434.5 772.6 L442.5 768.3 L450.5 764.8 L458.5 761.8 L466.5 759.3 L474.5 756.9 L482.5 754.9 L490.5 753.6 L498.5 753 L506.5 752.8 L514.5 753.2 L522.5 753.8 L530.5 755 L538.5 756.6 L546.5 758.6 L554.5 760.5 L562.5 763 L570.5 765.9 L578.5 769.1 L586.5 772.6 L594.5 776.2 L602.5 780.1 L610.5 783.9 L618.5 787.8 L626.5 791.6 L634.5 795.3 L642.5 799.1 L650.5 803 L658.5 807.1 L666.5 811.2 L674.5 815.3 L682.5 819.1 L690.5 822.6 L698.5 825.7 L706.5 829.2 L714.5 832.4 L722.5 835.4 L730.5 838.2 L738.5 840.8 L746.5 843.3 L754.5 845.5 L762.5 847.3 L770.5 849 L778.5 850.7 L786.5 852.1 L794.5 853.3 L802.5 854.4 L810.5 855.3 L818.5 856 L826.5 856.6 L834.5 857.1 L842.5 857.5 L850.5 857.8 L858.5 858 L866.5 858.2 L874.5 858.2 L882.5 858.2 L890.5 858.2 L898.5 858.2 L1024.6 858.2" stroke="#000" stroke-width="4.6" fill="none" stroke-linecap="square" stroke-linejoin="round"/>
<g clip-path="url(#c3)"><g filter="url(#bl3)"><rect x="169.7" y="885" width="13.7" height="264.1" fill="url(#g3_0)"/><rect x="182.6" y="885" width="13.7" height="264.1" fill="url(#g3_1)"/><rect x="195.6" y="885" width="13.7" height="264.1" fill="url(#g3_2)"/><rect x="208.5" y="885" width="13.7" height="264.1" fill="url(#g3_3)"/><rect x="221.5" y="885" width="13.7" height="264.1" fill="url(#g3_4)"/><rect x="234.4" y="885" width="13.7" height="264.1" fill="url(#g3_5)"/><rect x="247.4" y="885" width="13.7" height="264.1" fill="url(#g3_6)"/><rect x="260.3" y="885" width="13.7" height="264.1" fill="url(#g3_7)"/><rect x="273.3" y="885" width="13.7" height="264.1" fill="url(#g3_8)"/><rect x="286.2" y="885" width="13.7" height="264.1" fill="url(#g3_9)"/><rect x="299.2" y="885" width="13.7" height="264.1" fill="url(#g3_10)"/><rect x="312.2" y="885" width="13.7" height="264.1" fill="url(#g3_11)"/><rect x="325.1" y="885" width="13.7" height="260.1" fill="url(#g3_12)"/><rect x="338.1" y="885" width="13.7" height="252.1" fill="url(#g3_13)"/><rect x="351" y="885" width="13.7" height="242.1" fill="url(#g3_14)"/><rect x="364" y="885" width="13.7" height="232.1" fill="url(#g3_15)"/><rect x="376.9" y="885" width="13.7" height="222.1" fill="url(#g3_16)"/><rect x="389.9" y="885" width="13.7" height="212.1" fill="url(#g3_17)"/><rect x="402.8" y="885" width="13.7" height="202.1" fill="url(#g3_18)"/><rect x="415.8" y="885" width="13.7" height="194.1" fill="url(#g3_19)"/><rect x="428.7" y="885" width="13.7" height="184.1" fill="url(#g3_20)"/><rect x="441.7" y="885" width="13.7" height="178.1" fill="url(#g3_21)"/><rect x="454.7" y="885" width="13.7" height="174.1" fill="url(#g3_22)"/><rect x="467.6" y="885" width="13.7" height="170.1" fill="url(#g3_23)"/><rect x="480.6" y="885" width="13.7" height="166.1" fill="url(#g3_24)"/><rect x="493.5" y="885" width="13.7" height="166.1" fill="url(#g3_25)"/><rect x="506.5" y="885" width="13.7" height="166.1" fill="url(#g3_26)"/><rect x="519.4" y="885" width="13.7" height="166.1" fill="url(#g3_27)"/><rect x="532.4" y="885" width="13.7" height="170.1" fill="url(#g3_28)"/><rect x="545.3" y="885" width="13.7" height="172.1" fill="url(#g3_29)"/><rect x="558.3" y="885" width="13.7" height="176.1" fill="url(#g3_30)"/><rect x="571.2" y="885" width="13.7" height="182.1" fill="url(#g3_31)"/><rect x="584.2" y="885" width="13.7" height="186.1" fill="url(#g3_32)"/><rect x="597.1" y="885" width="13.7" height="194.1" fill="url(#g3_33)"/><rect x="610.1" y="885" width="13.7" height="200.1" fill="url(#g3_34)"/><rect x="623.1" y="885" width="13.7" height="206.1" fill="url(#g3_35)"/><rect x="636" y="885" width="13.7" height="212.1" fill="url(#g3_36)"/><rect x="649" y="885" width="13.7" height="218.1" fill="url(#g3_37)"/><rect x="661.9" y="885" width="13.7" height="224.1" fill="url(#g3_38)"/><rect x="674.9" y="885" width="13.7" height="232.1" fill="url(#g3_39)"/><rect x="687.8" y="885" width="13.7" height="236.1" fill="url(#g3_40)"/><rect x="700.8" y="885" width="13.7" height="242.1" fill="url(#g3_41)"/><rect x="713.7" y="885" width="13.7" height="248.1" fill="url(#g3_42)"/><rect x="726.7" y="885" width="13.7" height="252.1" fill="url(#g3_43)"/><rect x="739.6" y="885" width="13.7" height="256.1" fill="url(#g3_44)"/><rect x="752.6" y="885" width="13.7" height="258.1" fill="url(#g3_45)"/><rect x="765.5" y="885" width="13.7" height="262.1" fill="url(#g3_46)"/><rect x="778.5" y="885" width="13.7" height="264.1" fill="url(#g3_47)"/><rect x="791.5" y="885" width="13.7" height="264.1" fill="url(#g3_48)"/><rect x="804.4" y="885" width="13.7" height="264.1" fill="url(#g3_49)"/><rect x="817.4" y="885" width="13.7" height="264.1" fill="url(#g3_50)"/><rect x="830.3" y="885" width="13.7" height="264.1" fill="url(#g3_51)"/><rect x="843.3" y="885" width="13.7" height="264.1" fill="url(#g3_52)"/><rect x="856.2" y="885" width="13.7" height="264.1" fill="url(#g3_53)"/><rect x="869.2" y="885" width="13.7" height="264.1" fill="url(#g3_54)"/><rect x="882.1" y="885" width="13.7" height="264.1" fill="url(#g3_55)"/><rect x="895.1" y="885" width="13.7" height="264.1" fill="url(#g3_56)"/><rect x="908" y="885" width="13.7" height="264.1" fill="url(#g3_57)"/><rect x="921" y="885" width="13.7" height="264.1" fill="url(#g3_58)"/><rect x="934" y="885" width="13.7" height="264.1" fill="url(#g3_59)"/><rect x="946.9" y="885" width="13.7" height="264.1" fill="url(#g3_60)"/><rect x="959.9" y="885" width="13.7" height="264.1" fill="url(#g3_61)"/><rect x="972.8" y="885" width="13.7" height="264.1" fill="url(#g3_62)"/><rect x="985.8" y="885" width="13.7" height="264.1" fill="url(#g3_63)"/><rect x="998.7" y="885" width="13.7" height="264.1" fill="url(#g3_64)"/><rect x="1011.7" y="885" width="13.7" height="264.1" fill="url(#g3_65)"/><rect x="1024.6" y="885" width="13.7" height="264.1" fill="url(#g3_66)"/><rect x="1037.6" y="885" width="13.7" height="264.1" fill="url(#g3_67)"/></g></g>
<path d="M100.9 1149H1118.8M100.9 1017H1118.8M100.9 885H1118.8M195.6 871.9V1162.4M610.1 871.9V1162.4M1024.6 871.9V1162.4" stroke="#b0b0b0" stroke-width="3.4" fill="none"/>
<g fill="none" stroke-width="2.2" stroke-linejoin="round" clip-path="url(#c3)"><path d="M195.6 1048.8 209.9 1044.3 224.6 1040.6 239.4 1037.9 251.4 1036.5 263.3 1035.8 275.4 1035.7 311.5 1037.5 323.5 1039.1 332.2 1041.2 343.5 1045.2 393.8 1065.3 402.6 1067.9 408.5 1068.7 411.5 1068.7 417.4 1067.7 423.2 1065.7 444.8 1055.1 458.9 1049.6 479.2 1043.5 488 1041.8 494 1041.2 506 1040.7 524.1 1041.7 545.1 1042 602.3 1041.3 644.4 1041.3 665.4 1040.4 695.4 1037.5 710.4 1036.6 755.5 1035.2 764.6 1035.4 773.5 1036.1 782.4 1037.5 794.1 1040.6 805.5 1044.5 816.7 1048.9 830.5 1055 838.6 1059 846.3 1063.7 853.3 1069.4 857.5 1073.8 863 1080.9 866.1 1086.1 868.6 1091.6 870 1097.5 870.2 1100.4 868.6 1115.5 868.7 1121.5 869.4 1124.5 870.6 1127.2 872.4 1129.6 877.3 1133.3 882.8 1135.8 888.6 1137.6 903.4 1140.2 921.4 1141.7 948.6 1142.3 960.5 1142 975.2 1140.5 988 1140.8 990.8 1140 992.9 1137.9 993.4 1135 991.5 1132.9 985.8 1129.3 981.3 1125.5 970.5 1115.1 966.9 1110.3 964.5 1104.8 963.7 1101.8 963.3 1098.8 963.5 1095.9 964.3 1093 967.2 1087.6 971.2 1083 978 1077.1 987.9 1070.2 995.8 1065.9 1004.2 1062.4 1012.7 1059.6 1024.4 1056.6" stroke="#482979"/><path d="M195.6 1038.1 225.1 1032.3 249.1 1029.2 270.1 1028.4 297.2 1029.5 318.2 1031.2 333 1033.7 344.7 1036.8 373.5 1045.8 385.1 1048.6 403.1 1051.1 412.1 1051.8 418.1 1051.9 427.1 1050.9 438.8 1048 450.3 1044.3 467.1 1037.8 478.7 1034.9 490.7 1033.4 547.8 1028.9 586.9 1027.3 650.2 1026.9 704.4 1027.6 761.6 1029.5 776.6 1030.5 791.6 1032.3 803.4 1034.5 815.1 1037.5 829.4 1042.1 843.5 1047.7 881.8 1065.4 890.2 1068.8 901.7 1072.2 907.6 1073.2 916.7 1073.9 928.7 1073.2 943.5 1070.5 955.1 1067.2 980.6 1057.9 994.9 1053.3 1009.5 1049.8 1024.4 1047.3" stroke="#463480"/><path d="M195.6 1028.8 228.4 1023.6 249.4 1021.3 270.5 1020.4 294.6 1021.2 312.7 1022.5 327.7 1024.5 342.4 1027.5 371.8 1034.7 386.6 1037.7 404.5 1040.5 416.5 1041 428.6 1040.2 443.5 1037.8 452.3 1035.7 469.7 1030.7 481.5 1028.4 553.6 1020.7 586.7 1018.5 632 1016.8 668.2 1016.4 698.3 1017 728.5 1018.4 764.6 1020.7 782.7 1022.5 797.6 1024.6 812.4 1027.6 827 1031.3 841.5 1035.7 870.1 1045.3 884.7 1049.3 905.4 1053.2 914.4 1054.2 923.5 1054.6 935.5 1054 950.5 1052 962.4 1049.7 994.7 1042.4 1024.4 1036.9" stroke="#424186"/><path d="M195.6 1018.8 225.5 1015 249.6 1012.9 273.7 1012.4 297.9 1013.2 316 1014.5 333.9 1016.9 348.7 1019.6 381.2 1026.7 396.1 1029.3 411.1 1030.9 426.2 1031.3 435.2 1030.7 444.1 1029.4 470.6 1023 482.5 1021.2 527.7 1017.6 587.6 1010.7 611.7 1008.4 638.8 1006.7 666 1006.4 684.1 1006.9 705.1 1008.4 777.3 1014.9 795.3 1016.8 810.2 1019.1 828 1022.7 868.9 1033.3 880.7 1035.9 895.6 1038.2 913.6 1039.8 931.8 1040 946.8 1039 1024.4 1027.2" stroke="#3c4f8a"/><path d="M195.6 1008.9 219.5 1005.9 246.6 1004.1 273.7 1003.7 300.8 1004.7 318.8 1006.1 336.8 1008.5 354.6 1011.7 387 1018.4 401.9 1020.9 416.9 1022.5 432 1022.7 444 1021.7 482.7 1015.6 599.2 1000.3 614.2 998.9 632.3 997.8 665.4 997.2 686.5 997.7 704.6 998.6 725.7 1000.2 743.6 1002.2 773.4 1006.6 832.8 1017.1 862.5 1022 886.4 1025.1 907.5 1026.8 928.5 1027.2 946.6 1026.3 964.6 1024.5 1006.4 1019 1024.4 1017" stroke="#355f8d"/><path d="M196 998.8 220 996.1 244.2 994.7 268.3 994.5 292.5 995.5 310.5 997 331.5 999.7 409 1012.5 424 1014 439.1 1014.3 454.2 1013.4 475.2 1010.7 552.5 997.1 588.4 992.1 606.4 990.3 624.5 989.1 642.6 988.5 663.8 988.4 703 989.8 742.2 992.9 775.1 997 855.8 1008.8 879.8 1011.4 900.9 1012.9 928.1 1013.5 958.3 1012.6 988.4 1010.3 1024.4 1006.2" stroke="#2d708e"/><path d="M196 987.5 220.1 985.3 244.2 984.3 268.4 984.4 292.5 985.6 316.6 987.7 340.6 990.6 418.1 1002.6 433.2 1004 445.2 1004.6 463.4 1004 481.3 1001.9 499.1 998.5 543.4 988.6 558.2 985.9 576.2 983.3 609.2 980.1 645.4 978.6 669.6 978.6 693.8 979.2 717.9 980.4 739 982 778 986.3 861.7 998 882.8 1000.1 900.8 1001.3 925 1001.6 949.1 1000.8 976.3 999 1024.4 995" stroke="#26828e"/><path d="M196 975.5 220.1 973.8 244.2 973.2 268.4 973.6 292.5 974.8 316.6 976.9 340.5 979.7 421.2 991.4 436.2 992.8 451.3 993.3 469.4 992.6 484.3 990.6 502.1 987 543.3 977.3 570.1 972.7 585.1 970.9 603.1 969.2 621.2 968.1 642.3 967.4 663.5 967.2 684.6 967.6 705.7 968.5 729.8 970.2 768.8 974.1 855.7 984.9 876.8 986.9 897.8 988.2 922 988.5 946.1 987.9 973.3 986.3 1024.4 982.5" stroke="#1f978b"/><path d="M196 962.5 220.1 961.1 244.3 960.7 268.4 961.2 292.5 962.5 313.6 964.4 337.5 967.2 418.2 979.4 433.2 980.8 448.3 981.5 466.4 980.8 484.3 978.5 502 974.7 540.2 965.5 555 962.5 570 960.2 584.9 958.4 603 956.7 639.2 955 663.3 954.8 687.5 955.2 711.6 956.1 735.7 957.6 771.8 961 858.7 971.3 879.8 973.2 900.8 974.3 925 974.6 952.1 973.8 982.3 972 1024.4 968.8" stroke="#28ae80"/><path d="M196 947.5 223.1 946.4 247.3 946.2 271.4 946.8 295.5 948.2 316.6 950.2 340.5 953.1 418.1 965.1 433.1 966.6 448.2 967.2 466.3 966.6 484.2 964.2 501.9 960.5 543.1 950.6 557.9 947.6 572.9 945.2 587.8 943.3 605.9 941.6 639 939.9 657.1 939.6 678.3 940 720.5 942.1 759.6 945.4 846.6 954.6 870.7 956.6 894.8 957.8 921.9 958.2 949.1 957.6 979.3 956.1 1024.4 953" stroke="#56c667"/><path d="M196 928.8 217.1 927.2 238.2 926.8 262.3 927.4 286.4 928.8 322.5 932 355.5 935.6 424.1 946.1 439.1 947.4 451.2 947.9 466.3 947.3 484.2 945 501.9 941.4 543.1 931.3 557.9 928.4 572.8 925.9 602.8 922.5 632.9 920.9 666.1 920.8 702.3 922.4 735.4 925 843.6 934.5 870.7 936.4 891.8 937.3 918.9 937.6 946.1 937 976.2 935.5 1024.4 932.5" stroke="#a2da37"/><path d="M195.6 1060.6 206.6 1055.7 218 1051.5 229.5 1048 241.3 1045.3 253.3 1043.5 265.3 1042.5 277.4 1042.2 292.5 1042.8 307.5 1044.4 328.4 1047.8 343.2 1050.9 351.8 1053.7 360 1057.6 365.1 1060.8 369.9 1064.4 374.1 1068.8 375.8 1071.4 376.8 1074.3 376.7 1077.2 375.4 1080 373.6 1082.6 369.5 1087.2 362.5 1092.9 334.9 1111.3 324.6 1117.7 313.8 1123.2 308.1 1125.3 302.3 1126.9 293.4 1128.3 284.3 1128.8 269.1 1128.4 254.1 1127.1 242.2 1125.2 227.5 1121.9 195.6 1112.5M1024.4 1068.2 1011.4 1078.1 1006.7 1082.7 1003.2 1088.2 1002.2 1091.3 1001.9 1094.6 1002.5 1097.8 1003.7 1100.9 1005.4 1103.7 1007.6 1106.2 1010 1108.3 1015.6 1112 1024.4 1116.1M688.8 1063.8 689.9 1061.1 691.8 1058.8 694.2 1056.6 699.4 1053.3 707.6 1050 721.9 1045.8 733.7 1043.6 745.6 1042.6 760.6 1042.5 772.5 1043.4 781.4 1045 792.9 1048.4 803.8 1053 814.1 1058.8 819 1062.3 823.7 1066.3 830.2 1073.4 833.1 1078.7 833.7 1081.5 833.6 1084.3 832.9 1087.1 831.6 1089.9 827.7 1094.9 822.9 1099.1 815 1103.3 806.4 1106 785.8 1110.4 776.9 1111.2 768 1110.7 759.2 1108.9 747.7 1105.1 736.7 1100.3 707.2 1086.5 699.6 1081.6 694.9 1077.4 690.8 1072.1 689.3 1069.3 688.6 1066.5Z" stroke="#482071"/><path d="M197.5 1081.2 198.1 1078.6 199.4 1076.1 203.6 1071.5 216.5 1062.1 226.7 1056.6 235 1053.6 246.7 1050.9 258.7 1049.3 273.5 1048.3 294.5 1048.2 309.3 1049.5 318.1 1051.4 340.9 1058.2 349.1 1061.8 354 1065.3 358 1070.1 359.4 1072.8 360 1075.7 359.7 1078.6 358.6 1081.3 356.9 1084 352.7 1088.5 333.7 1102.9 326.2 1107.8 318.2 1111.8 309.7 1114.7 301 1116.7 289.1 1118 274.1 1117.9 259.2 1116.4 244.6 1113.3 230.4 1108.7 216.7 1102.9 209 1098.4 204.4 1094.5 202.2 1092.2 198.8 1086.8 197.8 1084ZM720 1065 721.1 1062.8 723.1 1060.9 725.8 1059.1 732.2 1056.4 738.3 1054.4 744 1053.2 749.7 1052.5 755.6 1052.4 764.6 1053.1 770.6 1054.1 779.2 1056.1 787.4 1059 792.8 1061.6 798.1 1064.9 803.5 1069 807.6 1073.8 808.6 1076.3 808.6 1078.9 807.6 1081.5 805.7 1083.9 800.6 1088.3 795 1091.5 789.3 1093.5 783.5 1094.6 777.6 1095 768.5 1094.7 759.6 1093.4 753.7 1092.1 745.5 1089.4 740.3 1086.9 732.8 1082 727.8 1077.8 723 1072.7 721.2 1070 720.1 1067.4Z" stroke="#48186a"/><path d="M216.9 1080 217.5 1077.2 219 1074.6 221 1072.2 226 1068 233.9 1063.4 242.2 1060.1 253.7 1056.9 262.6 1055.3 274.6 1054.3 286.7 1054.3 301.7 1055.3 313.6 1057.2 325.2 1060.2 333.6 1063.4 338.8 1066.5 343.4 1070.9 345.1 1073.5 346.1 1076.3 346.1 1079.1 345.2 1081.9 341.6 1087.1 334.9 1093.5 325 1100.1 317 1104.2 308.4 1107 299.5 1108.6 290.4 1109.4 278.4 1109.4 266.4 1108.3 254.7 1105.9 240.3 1101.4 231.9 1097.9 226.7 1094.9 224.3 1093 220 1088.4 218.3 1085.7 217.2 1082.9ZM752.5 1070 760 1065 771.2 1066.2 778 1072.5 772.5 1077.5 761.2 1077.5Z" stroke="#471164"/><path d="M232.5 1079.4 233.1 1076.7 234.6 1074.1 236.8 1071.7 241.9 1067.7 250 1063.7 258.4 1061.1 267.2 1059.2 276.2 1058.1 285.2 1057.7 294.2 1058 303.2 1059.1 312 1061 323.3 1064.8 328.7 1067.6 331 1069.6 333.1 1072.1 334.5 1074.8 335 1077.7 334.5 1080.5 333.1 1083.2 331.1 1085.7 324.6 1092.2 319.7 1095.3 314.2 1097.5 305.2 1099.5 293.1 1101.3 284.2 1102 275.3 1101.8 266.4 1100.5 257.6 1098.5 249 1095.7 243.6 1093.2 238.6 1089.7 234.3 1084.9 233 1082.2Z" stroke="#470d60"/><path d="M245.6 1078.8 246.4 1076.1 248.2 1073.6 253.3 1069.5 258.8 1066.6 264.4 1064.7 270.2 1063.4 279.2 1062.2 285.2 1061.8 291.2 1061.9 300.1 1062.8 309.2 1064.6 315.3 1066.4 320.7 1069.2 322.8 1071.3 324.4 1073.8 325.4 1076.7 325.4 1079.7 324.6 1082.6 323 1085.3 321 1087.6 316.2 1091.3 310.6 1093.8 304.8 1095.6 298.9 1096.8 292.9 1097.4 283.8 1097.4 274.8 1096.5 265.9 1094.7 260.2 1093 254.7 1090.6 252.2 1088.9 247.6 1084.3 246.1 1081.5Z" stroke="#46085c"/><path d="M256.7 1077.3 264.3 1069.8 278.2 1066.3 295.6 1066.6 310.1 1071.8 315.9 1079.4 311.9 1087.5 298.5 1092.1 281.1 1093.3 266.6 1089.8 257.9 1082.9Z" stroke="#450559"/><path d="M265.2 1075.6 276.5 1070.4 291 1069.5 304.3 1074.2 307.8 1080.5 301.4 1086.3 287.5 1089.2 274.2 1087.5 266 1082.3Z" stroke="#450457"/><path d="M273.6 1074.7 287.5 1072.4 300.3 1075.9 299.7 1080.5 292.1 1085.2 281.1 1085.2 273.6 1081.1Z" stroke="#440256"/><path d="M277.3 1080.5 289.2 1075.3 295 1077.3 292.1 1082.6 278.2 1081.7Z" fill="#440154" stroke="#440154"/></g>
<path d="M195.6 1148.7 L305 1148.7 L322.5 1142.8 L330.5 1138.7 L338.5 1133.8 L346.5 1128.5 L354.5 1122.8 L362.5 1116.8 L370.5 1110.8 L378.5 1104.7 L386.5 1098.5 L394.5 1091.8 L402.5 1085 L410.5 1079.1 L418.5 1074 L426.5 1068 L434.5 1063.1 L442.5 1058.8 L450.5 1055.3 L458.5 1052.3 L466.5 1049.8 L474.5 1047.4 L482.5 1045.4 L490.5 1044.1 L498.5 1043.5 L506.5 1043.3 L514.5 1043.7 L522.5 1044.3 L530.5 1045.5 L538.5 1047.1 L546.5 1049.1 L554.5 1051 L562.5 1053.5 L570.5 1056.4 L578.5 1059.6 L586.5 1063.1 L594.5 1066.7 L602.5 1070.6 L610.5 1074.4 L618.5 1078.3 L626.5 1082.1 L634.5 1085.8 L642.5 1089.6 L650.5 1093.5 L658.5 1097.6 L666.5 1101.7 L674.5 1105.8 L682.5 1109.6 L690.5 1113.1 L698.5 1116.2 L706.5 1119.7 L714.5 1122.9 L722.5 1125.9 L730.5 1128.7 L738.5 1131.3 L746.5 1133.8 L754.5 1136 L762.5 1137.8 L770.5 1139.5 L778.5 1141.2 L786.5 1142.6 L794.5 1143.8 L802.5 1144.9 L810.5 1145.8 L818.5 1146.5 L826.5 1147.1 L834.5 1147.6 L842.5 1148 L850.5 1148.3 L858.5 1148.5 L866.5 1148.7 L874.5 1148.7 L882.5 1148.7 L890.5 1148.7 L898.5 1148.7 L1024.6 1148.7" stroke="#000" stroke-width="4.6" fill="none" stroke-linecap="square" stroke-linejoin="round"/>
<path d="M99 0.4H1120.7M99 290.9H1120.7M99 581.4H1120.7M99 871.9H1120.7M99 1162.4H1120.7M100.9 0.4V1162.4M1118.8 0.4V1162.4M84.4 277.6H100.9M84.4 145.5H100.9M84.4 13.4H100.9M84.4 568H100.9M84.4 436H100.9M84.4 303.9H100.9M84.4 858.5H100.9M84.4 726.5H100.9M84.4 594.5H100.9M84.4 1149H100.9M84.4 1017H100.9M84.4 885H100.9M195.6 1162.4V1178.9M610.1 1162.4V1178.9M1024.6 1162.4V1178.9" stroke="#000" stroke-width="3.75" fill="none"/>
<text x="70.5" y="49.4" font-size="47.2" text-anchor="end">1</text>
<text x="70.5" y="164.6" font-size="47.2" text-anchor="end">0</text>
<text x="70.5" y="269.6" font-size="47.2" text-anchor="end">−1</text>
<text x="70.5" y="339.9" font-size="47.2" text-anchor="end">1</text>
<text x="70.5" y="455.1" font-size="47.2" text-anchor="end">0</text>
<text x="70.5" y="560.1" font-size="47.2" text-anchor="end">−1</text>
<text x="70.5" y="630.4" font-size="47.2" text-anchor="end">1</text>
<text x="70.5" y="745.6" font-size="47.2" text-anchor="end">0</text>
<text x="70.5" y="850.6" font-size="47.2" text-anchor="end">−1</text>
<text x="70.5" y="920.9" font-size="47.2" text-anchor="end">1</text>
<text x="70.5" y="1036.1" font-size="47.2" text-anchor="end">0</text>
<text x="70.5" y="1141.1" font-size="47.2" text-anchor="end">−1</text>
<text x="197" y="1227.6" font-size="47.2" text-anchor="middle">−<tspan font-style="italic">π</tspan></text>
<text x="610.1" y="1231" font-size="47.2" text-anchor="middle">0</text>
<text x="1023" y="1227.6" font-size="47.2" text-anchor="middle" font-style="italic">π</text>
<text y="254.3" font-size="36.6" xml:space="preserve"><tspan x="416.8" font-style="italic">t</tspan><tspan> </tspan><tspan x="446.6">=</tspan><tspan> </tspan><tspan x="490">100</tspan></text>
<text y="544.8" font-size="36.6" xml:space="preserve"><tspan x="416.8" font-style="italic">t</tspan><tspan> </tspan><tspan x="446.6">=</tspan><tspan> </tspan><tspan x="490">600</tspan></text>
<text y="835.3" font-size="36.6" xml:space="preserve"><tspan x="416.8" font-style="italic">t</tspan><tspan> </tspan><tspan x="446.6">=</tspan><tspan> </tspan><tspan x="490">720</tspan></text>
<text y="1125.8" font-size="36.6" xml:space="preserve"><tspan x="393.6" font-style="italic">t</tspan><tspan> </tspan><tspan x="423.4">=</tspan><tspan> </tspan><tspan x="466.8">1200</tspan></text>
</svg></body></html>
